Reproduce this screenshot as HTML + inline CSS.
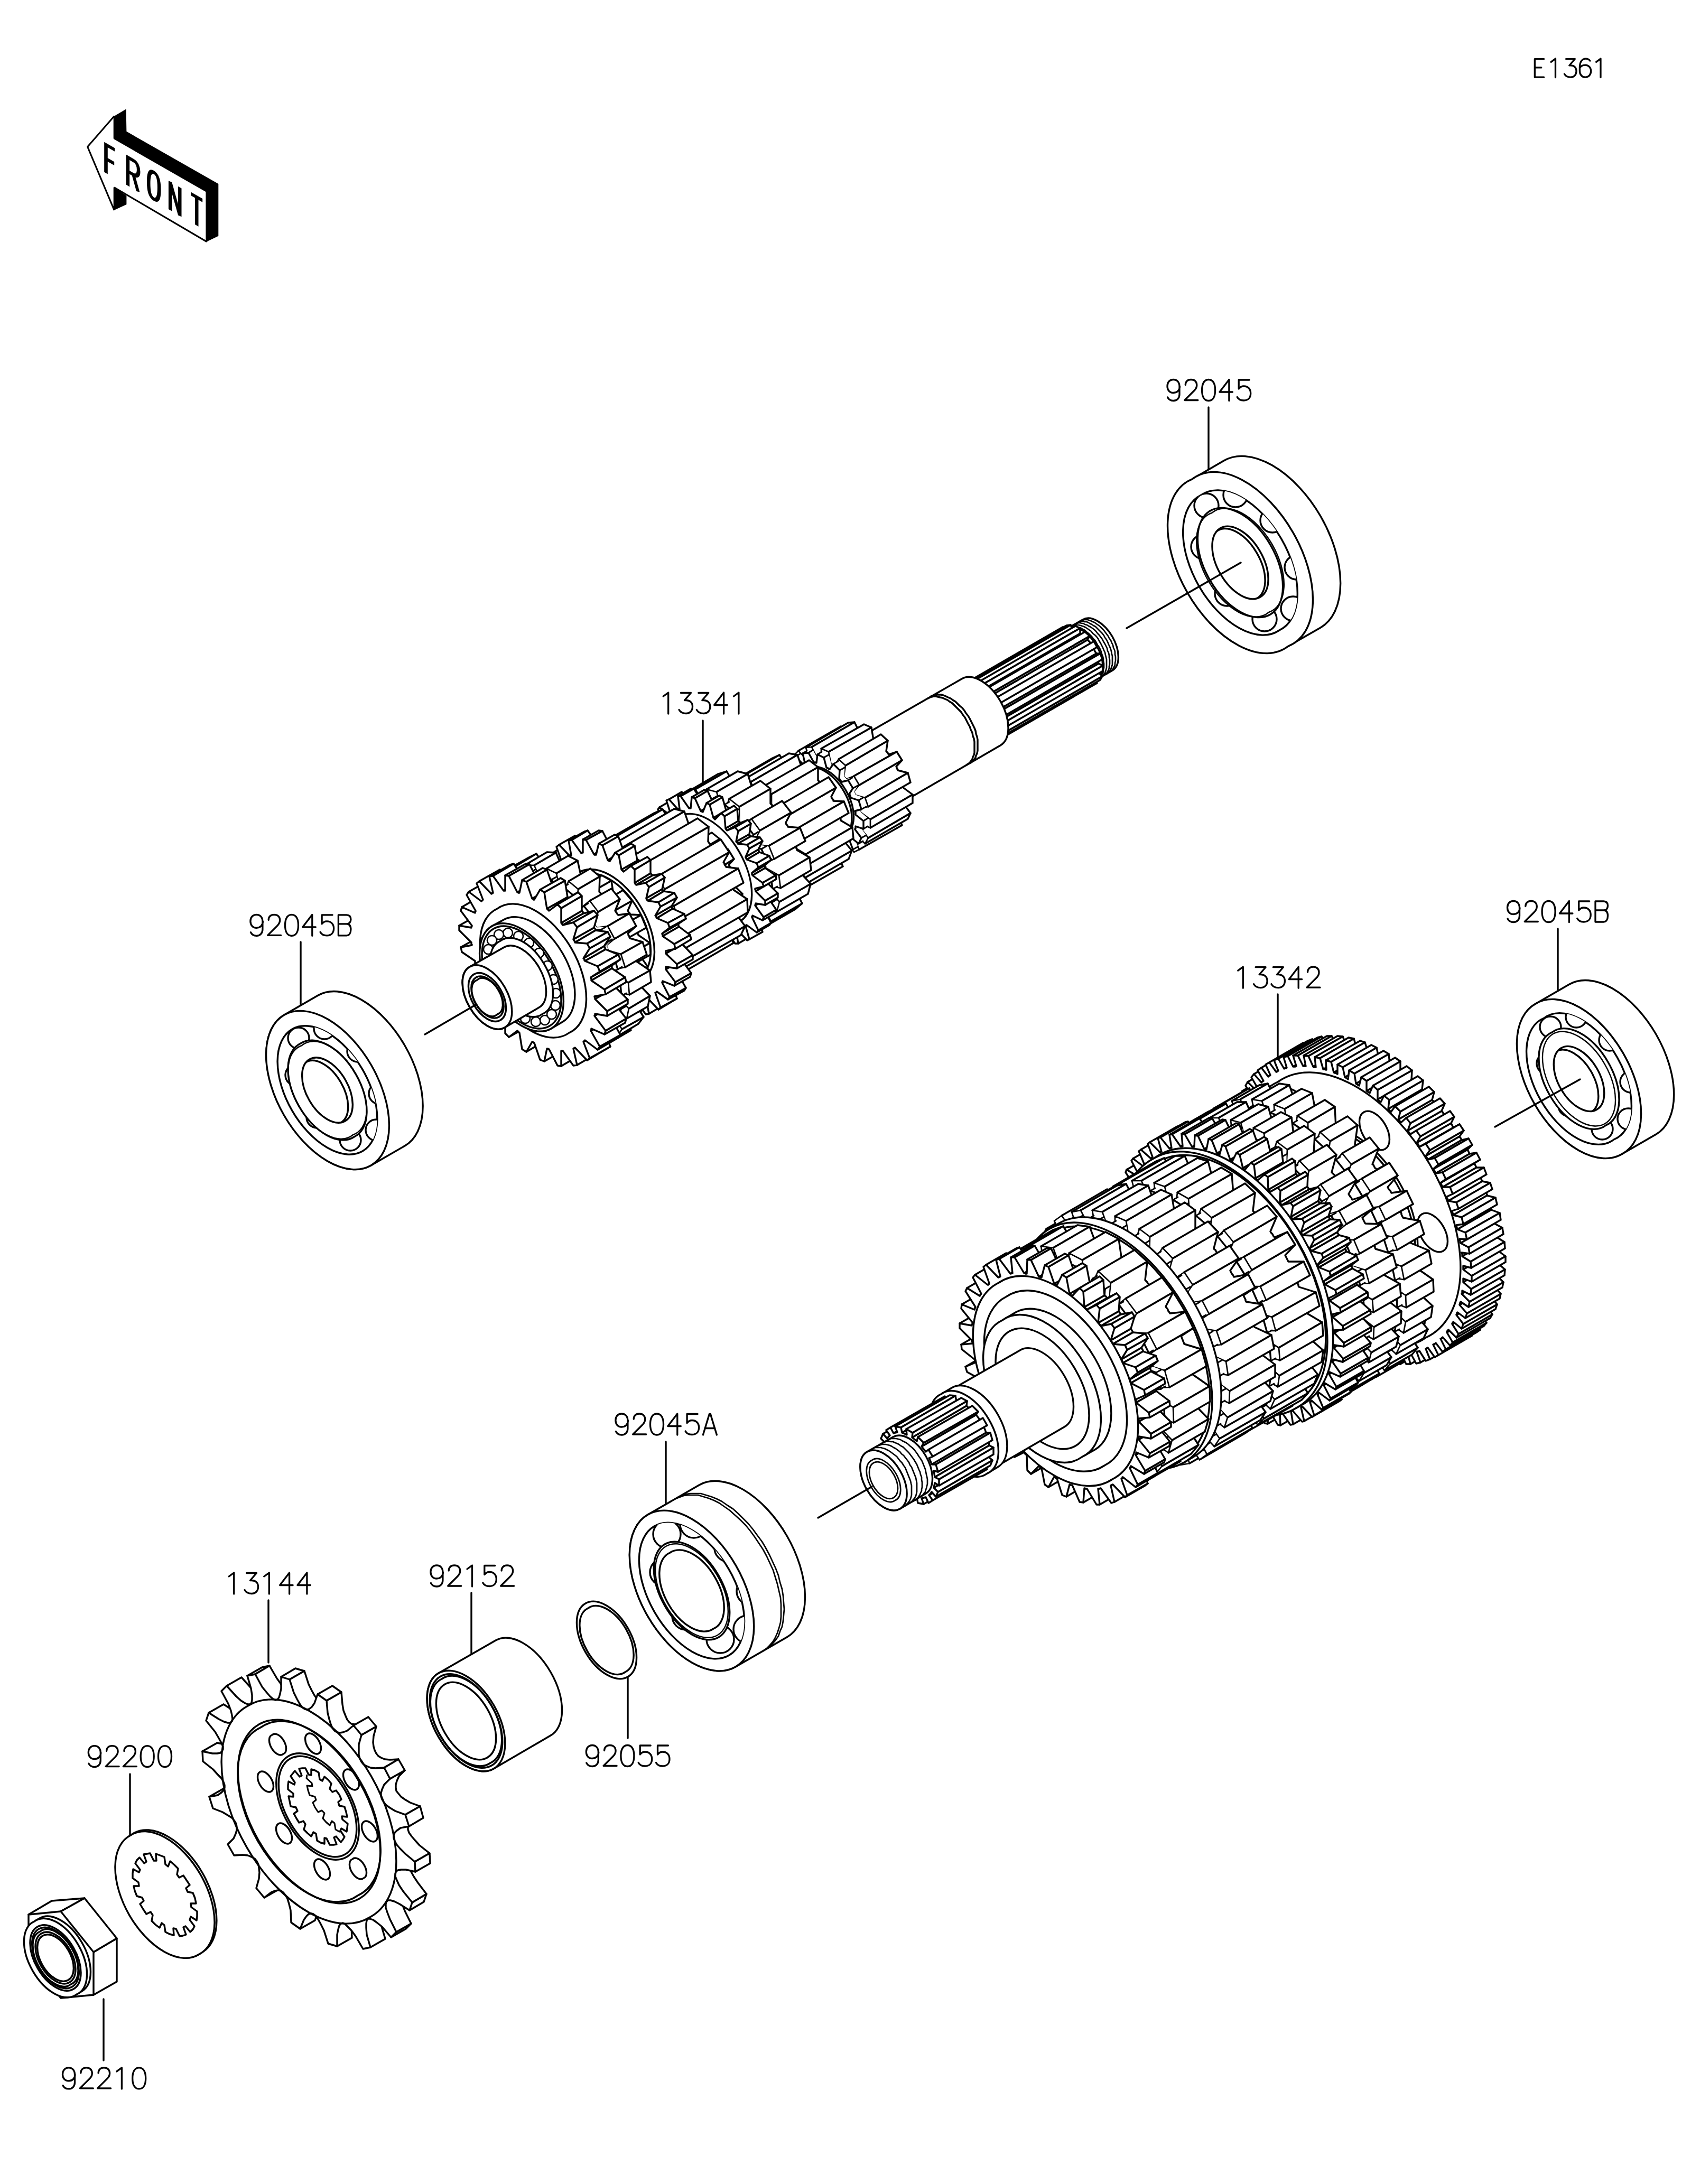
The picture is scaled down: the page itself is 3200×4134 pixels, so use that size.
<!DOCTYPE html>
<html><head><meta charset="utf-8"><title>Transmission</title>
<style>html,body{margin:0;padding:0;background:#fff;overflow:hidden}svg{display:block}svg *{fill:none;stroke:#000;stroke-width:3.4;stroke-linejoin:round;stroke-linecap:round}svg .w{fill:#fff}svg .f{fill:#fff;stroke:#fff;stroke-width:1}svg .k{fill:#000;stroke:none}</style>
</head><body><svg xmlns="http://www.w3.org/2000/svg" width="3200" height="4134" viewBox="0 0 3200 4134"><path transform="translate(2207.5,718.5)" style="stroke-width:3.30" d="M25,13 C25,20 20,25 13,25 C6,25 1.5,20 1.5,12.5 C1.5,5 6,0 13,0 C20,0 24.5,5 24.5,13 L24.5,28 C24.5,35 20,40 13,40 C8,40 4,37.5 2,33.5"/><path transform="translate(2240.8,718.5)" style="stroke-width:3.30" d="M2.5,10 C2.5,4 6.5,0 13,0 C20,0 24,4 24,10.5 C24,15 22,18 19,21 L1,39 L26,39"/><path transform="translate(2274.1,718.5)" style="stroke-width:3.30" d="M13,0 C4,0 0.5,9 0.5,20 C0.5,31 4,40 13,40 C22,40 25.5,31 25.5,20 C25.5,9 22,0 13,0 Z"/><path transform="translate(2307.4,718.5)" style="stroke-width:3.30" d="M18.5,40 L18.5,0 L0.5,23.5 L25,23.5"/><path transform="translate(2340.7,718.5)" style="stroke-width:3.30" d="M23.5,0.5 L3.5,0.5 L3.5,17.5 C6,14 9,12.5 13,12.5 C21,12.5 26,18 26,26 C26,34.5 21,39.5 13,39.5 C7,39.5 2.5,37 0.5,33"/>
<path transform="translate(1251.2,1311.0)" style="stroke-width:3.30" d="M4,7 L13.5,0 L13.5,40"/><path transform="translate(1284.5,1311.0)" style="stroke-width:3.30" d="M4,0.5 L23,0.5 L11,14.5 L14,14.5 C21,14.5 26,19 26,26.5 C26,34.5 21,39.5 13.5,39.5 C8,39.5 3,37 0.5,32.5"/><path transform="translate(1317.8,1311.0)" style="stroke-width:3.30" d="M4,0.5 L23,0.5 L11,14.5 L14,14.5 C21,14.5 26,19 26,26.5 C26,34.5 21,39.5 13.5,39.5 C8,39.5 3,37 0.5,32.5"/><path transform="translate(1351.1,1311.0)" style="stroke-width:3.30" d="M18.5,40 L18.5,0 L0.5,23.5 L25,23.5"/><path transform="translate(1384.4,1311.0)" style="stroke-width:3.30" d="M4,7 L13.5,0 L13.5,40"/>
<path transform="translate(472.4,1731.3)" style="stroke-width:3.30" d="M25,13 C25,20 20,25 13,25 C6,25 1.5,20 1.5,12.5 C1.5,5 6,0 13,0 C20,0 24.5,5 24.5,13 L24.5,28 C24.5,35 20,40 13,40 C8,40 4,37.5 2,33.5"/><path transform="translate(505.7,1731.3)" style="stroke-width:3.30" d="M2.5,10 C2.5,4 6.5,0 13,0 C20,0 24,4 24,10.5 C24,15 22,18 19,21 L1,39 L26,39"/><path transform="translate(539.0,1731.3)" style="stroke-width:3.30" d="M13,0 C4,0 0.5,9 0.5,20 C0.5,31 4,40 13,40 C22,40 25.5,31 25.5,20 C25.5,9 22,0 13,0 Z"/><path transform="translate(572.3,1731.3)" style="stroke-width:3.30" d="M18.5,40 L18.5,0 L0.5,23.5 L25,23.5"/><path transform="translate(605.6,1731.3)" style="stroke-width:3.30" d="M23.5,0.5 L3.5,0.5 L3.5,17.5 C6,14 9,12.5 13,12.5 C21,12.5 26,18 26,26 C26,34.5 21,39.5 13,39.5 C7,39.5 2.5,37 0.5,33"/><path transform="translate(638.9,1731.3)" style="stroke-width:3.30" d="M1.5,0.5 L17,0.5 C22,0.5 25,3.5 25,9 C25,14.5 22,17.5 17,17.5 L1.5,17.5 M17,17.5 C22,17.5 25,21 25,28 C25,35 22,39.5 17,39.5 L1.5,39.5 L1.5,0.5"/>
<path transform="translate(2851.0,1705.5)" style="stroke-width:3.30" d="M25,13 C25,20 20,25 13,25 C6,25 1.5,20 1.5,12.5 C1.5,5 6,0 13,0 C20,0 24.5,5 24.5,13 L24.5,28 C24.5,35 20,40 13,40 C8,40 4,37.5 2,33.5"/><path transform="translate(2884.3,1705.5)" style="stroke-width:3.30" d="M2.5,10 C2.5,4 6.5,0 13,0 C20,0 24,4 24,10.5 C24,15 22,18 19,21 L1,39 L26,39"/><path transform="translate(2917.6,1705.5)" style="stroke-width:3.30" d="M13,0 C4,0 0.5,9 0.5,20 C0.5,31 4,40 13,40 C22,40 25.5,31 25.5,20 C25.5,9 22,0 13,0 Z"/><path transform="translate(2950.9,1705.5)" style="stroke-width:3.30" d="M18.5,40 L18.5,0 L0.5,23.5 L25,23.5"/><path transform="translate(2984.2,1705.5)" style="stroke-width:3.30" d="M23.5,0.5 L3.5,0.5 L3.5,17.5 C6,14 9,12.5 13,12.5 C21,12.5 26,18 26,26 C26,34.5 21,39.5 13,39.5 C7,39.5 2.5,37 0.5,33"/><path transform="translate(3017.5,1705.5)" style="stroke-width:3.30" d="M1.5,0.5 L17,0.5 C22,0.5 25,3.5 25,9 C25,14.5 22,17.5 17,17.5 L1.5,17.5 M17,17.5 C22,17.5 25,21 25,28 C25,35 22,39.5 17,39.5 L1.5,39.5 L1.5,0.5"/>
<path transform="translate(2338.8,1830.2)" style="stroke-width:3.30" d="M4,7 L13.5,0 L13.5,40"/><path transform="translate(2372.1,1830.2)" style="stroke-width:3.30" d="M4,0.5 L23,0.5 L11,14.5 L14,14.5 C21,14.5 26,19 26,26.5 C26,34.5 21,39.5 13.5,39.5 C8,39.5 3,37 0.5,32.5"/><path transform="translate(2405.4,1830.2)" style="stroke-width:3.30" d="M4,0.5 L23,0.5 L11,14.5 L14,14.5 C21,14.5 26,19 26,26.5 C26,34.5 21,39.5 13.5,39.5 C8,39.5 3,37 0.5,32.5"/><path transform="translate(2438.7,1830.2)" style="stroke-width:3.30" d="M18.5,40 L18.5,0 L0.5,23.5 L25,23.5"/><path transform="translate(2472.0,1830.2)" style="stroke-width:3.30" d="M2.5,10 C2.5,4 6.5,0 13,0 C20,0 24,4 24,10.5 C24,15 22,18 19,21 L1,39 L26,39"/>
<path transform="translate(1163.4,2676.0)" style="stroke-width:3.30" d="M25,13 C25,20 20,25 13,25 C6,25 1.5,20 1.5,12.5 C1.5,5 6,0 13,0 C20,0 24.5,5 24.5,13 L24.5,28 C24.5,35 20,40 13,40 C8,40 4,37.5 2,33.5"/><path transform="translate(1196.7,2676.0)" style="stroke-width:3.30" d="M2.5,10 C2.5,4 6.5,0 13,0 C20,0 24,4 24,10.5 C24,15 22,18 19,21 L1,39 L26,39"/><path transform="translate(1230.0,2676.0)" style="stroke-width:3.30" d="M13,0 C4,0 0.5,9 0.5,20 C0.5,31 4,40 13,40 C22,40 25.5,31 25.5,20 C25.5,9 22,0 13,0 Z"/><path transform="translate(1263.3,2676.0)" style="stroke-width:3.30" d="M18.5,40 L18.5,0 L0.5,23.5 L25,23.5"/><path transform="translate(1296.6,2676.0)" style="stroke-width:3.30" d="M23.5,0.5 L3.5,0.5 L3.5,17.5 C6,14 9,12.5 13,12.5 C21,12.5 26,18 26,26 C26,34.5 21,39.5 13,39.5 C7,39.5 2.5,37 0.5,33"/><path transform="translate(1329.9,2676.0)" style="stroke-width:3.30" d="M0.5,40 L12.5,0.5 L14.5,0.5 L26.5,40 M4,27.5 L23,27.5"/>
<path transform="translate(813.4,2963.0)" style="stroke-width:3.30" d="M25,13 C25,20 20,25 13,25 C6,25 1.5,20 1.5,12.5 C1.5,5 6,0 13,0 C20,0 24.5,5 24.5,13 L24.5,28 C24.5,35 20,40 13,40 C8,40 4,37.5 2,33.5"/><path transform="translate(846.7,2963.0)" style="stroke-width:3.30" d="M2.5,10 C2.5,4 6.5,0 13,0 C20,0 24,4 24,10.5 C24,15 22,18 19,21 L1,39 L26,39"/><path transform="translate(880.0,2963.0)" style="stroke-width:3.30" d="M4,7 L13.5,0 L13.5,40"/><path transform="translate(913.3,2963.0)" style="stroke-width:3.30" d="M23.5,0.5 L3.5,0.5 L3.5,17.5 C6,14 9,12.5 13,12.5 C21,12.5 26,18 26,26 C26,34.5 21,39.5 13,39.5 C7,39.5 2.5,37 0.5,33"/><path transform="translate(946.6,2963.0)" style="stroke-width:3.30" d="M2.5,10 C2.5,4 6.5,0 13,0 C20,0 24,4 24,10.5 C24,15 22,18 19,21 L1,39 L26,39"/>
<path transform="translate(1107.8,3303.5)" style="stroke-width:3.30" d="M25,13 C25,20 20,25 13,25 C6,25 1.5,20 1.5,12.5 C1.5,5 6,0 13,0 C20,0 24.5,5 24.5,13 L24.5,28 C24.5,35 20,40 13,40 C8,40 4,37.5 2,33.5"/><path transform="translate(1141.1,3303.5)" style="stroke-width:3.30" d="M2.5,10 C2.5,4 6.5,0 13,0 C20,0 24,4 24,10.5 C24,15 22,18 19,21 L1,39 L26,39"/><path transform="translate(1174.4,3303.5)" style="stroke-width:3.30" d="M13,0 C4,0 0.5,9 0.5,20 C0.5,31 4,40 13,40 C22,40 25.5,31 25.5,20 C25.5,9 22,0 13,0 Z"/><path transform="translate(1207.7,3303.5)" style="stroke-width:3.30" d="M23.5,0.5 L3.5,0.5 L3.5,17.5 C6,14 9,12.5 13,12.5 C21,12.5 26,18 26,26 C26,34.5 21,39.5 13,39.5 C7,39.5 2.5,37 0.5,33"/><path transform="translate(1241.0,3303.5)" style="stroke-width:3.30" d="M23.5,0.5 L3.5,0.5 L3.5,17.5 C6,14 9,12.5 13,12.5 C21,12.5 26,18 26,26 C26,34.5 21,39.5 13,39.5 C7,39.5 2.5,37 0.5,33"/>
<path transform="translate(429.2,2977.0)" style="stroke-width:3.30" d="M4,7 L13.5,0 L13.5,40"/><path transform="translate(462.5,2977.0)" style="stroke-width:3.30" d="M4,0.5 L23,0.5 L11,14.5 L14,14.5 C21,14.5 26,19 26,26.5 C26,34.5 21,39.5 13.5,39.5 C8,39.5 3,37 0.5,32.5"/><path transform="translate(495.8,2977.0)" style="stroke-width:3.30" d="M4,7 L13.5,0 L13.5,40"/><path transform="translate(529.1,2977.0)" style="stroke-width:3.30" d="M18.5,40 L18.5,0 L0.5,23.5 L25,23.5"/><path transform="translate(562.4,2977.0)" style="stroke-width:3.30" d="M18.5,40 L18.5,0 L0.5,23.5 L25,23.5"/>
<path transform="translate(165.8,3304.6)" style="stroke-width:3.30" d="M25,13 C25,20 20,25 13,25 C6,25 1.5,20 1.5,12.5 C1.5,5 6,0 13,0 C20,0 24.5,5 24.5,13 L24.5,28 C24.5,35 20,40 13,40 C8,40 4,37.5 2,33.5"/><path transform="translate(199.1,3304.6)" style="stroke-width:3.30" d="M2.5,10 C2.5,4 6.5,0 13,0 C20,0 24,4 24,10.5 C24,15 22,18 19,21 L1,39 L26,39"/><path transform="translate(232.4,3304.6)" style="stroke-width:3.30" d="M2.5,10 C2.5,4 6.5,0 13,0 C20,0 24,4 24,10.5 C24,15 22,18 19,21 L1,39 L26,39"/><path transform="translate(265.7,3304.6)" style="stroke-width:3.30" d="M13,0 C4,0 0.5,9 0.5,20 C0.5,31 4,40 13,40 C22,40 25.5,31 25.5,20 C25.5,9 22,0 13,0 Z"/><path transform="translate(299.0,3304.6)" style="stroke-width:3.30" d="M13,0 C4,0 0.5,9 0.5,20 C0.5,31 4,40 13,40 C22,40 25.5,31 25.5,20 C25.5,9 22,0 13,0 Z"/>
<path transform="translate(117.0,3913.9)" style="stroke-width:3.30" d="M25,13 C25,20 20,25 13,25 C6,25 1.5,20 1.5,12.5 C1.5,5 6,0 13,0 C20,0 24.5,5 24.5,13 L24.5,28 C24.5,35 20,40 13,40 C8,40 4,37.5 2,33.5"/><path transform="translate(150.3,3913.9)" style="stroke-width:3.30" d="M2.5,10 C2.5,4 6.5,0 13,0 C20,0 24,4 24,10.5 C24,15 22,18 19,21 L1,39 L26,39"/><path transform="translate(183.6,3913.9)" style="stroke-width:3.30" d="M2.5,10 C2.5,4 6.5,0 13,0 C20,0 24,4 24,10.5 C24,15 22,18 19,21 L1,39 L26,39"/><path transform="translate(216.9,3913.9)" style="stroke-width:3.30" d="M4,7 L13.5,0 L13.5,40"/><path transform="translate(250.2,3913.9)" style="stroke-width:3.30" d="M13,0 C4,0 0.5,9 0.5,20 C0.5,31 4,40 13,40 C22,40 25.5,31 25.5,20 C25.5,9 22,0 13,0 Z"/>
<path transform="translate(2903.0,111.1) scale(0.8875)" style="stroke-width:3.72" d="M21,0.5 L1.5,0.5 L1.5,39.5 L21,39.5 M1.5,19 L15.5,19"/><path transform="translate(2931.5,111.1) scale(0.8875)" style="stroke-width:3.72" d="M4,7 L13.5,0 L13.5,40"/><path transform="translate(2960.0,111.1) scale(0.8875)" style="stroke-width:3.72" d="M4,0.5 L23,0.5 L11,14.5 L14,14.5 C21,14.5 26,19 26,26.5 C26,34.5 21,39.5 13.5,39.5 C8,39.5 3,37 0.5,32.5"/><path transform="translate(2988.5,111.1) scale(0.8875)" style="stroke-width:3.72" d="M23,4.5 C21,1.5 18,0 14,0 C6,0 1,7 1,19 L1,26 C1,34 6,39.5 13,39.5 C20,39.5 25,34 25,26.5 C25,19 20,13.5 13,13.5 C8,13.5 3,16 1,20"/><path transform="translate(3017.0,111.1) scale(0.8875)" style="stroke-width:3.72" d="M4,7 L13.5,0 L13.5,40"/>
<path d="M2287,771L2287,888"/>
<path d="M1330,1364L1330,1480"/>
<path d="M569,1783L569,1901"/>
<path d="M2948,1758L2948,1873"/>
<path d="M2418,1882L2418,1999"/>
<path d="M1260,2729L1260,2846"/>
<path d="M892,3015L892,3132"/>
<path d="M1188,3174L1188,3290"/>
<path d="M508,3029L508,3147"/>
<path d="M246,3358L246,3474"/>
<path d="M196,3784L196,3900"/>
<polygon class="k" points="216.2,219.8 238.6,206.6 239.4,248.8 413.3,348.1 413.3,446.7 390.9,457.4 390.9,362.2 216.2,262"/>
<polygon class="k" points="216.2,354.8 239.4,370.5 239.4,387 216.2,397.8"/>
<polygon class="w" style="stroke-width:3;stroke-linejoin:bevel" points="165.7,277.8 216.2,219.8 216.2,262 390.9,362.2 390.9,457.4 216.2,354.8 216.2,397.8"/>
<g transform="matrix(1,0.5774,0,1,197.2,268.7)"><path style="stroke-width:6.6;stroke-linejoin:miter;stroke-linecap:butt" d="M3.3,57 L3.3,3.3 L20,3.3 M3.3,30 L19,30"/><path style="stroke-width:6.6;stroke-linejoin:miter;stroke-linecap:butt" d="M44.7,57 L44.7,3.3 L56,3.3 C62,3.3 65,9 65,17 C65,25 62,30 56,30 L44.7,30 M55,30 L64,57"/><path style="stroke-width:6.6;stroke-linejoin:miter;stroke-linecap:butt" d="M94,3.3 C87,3.3 84,12 84,28 C84,46 87,54 94,54 C101,54 104,46 104,28 C104,12 101,3.3 94,3.3 Z"/><path style="stroke-width:6.6;stroke-linejoin:miter;stroke-linecap:butt" d="M125,57 L125,3.3 L143,57 L143,3.3"/><path style="stroke-width:6.6;stroke-linejoin:miter;stroke-linecap:butt" d="M164,3.3 L186,3.3 M175,3.3 L175,57"/></g>
<path class="w" d="M2256,907 A183,106 60 0 0 2256,1118 A183,106 60 0 0 2438,1223 L2499,1188 A183,106 60 0 0 2499,977 A183,106 60 0 0 2316,872 Z"/>
<path class="w" d="M2438,1223A183,106 60 1 0 2256,907A183,106 60 1 0 2438,1223Z"/>
<path class="w" d="M2421,1193A148,86 60 1 0 2273,937A148,86 60 1 0 2421,1193Z"/>
<clipPath id="c1"><path style="clip-rule:evenodd" d="M2421,1193A148,86 60 1 0 2273,937A148,86 60 1 0 2421,1193Z M2404,1163A113,66 60 1 0 2290,967A113,66 60 1 0 2404,1163Z"/></clipPath>
<g clip-path="url(#c1)"><circle class="w" cx="2454" cy="1074" r="23"/><circle class="w" cx="2408" cy="985" r="23"/><circle class="w" cx="2338" cy="937" r="23"/><circle class="w" cx="2283" cy="957" r="23"/><circle class="w" cx="2277" cy="1035" r="23"/><circle class="w" cx="2322" cy="1124" r="23"/><circle class="w" cx="2393" cy="1172" r="23"/><circle class="w" cx="2447" cy="1152" r="23"/></g>
<path class="w" d="M2404,1163A113,66 60 1 0 2290,967A113,66 60 1 0 2404,1163Z"/>
<path style="stroke-width:2.4" d="M2401,1159A109,63 60 1 0 2293,971A109,63 60 1 0 2401,1159Z"/>
<path class="w" d="M2385,1130A75,43 60 1 0 2309,1000A75,43 60 1 0 2385,1130Z"/>
<clipPath id="c2"><path d="M2385,1130A75,43 60 1 0 2309,1000A75,43 60 1 0 2385,1130Z"/></clipPath>
<g clip-path="url(#c2)"><path d="M2375,1134A74,42 60 1 0 2301,1007A74,42 60 1 0 2375,1134Z"/></g>
<path class="w" d="M538,1921 A164,95 60 0 0 538,2111 A164,95 60 0 0 702,2206 L766,2169 A164,95 60 0 0 766,1979 A164,95 60 0 0 602,1884 Z"/>
<path class="w" d="M702,2206A164,95 60 1 0 538,1921A164,95 60 1 0 702,2206Z"/>
<path class="w" d="M686,2179A133,77 60 1 0 553,1948A133,77 60 1 0 686,2179Z"/>
<clipPath id="c3"><path style="clip-rule:evenodd" d="M686,2179A133,77 60 1 0 553,1948A133,77 60 1 0 686,2179Z M670,2152A102,59 60 1 0 569,1975A102,59 60 1 0 670,2152Z"/></clipPath>
<g clip-path="url(#c3)"><circle class="w" cx="718" cy="2070" r="20"/><circle class="w" cx="677" cy="1990" r="20"/><circle class="w" cx="614" cy="1947" r="20"/><circle class="w" cx="565" cy="1965" r="20"/><circle class="w" cx="560" cy="2035" r="20"/><circle class="w" cx="600" cy="2115" r="20"/><circle class="w" cx="663" cy="2158" r="20"/><circle class="w" cx="712" cy="2139" r="20"/></g>
<path class="w" d="M670,2152A102,59 60 1 0 569,1975A102,59 60 1 0 670,2152Z"/>
<path style="stroke-width:2.4" d="M668,2148A98,56 60 1 0 571,1979A98,56 60 1 0 668,2148Z"/>
<path class="w" d="M653,2122A67,39 60 1 0 586,2005A67,39 60 1 0 653,2122Z"/>
<clipPath id="c4"><path d="M653,2122A67,39 60 1 0 586,2005A67,39 60 1 0 653,2122Z"/></clipPath>
<g clip-path="url(#c4)"><path d="M643,2126A66,38 60 1 0 577,2012A66,38 60 1 0 643,2126Z"/></g>
<path class="w" d="M2906,1900 A164,95 60 0 0 2906,2089 A164,95 60 0 0 3070,2184 L3134,2147 A164,95 60 0 0 3134,1958 A164,95 60 0 0 2970,1863 Z"/>
<path class="w" d="M3070,2184A164,95 60 1 0 2906,1900A164,95 60 1 0 3070,2184Z"/>
<path class="w" d="M3054,2157A133,77 60 1 0 2922,1927A133,77 60 1 0 3054,2157Z"/>
<clipPath id="c5"><path style="clip-rule:evenodd" d="M3054,2157A133,77 60 1 0 2922,1927A133,77 60 1 0 3054,2157Z M3039,2130A102,59 60 1 0 2937,1954A102,59 60 1 0 3039,2130Z"/></clipPath>
<g clip-path="url(#c5)"><circle class="w" cx="3086" cy="2048" r="20"/><circle class="w" cx="3046" cy="1969" r="20"/><circle class="w" cx="2983" cy="1925" r="20"/><circle class="w" cx="2934" cy="1944" r="20"/><circle class="w" cx="2928" cy="2013" r="20"/><circle class="w" cx="2969" cy="2093" r="20"/><circle class="w" cx="3032" cy="2137" r="20"/><circle class="w" cx="3081" cy="2118" r="20"/></g>
<path class="w" d="M3039,2130A102,59 60 1 0 2937,1954A102,59 60 1 0 3039,2130Z"/>
<path style="stroke-width:2.4" d="M3037,2127A98,56 60 1 0 2939,1957A98,56 60 1 0 3037,2127Z"/>
<path class="w" d="M3022,2100A67,39 60 1 0 2954,1984A67,39 60 1 0 3022,2100Z"/>
<clipPath id="c6"><path d="M3022,2100A67,39 60 1 0 2954,1984A67,39 60 1 0 3022,2100Z"/></clipPath>
<g clip-path="url(#c6)"><path d="M3011,2105A66,38 60 1 0 2945,1990A66,38 60 1 0 3011,2105Z"/></g>
<path class="w" d="M1226,2867 A166,96 60 0 0 1226,3059 A166,96 60 0 0 1392,3155 L1489,3099 A166,96 60 0 0 1489,2907 A166,96 60 0 0 1323,2811 Z"/>
<path class="w" d="M1392,3155A166,96 60 1 0 1226,2867A166,96 60 1 0 1392,3155Z"/>
<polyline style="stroke-width:2.7" points="1444,3125 1451,3120 1457,3114 1463,3107 1467,3100 1471,3091 1474,3082 1477,3071 1478,3060 1478,3049 1478,3037 1477,3024 1474,3011 1471,2998 1467,2985 1463,2972 1457,2959 1451,2946 1444,2933 1436,2921 1428,2909 1420,2898 1411,2887 1401,2877 1391,2868 1381,2859 1371,2852 1361,2845 1351,2840 1341,2836 1331,2833 1321,2830 1311,2830 1302,2830 1294,2831 1286,2834 1278,2837"/>
<polyline style="stroke-width:2.7" points="1449,3122 1456,3117 1462,3111 1468,3104 1473,3097 1476,3088 1480,3079 1482,3068 1483,3057 1484,3046 1483,3034 1482,3021 1480,3008 1476,2995 1473,2982 1468,2969 1462,2956 1456,2943 1449,2930 1442,2918 1433,2906 1425,2895 1416,2884 1406,2874 1397,2865 1387,2856 1376,2849 1366,2842 1356,2837 1346,2833 1336,2830 1326,2827 1317,2827 1307,2827 1299,2828 1291,2831 1283,2834"/>
<path class="w" d="M1380,3133A141,81 60 1 0 1238,2889A141,81 60 1 0 1380,3133Z"/>
<clipPath id="c7"><path style="clip-rule:evenodd" d="M1380,3133A141,81 60 1 0 1238,2889A141,81 60 1 0 1380,3133Z M1360,3099A101,58 60 1 0 1258,2923A101,58 60 1 0 1360,3099Z"/></clipPath>
<g clip-path="url(#c7)"><circle class="w" cx="1420" cy="3012" r="26"/><circle class="w" cx="1378" cy="2930" r="26"/><circle class="w" cx="1313" cy="2885" r="26"/><circle class="w" cx="1262" cy="2904" r="26"/><circle class="w" cx="1256" cy="2976" r="26"/><circle class="w" cx="1298" cy="3059" r="26"/><circle class="w" cx="1363" cy="3103" r="26"/><circle class="w" cx="1414" cy="3084" r="26"/></g>
<path class="w" d="M1360,3099A101,58 60 1 0 1258,2923A101,58 60 1 0 1360,3099Z"/>
<path style="stroke-width:2.4" d="M1358,3095A97,56 60 1 0 1260,2927A97,56 60 1 0 1358,3095Z"/>
<path class="w" d="M1350,3083A83,48 60 1 0 1268,2939A83,48 60 1 0 1350,3083Z"/>
<path class="w" d="M830,3167 A104,60 60 0 0 830,3288 A104,60 60 0 0 934,3348 L1042,3285 A104,60 60 0 0 1042,3165 A104,60 60 0 0 938,3105 Z"/>
<path class="w" d="M934,3348A104,60 60 1 0 830,3167A104,60 60 1 0 934,3348Z"/>
<path d="M930,3342A97,56 60 1 0 834,3173A97,56 60 1 0 930,3342Z"/>
<path d="M928,3337A92,53 60 1 0 836,3178A92,53 60 1 0 928,3337Z"/>
<path d="M922,3327A80,46 60 1 0 842,3188A80,46 60 1 0 922,3327Z"/>
<path d="M1188,3174A80,46 60 1 0 1108,3035A80,46 60 1 0 1188,3174Z"/>
<path d="M1183,3165A70,40 60 1 0 1113,3044A70,40 60 1 0 1183,3165Z"/>
<path class="w" d="M2016,1192 A56,32 60 0 0 2016,1256 A56,32 60 0 0 2072,1288 L2105,1269 A56,32 60 0 0 2105,1205 A56,32 60 0 0 2049,1173 Z"/>
<polyline style="stroke-width:2.7" points="2077,1285 2080,1284 2082,1282 2084,1279 2085,1277 2087,1274 2088,1271 2088,1267 2089,1264 2089,1260 2089,1256 2088,1251 2088,1247 2087,1243 2085,1238 2084,1234 2082,1229 2080,1225 2077,1221 2075,1217 2072,1212 2069,1209 2066,1205 2063,1202 2060,1199 2056,1196 2053,1193 2049,1191 2046,1189 2042,1188 2039,1187 2036,1186 2033,1186 2030,1186 2027,1186 2024,1187 2021,1188"/>
<polyline style="stroke-width:2.7" points="2083,1282 2085,1281 2087,1279 2089,1276 2091,1274 2092,1271 2093,1268 2094,1264 2094,1260 2094,1257 2094,1252 2094,1248 2093,1244 2092,1240 2091,1235 2089,1231 2087,1226 2085,1222 2083,1218 2080,1213 2078,1209 2075,1205 2072,1202 2068,1199 2065,1195 2062,1193 2058,1190 2055,1188 2051,1186 2048,1185 2045,1184 2041,1183 2038,1183 2035,1183 2032,1183 2029,1184 2027,1185"/>
<polyline style="stroke-width:2.7" points="2088,1279 2091,1277 2093,1275 2095,1273 2096,1271 2098,1268 2099,1264 2099,1261 2100,1257 2100,1253 2100,1249 2099,1245 2099,1241 2098,1236 2096,1232 2095,1227 2093,1223 2091,1219 2088,1214 2086,1210 2083,1206 2080,1202 2077,1199 2074,1195 2071,1192 2067,1189 2064,1187 2060,1185 2057,1183 2053,1182 2050,1180 2047,1180 2044,1179 2041,1179 2038,1180 2035,1181 2032,1182"/>
<polyline style="stroke-width:2.7" points="2094,1276 2096,1274 2098,1272 2100,1270 2102,1267 2103,1264 2104,1261 2105,1258 2105,1254 2105,1250 2105,1246 2105,1242 2104,1238 2103,1233 2102,1229 2100,1224 2098,1220 2096,1215 2094,1211 2091,1207 2089,1203 2086,1199 2083,1196 2079,1192 2076,1189 2073,1186 2069,1184 2066,1182 2062,1180 2059,1178 2056,1177 2052,1177 2049,1176 2046,1176 2043,1177 2040,1178 2038,1179"/>
<polyline style="stroke-width:2.7" points="2099,1273 2102,1271 2104,1269 2106,1267 2107,1264 2109,1261 2110,1258 2110,1255 2111,1251 2111,1247 2111,1243 2110,1239 2110,1234 2109,1230 2107,1226 2106,1221 2104,1217 2102,1212 2099,1208 2097,1204 2094,1200 2091,1196 2088,1192 2085,1189 2082,1186 2078,1183 2075,1181 2071,1178 2068,1177 2064,1175 2061,1174 2058,1173 2055,1173 2052,1173 2049,1174 2046,1174 2043,1176"/>
<path class="w" d="M2072,1288A56,32 60 1 0 2016,1192A56,32 60 1 0 2072,1288Z"/>
<polygon class="f" points="1826,1351 1819,1351 2006,1243 2013,1243"/>
<path d="M2013,1243L2006,1243M1826,1351L2013,1243M1819,1351L2006,1243"/>
<polygon class="f" points="1839,1384 1842,1377 2030,1269 2026,1276"/>
<path d="M2026,1276L2030,1269M1839,1384L2026,1276M1842,1377L2030,1269"/>
<polygon class="f" points="1822,1332 1813,1328 2000,1220 2009,1224"/>
<path d="M2009,1224L2000,1220M1822,1332L2009,1224M1813,1328L2000,1220"/>
<polygon class="f" points="1857,1399 1857,1389 2044,1281 2044,1291"/>
<path d="M2044,1291L2044,1281M1857,1399L2044,1291M1857,1389L2044,1281"/>
<polygon class="f" points="1823,1316 1815,1308 2002,1200 2010,1208"/>
<path d="M2010,1208L2002,1200M1823,1316L2010,1208M1815,1308L2002,1200"/>
<polygon class="f" points="1875,1405 1871,1394 2058,1286 2062,1297"/>
<path d="M2062,1297L2058,1286M1875,1405L2062,1297M1871,1394L2058,1286"/>
<polygon class="f" points="1831,1306 1824,1295 2011,1187 2018,1198"/>
<path d="M2018,1198L2011,1187M1831,1306L2018,1198M1824,1295L2011,1187"/>
<polygon class="f" points="1889,1401 1883,1390 2070,1282 2076,1293"/>
<path d="M2076,1293L2070,1282M1889,1401L2076,1293M1883,1390L2070,1282"/>
<polygon class="f" points="1836,1303 1833,1304 2020,1196 2023,1195"/>
<path d="M2023,1195L2020,1196M1836,1303L2023,1195"/>
<polygon class="f" points="1883,1390 1885,1389 1887,1386 2075,1278 2072,1281 2070,1282"/>
<path d="M2070,1282L2072,1281L2075,1278M1883,1390L2070,1282M1887,1386L2075,1278"/>
<polygon class="f" points="1839,1291 1831,1292 2018,1184 2026,1183"/>
<path d="M2026,1183L2018,1184M1839,1291L2026,1183M1831,1292L2018,1184"/>
<polygon class="f" points="1842,1302 1839,1291 2026,1183 2030,1194"/>
<path d="M2030,1194L2026,1183M1842,1302L2030,1194M1839,1291L2026,1183"/>
<polygon class="f" points="1895,1395 1899,1388 2086,1280 2082,1287"/>
<path d="M2082,1287L2086,1280M1895,1395L2082,1287M1899,1388L2086,1280"/>
<polygon class="f" points="1849,1304 1846,1303 1842,1302 2030,1194 2033,1195 2037,1196"/>
<path d="M2037,1196L2033,1195L2030,1194M1849,1304L2037,1196M1842,1302L2030,1194"/>
<polygon class="f" points="1899,1388 1890,1380 2078,1272 2086,1280"/>
<path d="M2086,1280L2078,1272M1899,1388L2086,1280M1890,1380L2078,1272"/>
<polygon class="f" points="1890,1380 1891,1376 1892,1373 2079,1265 2078,1268 2078,1272"/>
<path d="M2078,1272L2078,1268L2079,1265M1890,1380L2078,1272M1892,1373L2079,1265"/>
<polygon class="f" points="1864,1312 1861,1310 1857,1307 2044,1199 2048,1202 2051,1204"/>
<path d="M2051,1204L2048,1202L2044,1199M1864,1312L2051,1204M1857,1307L2044,1199"/>
<polygon class="f" points="1857,1297 1848,1293 2035,1185 2044,1189"/>
<path d="M2044,1189L2035,1185M1857,1297L2044,1189M1848,1293L2035,1185"/>
<polygon class="f" points="1857,1307 1857,1297 2044,1189 2044,1199"/>
<path d="M2044,1199L2044,1189M1857,1307L2044,1199M1857,1297L2044,1189"/>
<polygon class="f" points="1892,1364 1891,1359 1890,1355 2078,1247 2078,1251 2079,1256"/>
<path d="M2079,1256L2078,1251L2078,1247M1892,1364L2079,1256M1890,1355L2078,1247"/>
<polygon class="f" points="1900,1368 1892,1364 2079,1256 2087,1260"/>
<path d="M2087,1260L2079,1256M1900,1368L2087,1260M1892,1364L2079,1256"/>
<polygon class="f" points="1900,1378 1900,1368 2087,1260 2087,1270"/>
<path d="M2087,1270L2087,1260M1900,1378L2087,1270M1900,1368L2087,1260"/>
<polygon class="f" points="1878,1327 1875,1323 1871,1319 2058,1211 2062,1215 2065,1219"/>
<path d="M2065,1219L2062,1215L2058,1211M1878,1327L2065,1219M1871,1319L2058,1211"/>
<polygon class="f" points="1887,1345 1885,1341 1883,1336 2070,1228 2072,1233 2075,1237"/>
<path d="M2075,1237L2072,1233L2070,1228M1887,1345L2075,1237M1883,1336L2070,1228"/>
<polygon class="f" points="1871,1319 1875,1312 2062,1204 2058,1211"/>
<path d="M2058,1211L2062,1204M1871,1319L2058,1211M1875,1312L2062,1204"/>
<polygon class="f" points="1895,1345 1887,1345 2075,1237 2082,1237"/>
<path d="M2082,1237L2075,1237M1895,1345L2082,1237M1887,1345L2075,1237"/>
<polygon class="f" points="1875,1312 1866,1304 2053,1196 2062,1204"/>
<path d="M2062,1204L2053,1196M1875,1312L2062,1204M1866,1304L2053,1196"/>
<polygon class="f" points="1899,1356 1895,1345 2082,1237 2086,1248"/>
<path d="M2086,1248L2082,1237M1899,1356L2086,1248M1895,1345L2082,1237"/>
<polygon class="f" points="1889,1333 1883,1322 2070,1214 2076,1225"/>
<path d="M2076,1225L2070,1214M1889,1333L2076,1225M1883,1322L2070,1214"/>
<polygon class="w" points="1891,1376 1892,1373 1900,1378 1900,1368 1892,1364 1891,1359 1890,1355 1899,1356 1895,1345 1887,1345 1885,1341 1883,1336 1889,1333 1883,1322 1878,1327 1875,1323 1871,1319 1875,1312 1866,1304 1864,1312 1861,1310 1857,1307 1857,1297 1848,1293 1849,1304 1846,1303 1842,1302 1839,1291 1831,1292 1836,1303 1833,1304 1831,1306 1824,1295 1819,1301 1826,1310 1825,1313 1823,1316 1815,1308 1813,1318 1822,1323 1821,1328 1822,1332 1813,1328 1815,1340 1823,1341 1825,1346 1826,1351 1819,1351 1824,1363 1831,1360 1833,1365 1836,1369 1831,1374 1839,1384 1842,1377 1846,1381 1849,1384 1848,1392 1857,1399 1857,1389 1861,1391 1864,1392 1866,1403 1875,1405 1871,1394 1875,1394 1878,1393 1883,1404 1889,1401 1883,1390 1885,1389 1887,1386 1895,1395 1899,1388 1890,1380"/>
<path class="w" d="M1613,1404 A73,42 60 0 0 1613,1489 A73,42 60 0 0 1686,1531 L1893,1411 A73,42 60 0 0 1893,1327 A73,42 60 0 0 1820,1285 Z"/>
<polyline points="1835,1445 1838,1443 1841,1440 1844,1437 1846,1434 1847,1430 1849,1426 1850,1421 1850,1416 1850,1411 1850,1406 1850,1400 1849,1395 1847,1389 1846,1383 1844,1378 1841,1372 1838,1366 1835,1360 1832,1355 1828,1350 1825,1345 1821,1340 1816,1336 1812,1332 1808,1328 1803,1325 1799,1322 1794,1320 1790,1318 1785,1316 1781,1315 1777,1315 1773,1315 1769,1316 1766,1317 1762,1318"/>
<polyline points="1829,1448 1832,1446 1835,1444 1837,1441 1840,1437 1841,1433 1843,1429 1844,1425 1844,1420 1844,1415 1844,1409 1844,1404 1843,1398 1841,1393 1840,1387 1837,1381 1835,1375 1832,1370 1829,1364 1826,1358 1822,1353 1819,1348 1815,1344 1810,1339 1806,1335 1802,1331 1797,1328 1793,1325 1788,1323 1784,1321 1779,1320 1775,1319 1771,1318 1767,1318 1763,1319 1760,1320 1756,1322"/>
<polygon class="f" points="1516,1514 1503,1522 1583,1475 1597,1468"/>
<path d="M1597,1468L1583,1475M1503,1522L1583,1475"/>
<polygon class="f" points="1536,1576 1548,1566 1629,1520 1617,1530"/>
<path d="M1617,1530L1629,1520M1536,1576L1617,1530"/>
<polygon class="f" points="1510,1483 1492,1480 1573,1434 1591,1436"/>
<path d="M1591,1436L1573,1434M1492,1480L1573,1434"/>
<polygon class="f" points="1568,1603 1573,1584 1653,1538 1649,1557"/>
<path d="M1649,1557L1653,1538M1568,1603L1649,1557"/>
<polygon class="f" points="1514,1457 1495,1445 1575,1398 1595,1411"/>
<path d="M1595,1411L1575,1398M1495,1445L1575,1398"/>
<polygon class="f" points="1600,1614 1597,1591 1677,1544 1680,1568"/>
<path d="M1680,1568L1677,1544M1600,1614L1680,1568"/>
<polygon class="f" points="1532,1439 1531,1439 1530,1440 1530,1440 1529,1440 1528,1441 1528,1441 1511,1421 1591,1375 1608,1395 1609,1394 1609,1394 1610,1394 1611,1393 1611,1393 1612,1393"/>
<path d="M1612,1393L1611,1393L1611,1393L1610,1394L1609,1394L1609,1394L1608,1395L1591,1375M1511,1421L1591,1375"/>
<polygon class="f" points="1626,1608 1616,1584 1616,1583 1617,1583 1617,1582 1618,1582 1618,1581 1619,1580 1699,1534 1699,1534 1698,1535 1698,1536 1697,1536 1697,1537 1696,1537 1707,1562"/>
<path d="M1707,1562L1696,1537L1697,1537L1697,1536L1698,1536L1698,1535L1699,1534L1699,1534M1626,1608L1707,1562"/>
<polygon class="f" points="1536,1414 1525,1415 1605,1368 1617,1367"/>
<path d="M1617,1367L1605,1368M1536,1414L1617,1367M1525,1415L1605,1368"/>
<polygon class="f" points="1554,1439 1553,1439 1552,1438 1551,1438 1550,1438 1549,1438 1548,1438 1536,1414 1617,1367 1629,1391 1630,1391 1631,1392 1631,1392 1632,1392 1633,1392 1634,1392"/>
<path d="M1634,1392L1633,1392L1632,1392L1631,1392L1631,1392L1630,1391L1629,1391L1617,1367M1536,1414L1617,1367"/>
<polygon class="f" points="1637,1597 1643,1586 1723,1539 1718,1550"/>
<path d="M1718,1550L1723,1539M1637,1597L1718,1550M1643,1586L1723,1539"/>
<polygon class="f" points="1643,1586 1627,1565 1627,1564 1627,1563 1627,1562 1628,1561 1628,1560 1628,1559 1708,1512 1708,1513 1708,1514 1708,1515 1708,1516 1708,1517 1707,1518 1723,1539"/>
<path d="M1723,1539L1707,1518L1708,1517L1708,1516L1708,1515L1708,1514L1708,1513L1708,1512M1643,1586L1723,1539"/>
<polygon class="f" points="1578,1451 1577,1451 1576,1450 1576,1449 1575,1449 1574,1448 1573,1448 1568,1423 1649,1377 1653,1401 1654,1402 1655,1402 1656,1403 1657,1404 1658,1404 1659,1405"/>
<path d="M1659,1405L1658,1404L1657,1404L1656,1403L1655,1402L1654,1402L1653,1401L1649,1377M1568,1423L1649,1377"/>
<polygon class="f" points="1568,1423 1554,1417 1635,1371 1649,1377"/>
<path d="M1649,1377L1635,1371M1568,1423L1649,1377M1554,1417L1635,1371"/>
<polygon class="f" points="1647,1551 1628,1537 1628,1536 1628,1534 1627,1533 1627,1532 1627,1531 1627,1530 1707,1483 1708,1484 1708,1486 1708,1487 1708,1488 1708,1489 1708,1490 1727,1504"/>
<path d="M1727,1504L1708,1490L1708,1489L1708,1488L1708,1487L1708,1486L1708,1484L1707,1483M1647,1551L1727,1504"/>
<polygon class="f" points="1647,1567 1647,1551 1727,1504 1727,1520"/>
<path d="M1727,1520L1727,1504M1647,1567L1727,1520M1647,1551L1727,1504"/>
<polygon class="f" points="1616,1469 1601,1475 1601,1474 1600,1473 1599,1472 1598,1471 1597,1470 1597,1469 1600,1449 1680,1402 1677,1422 1678,1423 1679,1424 1680,1425 1680,1426 1681,1427 1682,1428 1697,1423"/>
<path d="M1697,1423L1682,1428L1681,1427L1680,1426L1680,1425L1679,1424L1678,1423L1677,1422L1680,1402M1616,1469L1697,1423M1600,1449L1680,1402"/>
<polygon class="f" points="1637,1510 1619,1505 1618,1504 1618,1503 1617,1501 1617,1500 1616,1499 1616,1498 1626,1486 1707,1439 1696,1451 1697,1453 1697,1454 1698,1455 1698,1456 1699,1457 1699,1458 1718,1463"/>
<path d="M1718,1463L1699,1458L1699,1457L1698,1456L1698,1455L1697,1454L1697,1453L1696,1451L1707,1439M1637,1510L1718,1463M1626,1486L1707,1439"/>
<polygon class="f" points="1600,1449 1587,1437 1667,1390 1680,1402"/>
<path d="M1680,1402L1667,1390M1600,1449L1680,1402M1587,1437L1667,1390"/>
<polygon class="f" points="1643,1527 1637,1510 1718,1463 1723,1481"/>
<path d="M1723,1481L1718,1463M1643,1527L1723,1481M1637,1510L1718,1463"/>
<polygon class="f" points="1626,1486 1616,1469 1697,1423 1707,1439"/>
<path d="M1707,1439L1697,1423M1626,1486L1707,1439M1616,1469L1697,1423"/>
<polygon class="w" style="stroke-width:2.7" points="1627,1562 1628,1561 1628,1560 1628,1559 1647,1567 1647,1551 1628,1537 1628,1536 1628,1534 1627,1533 1627,1532 1627,1531 1627,1530 1643,1527 1637,1510 1619,1505 1618,1504 1618,1503 1617,1501 1617,1500 1616,1499 1616,1498 1626,1486 1616,1469 1601,1475 1601,1474 1600,1473 1599,1472 1598,1471 1597,1470 1597,1469 1600,1449 1587,1437 1578,1451 1577,1451 1576,1450 1576,1449 1575,1449 1574,1448 1573,1448 1568,1423 1554,1417 1554,1439 1553,1439 1552,1438 1551,1438 1550,1438 1549,1438 1548,1438 1536,1414 1525,1415 1532,1439 1531,1439 1530,1440 1530,1440 1529,1440 1528,1441 1528,1441 1511,1421 1503,1429 1516,1453 1516,1453 1515,1454 1515,1455 1515,1456 1514,1456 1514,1457 1495,1445 1492,1459 1510,1477 1510,1478 1510,1479 1510,1480 1510,1481 1510,1482 1510,1483 1492,1480 1495,1497 1514,1507 1514,1508 1515,1509 1515,1511 1515,1512 1516,1513 1516,1514 1503,1522 1511,1539 1528,1539 1528,1540 1529,1541 1530,1542 1530,1543 1531,1544 1532,1545 1525,1562 1536,1576 1548,1566 1549,1567 1550,1568 1551,1569 1552,1569 1553,1570 1554,1571 1554,1594 1568,1603 1573,1584 1574,1585 1575,1585 1576,1586 1576,1586 1577,1587 1578,1587 1587,1612 1600,1614 1597,1591 1597,1591 1598,1591 1599,1591 1600,1590 1601,1590 1601,1590 1616,1613 1626,1608 1616,1584 1616,1583 1617,1583 1617,1582 1618,1582 1618,1581 1619,1580 1637,1597 1643,1586 1627,1565 1627,1564 1627,1563"/>
<polygon class="f" points="1530,1578 1540,1571 1548,1566 1538,1573"/>
<path style="stroke-width:2.7" d="M1530,1578L1538,1573"/>
<polygon class="f" points="1501,1488 1488,1487 1497,1482 1510,1483"/>
<path style="stroke-width:2.7" d="M1488,1487L1497,1482"/>
<polygon class="f" points="1559,1603 1564,1589 1573,1584 1568,1598"/>
<path style="stroke-width:2.7" d="M1559,1603L1568,1598"/>
<polygon class="f" points="1505,1462 1491,1454 1499,1449 1514,1457"/>
<path style="stroke-width:2.7" d="M1491,1454L1499,1449"/>
<polygon class="f" points="1589,1613 1588,1596 1597,1591 1598,1608"/>
<path style="stroke-width:2.7" d="M1589,1613L1598,1608"/>
<polygon class="f" points="1523,1444 1522,1444 1522,1445 1521,1445 1520,1445 1520,1446 1519,1446 1505,1432 1514,1427 1528,1441 1528,1441 1529,1440 1530,1440 1530,1440 1531,1439 1532,1439"/>
<path style="stroke-width:2.7" d="M1505,1432L1514,1427"/>
<polygon class="f" points="1614,1608 1607,1589 1608,1588 1608,1588 1609,1587 1609,1587 1610,1586 1610,1585 1619,1580 1618,1581 1618,1582 1617,1582 1617,1583 1616,1583 1616,1584 1623,1603"/>
<path style="stroke-width:2.7" d="M1614,1608L1623,1603"/>
<polygon class="f" points="1530,1425 1519,1426 1527,1421 1538,1420"/>
<path style="stroke-width:2.7" d="M1530,1425L1538,1420M1519,1426L1527,1421"/>
<polygon class="f" points="1625,1597 1630,1586 1639,1581 1633,1592"/>
<path style="stroke-width:2.7" d="M1625,1597L1633,1592M1630,1586L1639,1581"/>
<polygon class="f" points="1545,1444 1544,1444 1543,1443 1542,1443 1541,1443 1541,1443 1540,1443 1530,1425 1538,1420 1548,1438 1549,1438 1550,1438 1551,1438 1552,1438 1553,1439 1554,1439"/>
<path style="stroke-width:2.7" d="M1530,1425L1538,1420"/>
<polygon class="f" points="1630,1586 1618,1570 1618,1569 1619,1568 1619,1567 1619,1566 1619,1565 1619,1564 1628,1559 1628,1560 1628,1561 1627,1562 1627,1563 1627,1564 1627,1565 1639,1581"/>
<path style="stroke-width:2.7" d="M1630,1586L1639,1581"/>
<polygon class="f" points="1559,1434 1547,1428 1555,1423 1568,1429"/>
<path style="stroke-width:2.7" d="M1559,1434L1568,1429M1547,1428L1555,1423"/>
<polygon class="f" points="1570,1456 1569,1456 1568,1455 1567,1454 1566,1454 1565,1453 1564,1453 1559,1434 1568,1429 1573,1448 1574,1448 1575,1449 1576,1449 1576,1450 1577,1451 1578,1451"/>
<path style="stroke-width:2.7" d="M1559,1434L1568,1429"/>
<polygon class="f" points="1634,1554 1619,1542 1619,1541 1619,1539 1619,1538 1619,1537 1618,1536 1618,1535 1627,1530 1627,1531 1627,1532 1627,1533 1628,1534 1628,1536 1628,1537 1642,1549"/>
<path style="stroke-width:2.7" d="M1634,1554L1642,1549"/>
<polygon class="f" points="1634,1569 1634,1554 1642,1549 1642,1564"/>
<path style="stroke-width:2.7" d="M1634,1569L1642,1564M1634,1554L1642,1549"/>
<polygon class="f" points="1605,1477 1593,1480 1592,1479 1591,1478 1590,1477 1590,1476 1589,1475 1588,1474 1589,1458 1598,1453 1597,1469 1597,1470 1598,1471 1599,1472 1600,1473 1601,1474 1601,1475 1613,1472"/>
<path style="stroke-width:2.7" d="M1605,1477L1613,1472M1589,1458L1598,1453"/>
<polygon class="f" points="1625,1515 1610,1510 1610,1509 1609,1508 1609,1506 1608,1505 1608,1504 1607,1503 1614,1492 1623,1487 1616,1498 1616,1499 1617,1500 1617,1501 1618,1503 1618,1504 1619,1505 1633,1510"/>
<path style="stroke-width:2.7" d="M1625,1515L1633,1510M1614,1492L1623,1487"/>
<polygon class="f" points="1589,1458 1577,1446 1586,1441 1598,1453"/>
<path style="stroke-width:2.7" d="M1589,1458L1598,1453M1577,1446L1586,1441"/>
<polygon class="f" points="1630,1532 1625,1515 1633,1510 1639,1527"/>
<path style="stroke-width:2.7" d="M1630,1532L1639,1527M1625,1515L1633,1510"/>
<polygon class="f" points="1614,1492 1605,1477 1613,1472 1623,1487"/>
<path style="stroke-width:2.7" d="M1614,1492L1623,1487M1605,1477L1613,1472"/>
<polygon class="w" points="1619,1567 1619,1566 1619,1565 1619,1564 1634,1569 1634,1554 1619,1542 1619,1541 1619,1539 1619,1538 1619,1537 1618,1536 1618,1535 1630,1532 1625,1515 1610,1510 1610,1509 1609,1508 1609,1506 1608,1505 1608,1504 1607,1503 1614,1492 1605,1477 1593,1480 1592,1479 1591,1478 1590,1477 1590,1476 1589,1475 1588,1474 1589,1458 1577,1446 1570,1456 1569,1456 1568,1455 1567,1454 1566,1454 1565,1453 1564,1453 1559,1434 1547,1428 1545,1444 1544,1444 1543,1443 1542,1443 1541,1443 1541,1443 1540,1443 1530,1425 1519,1426 1523,1444 1522,1444 1522,1445 1521,1445 1520,1445 1520,1446 1519,1446 1505,1432 1498,1439 1508,1458 1507,1458 1507,1459 1506,1460 1506,1461 1506,1461 1505,1462 1491,1454 1488,1467 1501,1482 1501,1483 1501,1484 1501,1485 1501,1486 1501,1487 1501,1488 1488,1487 1491,1503 1505,1512 1506,1513 1506,1514 1506,1516 1507,1517 1507,1518 1508,1519 1498,1526 1505,1543 1519,1544 1520,1545 1520,1546 1521,1547 1522,1548 1522,1549 1523,1550 1519,1564 1530,1578 1540,1571 1541,1572 1541,1573 1542,1574 1543,1574 1544,1575 1545,1576 1547,1594 1559,1603 1564,1589 1565,1590 1566,1590 1567,1591 1568,1591 1569,1592 1570,1592 1577,1611 1589,1613 1588,1596 1589,1596 1590,1596 1590,1596 1591,1595 1592,1595 1593,1595 1605,1612 1614,1608 1607,1589 1608,1588 1608,1588 1609,1587 1609,1587 1610,1586 1610,1585 1625,1597 1630,1586 1618,1570 1618,1569 1619,1568"/>
<path d="M1597,1581A72,42 60 1 0 1525,1457A72,42 60 1 0 1597,1581Z"/>
<path class="w" d="M1492,1474 A73,42 60 0 0 1492,1559 A73,42 60 0 0 1565,1601 L1597,1582 A73,42 60 0 0 1597,1498 A73,42 60 0 0 1524,1456 Z"/>
<path class="w" d="M1565,1601A73,42 60 1 0 1492,1474A73,42 60 1 0 1565,1601Z"/>
<polygon class="f" points="1401,1655 1415,1643 1504,1592 1489,1604"/>
<path d="M1489,1604L1504,1592M1401,1655L1489,1604"/>
<polygon class="f" points="1380,1581 1363,1587 1451,1536 1468,1530"/>
<path d="M1468,1530L1451,1536M1363,1587L1451,1536"/>
<polygon class="f" points="1438,1687 1444,1666 1532,1615 1527,1636"/>
<path d="M1527,1636L1532,1615M1438,1687L1527,1636"/>
<polygon class="f" points="1375,1545 1354,1539 1442,1488 1464,1494"/>
<path d="M1464,1494L1442,1488M1354,1539L1442,1488"/>
<polygon class="f" points="1476,1700 1472,1672 1560,1621 1564,1649"/>
<path d="M1564,1649L1560,1621M1476,1700L1564,1649"/>
<polygon class="f" points="1384,1518 1363,1500 1451,1449 1472,1467"/>
<path d="M1472,1467L1451,1449M1363,1500L1451,1449"/>
<polygon class="f" points="1387,1480 1374,1486 1462,1435 1475,1429"/>
<path d="M1475,1429L1462,1435M1387,1480L1475,1429M1374,1486L1462,1435"/>
<polygon class="f" points="1506,1691 1493,1663 1494,1662 1494,1661 1495,1661 1495,1660 1496,1659 1496,1659 1585,1608 1584,1608 1584,1609 1583,1610 1583,1610 1582,1611 1582,1612 1595,1640"/>
<path d="M1595,1640L1582,1612L1582,1611L1583,1610L1583,1610L1584,1609L1584,1608L1585,1608M1506,1691L1595,1640"/>
<polygon class="f" points="1409,1505 1408,1505 1407,1505 1406,1505 1406,1505 1405,1505 1404,1505 1387,1480 1475,1429 1492,1454 1493,1454 1494,1454 1495,1454 1496,1454 1496,1454 1497,1454"/>
<path d="M1497,1454L1496,1454L1496,1454L1495,1454L1494,1454L1493,1454L1492,1454L1475,1429M1387,1480L1475,1429"/>
<polygon class="f" points="1518,1677 1524,1661 1612,1610 1606,1626"/>
<path d="M1606,1626L1612,1610M1518,1677L1606,1626M1524,1661L1612,1610"/>
<polygon class="f" points="1421,1480 1405,1477 1493,1426 1509,1429"/>
<path d="M1509,1429L1493,1426M1421,1480L1509,1429M1405,1477L1493,1426"/>
<polygon class="f" points="1524,1661 1504,1638 1505,1637 1505,1636 1505,1635 1505,1634 1505,1633 1505,1632 1593,1581 1593,1582 1593,1583 1593,1584 1593,1585 1593,1586 1593,1587 1612,1610"/>
<path d="M1612,1610L1593,1587L1593,1586L1593,1585L1593,1584L1593,1583L1593,1582L1593,1581M1524,1661L1612,1610"/>
<polygon class="f" points="1437,1511 1436,1511 1435,1510 1434,1510 1433,1510 1432,1509 1431,1509 1421,1480 1509,1429 1519,1458 1520,1458 1521,1459 1522,1459 1523,1459 1524,1460 1525,1460"/>
<path d="M1525,1460L1524,1460L1523,1459L1522,1459L1521,1459L1520,1458L1519,1458L1509,1429M1421,1480L1509,1429"/>
<polygon class="f" points="1525,1617 1503,1604 1503,1603 1502,1601 1502,1600 1502,1599 1501,1598 1501,1596 1589,1545 1590,1547 1590,1548 1590,1549 1591,1550 1591,1552 1591,1553 1613,1566"/>
<path d="M1613,1566L1591,1553L1591,1552L1591,1550L1590,1549L1590,1548L1590,1547L1589,1545M1525,1617L1613,1566"/>
<polygon class="f" points="1465,1534 1464,1533 1463,1532 1463,1531 1462,1530 1461,1529 1460,1528 1460,1503 1548,1452 1548,1477 1549,1478 1550,1479 1551,1480 1552,1481 1553,1482 1554,1483"/>
<path d="M1554,1483L1553,1482L1552,1481L1551,1480L1550,1479L1549,1478L1548,1477L1548,1452M1460,1503L1548,1452"/>
<polygon class="f" points="1527,1638 1525,1617 1613,1566 1615,1587"/>
<path d="M1615,1587L1613,1566M1527,1638L1615,1587M1525,1617L1613,1566"/>
<polygon class="f" points="1460,1503 1442,1490 1531,1439 1548,1452"/>
<path d="M1548,1452L1531,1439M1460,1503L1548,1452M1442,1490L1531,1439"/>
<polygon class="f" points="1509,1568 1489,1567 1488,1565 1488,1564 1487,1563 1486,1562 1485,1561 1485,1559 1494,1542 1582,1491 1573,1508 1574,1510 1574,1511 1575,1512 1576,1513 1577,1514 1577,1516 1597,1517"/>
<path d="M1597,1517L1577,1516L1577,1514L1576,1513L1575,1512L1574,1511L1574,1510L1573,1508L1582,1491M1509,1568L1597,1517M1494,1542L1582,1491"/>
<polygon class="f" points="1518,1590 1509,1568 1597,1517 1606,1539"/>
<path d="M1606,1539L1597,1517M1518,1590L1606,1539M1509,1568L1597,1517"/>
<polygon class="f" points="1494,1542 1480,1522 1568,1471 1582,1491"/>
<path d="M1582,1491L1568,1471M1494,1542L1582,1491M1480,1522L1568,1471"/>
<polygon class="w" style="stroke-width:2.7" points="1505,1635 1505,1634 1505,1633 1505,1632 1527,1638 1525,1617 1503,1604 1503,1603 1502,1601 1502,1600 1502,1599 1501,1598 1501,1596 1518,1590 1509,1568 1489,1567 1488,1565 1488,1564 1487,1563 1486,1562 1485,1561 1485,1559 1494,1542 1480,1522 1465,1534 1464,1533 1463,1532 1463,1531 1462,1530 1461,1529 1460,1528 1460,1503 1442,1490 1437,1511 1436,1511 1435,1510 1434,1510 1433,1510 1432,1509 1431,1509 1421,1480 1405,1477 1409,1505 1408,1505 1407,1505 1406,1505 1406,1505 1405,1505 1404,1505 1387,1480 1374,1486 1387,1514 1387,1515 1386,1516 1386,1516 1385,1517 1385,1518 1384,1518 1363,1500 1357,1516 1376,1539 1376,1540 1376,1541 1376,1542 1376,1543 1376,1544 1375,1545 1354,1539 1356,1560 1378,1573 1378,1574 1378,1576 1379,1577 1379,1578 1379,1579 1380,1581 1363,1587 1372,1609 1392,1610 1392,1612 1393,1613 1394,1614 1394,1615 1395,1616 1396,1618 1386,1635 1401,1655 1415,1643 1416,1644 1417,1645 1418,1646 1419,1647 1420,1648 1421,1649 1421,1674 1438,1687 1444,1666 1445,1666 1446,1667 1447,1667 1448,1667 1449,1668 1450,1668 1459,1697 1476,1700 1472,1672 1473,1672 1473,1672 1474,1672 1475,1672 1476,1672 1477,1672 1494,1697 1506,1691 1493,1663 1494,1662 1494,1661 1495,1661 1495,1660 1496,1659 1496,1659 1518,1677 1524,1661 1504,1638 1505,1637 1505,1636"/>
<polygon class="f" points="1395,1655 1407,1648 1415,1643 1403,1650"/>
<path style="stroke-width:2.7" d="M1395,1655L1403,1650"/>
<polygon class="f" points="1371,1586 1359,1592 1367,1587 1380,1581"/>
<path style="stroke-width:2.7" d="M1359,1592L1367,1587"/>
<polygon class="f" points="1430,1686 1435,1671 1444,1666 1438,1681"/>
<path style="stroke-width:2.7" d="M1430,1686L1438,1681"/>
<polygon class="f" points="1367,1550 1351,1547 1359,1542 1375,1545"/>
<path style="stroke-width:2.7" d="M1351,1547L1359,1542"/>
<polygon class="f" points="1465,1698 1463,1677 1472,1672 1474,1693"/>
<path style="stroke-width:2.7" d="M1465,1698L1474,1693"/>
<polygon class="f" points="1375,1523 1359,1511 1367,1506 1384,1518"/>
<path style="stroke-width:2.7" d="M1359,1511L1367,1506"/>
<polygon class="f" points="1381,1491 1370,1498 1378,1493 1390,1486"/>
<path style="stroke-width:2.7" d="M1381,1491L1390,1486M1370,1498L1378,1493"/>
<polygon class="f" points="1494,1689 1485,1668 1485,1667 1486,1666 1486,1666 1487,1665 1487,1664 1488,1664 1496,1659 1496,1659 1495,1660 1495,1661 1494,1661 1494,1662 1493,1663 1502,1684"/>
<path style="stroke-width:2.7" d="M1494,1689L1502,1684"/>
<polygon class="f" points="1400,1510 1399,1510 1399,1510 1398,1510 1397,1510 1396,1510 1395,1510 1381,1491 1390,1486 1404,1505 1405,1505 1406,1505 1406,1505 1407,1505 1408,1505 1409,1505"/>
<path style="stroke-width:2.7" d="M1381,1491L1390,1486"/>
<polygon class="f" points="1505,1676 1510,1662 1519,1657 1513,1671"/>
<path style="stroke-width:2.7" d="M1505,1676L1513,1671M1510,1662L1519,1657"/>
<polygon class="f" points="1414,1492 1398,1489 1407,1484 1422,1487"/>
<path style="stroke-width:2.7" d="M1414,1492L1422,1487M1398,1489L1407,1484"/>
<polygon class="f" points="1510,1662 1496,1643 1496,1642 1496,1641 1496,1640 1496,1639 1496,1638 1496,1637 1505,1632 1505,1633 1505,1634 1505,1635 1505,1636 1505,1637 1504,1638 1519,1657"/>
<path style="stroke-width:2.7" d="M1510,1662L1519,1657"/>
<polygon class="f" points="1428,1516 1427,1516 1426,1515 1425,1515 1424,1515 1423,1514 1422,1514 1414,1492 1422,1487 1431,1509 1432,1509 1433,1510 1434,1510 1435,1510 1436,1511 1437,1511"/>
<path style="stroke-width:2.7" d="M1414,1492L1422,1487"/>
<polygon class="f" points="1511,1621 1494,1609 1494,1608 1494,1606 1493,1605 1493,1604 1493,1603 1492,1601 1501,1596 1501,1598 1502,1599 1502,1600 1502,1601 1503,1603 1503,1604 1520,1616"/>
<path style="stroke-width:2.7" d="M1511,1621L1520,1616"/>
<polygon class="f" points="1457,1539 1456,1538 1455,1537 1454,1536 1453,1535 1452,1534 1451,1533 1450,1513 1458,1508 1460,1528 1461,1529 1462,1530 1463,1531 1463,1532 1464,1533 1465,1534"/>
<path style="stroke-width:2.7" d="M1450,1513L1458,1508"/>
<polygon class="f" points="1513,1640 1511,1621 1520,1616 1521,1635"/>
<path style="stroke-width:2.7" d="M1513,1640L1521,1635M1511,1621L1520,1616"/>
<polygon class="f" points="1450,1513 1434,1501 1442,1496 1458,1508"/>
<path style="stroke-width:2.7" d="M1450,1513L1458,1508M1434,1501L1442,1496"/>
<polygon class="f" points="1496,1574 1480,1572 1480,1570 1479,1569 1478,1568 1477,1567 1477,1566 1476,1564 1482,1550 1491,1545 1485,1559 1485,1561 1486,1562 1487,1563 1488,1564 1488,1565 1489,1567 1505,1569"/>
<path style="stroke-width:2.7" d="M1496,1574L1505,1569M1482,1550L1491,1545"/>
<polygon class="f" points="1505,1595 1496,1574 1505,1569 1513,1590"/>
<path style="stroke-width:2.7" d="M1505,1595L1513,1590M1496,1574L1505,1569"/>
<polygon class="f" points="1482,1550 1468,1532 1477,1527 1491,1545"/>
<path style="stroke-width:2.7" d="M1482,1550L1491,1545M1468,1532L1477,1527"/>
<polygon class="w" points="1496,1640 1496,1639 1496,1638 1496,1637 1513,1640 1511,1621 1494,1609 1494,1608 1494,1606 1493,1605 1493,1604 1493,1603 1492,1601 1505,1595 1496,1574 1480,1572 1480,1570 1479,1569 1478,1568 1477,1567 1477,1566 1476,1564 1482,1550 1468,1532 1457,1539 1456,1538 1455,1537 1454,1536 1453,1535 1452,1534 1451,1533 1450,1513 1434,1501 1428,1516 1427,1516 1426,1515 1425,1515 1424,1515 1423,1514 1422,1514 1414,1492 1398,1489 1400,1510 1399,1510 1399,1510 1398,1510 1397,1510 1396,1510 1395,1510 1381,1491 1370,1498 1379,1519 1378,1520 1377,1521 1377,1521 1376,1522 1376,1523 1375,1523 1359,1511 1353,1525 1367,1544 1367,1545 1367,1546 1367,1547 1367,1548 1367,1549 1367,1550 1351,1547 1352,1566 1369,1578 1369,1579 1370,1581 1370,1582 1370,1583 1371,1584 1371,1586 1359,1592 1367,1613 1383,1615 1384,1617 1384,1618 1385,1619 1386,1620 1386,1621 1387,1623 1381,1637 1395,1655 1407,1648 1408,1649 1408,1650 1409,1651 1410,1652 1411,1653 1412,1654 1414,1674 1430,1686 1435,1671 1436,1671 1437,1672 1438,1672 1439,1672 1440,1673 1441,1673 1450,1695 1465,1698 1463,1677 1464,1677 1465,1677 1466,1677 1466,1677 1467,1677 1468,1677 1482,1696 1494,1689 1485,1668 1485,1667 1486,1666 1486,1666 1487,1665 1487,1664 1488,1664 1505,1676 1510,1662 1496,1643 1496,1642 1496,1641"/>
<polygon class="f" points="1344,1726 1356,1709 1415,1675 1403,1692"/>
<path d="M1403,1692L1415,1675M1344,1726L1403,1692"/>
<polygon class="f" points="1294,1600 1272,1601 1331,1567 1352,1566"/>
<path d="M1352,1566L1331,1567M1272,1601L1331,1567"/>
<polygon class="f" points="1387,1755 1390,1728 1449,1694 1446,1721"/>
<path d="M1446,1721L1449,1694M1387,1755L1446,1721"/>
<polygon class="f" points="1294,1561 1270,1550 1329,1516 1353,1527"/>
<path d="M1353,1527L1329,1516M1270,1550L1329,1516"/>
<polygon class="f" points="1428,1761 1420,1730 1479,1696 1487,1727"/>
<path d="M1487,1727L1479,1696M1428,1761L1487,1727"/>
<polygon class="f" points="1308,1534 1285,1512 1344,1478 1367,1500"/>
<path d="M1367,1500L1344,1478M1285,1512L1344,1478"/>
<polygon class="f" points="1446,1755 1459,1744 1518,1710 1505,1721"/>
<path d="M1505,1721L1518,1710M1446,1755L1505,1721M1459,1744L1518,1710"/>
<polygon class="f" points="1316,1494 1301,1499 1359,1465 1375,1460"/>
<path d="M1375,1460L1359,1465M1316,1494L1375,1460M1301,1499L1359,1465"/>
<polygon class="f" points="1459,1744 1443,1714 1443,1713 1444,1713 1444,1712 1445,1711 1445,1710 1446,1709 1505,1675 1504,1676 1504,1677 1503,1678 1503,1679 1502,1679 1502,1680 1518,1710"/>
<path d="M1518,1710L1502,1680L1502,1679L1503,1679L1503,1678L1504,1677L1504,1676L1505,1675M1459,1744L1518,1710"/>
<polygon class="f" points="1340,1524 1339,1523 1338,1523 1337,1523 1336,1523 1335,1523 1334,1524 1316,1494 1375,1460 1393,1490 1394,1489 1395,1489 1396,1489 1397,1489 1398,1489 1399,1490"/>
<path d="M1399,1490L1398,1489L1397,1489L1396,1489L1395,1489L1394,1489L1393,1490L1375,1460M1316,1494L1375,1460"/>
<polygon class="f" points="1470,1726 1475,1707 1534,1673 1529,1692"/>
<path d="M1529,1692L1534,1673M1470,1726L1529,1692M1475,1707L1534,1673"/>
<polygon class="f" points="1356,1499 1337,1494 1396,1460 1415,1465"/>
<path d="M1415,1465L1396,1460M1356,1499L1415,1465M1337,1494L1396,1460"/>
<polygon class="f" points="1475,1707 1453,1683 1453,1682 1453,1681 1453,1679 1453,1678 1453,1677 1453,1676 1512,1642 1512,1643 1512,1644 1512,1645 1512,1647 1512,1648 1512,1649 1534,1673"/>
<path d="M1534,1673L1512,1649L1512,1648L1512,1647L1512,1645L1512,1644L1512,1643L1512,1642M1475,1707L1534,1673"/>
<polygon class="f" points="1372,1534 1371,1534 1370,1533 1369,1532 1368,1532 1367,1531 1366,1531 1356,1499 1415,1465 1425,1497 1426,1497 1427,1498 1428,1498 1429,1499 1430,1500 1431,1500"/>
<path d="M1431,1500L1430,1500L1429,1499L1428,1498L1427,1498L1426,1497L1425,1497L1415,1465M1356,1499L1415,1465"/>
<polygon class="f" points="1474,1657 1449,1643 1449,1641 1449,1640 1448,1638 1448,1637 1447,1635 1447,1634 1506,1600 1506,1601 1507,1603 1507,1604 1507,1606 1508,1607 1508,1609 1532,1623"/>
<path d="M1532,1623L1508,1609L1508,1607L1507,1606L1507,1604L1507,1603L1506,1601L1506,1600M1474,1657L1532,1623"/>
<polygon class="f" points="1405,1561 1404,1560 1403,1559 1402,1558 1401,1557 1400,1556 1399,1555 1399,1527 1458,1493 1458,1521 1459,1522 1460,1523 1461,1524 1462,1525 1463,1526 1464,1527"/>
<path d="M1464,1527L1463,1526L1462,1525L1461,1524L1460,1523L1459,1522L1458,1521L1458,1493M1399,1527L1458,1493"/>
<polygon class="f" points="1477,1681 1474,1657 1532,1623 1535,1647"/>
<path d="M1535,1647L1532,1623M1477,1681L1535,1647M1474,1657L1532,1623"/>
<polygon class="f" points="1399,1527 1380,1512 1439,1478 1458,1493"/>
<path d="M1458,1493L1439,1478M1399,1527L1458,1493M1380,1512L1439,1478"/>
<polygon class="f" points="1455,1601 1432,1599 1432,1598 1431,1597 1430,1595 1429,1594 1429,1593 1428,1591 1438,1572 1497,1538 1487,1557 1487,1559 1488,1560 1489,1561 1490,1563 1491,1564 1491,1565 1514,1567"/>
<path d="M1514,1567L1491,1565L1491,1564L1490,1563L1489,1561L1488,1560L1487,1559L1487,1557L1497,1538M1455,1601L1514,1567M1438,1572L1497,1538"/>
<polygon class="f" points="1465,1626 1455,1601 1514,1567 1524,1592"/>
<path d="M1524,1592L1514,1567M1465,1626L1524,1592M1455,1601L1514,1567"/>
<polygon class="f" points="1438,1572 1422,1550 1480,1516 1497,1538"/>
<path d="M1497,1538L1480,1516M1438,1572L1497,1538M1422,1550L1480,1516"/>
<polygon class="w" style="stroke-width:2.7" points="1453,1679 1453,1678 1453,1677 1453,1676 1477,1681 1474,1657 1449,1643 1449,1641 1449,1640 1448,1638 1448,1637 1447,1635 1447,1634 1465,1626 1455,1601 1432,1599 1432,1598 1431,1597 1430,1595 1429,1594 1429,1593 1428,1591 1438,1572 1422,1550 1405,1561 1404,1560 1403,1559 1402,1558 1401,1557 1400,1556 1399,1555 1399,1527 1380,1512 1372,1534 1371,1534 1370,1533 1369,1532 1368,1532 1367,1531 1366,1531 1356,1499 1337,1494 1340,1524 1339,1523 1338,1523 1337,1523 1336,1523 1335,1523 1334,1524 1316,1494 1301,1499 1313,1531 1312,1531 1311,1532 1310,1532 1310,1533 1309,1534 1308,1534 1285,1512 1276,1527 1296,1555 1296,1556 1295,1557 1295,1558 1295,1559 1294,1560 1294,1561 1270,1550 1269,1572 1293,1591 1293,1593 1293,1594 1293,1595 1293,1597 1293,1598 1294,1600 1272,1601 1279,1626 1303,1634 1304,1636 1304,1637 1305,1638 1305,1640 1306,1641 1307,1643 1292,1657 1306,1681 1326,1676 1326,1677 1327,1678 1328,1680 1329,1681 1330,1682 1331,1683 1326,1708 1344,1726 1356,1709 1357,1710 1358,1711 1360,1712 1361,1713 1362,1713 1363,1714 1368,1744 1387,1755 1390,1728 1391,1729 1392,1729 1393,1729 1394,1730 1395,1730 1396,1730 1410,1761 1428,1761 1420,1730 1421,1730 1422,1730 1423,1729 1424,1729 1425,1729 1426,1728 1446,1755 1459,1744 1443,1714 1443,1713 1444,1713 1444,1712 1445,1711 1445,1710 1446,1709 1470,1726 1475,1707 1453,1683 1453,1682 1453,1681"/>
<polygon class="f" points="1337,1726 1348,1714 1356,1709 1346,1721"/>
<path style="stroke-width:2.7" d="M1337,1726L1346,1721"/>
<polygon class="f" points="1285,1605 1269,1608 1278,1603 1294,1600"/>
<path style="stroke-width:2.7" d="M1269,1608L1278,1603"/>
<polygon class="f" points="1378,1753 1381,1733 1390,1728 1386,1748"/>
<path style="stroke-width:2.7" d="M1378,1753L1386,1748"/>
<polygon class="f" points="1286,1566 1267,1559 1276,1554 1294,1561"/>
<path style="stroke-width:2.7" d="M1267,1559L1276,1554"/>
<polygon class="f" points="1416,1759 1412,1735 1420,1730 1425,1754"/>
<path style="stroke-width:2.7" d="M1416,1759L1425,1754"/>
<polygon class="f" points="1300,1539 1282,1524 1290,1519 1308,1534"/>
<path style="stroke-width:2.7" d="M1282,1524L1290,1519"/>
<polygon class="f" points="1434,1753 1445,1743 1454,1738 1442,1748"/>
<path style="stroke-width:2.7" d="M1434,1753L1442,1748M1445,1743L1454,1738"/>
<polygon class="f" points="1310,1507 1296,1512 1305,1507 1319,1502"/>
<path style="stroke-width:2.7" d="M1310,1507L1319,1502M1296,1512L1305,1507"/>
<polygon class="f" points="1445,1743 1434,1719 1435,1718 1435,1718 1436,1717 1436,1716 1437,1715 1437,1714 1446,1709 1445,1710 1445,1711 1444,1712 1444,1713 1443,1713 1443,1714 1454,1738"/>
<path style="stroke-width:2.7" d="M1445,1743L1454,1738"/>
<polygon class="f" points="1331,1529 1330,1528 1329,1528 1328,1528 1327,1528 1326,1528 1325,1529 1310,1507 1319,1502 1334,1524 1335,1523 1336,1523 1337,1523 1338,1523 1339,1523 1340,1524"/>
<path style="stroke-width:2.7" d="M1310,1507L1319,1502"/>
<polygon class="f" points="1456,1726 1461,1708 1469,1703 1464,1721"/>
<path style="stroke-width:2.7" d="M1456,1726L1464,1721M1461,1708L1469,1703"/>
<polygon class="f" points="1348,1512 1331,1507 1339,1502 1357,1507"/>
<path style="stroke-width:2.7" d="M1348,1512L1357,1507M1331,1507L1339,1502"/>
<polygon class="f" points="1461,1708 1444,1688 1444,1687 1444,1686 1445,1684 1445,1683 1445,1682 1445,1681 1453,1676 1453,1677 1453,1678 1453,1679 1453,1681 1453,1682 1453,1683 1469,1703"/>
<path style="stroke-width:2.7" d="M1461,1708L1469,1703"/>
<polygon class="f" points="1364,1539 1363,1539 1362,1538 1360,1537 1359,1537 1358,1536 1357,1536 1348,1512 1357,1507 1366,1531 1367,1531 1368,1532 1369,1532 1370,1533 1371,1534 1372,1534"/>
<path style="stroke-width:2.7" d="M1348,1512L1357,1507"/>
<polygon class="f" points="1459,1660 1441,1648 1440,1646 1440,1645 1440,1643 1439,1642 1439,1640 1438,1639 1451,1631 1460,1626 1447,1634 1447,1635 1448,1637 1448,1638 1449,1640 1449,1641 1449,1643 1468,1655"/>
<path style="stroke-width:2.7" d="M1459,1660L1468,1655M1451,1631L1460,1626"/>
<polygon class="f" points="1410,1559 1397,1566 1396,1565 1395,1564 1393,1563 1392,1562 1391,1561 1390,1560 1389,1537 1398,1532 1399,1555 1400,1556 1401,1557 1402,1558 1403,1559 1404,1560 1405,1561 1419,1554"/>
<path style="stroke-width:2.7" d="M1410,1559L1419,1554M1389,1537L1398,1532"/>
<polygon class="f" points="1462,1683 1459,1660 1468,1655 1471,1678"/>
<path style="stroke-width:2.7" d="M1462,1683L1471,1678M1459,1660L1468,1655"/>
<polygon class="f" points="1389,1537 1371,1523 1380,1518 1398,1532"/>
<path style="stroke-width:2.7" d="M1389,1537L1398,1532M1371,1523L1380,1518"/>
<polygon class="f" points="1441,1607 1424,1604 1423,1603 1422,1602 1421,1600 1421,1599 1420,1598 1419,1596 1426,1580 1434,1575 1428,1591 1429,1593 1429,1594 1430,1595 1431,1597 1432,1598 1432,1599 1450,1602"/>
<path style="stroke-width:2.7" d="M1441,1607L1450,1602M1426,1580L1434,1575"/>
<polygon class="f" points="1451,1631 1441,1607 1450,1602 1460,1626"/>
<path style="stroke-width:2.7" d="M1451,1631L1460,1626M1441,1607L1450,1602"/>
<polygon class="f" points="1426,1580 1410,1559 1419,1554 1434,1575"/>
<path style="stroke-width:2.7" d="M1426,1580L1434,1575M1410,1559L1419,1554"/>
<polygon class="w" points="1445,1684 1445,1683 1445,1682 1445,1681 1462,1683 1459,1660 1441,1648 1440,1646 1440,1645 1440,1643 1439,1642 1439,1640 1438,1639 1451,1631 1441,1607 1424,1604 1423,1603 1422,1602 1421,1600 1421,1599 1420,1598 1419,1596 1426,1580 1410,1559 1397,1566 1396,1565 1395,1564 1393,1563 1392,1562 1391,1561 1390,1560 1389,1537 1371,1523 1364,1539 1363,1539 1362,1538 1360,1537 1359,1537 1358,1536 1357,1536 1348,1512 1331,1507 1331,1529 1330,1528 1329,1528 1328,1528 1327,1528 1326,1528 1325,1529 1310,1507 1296,1512 1304,1536 1303,1536 1302,1537 1302,1537 1301,1538 1300,1539 1300,1539 1282,1524 1273,1538 1287,1560 1287,1561 1287,1562 1286,1563 1286,1564 1286,1565 1286,1566 1267,1559 1266,1580 1284,1596 1284,1598 1284,1599 1284,1600 1285,1602 1285,1603 1285,1605 1269,1608 1276,1631 1294,1639 1295,1641 1296,1642 1296,1643 1297,1645 1297,1646 1298,1648 1288,1660 1301,1683 1317,1681 1318,1682 1319,1683 1320,1685 1321,1686 1322,1687 1323,1688 1320,1708 1337,1726 1348,1714 1349,1715 1350,1716 1351,1717 1352,1718 1353,1718 1354,1719 1359,1743 1378,1753 1381,1733 1382,1734 1383,1734 1384,1734 1385,1735 1387,1735 1388,1735 1400,1759 1416,1759 1412,1735 1413,1735 1413,1735 1414,1734 1415,1734 1416,1734 1417,1733 1434,1753 1445,1743 1434,1719 1435,1718 1435,1718 1436,1717 1436,1716 1437,1715 1437,1714 1456,1726 1461,1708 1444,1688 1444,1687 1444,1686"/>
<polygon class="f" points="1315,1754 1326,1742 1350,1728 1339,1740"/>
<path d="M1339,1740L1350,1728M1315,1754L1339,1740M1326,1742L1350,1728"/>
<polygon class="f" points="1250,1611 1235,1615 1259,1601 1275,1597"/>
<path d="M1275,1597L1259,1601M1250,1611L1275,1597M1235,1615L1259,1601"/>
<polygon class="f" points="1343,1773 1350,1756 1374,1742 1367,1759"/>
<path d="M1367,1759L1374,1742M1343,1773L1367,1759M1350,1756L1374,1742"/>
<polygon class="f" points="1250,1583 1232,1580 1256,1566 1274,1569"/>
<path d="M1274,1569L1256,1566M1250,1583L1274,1569M1232,1580L1256,1566"/>
<polygon class="f" points="1371,1784 1373,1763 1397,1749 1395,1770"/>
<path d="M1395,1770L1397,1749M1371,1784L1395,1770M1373,1763L1397,1749"/>
<polygon class="f" points="1256,1560 1236,1551 1260,1537 1280,1546"/>
<path d="M1280,1546L1260,1537M1256,1560L1280,1546M1236,1551L1260,1537"/>
<polygon class="f" points="1397,1786 1393,1762 1418,1748 1421,1772"/>
<path d="M1421,1772L1418,1748M1397,1786L1421,1772M1393,1762L1418,1748"/>
<polygon class="f" points="1267,1542 1248,1528 1272,1514 1291,1528"/>
<path d="M1291,1528L1272,1514M1267,1542L1291,1528M1248,1528L1272,1514"/>
<polygon class="f" points="1418,1778 1411,1753 1435,1739 1443,1764"/>
<path d="M1443,1764L1435,1739M1418,1778L1443,1764M1411,1753L1435,1739"/>
<polygon class="f" points="1283,1532 1266,1513 1290,1499 1308,1518"/>
<path d="M1308,1518L1290,1499M1283,1532L1308,1518M1266,1513L1290,1499"/>
<polygon class="f" points="1411,1753 1411,1752 1412,1752 1412,1751 1413,1751 1437,1737 1436,1737 1436,1738 1435,1738 1435,1739"/>
<path d="M1435,1739L1435,1738L1436,1738L1436,1737L1437,1737M1411,1753L1435,1739M1413,1751L1437,1737"/>
<polygon class="f" points="1286,1531 1285,1532 1285,1532 1284,1532 1283,1532 1308,1518 1308,1518 1309,1518 1310,1518 1310,1517"/>
<path d="M1310,1517L1310,1518L1309,1518L1308,1518L1308,1518M1286,1531L1310,1517M1283,1532L1308,1518"/>
<polygon class="f" points="1432,1765 1435,1761 1459,1747 1456,1751"/>
<path d="M1456,1751L1459,1747M1432,1765L1456,1751M1435,1761L1459,1747"/>
<polygon class="f" points="1288,1507 1283,1507 1307,1493 1313,1493"/>
<path d="M1313,1493L1307,1493M1288,1507L1313,1493M1283,1507L1307,1493"/>
<polygon class="f" points="1435,1761 1423,1736 1447,1722 1459,1747"/>
<path d="M1459,1747L1447,1722M1435,1761L1459,1747M1423,1736L1447,1722"/>
<polygon class="f" points="1304,1530 1288,1507 1313,1493 1328,1516"/>
<path d="M1328,1516L1313,1493M1304,1530L1328,1516M1288,1507L1313,1493"/>
<polygon class="f" points="1423,1736 1423,1736 1423,1735 1424,1734 1424,1733 1448,1719 1448,1720 1448,1721 1447,1722 1447,1722"/>
<path d="M1447,1722L1447,1722L1448,1721L1448,1720L1448,1719M1423,1736L1447,1722M1424,1733L1448,1719"/>
<polygon class="f" points="1307,1530 1306,1530 1305,1530 1304,1530 1304,1530 1328,1516 1329,1516 1329,1516 1330,1516 1331,1516"/>
<path d="M1331,1516L1330,1516L1329,1516L1329,1516L1328,1516M1307,1530L1331,1516M1304,1530L1328,1516"/>
<polygon class="f" points="1443,1742 1445,1736 1469,1722 1468,1728"/>
<path d="M1468,1728L1469,1722M1443,1742L1468,1728M1445,1736L1469,1722"/>
<polygon class="f" points="1315,1511 1309,1509 1333,1495 1339,1497"/>
<path d="M1339,1497L1333,1495M1315,1511L1339,1497M1309,1509L1333,1495"/>
<polygon class="f" points="1429,1714 1429,1713 1430,1712 1430,1711 1430,1710 1454,1696 1454,1697 1454,1698 1454,1699 1454,1700"/>
<path d="M1454,1700L1454,1699L1454,1698L1454,1697L1454,1696M1429,1714L1454,1700M1430,1710L1454,1696"/>
<polygon class="f" points="1330,1537 1329,1536 1328,1536 1327,1536 1326,1535 1350,1521 1351,1522 1352,1522 1353,1522 1354,1523"/>
<path d="M1354,1523L1353,1522L1352,1522L1351,1522L1350,1521M1330,1537L1354,1523M1326,1535L1350,1521"/>
<polygon class="f" points="1445,1736 1429,1714 1454,1700 1469,1722"/>
<path d="M1469,1722L1454,1700M1445,1736L1469,1722M1429,1714L1454,1700"/>
<polygon class="f" points="1326,1535 1315,1511 1339,1497 1350,1521"/>
<path d="M1350,1521L1339,1497M1326,1535L1350,1521M1315,1511L1339,1497"/>
<polygon class="f" points="1430,1687 1430,1686 1430,1685 1429,1684 1429,1682 1454,1668 1454,1670 1454,1671 1454,1672 1454,1673"/>
<path d="M1454,1673L1454,1672L1454,1671L1454,1670L1454,1668M1430,1687L1454,1673M1429,1682L1454,1668"/>
<polygon class="f" points="1353,1551 1353,1550 1352,1550 1351,1549 1350,1548 1374,1534 1375,1535 1376,1536 1377,1536 1378,1537"/>
<path d="M1378,1537L1377,1536L1376,1536L1375,1535L1374,1534M1353,1551L1378,1537M1350,1548L1374,1534"/>
<polygon class="f" points="1448,1705 1430,1687 1454,1673 1472,1691"/>
<path d="M1472,1691L1454,1673M1448,1705L1472,1691M1430,1687L1454,1673"/>
<polygon class="f" points="1350,1548 1343,1523 1367,1509 1374,1534"/>
<path d="M1374,1534L1367,1509M1350,1548L1374,1534M1343,1523L1367,1509"/>
<polygon class="f" points="1448,1713 1448,1705 1472,1691 1472,1699"/>
<path d="M1472,1699L1472,1691M1448,1713L1472,1699M1448,1705L1472,1691"/>
<polygon class="f" points="1343,1523 1337,1520 1361,1506 1367,1509"/>
<path d="M1367,1509L1361,1506M1343,1523L1367,1509M1337,1520L1361,1506"/>
<polygon class="f" points="1424,1657 1424,1656 1423,1655 1423,1654 1423,1652 1447,1638 1447,1640 1448,1641 1448,1642 1448,1643"/>
<path d="M1448,1643L1448,1642L1448,1641L1447,1640L1447,1638M1424,1657L1448,1643M1423,1652L1447,1638"/>
<polygon class="f" points="1376,1572 1375,1571 1374,1570 1374,1569 1373,1568 1397,1554 1398,1555 1399,1556 1400,1557 1400,1558"/>
<path d="M1400,1558L1400,1557L1399,1556L1398,1555L1397,1554M1376,1572L1400,1558M1373,1568L1397,1554"/>
<polygon class="f" points="1443,1671 1424,1657 1448,1643 1468,1657"/>
<path d="M1468,1657L1448,1643M1443,1671L1468,1657M1424,1657L1448,1643"/>
<polygon class="f" points="1373,1568 1371,1545 1395,1531 1397,1554"/>
<path d="M1397,1554L1395,1531M1373,1568L1397,1554M1371,1545L1395,1531"/>
<polygon class="f" points="1413,1627 1412,1625 1412,1624 1411,1623 1411,1622 1435,1608 1435,1609 1436,1610 1436,1611 1437,1613"/>
<path d="M1437,1613L1436,1611L1436,1610L1435,1609L1435,1608M1413,1627L1437,1613M1411,1622L1435,1608"/>
<polygon class="f" points="1396,1597 1396,1596 1395,1595 1394,1594 1393,1593 1418,1579 1418,1580 1419,1581 1420,1582 1421,1583"/>
<path d="M1421,1583L1420,1582L1419,1581L1418,1580L1418,1579M1396,1597L1421,1583M1393,1593L1418,1579"/>
<polygon class="f" points="1445,1678 1443,1671 1468,1657 1469,1664"/>
<path d="M1469,1664L1468,1657M1445,1678L1469,1664M1443,1671L1468,1657"/>
<polygon class="f" points="1371,1545 1365,1539 1389,1525 1395,1531"/>
<path d="M1395,1531L1389,1525M1371,1545L1395,1531M1365,1539L1389,1525"/>
<polygon class="f" points="1423,1652 1435,1642 1459,1628 1447,1638"/>
<path d="M1447,1638L1459,1628M1423,1652L1447,1638M1435,1642L1459,1628"/>
<polygon class="f" points="1391,1566 1376,1572 1400,1558 1415,1552"/>
<path d="M1415,1552L1400,1558M1391,1566L1415,1552M1376,1572L1400,1558"/>
<polygon class="f" points="1432,1634 1413,1627 1437,1613 1456,1620"/>
<path d="M1456,1620L1437,1613M1432,1634L1456,1620M1413,1627L1437,1613"/>
<polygon class="f" points="1393,1593 1397,1573 1421,1559 1418,1579"/>
<path d="M1418,1579L1421,1559M1393,1593L1418,1579M1397,1573L1421,1559"/>
<polygon class="f" points="1411,1622 1418,1606 1443,1592 1435,1608"/>
<path d="M1435,1608L1443,1592M1411,1622L1435,1608M1418,1606L1443,1592"/>
<polygon class="f" points="1414,1599 1396,1597 1421,1583 1438,1585"/>
<path d="M1438,1585L1421,1583M1414,1599L1438,1585M1396,1597L1421,1583"/>
<polygon class="f" points="1435,1642 1432,1634 1456,1620 1459,1628"/>
<path d="M1459,1628L1456,1620M1435,1642L1459,1628M1432,1634L1456,1620"/>
<polygon class="f" points="1397,1573 1391,1566 1415,1552 1421,1559"/>
<path d="M1421,1559L1415,1552M1397,1573L1421,1559M1391,1566L1415,1552"/>
<polygon class="f" points="1418,1606 1414,1599 1438,1585 1443,1592"/>
<path d="M1443,1592L1438,1585M1418,1606L1443,1592M1414,1599L1438,1585"/>
<polygon class="w" points="1430,1712 1430,1711 1430,1710 1448,1713 1448,1705 1430,1687 1430,1686 1430,1685 1429,1684 1429,1682 1445,1678 1443,1671 1424,1657 1424,1656 1423,1655 1423,1654 1423,1652 1435,1642 1432,1634 1413,1627 1412,1625 1412,1624 1411,1623 1411,1622 1418,1606 1414,1599 1396,1597 1396,1596 1395,1595 1394,1594 1393,1593 1397,1573 1391,1566 1376,1572 1375,1571 1374,1570 1374,1569 1373,1568 1371,1545 1365,1539 1353,1551 1353,1550 1352,1550 1351,1549 1350,1548 1343,1523 1337,1520 1330,1537 1329,1536 1328,1536 1327,1536 1326,1535 1315,1511 1309,1509 1307,1530 1306,1530 1305,1530 1304,1530 1304,1530 1288,1507 1283,1507 1286,1531 1285,1532 1285,1532 1284,1532 1283,1532 1266,1513 1261,1515 1269,1540 1269,1541 1268,1541 1267,1542 1267,1542 1248,1528 1245,1532 1257,1557 1257,1557 1256,1558 1256,1559 1256,1560 1236,1551 1235,1557 1250,1579 1250,1580 1250,1581 1250,1582 1250,1583 1232,1580 1232,1588 1250,1606 1250,1607 1250,1608 1250,1609 1250,1611 1235,1615 1236,1622 1256,1636 1256,1637 1256,1638 1257,1639 1257,1641 1245,1651 1248,1659 1267,1666 1267,1668 1268,1669 1269,1670 1269,1671 1261,1687 1266,1694 1283,1696 1284,1697 1285,1698 1285,1699 1286,1700 1283,1720 1288,1727 1304,1721 1304,1722 1305,1723 1306,1724 1307,1725 1309,1748 1315,1754 1326,1742 1327,1743 1328,1743 1329,1744 1330,1745 1337,1770 1343,1773 1350,1756 1351,1757 1352,1757 1353,1757 1353,1758 1365,1782 1371,1784 1373,1763 1374,1763 1374,1763 1375,1763 1376,1763 1391,1786 1397,1786 1393,1762 1394,1761 1395,1761 1396,1761 1396,1761 1414,1780 1418,1778 1411,1753 1411,1752 1412,1752 1412,1751 1413,1751 1432,1765 1435,1761 1423,1736 1423,1736 1423,1735 1424,1734 1424,1733 1443,1742 1445,1736 1429,1714 1429,1713"/>
<path d="M1397,1746A115,66 60 1 0 1282,1547A115,66 60 1 0 1397,1746Z"/>
<polygon class="f" points="1274,1634 1258,1634 1276,1623 1292,1624"/>
<path d="M1292,1624L1276,1623M1258,1634L1276,1623"/>
<polygon class="f" points="1315,1728 1321,1712 1339,1702 1333,1717"/>
<path d="M1333,1717L1339,1702M1315,1728L1333,1717"/>
<polygon class="f" points="1278,1609 1260,1596 1279,1586 1296,1598"/>
<path d="M1296,1598L1279,1586M1260,1596L1279,1586"/>
<polygon class="f" points="1348,1741 1345,1719 1363,1709 1366,1730"/>
<path d="M1366,1730L1363,1709M1348,1741L1366,1730"/>
<polygon class="f" points="1364,1739 1374,1732 1392,1721 1382,1728"/>
<path d="M1382,1728L1392,1721M1364,1739L1382,1728M1374,1732L1392,1721"/>
<polygon class="f" points="1298,1595 1297,1595 1297,1595 1296,1595 1295,1595 1295,1595 1294,1596 1279,1575 1298,1565 1312,1585 1313,1585 1313,1585 1314,1585 1315,1585 1316,1585 1316,1584"/>
<path d="M1316,1584L1316,1585L1315,1585L1314,1585L1313,1585L1313,1585L1312,1585L1298,1565M1279,1575L1298,1565"/>
<polygon class="f" points="1374,1732 1363,1709 1363,1709 1364,1708 1364,1707 1365,1707 1365,1706 1365,1705 1383,1695 1383,1696 1383,1696 1382,1697 1382,1698 1382,1698 1381,1699 1392,1721"/>
<path d="M1392,1721L1381,1699L1382,1698L1382,1698L1382,1697L1383,1696L1383,1696L1383,1695M1374,1732L1392,1721"/>
<polygon class="f" points="1310,1576 1295,1573 1313,1563 1328,1566"/>
<path d="M1328,1566L1313,1563M1310,1576L1328,1566M1295,1573L1313,1563"/>
<polygon class="f" points="1322,1602 1321,1601 1321,1601 1320,1600 1319,1600 1318,1600 1317,1599 1310,1576 1328,1566 1335,1589 1336,1589 1337,1590 1338,1590 1339,1590 1340,1591 1340,1591"/>
<path d="M1340,1591L1340,1591L1339,1590L1338,1590L1337,1590L1336,1589L1335,1589L1328,1566M1310,1576L1328,1566"/>
<polygon class="f" points="1383,1718 1386,1702 1405,1692 1401,1707"/>
<path d="M1401,1707L1405,1692M1383,1718L1401,1707M1386,1702L1405,1692"/>
<polygon class="f" points="1386,1702 1370,1686 1370,1685 1370,1684 1370,1683 1370,1682 1370,1681 1370,1680 1388,1669 1388,1670 1388,1671 1388,1672 1388,1673 1388,1674 1388,1675 1405,1692"/>
<path d="M1405,1692L1388,1675L1388,1674L1388,1673L1388,1672L1388,1671L1388,1670L1388,1669M1386,1702L1405,1692"/>
<polygon class="f" points="1360,1618 1346,1624 1346,1623 1345,1622 1344,1621 1343,1620 1343,1619 1342,1618 1343,1599 1362,1588 1360,1608 1361,1609 1362,1609 1362,1610 1363,1611 1364,1612 1364,1613 1378,1608"/>
<path d="M1378,1608L1364,1613L1364,1612L1363,1611L1362,1610L1362,1609L1361,1609L1360,1608L1362,1588M1360,1618L1378,1608M1343,1599L1362,1588"/>
<polygon class="f" points="1381,1661 1364,1654 1363,1653 1363,1652 1362,1651 1362,1650 1361,1649 1361,1648 1371,1637 1389,1626 1379,1637 1380,1638 1380,1639 1381,1640 1381,1641 1381,1643 1382,1644 1399,1650"/>
<path d="M1399,1650L1382,1644L1381,1643L1381,1641L1381,1640L1380,1639L1380,1638L1379,1637L1389,1626M1381,1661L1399,1650M1371,1637L1389,1626"/>
<polygon class="f" points="1343,1599 1328,1586 1347,1576 1362,1588"/>
<path d="M1362,1588L1347,1576M1343,1599L1362,1588M1328,1586L1347,1576"/>
<polygon class="f" points="1386,1680 1381,1661 1399,1650 1404,1670"/>
<path d="M1404,1670L1399,1650M1386,1680L1404,1670M1381,1661L1399,1650"/>
<polygon class="f" points="1371,1637 1360,1618 1378,1608 1389,1626"/>
<path d="M1389,1626L1378,1608M1371,1637L1389,1626M1360,1618L1378,1608"/>
<polygon class="w" style="stroke-width:2.7" points="1370,1683 1370,1682 1370,1681 1370,1680 1386,1680 1381,1661 1364,1654 1363,1653 1363,1652 1362,1651 1362,1650 1361,1649 1361,1648 1371,1637 1360,1618 1346,1624 1346,1623 1345,1622 1344,1621 1343,1620 1343,1619 1342,1618 1343,1599 1328,1586 1322,1602 1321,1601 1321,1601 1320,1600 1319,1600 1318,1600 1317,1599 1310,1576 1295,1573 1298,1595 1297,1595 1297,1595 1296,1595 1295,1595 1295,1595 1294,1596 1279,1575 1269,1582 1280,1605 1280,1605 1279,1606 1279,1607 1279,1607 1278,1608 1278,1609 1260,1596 1257,1612 1274,1628 1274,1629 1274,1630 1274,1631 1274,1632 1274,1633 1274,1634 1258,1634 1262,1653 1280,1660 1280,1661 1280,1662 1281,1663 1281,1664 1282,1665 1282,1666 1272,1677 1283,1696 1297,1690 1298,1691 1298,1692 1299,1693 1300,1694 1301,1695 1301,1696 1300,1715 1315,1728 1321,1712 1322,1713 1323,1713 1323,1714 1324,1714 1325,1714 1326,1715 1333,1738 1348,1741 1345,1719 1346,1719 1347,1719 1347,1719 1348,1719 1349,1719 1349,1718 1364,1739 1374,1732 1363,1709 1363,1709 1364,1708 1364,1707 1365,1707 1365,1706 1365,1705 1383,1718 1386,1702 1370,1686 1370,1685 1370,1684"/>
<polygon class="f" points="1265,1639 1253,1640 1262,1635 1274,1634"/>
<path style="stroke-width:2.7" d="M1253,1640L1262,1635"/>
<polygon class="f" points="1307,1728 1312,1717 1321,1712 1315,1723"/>
<path style="stroke-width:2.7" d="M1307,1728L1315,1723"/>
<polygon class="f" points="1269,1614 1256,1605 1264,1600 1278,1609"/>
<path style="stroke-width:2.7" d="M1256,1605L1264,1600"/>
<polygon class="f" points="1338,1740 1336,1724 1345,1719 1346,1735"/>
<path style="stroke-width:2.7" d="M1338,1740L1346,1735"/>
<polygon class="f" points="1352,1738 1362,1732 1371,1727 1361,1733"/>
<path style="stroke-width:2.7" d="M1352,1738L1361,1733M1362,1732L1371,1727"/>
<polygon class="f" points="1290,1600 1289,1600 1288,1600 1287,1600 1287,1600 1286,1600 1285,1601 1274,1586 1282,1581 1294,1596 1295,1595 1295,1595 1296,1595 1297,1595 1297,1595 1298,1595"/>
<path style="stroke-width:2.7" d="M1274,1586L1282,1581"/>
<polygon class="f" points="1362,1732 1354,1714 1355,1714 1355,1713 1355,1712 1356,1712 1356,1711 1357,1710 1365,1705 1365,1706 1365,1707 1364,1707 1364,1708 1363,1709 1363,1709 1371,1727"/>
<path style="stroke-width:2.7" d="M1362,1732L1371,1727"/>
<polygon class="f" points="1302,1587 1288,1584 1297,1579 1311,1582"/>
<path style="stroke-width:2.7" d="M1302,1587L1311,1582M1288,1584L1297,1579"/>
<polygon class="f" points="1370,1719 1373,1704 1382,1699 1379,1714"/>
<path style="stroke-width:2.7" d="M1370,1719L1379,1714M1373,1704L1382,1699"/>
<polygon class="f" points="1314,1607 1313,1606 1312,1606 1311,1605 1310,1605 1309,1605 1309,1604 1302,1587 1311,1582 1317,1599 1318,1600 1319,1600 1320,1600 1321,1601 1321,1601 1322,1602"/>
<path style="stroke-width:2.7" d="M1302,1587L1311,1582"/>
<polygon class="f" points="1373,1704 1361,1691 1361,1690 1361,1689 1361,1688 1361,1687 1361,1686 1361,1685 1370,1680 1370,1681 1370,1682 1370,1683 1370,1684 1370,1685 1370,1686 1382,1699"/>
<path style="stroke-width:2.7" d="M1373,1704L1382,1699"/>
<polygon class="f" points="1349,1626 1338,1629 1337,1628 1336,1627 1335,1626 1335,1625 1334,1624 1333,1623 1333,1608 1342,1603 1342,1618 1343,1619 1343,1620 1344,1621 1345,1622 1346,1623 1346,1624 1357,1621"/>
<path style="stroke-width:2.7" d="M1349,1626L1357,1621M1333,1608L1342,1603"/>
<polygon class="f" points="1369,1666 1355,1659 1355,1658 1354,1657 1354,1656 1353,1655 1353,1654 1352,1653 1359,1643 1368,1638 1361,1648 1361,1649 1362,1650 1362,1651 1363,1652 1363,1653 1364,1654 1377,1661"/>
<path style="stroke-width:2.7" d="M1369,1666L1377,1661M1359,1643L1368,1638"/>
<polygon class="f" points="1333,1608 1319,1596 1328,1591 1342,1603"/>
<path style="stroke-width:2.7" d="M1333,1608L1342,1603M1319,1596L1328,1591"/>
<polygon class="f" points="1373,1684 1369,1666 1377,1661 1381,1679"/>
<path style="stroke-width:2.7" d="M1373,1684L1381,1679M1369,1666L1377,1661"/>
<polygon class="f" points="1359,1643 1349,1626 1357,1621 1368,1638"/>
<path style="stroke-width:2.7" d="M1359,1643L1368,1638M1349,1626L1357,1621"/>
<polygon class="w" points="1361,1688 1361,1687 1361,1686 1361,1685 1373,1684 1369,1666 1355,1659 1355,1658 1354,1657 1354,1656 1353,1655 1353,1654 1352,1653 1359,1643 1349,1626 1338,1629 1337,1628 1336,1627 1335,1626 1335,1625 1334,1624 1333,1623 1333,1608 1319,1596 1314,1607 1313,1606 1312,1606 1311,1605 1310,1605 1309,1605 1309,1604 1302,1587 1288,1584 1290,1600 1289,1600 1288,1600 1287,1600 1287,1600 1286,1600 1285,1601 1274,1586 1264,1592 1272,1610 1271,1610 1271,1611 1270,1612 1270,1612 1270,1613 1269,1614 1256,1605 1252,1620 1265,1633 1265,1634 1265,1635 1265,1636 1265,1637 1265,1638 1265,1639 1253,1640 1257,1658 1271,1665 1271,1666 1272,1667 1272,1668 1273,1669 1273,1670 1274,1671 1267,1681 1277,1698 1288,1695 1289,1696 1290,1697 1291,1698 1291,1699 1292,1700 1293,1701 1293,1716 1307,1728 1312,1717 1313,1718 1314,1718 1315,1719 1316,1719 1316,1719 1317,1720 1324,1737 1338,1740 1336,1724 1337,1724 1338,1724 1339,1724 1339,1724 1340,1724 1341,1723 1352,1738 1362,1732 1354,1714 1355,1714 1355,1713 1355,1712 1356,1712 1356,1711 1357,1710 1370,1719 1373,1704 1361,1691 1361,1690 1361,1689"/>
<polygon class="f" points="1140,1805 1157,1794 1280,1724 1262,1735"/>
<path d="M1262,1735L1280,1724M1140,1805L1262,1735"/>
<polygon class="f" points="1117,1718 1097,1724 1219,1653 1239,1648"/>
<path d="M1239,1648L1219,1653M1097,1724L1219,1653"/>
<polygon class="f" points="1183,1845 1191,1823 1313,1752 1305,1775"/>
<path d="M1305,1775L1313,1752M1183,1845L1305,1775"/>
<polygon class="f" points="1114,1676 1089,1668 1211,1597 1236,1606"/>
<path d="M1236,1606L1211,1597M1089,1668L1211,1597"/>
<polygon class="f" points="1228,1863 1225,1833 1347,1762 1350,1793"/>
<path d="M1350,1793L1347,1762M1228,1863L1350,1793"/>
<polygon class="f" points="1126,1646 1101,1625 1224,1554 1248,1575"/>
<path d="M1248,1575L1224,1554M1101,1625L1224,1554"/>
<polygon class="f" points="1132,1603 1116,1609 1238,1539 1254,1532"/>
<path d="M1254,1532L1238,1539M1132,1603L1254,1532M1116,1609L1238,1539"/>
<polygon class="f" points="1266,1856 1252,1823 1253,1823 1253,1822 1254,1821 1255,1821 1255,1820 1256,1819 1378,1749 1377,1749 1377,1750 1376,1751 1375,1752 1375,1752 1374,1753 1388,1785"/>
<path d="M1388,1785L1374,1753L1375,1752L1375,1752L1376,1751L1377,1750L1377,1749L1378,1749M1266,1856L1388,1785"/>
<polygon class="f" points="1157,1632 1156,1632 1155,1632 1154,1632 1153,1632 1152,1632 1151,1632 1132,1603 1254,1532 1273,1562 1274,1562 1275,1562 1276,1562 1277,1562 1278,1562 1279,1562"/>
<path d="M1279,1562L1278,1562L1277,1562L1276,1562L1275,1562L1274,1562L1273,1562L1254,1532M1132,1603L1254,1532"/>
<polygon class="f" points="1280,1840 1288,1823 1410,1753 1402,1770"/>
<path d="M1402,1770L1410,1753M1280,1840L1402,1770M1288,1823L1410,1753"/>
<polygon class="f" points="1288,1823 1267,1796 1267,1795 1267,1794 1267,1792 1268,1791 1268,1790 1268,1789 1390,1718 1390,1719 1390,1721 1390,1722 1389,1723 1389,1724 1389,1725 1410,1753"/>
<path d="M1410,1753L1389,1725L1389,1724L1389,1723L1390,1722L1390,1721L1390,1719L1390,1718M1288,1823L1410,1753"/>
<polygon class="f" points="1173,1607 1154,1602 1276,1531 1295,1536"/>
<path d="M1295,1536L1276,1531M1173,1607L1295,1536M1154,1602L1276,1531"/>
<polygon class="f" points="1190,1642 1189,1642 1188,1641 1187,1641 1186,1640 1185,1639 1183,1639 1173,1607 1295,1536 1306,1568 1307,1569 1308,1569 1309,1570 1310,1571 1311,1571 1313,1572"/>
<path d="M1313,1572L1311,1571L1310,1571L1309,1570L1308,1569L1307,1569L1306,1568L1295,1536M1173,1607L1295,1536"/>
<polygon class="f" points="1292,1773 1267,1756 1266,1754 1266,1753 1266,1751 1265,1750 1265,1748 1265,1747 1387,1676 1387,1678 1388,1679 1388,1681 1388,1682 1388,1684 1389,1685 1414,1702"/>
<path d="M1414,1702L1389,1685L1388,1684L1388,1682L1388,1681L1388,1679L1387,1678L1387,1676M1292,1773L1414,1702"/>
<polygon class="f" points="1224,1671 1223,1669 1222,1668 1221,1667 1220,1666 1219,1665 1218,1664 1219,1635 1341,1565 1340,1593 1341,1594 1342,1596 1343,1597 1344,1598 1345,1599 1346,1600"/>
<path d="M1346,1600L1345,1599L1344,1598L1343,1597L1342,1596L1341,1594L1340,1593L1341,1565M1219,1635L1341,1565"/>
<polygon class="f" points="1293,1797 1292,1773 1414,1702 1415,1727"/>
<path d="M1415,1727L1414,1702M1293,1797L1415,1727M1292,1773L1414,1702"/>
<polygon class="f" points="1275,1715 1251,1711 1251,1710 1250,1708 1249,1707 1248,1705 1248,1704 1247,1702 1258,1683 1380,1613 1369,1632 1370,1633 1371,1635 1371,1636 1372,1638 1373,1639 1374,1641 1397,1644"/>
<path d="M1397,1644L1374,1641L1373,1639L1372,1638L1371,1636L1371,1635L1370,1633L1369,1632L1380,1613M1275,1715L1397,1644M1258,1683L1380,1613"/>
<polygon class="f" points="1219,1635 1198,1620 1320,1549 1341,1565"/>
<path d="M1341,1565L1320,1549M1219,1635L1341,1565M1198,1620L1320,1549"/>
<polygon class="f" points="1285,1741 1275,1715 1397,1644 1407,1671"/>
<path d="M1407,1671L1397,1644M1285,1741L1407,1671M1275,1715L1397,1644"/>
<polygon class="f" points="1258,1683 1242,1660 1364,1589 1380,1613"/>
<path d="M1380,1613L1364,1589M1258,1683L1380,1613M1242,1660L1364,1589"/>
<polygon class="w" style="stroke-width:2.7" points="1267,1792 1268,1791 1268,1790 1268,1789 1293,1797 1292,1773 1267,1756 1266,1754 1266,1753 1266,1751 1265,1750 1265,1748 1265,1747 1285,1741 1275,1715 1251,1711 1251,1710 1250,1708 1249,1707 1248,1705 1248,1704 1247,1702 1258,1683 1242,1660 1224,1671 1223,1669 1222,1668 1221,1667 1220,1666 1219,1665 1218,1664 1219,1635 1198,1620 1190,1642 1189,1642 1188,1641 1187,1641 1186,1640 1185,1639 1183,1639 1173,1607 1154,1602 1157,1632 1156,1632 1155,1632 1154,1632 1153,1632 1152,1632 1151,1632 1132,1603 1116,1609 1130,1642 1129,1642 1128,1643 1128,1644 1127,1644 1126,1645 1126,1646 1101,1625 1094,1642 1115,1669 1115,1670 1114,1671 1114,1673 1114,1674 1114,1675 1114,1676 1089,1668 1090,1692 1115,1709 1115,1711 1116,1712 1116,1714 1116,1715 1117,1717 1117,1718 1097,1724 1107,1750 1130,1754 1131,1755 1132,1757 1133,1758 1133,1760 1134,1761 1135,1763 1123,1782 1140,1805 1157,1794 1159,1796 1160,1797 1161,1798 1162,1799 1163,1800 1164,1801 1163,1830 1183,1845 1191,1823 1192,1823 1194,1824 1195,1824 1196,1825 1197,1826 1198,1826 1208,1858 1228,1863 1225,1833 1226,1833 1227,1833 1228,1833 1229,1833 1230,1833 1231,1833 1250,1862 1266,1856 1252,1823 1253,1823 1253,1822 1254,1821 1255,1821 1255,1820 1256,1819 1280,1840 1288,1823 1267,1796 1267,1795 1267,1794"/>
<polygon class="f" points="1108,1723 1094,1729 1103,1724 1117,1718"/>
<path style="stroke-width:2.7" d="M1094,1729L1103,1724"/>
<polygon class="f" points="1175,1844 1183,1828 1191,1823 1184,1839"/>
<path style="stroke-width:2.7" d="M1175,1844L1184,1839"/>
<polygon class="f" points="1105,1681 1087,1677 1095,1672 1114,1676"/>
<path style="stroke-width:2.7" d="M1087,1677L1095,1672"/>
<polygon class="f" points="1217,1861 1216,1838 1225,1833 1226,1856"/>
<path style="stroke-width:2.7" d="M1217,1861L1226,1856"/>
<polygon class="f" points="1117,1651 1098,1636 1107,1631 1126,1646"/>
<path style="stroke-width:2.7" d="M1098,1636L1107,1631"/>
<polygon class="f" points="1126,1615 1112,1622 1121,1617 1135,1610"/>
<path style="stroke-width:2.7" d="M1126,1615L1135,1610M1112,1622L1121,1617"/>
<polygon class="f" points="1253,1853 1243,1828 1244,1828 1245,1827 1245,1826 1246,1826 1247,1825 1247,1824 1256,1819 1255,1820 1255,1821 1254,1821 1253,1822 1253,1823 1252,1823 1261,1848"/>
<path style="stroke-width:2.7" d="M1253,1853L1261,1848"/>
<polygon class="f" points="1148,1637 1147,1637 1146,1637 1145,1637 1144,1637 1143,1637 1142,1637 1126,1615 1135,1610 1151,1632 1152,1632 1153,1632 1154,1632 1155,1632 1156,1632 1157,1632"/>
<path style="stroke-width:2.7" d="M1126,1615L1135,1610"/>
<polygon class="f" points="1266,1839 1274,1823 1282,1818 1275,1834"/>
<path style="stroke-width:2.7" d="M1266,1839L1275,1834M1274,1823L1282,1818"/>
<polygon class="f" points="1274,1823 1258,1801 1258,1800 1259,1799 1259,1797 1259,1796 1259,1795 1259,1794 1268,1789 1268,1790 1268,1791 1267,1792 1267,1794 1267,1795 1267,1796 1282,1818"/>
<path style="stroke-width:2.7" d="M1274,1823L1282,1818"/>
<polygon class="f" points="1166,1619 1147,1614 1156,1609 1174,1614"/>
<path style="stroke-width:2.7" d="M1166,1619L1174,1614M1147,1614L1156,1609"/>
<polygon class="f" points="1182,1647 1181,1647 1179,1646 1178,1646 1177,1645 1176,1644 1175,1644 1166,1619 1174,1614 1183,1639 1185,1639 1186,1640 1187,1641 1188,1641 1189,1642 1190,1642"/>
<path style="stroke-width:2.7" d="M1166,1619L1174,1614"/>
<polygon class="f" points="1277,1776 1258,1761 1258,1759 1257,1758 1257,1756 1257,1755 1256,1753 1256,1752 1265,1747 1265,1748 1265,1750 1266,1751 1266,1753 1266,1754 1267,1756 1286,1771"/>
<path style="stroke-width:2.7" d="M1277,1776L1286,1771"/>
<polygon class="f" points="1278,1798 1277,1776 1286,1771 1287,1793"/>
<path style="stroke-width:2.7" d="M1278,1798L1287,1793M1277,1776L1286,1771"/>
<polygon class="f" points="1230,1669 1216,1676 1215,1674 1213,1673 1212,1672 1211,1671 1210,1670 1209,1669 1208,1646 1217,1641 1218,1664 1219,1665 1220,1666 1221,1667 1222,1668 1223,1669 1224,1671 1239,1664"/>
<path style="stroke-width:2.7" d="M1230,1669L1239,1664M1208,1646L1217,1641"/>
<polygon class="f" points="1208,1646 1189,1631 1198,1626 1217,1641"/>
<path style="stroke-width:2.7" d="M1208,1646L1217,1641M1189,1631L1198,1626"/>
<polygon class="f" points="1261,1721 1243,1716 1242,1715 1241,1713 1241,1712 1240,1710 1239,1709 1238,1707 1246,1691 1254,1686 1247,1702 1248,1704 1248,1705 1249,1707 1250,1708 1251,1710 1251,1711 1270,1716"/>
<path style="stroke-width:2.7" d="M1261,1721L1270,1716M1246,1691L1254,1686"/>
<polygon class="f" points="1271,1746 1261,1721 1270,1716 1279,1741"/>
<path style="stroke-width:2.7" d="M1271,1746L1279,1741M1261,1721L1270,1716"/>
<polygon class="f" points="1246,1691 1230,1669 1239,1664 1254,1686"/>
<path style="stroke-width:2.7" d="M1246,1691L1254,1686M1230,1669L1239,1664"/>
<polygon class="w" points="1259,1797 1259,1796 1259,1795 1259,1794 1278,1798 1277,1776 1258,1761 1258,1759 1257,1758 1257,1756 1257,1755 1256,1753 1256,1752 1271,1746 1261,1721 1243,1716 1242,1715 1241,1713 1241,1712 1240,1710 1239,1709 1238,1707 1246,1691 1230,1669 1216,1676 1215,1674 1213,1673 1212,1672 1211,1671 1210,1670 1209,1669 1208,1646 1189,1631 1182,1647 1181,1647 1179,1646 1178,1646 1177,1645 1176,1644 1175,1644 1166,1619 1147,1614 1148,1637 1147,1637 1146,1637 1145,1637 1144,1637 1143,1637 1142,1637 1126,1615 1112,1622 1121,1647 1120,1647 1120,1648 1119,1649 1118,1649 1118,1650 1117,1651 1098,1636 1091,1652 1106,1674 1106,1675 1106,1676 1106,1678 1105,1679 1105,1680 1105,1681 1087,1677 1087,1699 1106,1714 1107,1716 1107,1717 1107,1719 1108,1720 1108,1722 1108,1723 1094,1729 1103,1754 1122,1759 1122,1760 1123,1762 1124,1763 1125,1765 1125,1766 1126,1768 1119,1784 1134,1806 1149,1799 1150,1801 1151,1802 1152,1803 1153,1804 1154,1805 1155,1806 1156,1829 1175,1844 1183,1828 1184,1828 1185,1829 1186,1829 1187,1830 1188,1831 1190,1831 1199,1856 1217,1861 1216,1838 1217,1838 1218,1838 1219,1838 1220,1838 1221,1838 1222,1838 1238,1860 1253,1853 1243,1828 1244,1828 1245,1827 1245,1826 1246,1826 1247,1825 1247,1824 1266,1839 1274,1823 1258,1801 1258,1800 1259,1799"/>
<polygon class="f" points="1109,1871 1124,1860 1154,1843 1140,1853"/>
<path d="M1140,1853L1154,1843M1109,1871L1140,1853M1124,1860L1154,1843"/>
<polygon class="f" points="1044,1710 1026,1714 1056,1697 1074,1693"/>
<path d="M1074,1693L1056,1697M1044,1710L1074,1693M1026,1714L1056,1697"/>
<polygon class="f" points="1140,1896 1150,1880 1180,1862 1170,1878"/>
<path d="M1170,1878L1180,1862M1140,1896L1170,1878M1150,1880L1180,1862"/>
<polygon class="f" points="1044,1680 1023,1677 1054,1659 1074,1662"/>
<path d="M1074,1662L1054,1659M1044,1680L1074,1662M1023,1677L1054,1659"/>
<polygon class="f" points="1171,1913 1176,1892 1206,1874 1201,1895"/>
<path d="M1201,1895L1206,1874M1171,1913L1201,1895M1176,1892L1206,1874"/>
<polygon class="f" points="1049,1653 1028,1644 1058,1626 1080,1636"/>
<path d="M1080,1636L1058,1626M1049,1653L1080,1636M1028,1644L1058,1626"/>
<polygon class="f" points="1201,1921 1201,1896 1231,1878 1231,1903"/>
<path d="M1231,1903L1231,1878M1201,1921L1231,1903M1201,1896L1231,1878"/>
<polygon class="f" points="1061,1633 1040,1618 1070,1600 1091,1616"/>
<path d="M1091,1616L1070,1600M1061,1633L1091,1616M1040,1618L1070,1600"/>
<polygon class="f" points="1228,1919 1223,1891 1253,1874 1258,1901"/>
<path d="M1258,1901L1253,1874M1228,1919L1258,1901M1223,1891L1253,1874"/>
<polygon class="f" points="1078,1620 1058,1599 1088,1582 1109,1602"/>
<path d="M1109,1602L1088,1582M1078,1620L1109,1602M1058,1599L1088,1582"/>
<polygon class="f" points="1081,1619 1080,1619 1080,1619 1079,1620 1078,1620 1109,1602 1109,1602 1110,1602 1111,1601 1111,1601"/>
<path d="M1111,1601L1111,1601L1110,1602L1109,1602L1109,1602M1081,1619L1111,1601M1078,1620L1109,1602"/>
<polygon class="f" points="1246,1911 1250,1907 1281,1890 1276,1893"/>
<path d="M1276,1893L1281,1890M1246,1911L1276,1893M1250,1907L1281,1890"/>
<polygon class="f" points="1250,1907 1240,1879 1271,1862 1281,1890"/>
<path d="M1281,1890L1271,1862M1250,1907L1281,1890M1240,1879L1271,1862"/>
<polygon class="f" points="1240,1879 1241,1879 1242,1878 1242,1878 1243,1877 1273,1859 1272,1860 1272,1861 1271,1861 1271,1862"/>
<path d="M1271,1862L1271,1861L1272,1861L1272,1860L1273,1859M1240,1879L1271,1862M1243,1877L1273,1859"/>
<polygon class="f" points="1082,1590 1076,1591 1106,1574 1112,1572"/>
<path d="M1112,1572L1106,1574M1082,1590L1112,1572M1076,1591L1106,1574"/>
<polygon class="f" points="1100,1615 1082,1590 1112,1572 1130,1597"/>
<path d="M1130,1597L1112,1572M1100,1615L1130,1597M1082,1590L1112,1572"/>
<polygon class="f" points="1103,1614 1102,1614 1101,1614 1100,1614 1100,1615 1130,1597 1131,1597 1132,1597 1132,1597 1133,1597"/>
<path d="M1133,1597L1132,1597L1132,1597L1131,1597L1130,1597M1103,1614L1133,1597M1100,1615L1130,1597"/>
<polygon class="f" points="1264,1892 1267,1887 1298,1870 1295,1875"/>
<path d="M1295,1875L1298,1870M1264,1892L1295,1875M1267,1887L1298,1870"/>
<polygon class="f" points="1267,1887 1253,1860 1283,1843 1298,1870"/>
<path d="M1298,1870L1283,1843M1267,1887L1298,1870M1253,1860L1283,1843"/>
<polygon class="f" points="1253,1860 1253,1859 1254,1858 1254,1858 1254,1857 1285,1839 1284,1840 1284,1841 1284,1842 1283,1843"/>
<path d="M1283,1843L1284,1842L1284,1841L1284,1840L1285,1839M1253,1860L1283,1843M1254,1857L1285,1839"/>
<polygon class="f" points="1109,1590 1103,1589 1133,1572 1140,1573"/>
<path d="M1140,1573L1133,1572M1109,1590L1140,1573M1103,1589L1133,1572"/>
<polygon class="f" points="1124,1617 1109,1590 1140,1573 1154,1600"/>
<path d="M1154,1600L1140,1573M1124,1617L1154,1600M1109,1590L1140,1573"/>
<polygon class="f" points="1128,1618 1127,1618 1126,1618 1125,1618 1124,1617 1154,1600 1155,1600 1156,1600 1157,1601 1158,1601"/>
<path d="M1158,1601L1157,1601L1156,1600L1155,1600L1154,1600M1128,1618L1158,1601M1124,1617L1154,1600"/>
<polygon class="f" points="1276,1866 1278,1859 1308,1842 1306,1849"/>
<path d="M1306,1849L1308,1842M1276,1866L1306,1849M1278,1859L1308,1842"/>
<polygon class="f" points="1260,1835 1260,1834 1260,1833 1260,1832 1260,1830 1291,1813 1290,1814 1290,1815 1290,1816 1290,1817"/>
<path d="M1290,1817L1290,1816L1290,1815L1290,1814L1291,1813M1260,1835L1290,1817M1260,1830L1291,1813"/>
<polygon class="f" points="1278,1859 1260,1835 1290,1817 1308,1842"/>
<path d="M1308,1842L1290,1817M1278,1859L1308,1842M1260,1835L1290,1817"/>
<polygon class="f" points="1154,1630 1153,1630 1152,1629 1151,1629 1150,1628 1180,1611 1181,1611 1182,1612 1183,1612 1184,1613"/>
<path d="M1184,1613L1183,1612L1182,1612L1181,1611L1180,1611M1154,1630L1184,1613M1150,1628L1180,1611"/>
<polygon class="f" points="1150,1628 1140,1600 1170,1583 1180,1611"/>
<path d="M1180,1611L1170,1583M1150,1628L1180,1611M1140,1600L1170,1583"/>
<polygon class="f" points="1140,1600 1133,1597 1163,1580 1170,1583"/>
<path d="M1170,1583L1163,1580M1140,1600L1170,1583M1133,1597L1163,1580"/>
<polygon class="f" points="1260,1805 1260,1803 1260,1802 1260,1801 1260,1800 1290,1782 1290,1784 1290,1785 1290,1786 1291,1787"/>
<path d="M1291,1787L1290,1786L1290,1785L1290,1784L1290,1782M1260,1805L1291,1787M1260,1800L1290,1782"/>
<polygon class="f" points="1281,1825 1260,1805 1291,1787 1311,1808"/>
<path d="M1311,1808L1291,1787M1281,1825L1311,1808M1260,1805L1291,1787"/>
<polygon class="f" points="1281,1833 1281,1825 1311,1808 1311,1816"/>
<path d="M1311,1816L1311,1808M1281,1833L1311,1816M1281,1825L1311,1808"/>
<polygon class="f" points="1180,1650 1179,1649 1178,1648 1177,1647 1176,1646 1206,1629 1207,1630 1208,1630 1209,1631 1210,1632"/>
<path d="M1210,1632L1209,1631L1208,1630L1207,1630L1206,1629M1180,1650L1210,1632M1176,1646L1206,1629"/>
<polygon class="f" points="1176,1646 1171,1619 1201,1601 1206,1629"/>
<path d="M1206,1629L1201,1601M1176,1646L1206,1629M1171,1619L1201,1601"/>
<polygon class="f" points="1254,1772 1254,1770 1254,1769 1253,1768 1253,1767 1283,1749 1284,1750 1284,1752 1284,1753 1285,1754"/>
<path d="M1285,1754L1284,1753L1284,1752L1284,1750L1283,1749M1254,1772L1285,1754M1253,1767L1283,1749"/>
<polygon class="f" points="1171,1619 1164,1614 1194,1597 1201,1601"/>
<path d="M1201,1601L1194,1597M1171,1619L1201,1601M1164,1614L1194,1597"/>
<polygon class="f" points="1204,1675 1203,1674 1202,1673 1202,1672 1201,1671 1231,1653 1232,1654 1233,1655 1234,1656 1235,1657"/>
<path d="M1235,1657L1234,1656L1233,1655L1232,1654L1231,1653M1204,1675L1235,1657M1201,1671L1231,1653"/>
<polygon class="f" points="1276,1787 1254,1772 1285,1754 1306,1770"/>
<path d="M1306,1770L1285,1754M1276,1787L1306,1770M1254,1772L1285,1754"/>
<polygon class="f" points="1243,1738 1242,1737 1242,1735 1241,1734 1240,1733 1271,1715 1271,1717 1272,1718 1272,1719 1273,1720"/>
<path d="M1273,1720L1272,1719L1272,1718L1271,1717L1271,1715M1243,1738L1273,1720M1240,1733L1271,1715"/>
<polygon class="f" points="1226,1705 1225,1704 1224,1703 1223,1701 1223,1700 1253,1683 1254,1684 1254,1685 1255,1686 1256,1687"/>
<path d="M1256,1687L1255,1686L1254,1685L1254,1684L1253,1683M1226,1705L1256,1687M1223,1700L1253,1683"/>
<polygon class="f" points="1278,1796 1276,1787 1306,1770 1308,1778"/>
<path d="M1308,1778L1306,1770M1278,1796L1308,1778M1276,1787L1306,1770"/>
<polygon class="f" points="1253,1767 1267,1756 1298,1739 1283,1749"/>
<path d="M1283,1749L1298,1739M1253,1767L1283,1749M1267,1756L1298,1739"/>
<polygon class="f" points="1201,1671 1201,1646 1231,1628 1231,1653"/>
<path d="M1231,1653L1231,1628M1201,1671L1231,1653M1201,1646L1231,1628"/>
<polygon class="f" points="1222,1671 1204,1675 1235,1657 1252,1654"/>
<path d="M1252,1654L1235,1657M1222,1671L1252,1654M1204,1675L1235,1657"/>
<polygon class="f" points="1264,1747 1243,1738 1273,1720 1295,1730"/>
<path d="M1295,1730L1273,1720M1264,1747L1295,1730M1243,1738L1273,1720"/>
<polygon class="f" points="1201,1646 1194,1639 1225,1622 1231,1628"/>
<path d="M1231,1628L1225,1622M1201,1646L1231,1628M1194,1639L1225,1622"/>
<polygon class="f" points="1240,1733 1250,1716 1281,1699 1271,1715"/>
<path d="M1271,1715L1281,1699M1240,1733L1271,1715M1250,1716L1281,1699"/>
<polygon class="f" points="1223,1700 1228,1679 1258,1661 1253,1683"/>
<path d="M1253,1683L1258,1661M1223,1700L1253,1683M1228,1679L1258,1661"/>
<polygon class="f" points="1246,1708 1226,1705 1256,1687 1276,1690"/>
<path d="M1276,1690L1256,1687M1246,1708L1276,1690M1226,1705L1256,1687"/>
<polygon class="f" points="1267,1756 1264,1747 1295,1730 1298,1739"/>
<path d="M1298,1739L1295,1730M1267,1756L1298,1739M1264,1747L1295,1730"/>
<polygon class="f" points="1228,1679 1222,1671 1252,1654 1258,1661"/>
<path d="M1258,1661L1252,1654M1228,1679L1258,1661M1222,1671L1252,1654"/>
<polygon class="f" points="1250,1716 1246,1708 1276,1690 1281,1699"/>
<path d="M1281,1699L1276,1690M1250,1716L1281,1699M1246,1708L1276,1690"/>
<polygon class="w" points="1260,1833 1260,1832 1260,1830 1281,1833 1281,1825 1260,1805 1260,1803 1260,1802 1260,1801 1260,1800 1278,1796 1276,1787 1254,1772 1254,1770 1254,1769 1253,1768 1253,1767 1267,1756 1264,1747 1243,1738 1242,1737 1242,1735 1241,1734 1240,1733 1250,1716 1246,1708 1226,1705 1225,1704 1224,1703 1223,1701 1223,1700 1228,1679 1222,1671 1204,1675 1203,1674 1202,1673 1202,1672 1201,1671 1201,1646 1194,1639 1180,1650 1179,1649 1178,1648 1177,1647 1176,1646 1171,1619 1164,1614 1154,1630 1153,1630 1152,1629 1151,1629 1150,1628 1140,1600 1133,1597 1128,1618 1127,1618 1126,1618 1125,1618 1124,1617 1109,1590 1103,1589 1103,1614 1102,1614 1101,1614 1100,1614 1100,1615 1082,1590 1076,1591 1081,1619 1080,1619 1080,1619 1079,1620 1078,1620 1058,1599 1053,1603 1063,1631 1063,1631 1062,1632 1062,1632 1061,1633 1040,1618 1036,1623 1051,1650 1050,1651 1050,1652 1050,1652 1049,1653 1028,1644 1026,1651 1044,1675 1044,1676 1044,1677 1044,1678 1044,1680 1023,1677 1023,1685 1044,1705 1044,1707 1044,1708 1044,1709 1044,1710 1026,1714 1028,1723 1049,1738 1050,1740 1050,1741 1050,1742 1051,1743 1036,1754 1040,1763 1061,1772 1062,1773 1062,1775 1063,1776 1063,1777 1053,1794 1058,1802 1078,1805 1079,1806 1080,1807 1080,1809 1081,1810 1076,1831 1082,1839 1100,1835 1100,1836 1101,1837 1102,1838 1103,1839 1103,1864 1109,1871 1124,1860 1125,1861 1126,1862 1127,1863 1128,1864 1133,1891 1140,1896 1150,1880 1151,1880 1152,1881 1153,1881 1154,1882 1164,1910 1171,1913 1176,1892 1177,1892 1178,1892 1179,1892 1180,1893 1194,1920 1201,1921 1201,1896 1202,1896 1202,1896 1203,1896 1204,1895 1222,1920 1228,1919 1223,1891 1223,1891 1224,1891 1225,1890 1226,1890 1246,1911 1250,1907 1240,1879 1241,1879 1242,1878 1242,1878 1243,1877 1264,1892 1267,1887 1253,1860 1253,1859 1254,1858 1254,1858 1254,1857 1276,1866 1278,1859 1260,1835 1260,1834"/>
<path d="M1211,1857A118,68 60 1 0 1093,1653A118,68 60 1 0 1211,1857Z"/>
<path d="M1208,1852A112,65 60 1 0 1096,1658A112,65 60 1 0 1208,1852Z"/>
<polygon class="f" points="1052,1774 1035,1781 1081,1754 1098,1748"/>
<path d="M1098,1748L1081,1754M1035,1781L1081,1754"/>
<polygon class="f" points="1078,1851 1091,1837 1137,1811 1124,1825"/>
<path d="M1124,1825L1137,1811M1078,1851L1124,1825"/>
<polygon class="f" points="1049,1738 1027,1730 1073,1703 1095,1711"/>
<path d="M1095,1711L1073,1703M1027,1730L1073,1703"/>
<polygon class="f" points="1119,1879 1121,1855 1167,1828 1165,1853"/>
<path d="M1165,1853L1167,1828M1119,1879L1165,1853"/>
<polygon class="f" points="1061,1713 1040,1693 1086,1666 1107,1687"/>
<path d="M1107,1687L1086,1666M1040,1693L1086,1666"/>
<polygon class="f" points="1156,1881 1147,1853 1148,1852 1148,1852 1149,1851 1150,1851 1150,1850 1151,1850 1197,1823 1196,1824 1196,1824 1195,1825 1194,1825 1193,1826 1193,1826 1202,1855"/>
<path d="M1202,1855L1193,1826L1193,1826L1194,1825L1195,1825L1196,1824L1196,1824L1197,1823M1156,1881L1202,1855"/>
<polygon class="f" points="1071,1679 1055,1682 1101,1655 1117,1653"/>
<path d="M1117,1653L1101,1655M1071,1679L1117,1653M1055,1682L1101,1655"/>
<polygon class="f" points="1172,1870 1180,1856 1226,1830 1218,1844"/>
<path d="M1218,1844L1226,1830M1172,1870L1218,1844M1180,1856L1226,1830"/>
<polygon class="f" points="1091,1708 1090,1708 1089,1708 1088,1708 1087,1707 1086,1707 1085,1707 1071,1679 1117,1653 1131,1681 1132,1681 1133,1681 1134,1681 1135,1681 1136,1681 1137,1682"/>
<path d="M1137,1682L1136,1681L1135,1681L1134,1681L1133,1681L1132,1681L1131,1681L1117,1653M1071,1679L1117,1653"/>
<polygon class="f" points="1180,1856 1162,1831 1162,1830 1162,1829 1163,1828 1163,1827 1163,1826 1163,1825 1209,1799 1209,1800 1209,1801 1209,1802 1208,1803 1208,1804 1208,1805 1226,1830"/>
<path d="M1226,1830L1208,1805L1208,1804L1208,1803L1209,1802L1209,1801L1209,1800L1209,1799M1180,1856L1226,1830"/>
<polygon class="f" points="1121,1726 1120,1725 1119,1724 1118,1723 1117,1722 1116,1721 1115,1721 1111,1693 1157,1667 1161,1694 1162,1695 1163,1696 1164,1697 1165,1697 1166,1698 1167,1699"/>
<path d="M1167,1699L1166,1698L1165,1697L1164,1697L1163,1696L1162,1695L1161,1694L1157,1667M1111,1693L1157,1667"/>
<polygon class="f" points="1111,1693 1093,1684 1139,1657 1157,1667"/>
<path d="M1157,1667L1139,1657M1111,1693L1157,1667M1093,1684L1139,1657"/>
<polygon class="f" points="1184,1811 1162,1797 1162,1795 1161,1794 1161,1793 1161,1792 1161,1790 1160,1789 1206,1762 1206,1764 1207,1765 1207,1766 1207,1768 1208,1769 1208,1770 1230,1785"/>
<path d="M1230,1785L1208,1770L1208,1769L1207,1768L1207,1766L1207,1765L1206,1764L1206,1762M1184,1811L1230,1785"/>
<polygon class="f" points="1185,1833 1184,1811 1230,1785 1231,1807"/>
<path d="M1231,1807L1230,1785M1185,1833L1231,1807M1184,1811L1230,1785"/>
<polygon class="f" points="1167,1758 1147,1758 1146,1757 1146,1756 1145,1754 1144,1753 1143,1752 1143,1751 1150,1731 1196,1705 1188,1724 1189,1725 1190,1727 1191,1728 1192,1729 1192,1730 1193,1731 1213,1732"/>
<path d="M1213,1732L1193,1731L1192,1730L1192,1729L1191,1728L1190,1727L1189,1725L1188,1724L1196,1705M1167,1758L1213,1732M1150,1731L1196,1705"/>
<polygon class="f" points="1150,1731 1134,1712 1179,1685 1196,1705"/>
<path d="M1196,1705L1179,1685M1150,1731L1196,1705M1134,1712L1179,1685"/>
<polygon class="f" points="1177,1782 1167,1758 1213,1732 1223,1756"/>
<path d="M1223,1756L1213,1732M1177,1782L1223,1756M1167,1758L1213,1732"/>
<polygon class="w" style="stroke-width:2.7" points="1163,1828 1163,1827 1163,1826 1163,1825 1185,1833 1184,1811 1162,1797 1162,1795 1161,1794 1161,1793 1161,1792 1161,1790 1160,1789 1177,1782 1167,1758 1147,1758 1146,1757 1146,1756 1145,1754 1144,1753 1143,1752 1143,1751 1150,1731 1134,1712 1121,1726 1120,1725 1119,1724 1118,1723 1117,1722 1116,1721 1115,1721 1111,1693 1093,1684 1091,1708 1090,1708 1089,1708 1088,1708 1087,1707 1086,1707 1085,1707 1071,1679 1055,1682 1065,1710 1064,1711 1064,1711 1063,1712 1062,1712 1062,1713 1061,1713 1040,1693 1032,1707 1050,1732 1050,1733 1050,1734 1049,1735 1049,1736 1049,1737 1049,1738 1027,1730 1028,1752 1050,1766 1050,1768 1050,1769 1051,1770 1051,1771 1051,1773 1052,1774 1035,1781 1045,1805 1065,1805 1066,1806 1066,1807 1067,1809 1068,1810 1069,1811 1069,1812 1062,1832 1078,1851 1091,1837 1092,1838 1093,1839 1094,1840 1095,1841 1096,1842 1097,1842 1101,1870 1119,1879 1121,1855 1122,1855 1123,1855 1124,1855 1125,1856 1126,1856 1127,1856 1141,1884 1156,1881 1147,1853 1148,1852 1148,1852 1149,1851 1150,1851 1150,1850 1151,1850 1172,1870 1180,1856 1162,1831 1162,1830 1162,1829"/>
<polygon class="f" points="1043,1779 1031,1786 1040,1781 1052,1774"/>
<path style="stroke-width:2.7" d="M1031,1786L1040,1781"/>
<polygon class="f" points="1072,1852 1082,1842 1091,1837 1080,1847"/>
<path style="stroke-width:2.7" d="M1072,1852L1080,1847"/>
<polygon class="f" points="1040,1743 1024,1738 1032,1733 1049,1738"/>
<path style="stroke-width:2.7" d="M1024,1738L1032,1733"/>
<polygon class="f" points="1110,1878 1112,1860 1121,1855 1118,1873"/>
<path style="stroke-width:2.7" d="M1110,1878L1118,1873"/>
<polygon class="f" points="1052,1718 1036,1704 1045,1699 1061,1713"/>
<path style="stroke-width:2.7" d="M1036,1704L1045,1699"/>
<polygon class="f" points="1144,1879 1138,1858 1139,1857 1140,1857 1140,1856 1141,1856 1142,1855 1142,1855 1151,1850 1150,1850 1150,1851 1149,1851 1148,1852 1148,1852 1147,1853 1153,1874"/>
<path style="stroke-width:2.7" d="M1144,1879L1153,1874"/>
<polygon class="f" points="1065,1691 1050,1694 1059,1689 1073,1686"/>
<path style="stroke-width:2.7" d="M1065,1691L1073,1686M1050,1694L1059,1689"/>
<polygon class="f" points="1159,1869 1167,1856 1175,1851 1167,1864"/>
<path style="stroke-width:2.7" d="M1159,1869L1167,1864M1167,1856L1175,1851"/>
<polygon class="f" points="1082,1713 1081,1713 1081,1713 1080,1713 1079,1712 1078,1712 1077,1712 1065,1691 1073,1686 1085,1707 1086,1707 1087,1707 1088,1708 1089,1708 1090,1708 1091,1708"/>
<path style="stroke-width:2.7" d="M1065,1691L1073,1686"/>
<polygon class="f" points="1167,1856 1153,1836 1154,1835 1154,1834 1154,1833 1154,1832 1154,1831 1155,1830 1163,1825 1163,1826 1163,1827 1163,1828 1162,1829 1162,1830 1162,1831 1175,1851"/>
<path style="stroke-width:2.7" d="M1167,1856L1175,1851"/>
<polygon class="f" points="1102,1704 1085,1695 1094,1690 1111,1699"/>
<path style="stroke-width:2.7" d="M1102,1704L1111,1699M1085,1695L1094,1690"/>
<polygon class="f" points="1112,1731 1111,1730 1111,1729 1110,1728 1109,1727 1108,1726 1107,1726 1102,1704 1111,1699 1115,1721 1116,1721 1117,1722 1118,1723 1119,1724 1120,1725 1121,1726"/>
<path style="stroke-width:2.7" d="M1102,1704L1111,1699"/>
<polygon class="f" points="1170,1814 1153,1802 1153,1800 1153,1799 1153,1798 1152,1797 1152,1795 1152,1794 1160,1789 1161,1790 1161,1792 1161,1793 1161,1794 1162,1795 1162,1797 1179,1809"/>
<path style="stroke-width:2.7" d="M1170,1814L1179,1809"/>
<polygon class="f" points="1171,1835 1170,1814 1179,1809 1180,1830"/>
<path style="stroke-width:2.7" d="M1171,1835L1180,1830M1170,1814L1179,1809"/>
<polygon class="f" points="1154,1765 1138,1763 1138,1762 1137,1761 1136,1759 1135,1758 1135,1757 1134,1756 1139,1739 1147,1734 1143,1751 1143,1752 1144,1753 1145,1754 1146,1756 1146,1757 1147,1758 1163,1760"/>
<path style="stroke-width:2.7" d="M1154,1765L1163,1760M1139,1739L1147,1734"/>
<polygon class="f" points="1139,1739 1123,1721 1132,1716 1147,1734"/>
<path style="stroke-width:2.7" d="M1139,1739L1147,1734M1123,1721L1132,1716"/>
<polygon class="f" points="1164,1787 1154,1765 1163,1760 1172,1782"/>
<path style="stroke-width:2.7" d="M1164,1787L1172,1782M1154,1765L1163,1760"/>
<polygon class="w" points="1154,1833 1154,1832 1154,1831 1155,1830 1171,1835 1170,1814 1153,1802 1153,1800 1153,1799 1153,1798 1152,1797 1152,1795 1152,1794 1164,1787 1154,1765 1138,1763 1138,1762 1137,1761 1136,1759 1135,1758 1135,1757 1134,1756 1139,1739 1123,1721 1112,1731 1111,1730 1111,1729 1110,1728 1109,1727 1108,1726 1107,1726 1102,1704 1085,1695 1082,1713 1081,1713 1081,1713 1080,1713 1079,1712 1078,1712 1077,1712 1065,1691 1050,1694 1056,1715 1056,1716 1055,1716 1054,1717 1054,1717 1053,1718 1052,1718 1036,1704 1028,1717 1041,1737 1041,1738 1041,1739 1041,1740 1040,1741 1040,1742 1040,1743 1024,1738 1024,1759 1041,1771 1042,1773 1042,1774 1042,1775 1042,1776 1043,1778 1043,1779 1031,1786 1040,1808 1056,1810 1057,1811 1058,1812 1058,1814 1059,1815 1060,1816 1061,1817 1056,1834 1072,1852 1082,1842 1083,1843 1084,1844 1085,1845 1086,1846 1087,1847 1088,1847 1092,1869 1110,1878 1112,1860 1113,1860 1114,1860 1115,1860 1116,1861 1117,1861 1118,1861 1130,1882 1144,1879 1138,1858 1139,1857 1140,1857 1140,1856 1141,1856 1142,1855 1142,1855 1159,1869 1167,1856 1153,1836 1154,1835 1154,1834"/>
<polygon class="f" points="997,1915 1013,1902 1054,1879 1038,1891"/>
<path d="M1038,1891L1054,1879M997,1915L1038,1891"/>
<polygon class="f" points="951,1785 930,1789 971,1766 992,1762"/>
<path d="M992,1762L971,1766M930,1789L971,1766"/>
<polygon class="f" points="1037,1952 1047,1931 1088,1908 1078,1929"/>
<path d="M1078,1929L1088,1908M1037,1952L1078,1929"/>
<polygon class="f" points="946,1743 922,1737 963,1714 987,1720"/>
<path d="M987,1720L963,1714M922,1737L963,1714"/>
<polygon class="f" points="1079,1976 1081,1948 1122,1925 1120,1953"/>
<path d="M1120,1953L1122,1925M1079,1976L1120,1953"/>
<polygon class="f" points="953,1707 928,1692 968,1668 993,1684"/>
<path d="M993,1684L968,1668M928,1692L968,1668"/>
<polygon class="f" points="1119,1983 1113,1952 1154,1928 1160,1960"/>
<path d="M1160,1960L1154,1928M1119,1983L1160,1960"/>
<polygon class="f" points="969,1682 946,1658 986,1635 1010,1658"/>
<path d="M1010,1658L986,1635M946,1658L986,1635"/>
<polygon class="f" points="975,1640 960,1646 1001,1623 1015,1616"/>
<path d="M1015,1616L1001,1623M975,1640L1015,1616M960,1646L1001,1623"/>
<polygon class="f" points="1153,1974 1140,1942 1141,1941 1141,1941 1142,1940 1143,1939 1143,1939 1144,1938 1185,1915 1184,1915 1183,1916 1183,1916 1182,1917 1181,1918 1180,1918 1194,1950"/>
<path d="M1194,1950L1180,1918L1181,1918L1182,1917L1183,1916L1183,1916L1184,1915L1185,1915M1153,1974L1194,1950"/>
<polygon class="f" points="1000,1668 999,1668 998,1668 997,1668 996,1669 995,1669 994,1669 975,1640 1015,1616 1035,1645 1036,1645 1037,1645 1038,1645 1039,1645 1040,1645 1041,1645"/>
<path d="M1041,1645L1040,1645L1039,1645L1038,1645L1037,1645L1036,1645L1035,1645L1015,1616M975,1640L1015,1616"/>
<polygon class="f" points="1168,1962 1177,1948 1218,1925 1208,1938"/>
<path d="M1208,1938L1218,1925M1168,1962L1208,1938M1177,1948L1218,1925"/>
<polygon class="f" points="1177,1948 1158,1919 1159,1918 1159,1917 1159,1916 1160,1915 1160,1914 1161,1913 1201,1889 1201,1890 1201,1891 1200,1892 1200,1893 1199,1894 1199,1895 1218,1925"/>
<path d="M1218,1925L1199,1895L1199,1894L1200,1893L1200,1892L1201,1891L1201,1890L1201,1889M1177,1948L1218,1925"/>
<polygon class="f" points="1011,1638 994,1637 1035,1613 1052,1614"/>
<path d="M1052,1614L1035,1613M1011,1638L1052,1614M994,1637L1035,1613"/>
<polygon class="f" points="1032,1672 1031,1671 1030,1671 1029,1671 1027,1670 1026,1670 1025,1670 1011,1638 1052,1614 1066,1646 1067,1647 1068,1647 1069,1647 1070,1647 1072,1648 1073,1648"/>
<path d="M1073,1648L1072,1648L1070,1647L1069,1647L1068,1647L1067,1647L1066,1646L1052,1614M1011,1638L1052,1614"/>
<polygon class="f" points="1186,1928 1190,1909 1230,1885 1226,1905"/>
<path d="M1226,1905L1230,1885M1186,1928L1226,1905M1190,1909L1230,1885"/>
<polygon class="f" points="1190,1909 1166,1885 1167,1883 1167,1882 1167,1881 1167,1880 1167,1878 1167,1877 1208,1853 1208,1855 1208,1856 1207,1857 1207,1859 1207,1860 1207,1861 1230,1885"/>
<path d="M1230,1885L1207,1861L1207,1860L1207,1859L1207,1857L1208,1856L1208,1855L1208,1853M1190,1909L1230,1885"/>
<polygon class="f" points="1066,1689 1065,1688 1064,1687 1063,1686 1062,1686 1061,1685 1059,1684 1053,1653 1093,1629 1100,1661 1101,1662 1102,1662 1104,1663 1105,1664 1106,1664 1107,1665"/>
<path d="M1107,1665L1106,1664L1105,1664L1104,1663L1102,1662L1101,1662L1100,1661L1093,1629M1053,1653L1093,1629"/>
<polygon class="f" points="1053,1653 1034,1644 1075,1620 1093,1629"/>
<path d="M1093,1629L1075,1620M1053,1653L1093,1629M1034,1644L1075,1620"/>
<polygon class="f" points="1189,1860 1164,1844 1164,1842 1164,1841 1163,1839 1163,1838 1163,1836 1162,1835 1203,1811 1203,1813 1204,1814 1204,1816 1204,1817 1205,1819 1205,1820 1230,1837"/>
<path d="M1230,1837L1205,1820L1205,1819L1204,1817L1204,1816L1204,1814L1203,1813L1203,1811M1189,1860L1230,1837"/>
<polygon class="f" points="1100,1718 1099,1717 1098,1716 1097,1714 1096,1713 1094,1712 1093,1711 1094,1683 1135,1659 1134,1688 1135,1689 1136,1690 1137,1691 1138,1692 1139,1693 1141,1694"/>
<path d="M1141,1694L1139,1693L1138,1692L1137,1691L1136,1690L1135,1689L1134,1688L1135,1659M1094,1683L1135,1659"/>
<polygon class="f" points="1191,1883 1189,1860 1230,1837 1232,1859"/>
<path d="M1232,1859L1230,1837M1191,1883L1232,1859M1189,1860L1230,1837"/>
<polygon class="f" points="1094,1683 1076,1668 1117,1644 1135,1659"/>
<path d="M1135,1659L1117,1644M1094,1683L1135,1659M1076,1668L1117,1644"/>
<polygon class="f" points="1175,1806 1151,1799 1151,1798 1150,1796 1149,1795 1149,1793 1148,1792 1147,1790 1163,1777 1204,1753 1188,1767 1189,1768 1189,1770 1190,1771 1191,1773 1191,1774 1192,1776 1216,1783"/>
<path d="M1216,1783L1192,1776L1191,1774L1191,1773L1190,1771L1189,1770L1189,1768L1188,1767L1204,1753M1175,1806L1216,1783M1163,1777L1204,1753"/>
<polygon class="f" points="1150,1753 1129,1756 1128,1754 1127,1753 1126,1752 1126,1750 1125,1749 1124,1748 1132,1726 1173,1702 1164,1724 1165,1725 1166,1727 1167,1728 1168,1730 1169,1731 1170,1732 1191,1729"/>
<path d="M1191,1729L1170,1732L1169,1731L1168,1730L1167,1728L1166,1727L1165,1725L1164,1724L1173,1702M1150,1753L1191,1729M1132,1726L1173,1702"/>
<polygon class="f" points="1183,1831 1175,1806 1216,1783 1224,1807"/>
<path d="M1224,1807L1216,1783M1183,1831L1224,1807M1175,1806L1216,1783"/>
<polygon class="f" points="1132,1726 1116,1705 1157,1682 1173,1702"/>
<path d="M1173,1702L1157,1682M1132,1726L1173,1702M1116,1705L1157,1682"/>
<polygon class="f" points="1163,1777 1150,1753 1191,1729 1204,1753"/>
<path d="M1204,1753L1191,1729M1163,1777L1204,1753M1150,1753L1191,1729"/>
<polygon class="w" style="stroke-width:2.7" points="1167,1881 1167,1880 1167,1878 1167,1877 1191,1883 1189,1860 1164,1844 1164,1842 1164,1841 1163,1839 1163,1838 1163,1836 1162,1835 1183,1831 1175,1806 1151,1799 1151,1798 1150,1796 1149,1795 1149,1793 1148,1792 1147,1790 1163,1777 1150,1753 1129,1756 1128,1754 1127,1753 1126,1752 1126,1750 1125,1749 1124,1748 1132,1726 1116,1705 1100,1718 1099,1717 1098,1716 1097,1714 1096,1713 1094,1712 1093,1711 1094,1683 1076,1668 1066,1689 1065,1688 1064,1687 1063,1686 1062,1686 1061,1685 1059,1684 1053,1653 1034,1644 1032,1672 1031,1671 1030,1671 1029,1671 1027,1670 1026,1670 1025,1670 1011,1638 994,1637 1000,1668 999,1668 998,1668 997,1668 996,1669 995,1669 994,1669 975,1640 960,1646 973,1678 973,1679 972,1679 971,1680 970,1681 970,1681 969,1682 946,1658 936,1672 955,1701 955,1702 954,1703 954,1704 953,1705 953,1706 953,1707 928,1692 924,1711 947,1735 947,1737 947,1738 946,1739 946,1740 946,1742 946,1743 922,1737 924,1760 949,1776 949,1778 950,1779 950,1781 950,1782 951,1784 951,1785 930,1789 938,1814 962,1821 963,1822 963,1824 964,1825 964,1827 965,1828 966,1830 950,1843 963,1867 984,1864 985,1866 986,1867 987,1868 988,1870 989,1871 990,1872 981,1894 997,1915 1013,1902 1014,1903 1016,1904 1017,1906 1018,1907 1019,1908 1020,1909 1019,1937 1037,1952 1047,1931 1048,1932 1049,1933 1050,1934 1051,1934 1053,1935 1054,1936 1061,1967 1079,1976 1081,1948 1082,1949 1084,1949 1085,1949 1086,1950 1087,1950 1088,1950 1102,1982 1119,1983 1113,1952 1114,1952 1115,1952 1116,1952 1117,1951 1118,1951 1119,1951 1139,1980 1153,1974 1140,1942 1141,1941 1141,1941 1142,1940 1143,1939 1143,1939 1144,1938 1168,1962 1177,1948 1158,1919 1159,1918 1159,1917 1159,1916 1160,1915 1160,1914 1161,1913 1186,1928 1190,1909 1166,1885 1167,1883 1167,1882"/>
<polygon class="f" points="991,1915 1005,1907 1013,1902 1000,1910"/>
<path style="stroke-width:2.7" d="M991,1915L1000,1910"/>
<polygon class="f" points="942,1790 927,1795 936,1790 951,1785"/>
<path style="stroke-width:2.7" d="M927,1795L936,1790"/>
<polygon class="f" points="1030,1951 1038,1936 1047,1931 1038,1946"/>
<path style="stroke-width:2.7" d="M1030,1951L1038,1946"/>
<polygon class="f" points="938,1748 920,1745 928,1740 946,1743"/>
<path style="stroke-width:2.7" d="M920,1745L928,1740"/>
<polygon class="f" points="1070,1974 1073,1953 1081,1948 1078,1969"/>
<path style="stroke-width:2.7" d="M1070,1974L1078,1969"/>
<polygon class="f" points="944,1712 925,1702 933,1697 953,1707"/>
<path style="stroke-width:2.7" d="M925,1702L933,1697"/>
<polygon class="f" points="1108,1981 1105,1957 1113,1952 1116,1976"/>
<path style="stroke-width:2.7" d="M1108,1981L1116,1976"/>
<polygon class="f" points="960,1687 942,1670 951,1665 969,1682"/>
<path style="stroke-width:2.7" d="M942,1670L951,1665"/>
<polygon class="f" points="970,1652 956,1659 965,1654 978,1647"/>
<path style="stroke-width:2.7" d="M970,1652L978,1647M956,1659L965,1654"/>
<polygon class="f" points="1140,1971 1131,1947 1132,1946 1133,1946 1133,1945 1134,1944 1135,1944 1136,1943 1144,1938 1143,1939 1143,1939 1142,1940 1141,1941 1141,1941 1140,1942 1149,1966"/>
<path style="stroke-width:2.7" d="M1140,1971L1149,1966"/>
<polygon class="f" points="991,1673 990,1673 989,1673 988,1673 987,1674 986,1674 985,1674 970,1652 978,1647 994,1669 995,1669 996,1669 997,1668 998,1668 999,1668 1000,1668"/>
<path style="stroke-width:2.7" d="M970,1652L978,1647"/>
<polygon class="f" points="1154,1960 1163,1947 1172,1942 1163,1955"/>
<path style="stroke-width:2.7" d="M1154,1960L1163,1955M1163,1947L1172,1942"/>
<polygon class="f" points="1163,1947 1149,1924 1150,1923 1150,1922 1151,1921 1151,1920 1152,1919 1152,1918 1161,1913 1160,1914 1160,1915 1159,1916 1159,1917 1159,1918 1158,1919 1172,1942"/>
<path style="stroke-width:2.7" d="M1163,1947L1172,1942"/>
<polygon class="f" points="1005,1651 988,1649 997,1644 1013,1646"/>
<path style="stroke-width:2.7" d="M1005,1651L1013,1646M988,1649L997,1644"/>
<polygon class="f" points="1023,1677 1022,1676 1021,1676 1020,1676 1019,1675 1018,1675 1017,1675 1005,1651 1013,1646 1025,1670 1026,1670 1027,1670 1029,1671 1030,1671 1031,1671 1032,1672"/>
<path style="stroke-width:2.7" d="M1005,1651L1013,1646"/>
<polygon class="f" points="1171,1928 1175,1910 1184,1905 1180,1923"/>
<path style="stroke-width:2.7" d="M1171,1928L1180,1923M1175,1910L1184,1905"/>
<polygon class="f" points="1175,1910 1158,1890 1158,1888 1158,1887 1158,1886 1158,1885 1158,1883 1158,1882 1167,1877 1167,1878 1167,1880 1167,1881 1167,1882 1167,1883 1166,1885 1184,1905"/>
<path style="stroke-width:2.7" d="M1175,1910L1184,1905"/>
<polygon class="f" points="1044,1665 1026,1656 1035,1651 1053,1660"/>
<path style="stroke-width:2.7" d="M1044,1665L1053,1660M1026,1656L1035,1651"/>
<polygon class="f" points="1058,1694 1057,1693 1055,1692 1054,1691 1053,1691 1052,1690 1051,1689 1044,1665 1053,1660 1059,1684 1061,1685 1062,1686 1063,1686 1064,1687 1065,1688 1066,1689"/>
<path style="stroke-width:2.7" d="M1044,1665L1053,1660"/>
<polygon class="f" points="1174,1863 1155,1849 1155,1847 1155,1846 1155,1844 1154,1843 1154,1841 1154,1840 1162,1835 1163,1836 1163,1838 1163,1839 1164,1841 1164,1842 1164,1844 1183,1858"/>
<path style="stroke-width:2.7" d="M1174,1863L1183,1858"/>
<polygon class="f" points="1176,1885 1174,1863 1183,1858 1185,1880"/>
<path style="stroke-width:2.7" d="M1176,1885L1185,1880M1174,1863L1183,1858"/>
<polygon class="f" points="1091,1723 1090,1722 1089,1721 1088,1719 1087,1718 1086,1717 1085,1716 1084,1694 1093,1689 1093,1711 1094,1712 1096,1713 1097,1714 1098,1716 1099,1717 1100,1718"/>
<path style="stroke-width:2.7" d="M1084,1694L1093,1689"/>
<polygon class="f" points="1084,1694 1066,1679 1075,1674 1093,1689"/>
<path style="stroke-width:2.7" d="M1084,1694L1093,1689M1066,1679L1075,1674"/>
<polygon class="f" points="1162,1811 1143,1804 1142,1803 1141,1801 1141,1800 1140,1798 1139,1797 1139,1795 1150,1783 1158,1778 1147,1790 1148,1792 1149,1793 1149,1795 1150,1796 1151,1798 1151,1799 1170,1806"/>
<path style="stroke-width:2.7" d="M1162,1811L1170,1806M1150,1783L1158,1778"/>
<polygon class="f" points="1137,1760 1120,1761 1120,1759 1119,1758 1118,1757 1117,1755 1116,1754 1115,1753 1120,1734 1129,1729 1124,1748 1125,1749 1126,1750 1126,1752 1127,1753 1128,1754 1129,1756 1146,1755"/>
<path style="stroke-width:2.7" d="M1137,1760L1146,1755M1120,1734L1129,1729"/>
<polygon class="f" points="1169,1835 1162,1811 1170,1806 1177,1830"/>
<path style="stroke-width:2.7" d="M1169,1835L1177,1830M1162,1811L1170,1806"/>
<polygon class="f" points="1120,1734 1105,1715 1113,1710 1129,1729"/>
<path style="stroke-width:2.7" d="M1120,1734L1129,1729M1105,1715L1113,1710"/>
<polygon class="f" points="1150,1783 1137,1760 1146,1755 1158,1778"/>
<path style="stroke-width:2.7" d="M1150,1783L1158,1778M1137,1760L1146,1755"/>
<polygon class="w" points="1158,1886 1158,1885 1158,1883 1158,1882 1176,1885 1174,1863 1155,1849 1155,1847 1155,1846 1155,1844 1154,1843 1154,1841 1154,1840 1169,1835 1162,1811 1143,1804 1142,1803 1141,1801 1141,1800 1140,1798 1139,1797 1139,1795 1150,1783 1137,1760 1120,1761 1120,1759 1119,1758 1118,1757 1117,1755 1116,1754 1115,1753 1120,1734 1105,1715 1091,1723 1090,1722 1089,1721 1088,1719 1087,1718 1086,1717 1085,1716 1084,1694 1066,1679 1058,1694 1057,1693 1055,1692 1054,1691 1053,1691 1052,1690 1051,1689 1044,1665 1026,1656 1023,1677 1022,1676 1021,1676 1020,1676 1019,1675 1018,1675 1017,1675 1005,1651 988,1649 991,1673 990,1673 989,1673 988,1673 987,1674 986,1674 985,1674 970,1652 956,1659 965,1683 964,1684 963,1684 963,1685 962,1686 961,1686 960,1687 942,1670 933,1683 946,1706 946,1707 946,1708 945,1709 945,1710 944,1711 944,1712 925,1702 921,1720 938,1740 938,1742 938,1743 938,1744 938,1745 938,1747 938,1748 920,1745 921,1767 940,1781 941,1783 941,1784 941,1786 942,1787 942,1789 942,1790 927,1795 934,1819 953,1826 954,1827 955,1829 955,1830 956,1832 956,1833 957,1835 946,1847 958,1870 975,1869 976,1871 977,1872 978,1873 979,1875 980,1876 981,1877 976,1896 991,1915 1005,1907 1006,1908 1007,1909 1008,1911 1009,1912 1010,1913 1011,1914 1012,1936 1030,1951 1038,1936 1039,1937 1041,1938 1042,1939 1043,1939 1044,1940 1045,1941 1052,1965 1070,1974 1073,1953 1074,1954 1075,1954 1076,1954 1077,1955 1078,1955 1079,1955 1091,1979 1108,1981 1105,1957 1106,1957 1107,1957 1108,1957 1109,1956 1110,1956 1110,1956 1126,1978 1140,1971 1131,1947 1132,1946 1133,1946 1133,1945 1134,1944 1135,1944 1136,1943 1154,1960 1163,1947 1149,1924 1150,1923 1150,1922 1151,1921 1151,1920 1152,1919 1152,1918 1171,1928 1175,1910 1158,1890 1158,1888 1158,1887"/>
<polygon class="f" points="963,1963 979,1951 1018,1929 1002,1941"/>
<path d="M1002,1941L1018,1929M963,1963L1002,1941M979,1951L1018,1929"/>
<polygon class="f" points="893,1789 872,1793 911,1771 932,1767"/>
<path d="M932,1767L911,1771M893,1789L932,1767M872,1793L911,1771"/>
<polygon class="f" points="996,1991 1007,1972 1046,1949 1035,1968"/>
<path d="M1035,1968L1046,1949M996,1991L1035,1968M1007,1972L1046,1949"/>
<polygon class="f" points="892,1756 869,1752 908,1730 931,1734"/>
<path d="M931,1734L908,1730M892,1756L931,1734M869,1752L908,1730"/>
<polygon class="f" points="1030,2009 1035,1985 1074,1962 1069,1987"/>
<path d="M1069,1987L1074,1962M1030,2009L1069,1987M1035,1985L1074,1962"/>
<polygon class="f" points="899,1728 874,1717 913,1694 937,1705"/>
<path d="M937,1705L913,1694M899,1728L937,1705M874,1717L913,1694"/>
<polygon class="f" points="1062,2018 1062,1989 1101,1967 1101,1995"/>
<path d="M1101,1995L1101,1967M1062,2018L1101,1995M1062,1989L1101,1967"/>
<polygon class="f" points="911,1706 887,1688 926,1666 950,1684"/>
<path d="M950,1684L926,1666M911,1706L950,1684M887,1688L926,1666"/>
<polygon class="f" points="1092,2016 1085,1985 1124,1962 1131,1993"/>
<path d="M1131,1993L1124,1962M1092,2016L1131,1993M1085,1985L1124,1962"/>
<polygon class="f" points="930,1692 907,1668 946,1646 969,1669"/>
<path d="M969,1669L946,1646M930,1692L969,1669M907,1668L946,1646"/>
<polygon class="f" points="933,1690 932,1691 931,1691 930,1691 930,1692 969,1669 969,1669 970,1669 971,1668 972,1668"/>
<path d="M972,1668L971,1668L970,1669L969,1669L969,1669M933,1690L972,1668M930,1692L969,1669"/>
<polygon class="f" points="1111,2007 1116,2003 1155,1981 1150,1984"/>
<path d="M1150,1984L1155,1981M1111,2007L1150,1984M1116,2003L1155,1981"/>
<polygon class="f" points="1116,2003 1104,1972 1143,1949 1155,1981"/>
<path d="M1155,1981L1143,1949M1116,2003L1155,1981M1104,1972L1143,1949"/>
<polygon class="f" points="1104,1972 1105,1971 1106,1970 1106,1970 1107,1969 1146,1946 1145,1947 1145,1948 1144,1948 1143,1949"/>
<path d="M1143,1949L1144,1948L1145,1948L1145,1947L1146,1946M1104,1972L1143,1949M1107,1969L1146,1946"/>
<polygon class="f" points="933,1658 926,1659 965,1637 972,1635"/>
<path d="M972,1635L965,1637M933,1658L972,1635M926,1659L965,1637"/>
<polygon class="f" points="953,1686 933,1658 972,1635 992,1664"/>
<path d="M992,1664L972,1635M953,1686L992,1664M933,1658L972,1635"/>
<polygon class="f" points="956,1686 955,1686 954,1686 954,1686 953,1686 992,1664 992,1664 993,1663 994,1663 995,1663"/>
<path d="M995,1663L994,1663L993,1663L992,1664L992,1664M956,1686L995,1663M953,1686L992,1664"/>
<polygon class="f" points="1131,1987 1135,1981 1174,1959 1170,1964"/>
<path d="M1170,1964L1174,1959M1131,1987L1170,1964M1135,1981L1174,1959"/>
<polygon class="f" points="1135,1981 1118,1951 1157,1928 1174,1959"/>
<path d="M1174,1959L1157,1928M1135,1981L1174,1959M1118,1951L1157,1928"/>
<polygon class="f" points="1118,1951 1118,1950 1119,1949 1119,1948 1119,1947 1158,1925 1158,1925 1158,1926 1157,1927 1157,1928"/>
<path d="M1157,1928L1157,1927L1158,1926L1158,1925L1158,1925M1118,1951L1157,1928M1119,1947L1158,1925"/>
<polygon class="f" points="963,1658 956,1657 995,1635 1002,1636"/>
<path d="M1002,1636L995,1635M963,1658L1002,1636M956,1657L995,1635"/>
<polygon class="f" points="979,1689 963,1658 1002,1636 1018,1667"/>
<path d="M1018,1667L1002,1636M979,1689L1018,1667M963,1658L1002,1636"/>
<polygon class="f" points="983,1690 982,1690 981,1690 980,1689 979,1689 1018,1667 1019,1667 1020,1667 1021,1667 1022,1668"/>
<path d="M1022,1668L1021,1667L1020,1667L1019,1667L1018,1667M983,1690L1022,1668M979,1689L1018,1667"/>
<polygon class="f" points="1125,1923 1125,1922 1126,1921 1126,1920 1126,1919 1165,1896 1165,1897 1164,1899 1164,1900 1164,1901"/>
<path d="M1164,1901L1164,1900L1164,1899L1165,1897L1165,1896M1125,1923L1164,1901M1126,1919L1165,1896"/>
<polygon class="f" points="1144,1958 1146,1951 1185,1928 1183,1936"/>
<path d="M1183,1936L1185,1928M1144,1958L1183,1936M1146,1951L1185,1928"/>
<polygon class="f" points="1146,1951 1125,1923 1164,1901 1185,1928"/>
<path d="M1185,1928L1164,1901M1146,1951L1185,1928M1125,1923L1164,1901"/>
<polygon class="f" points="1011,1703 1010,1703 1009,1702 1008,1701 1007,1701 1046,1678 1047,1679 1048,1679 1049,1680 1050,1681"/>
<path d="M1050,1681L1049,1680L1048,1679L1047,1679L1046,1678M1011,1703L1050,1681M1007,1701L1046,1678"/>
<polygon class="f" points="1007,1701 996,1669 1035,1646 1046,1678"/>
<path d="M1046,1678L1035,1646M1007,1701L1046,1678M996,1669L1035,1646"/>
<polygon class="f" points="996,1669 988,1666 1027,1643 1035,1646"/>
<path d="M1035,1646L1027,1643M996,1669L1035,1646M988,1666L1027,1643"/>
<polygon class="f" points="1126,1891 1126,1890 1126,1888 1125,1887 1125,1886 1164,1863 1164,1865 1164,1866 1165,1867 1165,1869"/>
<path d="M1165,1869L1165,1867L1164,1866L1164,1865L1164,1863M1126,1891L1165,1869M1125,1886L1164,1863"/>
<polygon class="f" points="1149,1914 1126,1891 1165,1869 1188,1892"/>
<path d="M1188,1892L1165,1869M1149,1914L1188,1892M1126,1891L1165,1869"/>
<polygon class="f" points="1149,1923 1149,1914 1188,1892 1188,1900"/>
<path d="M1188,1900L1188,1892M1149,1923L1188,1900M1149,1914L1188,1892"/>
<polygon class="f" points="1039,1724 1038,1723 1037,1722 1036,1721 1035,1720 1074,1698 1075,1699 1076,1700 1077,1701 1078,1701"/>
<path d="M1078,1701L1077,1701L1076,1700L1075,1699L1074,1698M1039,1724L1078,1701M1035,1720L1074,1698"/>
<polygon class="f" points="1035,1720 1030,1689 1069,1667 1074,1698"/>
<path d="M1074,1698L1069,1667M1035,1720L1074,1698M1030,1689L1069,1667"/>
<polygon class="f" points="1119,1856 1119,1854 1119,1853 1118,1851 1118,1850 1157,1828 1157,1829 1158,1830 1158,1832 1158,1833"/>
<path d="M1158,1833L1158,1832L1158,1830L1157,1829L1157,1828M1119,1856L1158,1833M1118,1850L1157,1828"/>
<polygon class="f" points="1030,1689 1022,1684 1061,1662 1069,1667"/>
<path d="M1069,1667L1061,1662M1030,1689L1069,1667M1022,1684L1061,1662"/>
<polygon class="f" points="1065,1751 1064,1750 1064,1749 1063,1748 1062,1747 1101,1724 1102,1725 1103,1726 1103,1728 1104,1729"/>
<path d="M1104,1729L1103,1728L1103,1726L1102,1725L1101,1724M1065,1751L1104,1729M1062,1747L1101,1724"/>
<polygon class="f" points="1144,1873 1119,1856 1158,1833 1183,1850"/>
<path d="M1183,1850L1158,1833M1144,1873L1183,1850M1119,1856L1158,1833"/>
<polygon class="f" points="1107,1819 1106,1818 1106,1816 1105,1815 1104,1814 1143,1791 1144,1792 1145,1794 1145,1795 1146,1797"/>
<path d="M1146,1797L1145,1795L1145,1794L1144,1792L1143,1791M1107,1819L1146,1797M1104,1814L1143,1791"/>
<polygon class="f" points="1088,1784 1088,1782 1087,1781 1086,1780 1085,1778 1124,1756 1125,1757 1126,1758 1127,1760 1127,1761"/>
<path d="M1127,1761L1127,1760L1126,1758L1125,1757L1124,1756M1088,1784L1127,1761M1085,1778L1124,1756"/>
<polygon class="f" points="1146,1882 1144,1873 1183,1850 1185,1859"/>
<path d="M1185,1859L1183,1850M1146,1882L1185,1859M1144,1873L1183,1850"/>
<polygon class="f" points="1118,1850 1135,1839 1174,1816 1157,1828"/>
<path d="M1157,1828L1174,1816M1118,1850L1157,1828M1135,1839L1174,1816"/>
<polygon class="f" points="1062,1747 1062,1719 1101,1696 1101,1724"/>
<path d="M1101,1724L1101,1696M1062,1747L1101,1724M1062,1719L1101,1696"/>
<polygon class="f" points="1085,1746 1065,1751 1104,1729 1124,1724"/>
<path d="M1124,1724L1104,1729M1085,1746L1124,1724M1065,1751L1104,1729"/>
<polygon class="f" points="1131,1829 1107,1819 1146,1797 1170,1807"/>
<path d="M1170,1807L1146,1797M1131,1829L1170,1807M1107,1819L1146,1797"/>
<polygon class="f" points="1062,1719 1055,1712 1094,1689 1101,1696"/>
<path d="M1101,1696L1094,1689M1062,1719L1101,1696M1055,1712L1094,1689"/>
<polygon class="f" points="1104,1814 1116,1795 1155,1773 1143,1791"/>
<path d="M1143,1791L1155,1773M1104,1814L1143,1791M1116,1795L1155,1773"/>
<polygon class="f" points="1085,1778 1092,1755 1131,1732 1124,1756"/>
<path d="M1124,1756L1131,1732M1085,1778L1124,1756M1092,1755L1131,1732"/>
<polygon class="f" points="1111,1786 1088,1784 1127,1761 1150,1764"/>
<path d="M1150,1764L1127,1761M1111,1786L1150,1764M1088,1784L1127,1761"/>
<polygon class="f" points="1135,1839 1131,1829 1170,1807 1174,1816"/>
<path d="M1174,1816L1170,1807M1135,1839L1174,1816M1131,1829L1170,1807"/>
<polygon class="f" points="1092,1755 1085,1746 1124,1724 1131,1732"/>
<path d="M1131,1732L1124,1724M1092,1755L1131,1732M1085,1746L1124,1724"/>
<polygon class="f" points="1116,1795 1111,1786 1150,1764 1155,1773"/>
<path d="M1155,1773L1150,1764M1116,1795L1155,1773M1111,1786L1150,1764"/>
<polygon class="w" points="1126,1921 1126,1920 1126,1919 1149,1923 1149,1914 1126,1891 1126,1890 1126,1888 1125,1887 1125,1886 1146,1882 1144,1873 1119,1856 1119,1854 1119,1853 1118,1851 1118,1850 1135,1839 1131,1829 1107,1819 1106,1818 1106,1816 1105,1815 1104,1814 1116,1795 1111,1786 1088,1784 1088,1782 1087,1781 1086,1780 1085,1778 1092,1755 1085,1746 1065,1751 1064,1750 1064,1749 1063,1748 1062,1747 1062,1719 1055,1712 1039,1724 1038,1723 1037,1722 1036,1721 1035,1720 1030,1689 1022,1684 1011,1703 1010,1703 1009,1702 1008,1701 1007,1701 996,1669 988,1666 983,1690 982,1690 981,1690 980,1689 979,1689 963,1658 956,1657 956,1686 955,1686 954,1686 954,1686 953,1686 933,1658 926,1659 933,1690 932,1691 931,1691 930,1691 930,1692 907,1668 902,1672 914,1703 913,1704 912,1705 912,1705 911,1706 887,1688 883,1694 900,1724 900,1725 899,1726 899,1727 899,1728 874,1717 872,1724 893,1752 893,1753 892,1754 892,1755 892,1756 869,1752 869,1761 892,1784 892,1785 892,1787 893,1788 893,1789 872,1793 874,1802 899,1819 899,1821 899,1822 900,1824 900,1825 883,1836 887,1846 911,1856 912,1857 912,1859 913,1860 914,1861 902,1880 907,1889 930,1891 930,1893 931,1894 932,1895 933,1897 926,1920 933,1929 953,1924 954,1925 954,1926 955,1927 956,1928 956,1956 963,1963 979,1951 980,1952 981,1953 982,1954 983,1955 988,1986 996,1991 1007,1972 1008,1972 1009,1973 1010,1974 1011,1974 1022,2006 1030,2009 1035,1985 1036,1985 1037,1985 1038,1986 1039,1986 1055,2017 1062,2018 1062,1989 1063,1989 1064,1989 1064,1989 1065,1989 1085,2017 1092,2016 1085,1985 1086,1984 1087,1984 1088,1984 1088,1983 1111,2007 1116,2003 1104,1972 1105,1971 1106,1970 1106,1970 1107,1969 1131,1987 1135,1981 1118,1951 1118,1950 1119,1949 1119,1948 1119,1947 1144,1958 1146,1951 1125,1923 1125,1922"/>
<path d="M1077,1955A136,79 60 1 0 941,1720A136,79 60 1 0 1077,1955Z"/>
<path class="w" d="M931,1753 A112,65 60 0 0 931,1882 A112,65 60 0 0 1043,1947 L1065,1934 A112,65 60 0 0 1065,1805 A112,65 60 0 0 953,1741 Z"/>
<path class="w" d="M1043,1947A112,65 60 1 0 931,1753A112,65 60 1 0 1043,1947Z"/>
<path d="M1040,1942A106,61 60 1 0 934,1758A106,61 60 1 0 1040,1942Z"/>
<circle class="w" style="stroke-width:2.6" cx="1052" cy="1880" r="9"/>
<circle class="w" style="stroke-width:2.6" cx="1047" cy="1854" r="9"/>
<circle class="w" style="stroke-width:2.6" cx="1036" cy="1828" r="9"/>
<circle class="w" style="stroke-width:2.6" cx="1020" cy="1804" r="9"/>
<circle class="w" style="stroke-width:2.6" cx="1001" cy="1785" r="9"/>
<circle class="w" style="stroke-width:2.6" cx="981" cy="1772" r="9"/>
<circle class="w" style="stroke-width:2.6" cx="961" cy="1766" r="9"/>
<circle class="w" style="stroke-width:2.6" cx="944" cy="1769" r="9"/>
<circle class="w" style="stroke-width:2.6" cx="931" cy="1780" r="9"/>
<circle class="w" style="stroke-width:2.6" cx="924" cy="1797" r="9"/>
<circle class="w" style="stroke-width:2.6" cx="923" cy="1820" r="9"/>
<circle class="w" style="stroke-width:2.6" cx="928" cy="1846" r="9"/>
<circle class="w" style="stroke-width:2.6" cx="939" cy="1872" r="9"/>
<circle class="w" style="stroke-width:2.6" cx="955" cy="1896" r="9"/>
<circle class="w" style="stroke-width:2.6" cx="974" cy="1915" r="9"/>
<circle class="w" style="stroke-width:2.6" cx="994" cy="1928" r="9"/>
<circle class="w" style="stroke-width:2.6" cx="1014" cy="1934" r="9"/>
<circle class="w" style="stroke-width:2.6" cx="1031" cy="1931" r="9"/>
<circle class="w" style="stroke-width:2.6" cx="1044" cy="1920" r="9"/>
<circle class="w" style="stroke-width:2.6" cx="1051" cy="1903" r="9"/>
<path class="w" d="M1027,1919A80,46 60 1 0 947,1781A80,46 60 1 0 1027,1919Z"/>
<path class="w" d="M889,1830 A66,38 60 0 0 889,1907 A66,38 60 0 0 955,1945 L1020,1907 A66,38 60 0 0 1020,1831 A66,38 60 0 0 954,1793 Z"/>
<path class="w" d="M955,1945A66,38 60 1 0 889,1830A66,38 60 1 0 955,1945Z"/>
<path d="M947,1931A50,29 60 1 0 897,1844A50,29 60 1 0 947,1931Z"/>
<path d="M944,1925A43,25 60 1 0 901,1850A43,25 60 1 0 944,1925Z"/>
<path d="M941,1920A38,22 60 1 0 903,1855A38,22 60 1 0 941,1920Z"/>
<path class="w" d="M2580,2179 A85,49 60 0 0 2580,2278 A85,49 60 0 0 2665,2327 L2745,2281 A85,49 60 0 0 2745,2182 A85,49 60 0 0 2660,2133 Z"/>
<path class="w" d="M2665,2327A85,49 60 1 0 2580,2179A85,49 60 1 0 2665,2327Z"/>
<polygon class="f" points="2379,2315 2368,2320 2432,2283 2443,2278"/>
<path d="M2443,2278L2432,2283M2379,2315L2443,2278M2368,2320L2432,2283"/>
<polygon class="f" points="2437,2440 2447,2433 2512,2396 2501,2403"/>
<path d="M2501,2403L2512,2396M2437,2440L2501,2403M2447,2433L2512,2396"/>
<polygon class="f" points="2369,2288 2357,2292 2421,2255 2433,2251"/>
<path d="M2433,2251L2421,2255M2369,2288L2433,2251M2357,2292L2421,2255"/>
<polygon class="f" points="2456,2464 2466,2455 2530,2418 2520,2427"/>
<path d="M2520,2427L2530,2418M2456,2464L2520,2427M2466,2455L2530,2418"/>
<polygon class="f" points="2476,2486 2485,2475 2549,2438 2541,2449"/>
<path d="M2541,2449L2549,2438M2476,2486L2541,2449M2485,2475L2549,2438"/>
<polygon class="f" points="2361,2261 2348,2263 2412,2226 2425,2224"/>
<path d="M2425,2224L2412,2226M2361,2261L2425,2224M2348,2263L2412,2226"/>
<polygon class="f" points="2355,2235 2341,2234 2405,2197 2419,2198"/>
<path d="M2419,2198L2405,2197M2355,2235L2419,2198M2341,2234L2405,2197"/>
<polygon class="f" points="2498,2506 2504,2494 2568,2457 2562,2469"/>
<path d="M2562,2469L2568,2457M2498,2506L2562,2469M2504,2494L2568,2457"/>
<polygon class="f" points="2350,2209 2336,2207 2400,2170 2415,2172"/>
<path d="M2415,2172L2400,2170M2350,2209L2415,2172M2336,2207L2400,2170"/>
<polygon class="f" points="2519,2525 2524,2511 2589,2474 2583,2488"/>
<path d="M2583,2488L2589,2474M2519,2525L2583,2488M2524,2511L2589,2474"/>
<polygon class="f" points="2348,2184 2333,2180 2397,2143 2412,2147"/>
<path d="M2412,2147L2397,2143M2348,2184L2412,2147M2333,2180L2397,2143"/>
<polygon class="f" points="2541,2541 2545,2525 2609,2488 2605,2504"/>
<path d="M2605,2504L2609,2488M2541,2541L2605,2504M2545,2525L2609,2488"/>
<polygon class="f" points="2563,2554 2566,2537 2630,2500 2628,2517"/>
<path d="M2628,2517L2630,2500M2563,2554L2628,2517M2566,2537L2630,2500"/>
<polygon class="f" points="2348,2160 2332,2154 2396,2117 2412,2123"/>
<path d="M2412,2123L2396,2117M2348,2160L2412,2123M2332,2154L2396,2117"/>
<polygon class="f" points="2586,2565 2586,2547 2650,2510 2650,2528"/>
<path d="M2650,2528L2650,2510M2586,2565L2650,2528M2586,2547L2650,2510"/>
<polygon class="f" points="2350,2137 2334,2129 2398,2092 2414,2100"/>
<path d="M2414,2100L2398,2092M2350,2137L2414,2100M2334,2129L2398,2092"/>
<polygon class="f" points="2353,2116 2338,2106 2402,2069 2417,2079"/>
<path d="M2417,2079L2402,2069M2353,2116L2417,2079M2338,2106L2402,2069"/>
<polygon class="f" points="2607,2573 2607,2555 2671,2518 2672,2536"/>
<path d="M2672,2536L2671,2518M2607,2573L2672,2536M2607,2555L2671,2518"/>
<polygon class="f" points="2629,2579 2627,2560 2691,2523 2693,2542"/>
<path d="M2693,2542L2691,2523M2629,2579L2693,2542M2627,2560L2691,2523"/>
<polygon class="f" points="2359,2096 2343,2085 2408,2048 2423,2059"/>
<path d="M2423,2059L2408,2048M2359,2096L2423,2059M2343,2085L2408,2048"/>
<polygon class="f" points="2367,2078 2351,2065 2415,2028 2431,2041"/>
<path d="M2431,2041L2415,2028M2367,2078L2431,2041M2351,2065L2415,2028"/>
<polygon class="f" points="2650,2582 2646,2562 2710,2525 2714,2545"/>
<path d="M2714,2545L2710,2525M2650,2582L2714,2545M2646,2562L2710,2525"/>
<polygon class="f" points="2669,2582 2664,2562 2728,2525 2734,2545"/>
<path d="M2734,2545L2728,2525M2669,2582L2734,2545M2664,2562L2728,2525"/>
<polygon class="f" points="2376,2063 2361,2048 2425,2011 2440,2026"/>
<path d="M2440,2026L2425,2011M2376,2063L2440,2026M2361,2048L2425,2011"/>
<polygon class="f" points="2688,2579 2681,2559 2746,2522 2752,2542"/>
<path d="M2752,2542L2746,2522M2688,2579L2752,2542M2681,2559L2746,2522"/>
<polygon class="f" points="2387,2049 2373,2033 2437,1996 2451,2012"/>
<path d="M2451,2012L2437,1996M2387,2049L2451,2012M2373,2033L2437,1996"/>
<polygon class="f" points="2400,2038 2387,2021 2451,1984 2464,2001"/>
<path d="M2464,2001L2451,1984M2400,2038L2464,2001M2387,2021L2451,1984"/>
<polygon class="f" points="2706,2573 2698,2553 2762,2516 2770,2536"/>
<path d="M2770,2536L2762,2516M2706,2573L2770,2536M2698,2553L2762,2516"/>
<polygon class="f" points="2722,2565 2712,2545 2777,2508 2786,2528"/>
<path d="M2786,2528L2777,2508M2722,2565L2786,2528M2712,2545L2777,2508"/>
<polygon class="f" points="2415,2029 2402,2011 2466,1974 2479,1992"/>
<path d="M2479,1992L2466,1974M2415,2029L2479,1992M2402,2011L2466,1974"/>
<polygon class="f" points="2712,2545 2714,2544 2715,2544 2716,2543 2717,2542 2781,2505 2780,2506 2779,2507 2778,2507 2777,2508"/>
<path d="M2777,2508L2778,2507L2779,2507L2780,2506L2781,2505M2712,2545L2777,2508M2717,2542L2781,2505"/>
<polygon class="f" points="2419,2027 2418,2027 2417,2028 2416,2029 2415,2029 2479,1992 2480,1992 2481,1991 2482,1990 2483,1990"/>
<path d="M2483,1990L2482,1990L2481,1991L2480,1992L2479,1992M2419,2027L2483,1990M2415,2029L2479,1992"/>
<polygon class="f" points="2730,2559 2736,2554 2801,2517 2794,2522"/>
<path d="M2794,2522L2801,2517M2730,2559L2794,2522M2736,2554L2801,2517"/>
<polygon class="f" points="2419,2004 2411,2007 2475,1970 2483,1967"/>
<path d="M2483,1967L2475,1970M2419,2004L2483,1967M2411,2007L2475,1970"/>
<polygon class="f" points="2736,2554 2726,2534 2790,2497 2801,2517"/>
<path d="M2801,2517L2790,2497M2736,2554L2801,2517M2726,2534L2790,2497"/>
<polygon class="f" points="2430,2023 2419,2004 2483,1967 2495,1986"/>
<path d="M2495,1986L2483,1967M2430,2023L2495,1986M2419,2004L2483,1967"/>
<polygon class="f" points="2726,2534 2727,2534 2728,2533 2729,2532 2730,2531 2794,2494 2793,2495 2792,2496 2791,2497 2790,2497"/>
<path d="M2790,2497L2791,2497L2792,2496L2793,2495L2794,2494M2726,2534L2790,2497M2730,2531L2794,2494"/>
<polygon class="f" points="2435,2021 2434,2022 2433,2022 2432,2022 2430,2023 2495,1986 2496,1985 2497,1985 2498,1985 2500,1984"/>
<path d="M2500,1984L2498,1985L2497,1985L2496,1985L2495,1986M2435,2021L2500,1984M2430,2023L2495,1986"/>
<polygon class="f" points="2744,2547 2749,2541 2813,2504 2808,2510"/>
<path d="M2808,2510L2813,2504M2744,2547L2808,2510M2749,2541L2813,2504"/>
<polygon class="f" points="2437,1999 2429,2001 2493,1964 2501,1962"/>
<path d="M2501,1962L2493,1964M2437,1999L2501,1962M2429,2001L2493,1964"/>
<polygon class="f" points="2749,2541 2738,2522 2802,2485 2813,2504"/>
<path d="M2813,2504L2802,2485M2749,2541L2813,2504M2738,2522L2802,2485"/>
<polygon class="f" points="2447,2019 2437,1999 2501,1962 2512,1982"/>
<path d="M2512,1982L2501,1962M2447,2019L2512,1982M2437,1999L2501,1962"/>
<polygon class="f" points="2738,2522 2738,2521 2739,2519 2740,2518 2741,2517 2805,2480 2804,2481 2803,2482 2802,2484 2802,2485"/>
<path d="M2802,2485L2802,2484L2803,2482L2804,2481L2805,2480M2738,2522L2802,2485M2741,2517L2805,2480"/>
<polygon class="f" points="2453,2018 2451,2019 2450,2019 2449,2019 2447,2019 2512,1982 2513,1982 2514,1982 2516,1982 2517,1981"/>
<path d="M2517,1981L2516,1982L2514,1982L2513,1982L2512,1982M2453,2018L2517,1981M2447,2019L2512,1982"/>
<polygon class="f" points="2756,2532 2760,2525 2824,2488 2820,2495"/>
<path d="M2820,2495L2824,2488M2756,2532L2820,2495M2760,2525L2824,2488"/>
<polygon class="f" points="2456,1998 2447,1998 2511,1961 2520,1961"/>
<path d="M2520,1961L2511,1961M2456,1998L2520,1961M2447,1998L2511,1961"/>
<polygon class="f" points="2760,2525 2748,2506 2812,2469 2824,2488"/>
<path d="M2824,2488L2812,2469M2760,2525L2824,2488M2748,2506L2812,2469"/>
<polygon class="f" points="2466,2018 2456,1998 2520,1961 2530,1981"/>
<path d="M2530,1981L2520,1961M2466,2018L2530,1981M2456,1998L2520,1961"/>
<polygon class="f" points="2748,2506 2748,2505 2749,2504 2750,2503 2750,2502 2814,2465 2814,2466 2813,2467 2812,2468 2812,2469"/>
<path d="M2812,2469L2812,2468L2813,2467L2814,2466L2814,2465M2748,2506L2812,2469M2750,2502L2814,2465"/>
<polygon class="f" points="2471,2018 2470,2018 2468,2018 2467,2018 2466,2018 2530,1981 2531,1981 2532,1981 2534,1981 2535,1981"/>
<path d="M2535,1981L2534,1981L2532,1981L2531,1981L2530,1981M2471,2018L2535,1981M2466,2018L2530,1981"/>
<polygon class="f" points="2766,2515 2769,2506 2833,2469 2830,2478"/>
<path d="M2830,2478L2833,2469M2766,2515L2830,2478M2769,2506L2833,2469"/>
<polygon class="f" points="2476,1999 2467,1998 2531,1961 2541,1962"/>
<path d="M2541,1962L2531,1961M2476,1999L2541,1962M2467,1998L2531,1961"/>
<polygon class="f" points="2769,2506 2756,2489 2820,2452 2833,2469"/>
<path d="M2833,2469L2820,2452M2769,2506L2833,2469M2756,2489L2820,2452"/>
<polygon class="f" points="2485,2019 2476,1999 2541,1962 2549,1982"/>
<path d="M2549,1982L2541,1962M2485,2019L2549,1982M2476,1999L2541,1962"/>
<polygon class="f" points="2756,2489 2756,2488 2757,2487 2757,2485 2758,2484 2822,2447 2821,2448 2821,2450 2820,2451 2820,2452"/>
<path d="M2820,2452L2820,2451L2821,2450L2821,2448L2822,2447M2756,2489L2820,2452M2758,2484L2822,2447"/>
<polygon class="f" points="2490,2020 2489,2020 2487,2020 2486,2020 2485,2019 2549,1982 2550,1983 2552,1983 2553,1983 2554,1983"/>
<path d="M2554,1983L2553,1983L2552,1983L2550,1983L2549,1982M2490,2020L2554,1983M2485,2019L2549,1982"/>
<polygon class="f" points="2773,2495 2776,2486 2840,2449 2838,2458"/>
<path d="M2838,2458L2840,2449M2773,2495L2838,2458M2776,2486L2840,2449"/>
<polygon class="f" points="2498,2003 2488,2001 2552,1964 2562,1966"/>
<path d="M2562,1966L2552,1964M2498,2003L2562,1966M2488,2001L2552,1964"/>
<polygon class="f" points="2762,2470 2762,2469 2763,2467 2763,2466 2764,2464 2828,2427 2827,2429 2827,2430 2827,2432 2826,2433"/>
<path d="M2826,2433L2827,2432L2827,2430L2827,2429L2828,2427M2762,2470L2826,2433M2764,2464L2828,2427"/>
<polygon class="f" points="2510,2025 2509,2025 2507,2024 2506,2024 2504,2024 2568,1987 2570,1987 2571,1987 2573,1988 2574,1988"/>
<path d="M2574,1988L2573,1988L2571,1987L2570,1987L2568,1987M2510,2025L2574,1988M2504,2024L2568,1987"/>
<polygon class="f" points="2504,2024 2498,2003 2562,1966 2568,1987"/>
<path d="M2568,1987L2562,1966M2504,2024L2568,1987M2498,2003L2562,1966"/>
<polygon class="f" points="2776,2486 2762,2470 2826,2433 2840,2449"/>
<path d="M2840,2449L2826,2433M2776,2486L2840,2449M2762,2470L2826,2433"/>
<polygon class="f" points="2766,2449 2767,2448 2767,2446 2767,2444 2767,2443 2831,2406 2831,2407 2831,2409 2831,2411 2830,2412"/>
<path d="M2830,2412L2831,2411L2831,2409L2831,2407L2831,2406M2766,2449L2830,2412M2767,2443L2831,2406"/>
<polygon class="f" points="2531,2033 2529,2032 2528,2031 2526,2031 2524,2030 2589,1993 2590,1994 2592,1994 2593,1995 2595,1996"/>
<path d="M2595,1996L2593,1995L2592,1994L2590,1994L2589,1993M2531,2033L2595,1996M2524,2030L2589,1993"/>
<polygon class="f" points="2779,2474 2781,2464 2845,2427 2843,2437"/>
<path d="M2843,2437L2845,2427M2779,2474L2843,2437M2781,2464L2845,2427"/>
<polygon class="f" points="2519,2010 2509,2007 2574,1970 2583,1973"/>
<path d="M2583,1973L2574,1970M2519,2010L2583,1973M2509,2007L2574,1970"/>
<polygon class="f" points="2781,2464 2766,2449 2830,2412 2845,2427"/>
<path d="M2845,2427L2830,2412M2781,2464L2845,2427M2766,2449L2830,2412"/>
<polygon class="f" points="2524,2030 2519,2010 2583,1973 2589,1993"/>
<path d="M2589,1993L2583,1973M2524,2030L2589,1993M2519,2010L2583,1973"/>
<polygon class="f" points="2551,2043 2550,2042 2548,2041 2547,2040 2545,2039 2609,2002 2611,2003 2612,2004 2614,2005 2615,2006"/>
<path d="M2615,2006L2614,2005L2612,2004L2611,2003L2609,2002M2551,2043L2615,2006M2545,2039L2609,2002"/>
<polygon class="f" points="2769,2427 2769,2425 2769,2423 2769,2422 2769,2420 2833,2383 2833,2385 2833,2386 2833,2388 2833,2390"/>
<path d="M2833,2390L2833,2388L2833,2386L2833,2385L2833,2383M2769,2427L2833,2390M2769,2420L2833,2383"/>
<polygon class="f" points="2545,2039 2541,2020 2605,1983 2609,2002"/>
<path d="M2609,2002L2605,1983M2545,2039L2609,2002M2541,2020L2605,1983"/>
<polygon class="f" points="2784,2440 2769,2427 2833,2390 2848,2403"/>
<path d="M2848,2403L2833,2390M2784,2440L2848,2403M2769,2427L2833,2390"/>
<polygon class="f" points="2541,2020 2531,2015 2595,1978 2605,1983"/>
<path d="M2605,1983L2595,1978M2541,2020L2605,1983M2531,2015L2595,1978"/>
<polygon class="f" points="2783,2451 2784,2440 2848,2403 2847,2414"/>
<path d="M2847,2414L2848,2403M2783,2451L2847,2414M2784,2440L2848,2403"/>
<polygon class="f" points="2769,2403 2769,2401 2769,2400 2769,2398 2769,2396 2833,2359 2833,2361 2833,2363 2833,2364 2833,2366"/>
<path d="M2833,2366L2833,2364L2833,2363L2833,2361L2833,2359M2769,2403L2833,2366M2769,2396L2833,2359"/>
<polygon class="f" points="2572,2055 2570,2054 2569,2053 2567,2052 2566,2051 2630,2014 2631,2015 2633,2016 2634,2017 2636,2018"/>
<path d="M2636,2018L2634,2017L2633,2016L2631,2015L2630,2014M2572,2055L2636,2018M2566,2051L2630,2014"/>
<polygon class="f" points="2785,2415 2769,2403 2833,2366 2849,2378"/>
<path d="M2849,2378L2833,2366M2785,2415L2849,2378M2769,2403L2833,2366"/>
<polygon class="f" points="2566,2051 2563,2032 2628,1995 2630,2014"/>
<path d="M2630,2014L2628,1995M2566,2051L2630,2014M2563,2032L2628,1995"/>
<polygon class="f" points="2785,2426 2785,2415 2849,2378 2849,2389"/>
<path d="M2849,2389L2849,2378M2785,2426L2849,2389M2785,2415L2849,2378"/>
<polygon class="f" points="2563,2032 2553,2026 2618,1989 2628,1995"/>
<path d="M2628,1995L2618,1989M2563,2032L2628,1995M2553,2026L2618,1989"/>
<polygon class="f" points="2767,2378 2767,2377 2767,2375 2767,2373 2766,2371 2830,2334 2831,2336 2831,2338 2831,2340 2831,2341"/>
<path d="M2831,2341L2831,2340L2831,2338L2831,2336L2830,2334M2767,2378L2831,2341M2766,2371L2830,2334"/>
<polygon class="f" points="2592,2069 2591,2068 2589,2067 2588,2066 2586,2065 2650,2028 2652,2029 2653,2030 2655,2031 2657,2032"/>
<path d="M2657,2032L2655,2031L2653,2030L2652,2029L2650,2028M2592,2069L2657,2032M2586,2065L2650,2028"/>
<polygon class="f" points="2783,2388 2767,2378 2831,2341 2847,2351"/>
<path d="M2847,2351L2831,2341M2783,2388L2847,2351M2767,2378L2831,2341"/>
<polygon class="f" points="2586,2065 2586,2046 2650,2009 2650,2028"/>
<path d="M2650,2028L2650,2009M2586,2065L2650,2028M2586,2046L2650,2009"/>
<polygon class="f" points="2784,2400 2783,2388 2847,2351 2848,2363"/>
<path d="M2848,2363L2847,2351M2784,2400L2848,2363M2783,2388L2847,2351"/>
<polygon class="f" points="2586,2046 2576,2039 2640,2002 2650,2009"/>
<path d="M2650,2009L2640,2002M2586,2046L2650,2009M2576,2039L2640,2002"/>
<polygon class="f" points="2764,2353 2763,2351 2763,2349 2762,2347 2762,2345 2826,2308 2827,2310 2827,2312 2827,2314 2828,2316"/>
<path d="M2828,2316L2827,2314L2827,2312L2827,2310L2826,2308M2764,2353L2828,2316M2762,2345L2826,2308"/>
<polygon class="f" points="2613,2086 2611,2085 2610,2084 2608,2082 2607,2081 2671,2044 2672,2045 2674,2047 2675,2048 2677,2049"/>
<path d="M2677,2049L2675,2048L2674,2047L2672,2045L2671,2044M2613,2086L2677,2049M2607,2081L2671,2044"/>
<polygon class="f" points="2779,2361 2764,2353 2828,2316 2843,2324"/>
<path d="M2843,2324L2828,2316M2779,2361L2843,2324M2764,2353L2828,2316"/>
<polygon class="f" points="2607,2081 2607,2063 2672,2026 2671,2044"/>
<path d="M2671,2044L2672,2026M2607,2081L2671,2044M2607,2063L2672,2026"/>
<polygon class="f" points="2781,2373 2779,2361 2843,2324 2845,2336"/>
<path d="M2845,2336L2843,2324M2781,2373L2845,2336M2779,2361L2843,2324"/>
<polygon class="f" points="2607,2063 2598,2055 2662,2018 2672,2026"/>
<path d="M2672,2026L2662,2018M2607,2063L2672,2026M2598,2055L2662,2018"/>
<polygon class="f" points="2758,2327 2757,2325 2757,2323 2756,2321 2756,2319 2820,2282 2820,2284 2821,2286 2821,2288 2822,2290"/>
<path d="M2822,2290L2821,2288L2821,2286L2820,2284L2820,2282M2758,2327L2822,2290M2756,2319L2820,2282"/>
<polygon class="f" points="2632,2105 2631,2103 2629,2102 2628,2100 2627,2099 2691,2062 2692,2063 2694,2065 2695,2066 2696,2068"/>
<path d="M2696,2068L2695,2066L2694,2065L2692,2063L2691,2062M2632,2105L2696,2068M2627,2099L2691,2062"/>
<polygon class="f" points="2773,2333 2758,2327 2822,2290 2838,2296"/>
<path d="M2838,2296L2822,2290M2773,2333L2838,2296M2758,2327L2822,2290"/>
<polygon class="f" points="2627,2099 2629,2082 2693,2045 2691,2062"/>
<path d="M2691,2062L2693,2045M2627,2099L2691,2062M2629,2082L2693,2045"/>
<polygon class="f" points="2750,2300 2750,2298 2749,2296 2748,2294 2748,2292 2812,2255 2812,2257 2813,2259 2814,2261 2814,2263"/>
<path d="M2814,2263L2814,2261L2813,2259L2812,2257L2812,2255M2750,2300L2814,2263M2748,2292L2812,2255"/>
<polygon class="f" points="2651,2125 2650,2124 2649,2122 2647,2120 2646,2119 2710,2082 2711,2083 2713,2085 2714,2087 2715,2088"/>
<path d="M2715,2088L2714,2087L2713,2085L2711,2083L2710,2082M2651,2125L2715,2088M2646,2119L2710,2082"/>
<polygon class="f" points="2629,2082 2619,2074 2683,2037 2693,2045"/>
<path d="M2693,2045L2683,2037M2629,2082L2693,2045M2619,2074L2683,2037"/>
<polygon class="f" points="2776,2346 2773,2333 2838,2296 2840,2309"/>
<path d="M2840,2309L2838,2296M2776,2346L2840,2309M2773,2333L2838,2296"/>
<polygon class="f" points="2766,2304 2750,2300 2814,2263 2830,2267"/>
<path d="M2830,2267L2814,2263M2766,2304L2830,2267M2750,2300L2814,2263"/>
<polygon class="f" points="2646,2119 2650,2104 2714,2067 2710,2082"/>
<path d="M2710,2082L2714,2067M2646,2119L2710,2082M2650,2104L2714,2067"/>
<polygon class="f" points="2741,2273 2740,2271 2739,2269 2738,2267 2738,2265 2802,2228 2802,2230 2803,2232 2804,2234 2805,2236"/>
<path d="M2805,2236L2804,2234L2803,2232L2802,2230L2802,2228M2741,2273L2805,2236M2738,2265L2802,2228"/>
<polygon class="f" points="2669,2147 2668,2146 2667,2144 2665,2142 2664,2140 2728,2103 2730,2105 2731,2107 2732,2109 2734,2110"/>
<path d="M2734,2110L2732,2109L2731,2107L2730,2105L2728,2103M2669,2147L2734,2110M2664,2140L2728,2103"/>
<polygon class="f" points="2730,2247 2729,2245 2728,2243 2727,2241 2726,2239 2790,2202 2791,2204 2792,2206 2793,2208 2794,2210"/>
<path d="M2794,2210L2793,2208L2792,2206L2791,2204L2790,2202M2730,2247L2794,2210M2726,2239L2790,2202"/>
<polygon class="f" points="2686,2171 2685,2169 2684,2167 2683,2165 2681,2163 2746,2126 2747,2128 2748,2130 2749,2132 2751,2134"/>
<path d="M2751,2134L2749,2132L2748,2130L2747,2128L2746,2126M2686,2171L2751,2134M2681,2163L2746,2126"/>
<polygon class="f" points="2769,2317 2766,2304 2830,2267 2833,2280"/>
<path d="M2833,2280L2830,2267M2769,2317L2833,2280M2766,2304L2830,2267"/>
<polygon class="f" points="2650,2104 2640,2094 2704,2057 2714,2067"/>
<path d="M2714,2067L2704,2057M2650,2104L2714,2067M2640,2094L2704,2057"/>
<polygon class="f" points="2717,2221 2716,2219 2715,2217 2714,2215 2712,2213 2777,2176 2778,2178 2779,2180 2780,2182 2781,2184"/>
<path d="M2781,2184L2780,2182L2779,2180L2778,2178L2777,2176M2717,2221L2781,2184M2712,2213L2777,2176"/>
<polygon class="f" points="2702,2195 2701,2193 2700,2191 2699,2190 2698,2188 2762,2151 2763,2153 2764,2154 2765,2156 2766,2158"/>
<path d="M2766,2158L2765,2156L2764,2154L2763,2153L2762,2151M2702,2195L2766,2158M2698,2188L2762,2151"/>
<polygon class="f" points="2756,2276 2741,2273 2805,2236 2820,2239"/>
<path d="M2820,2239L2805,2236M2756,2276L2820,2239M2741,2273L2805,2236"/>
<polygon class="f" points="2664,2140 2669,2126 2734,2089 2728,2103"/>
<path d="M2728,2103L2734,2089M2664,2140L2728,2103M2669,2126L2734,2089"/>
<polygon class="f" points="2744,2247 2730,2247 2794,2210 2808,2210"/>
<path d="M2808,2210L2794,2210M2744,2247L2808,2210M2730,2247L2794,2210"/>
<polygon class="f" points="2681,2163 2688,2151 2752,2114 2746,2126"/>
<path d="M2746,2126L2752,2114M2681,2163L2746,2126M2688,2151L2752,2114"/>
<polygon class="f" points="2760,2288 2756,2276 2820,2239 2824,2251"/>
<path d="M2824,2251L2820,2239M2760,2288L2824,2251M2756,2276L2820,2239"/>
<polygon class="f" points="2669,2126 2661,2116 2725,2079 2734,2089"/>
<path d="M2734,2089L2725,2079M2669,2126L2734,2089M2661,2116L2725,2079"/>
<polygon class="f" points="2726,2239 2736,2232 2801,2195 2790,2202"/>
<path d="M2790,2202L2801,2195M2726,2239L2790,2202M2736,2232L2801,2195"/>
<polygon class="f" points="2698,2165 2686,2171 2751,2134 2762,2128"/>
<path d="M2762,2128L2751,2134M2698,2165L2762,2128M2686,2171L2751,2134"/>
<polygon class="f" points="2730,2219 2717,2221 2781,2184 2794,2182"/>
<path d="M2794,2182L2781,2184M2730,2219L2794,2182M2717,2221L2781,2184"/>
<polygon class="f" points="2698,2188 2706,2177 2770,2140 2762,2151"/>
<path d="M2762,2151L2770,2140M2698,2188L2762,2151M2706,2177L2770,2140"/>
<polygon class="f" points="2712,2213 2722,2204 2786,2167 2777,2176"/>
<path d="M2777,2176L2786,2167M2712,2213L2777,2176M2722,2204L2786,2167"/>
<polygon class="f" points="2715,2192 2702,2195 2766,2158 2779,2155"/>
<path d="M2779,2155L2766,2158M2715,2192L2779,2155M2702,2195L2766,2158"/>
<polygon class="f" points="2749,2260 2744,2247 2808,2210 2813,2223"/>
<path d="M2813,2223L2808,2210M2749,2260L2813,2223M2744,2247L2808,2210"/>
<polygon class="f" points="2688,2151 2680,2140 2744,2103 2752,2114"/>
<path d="M2752,2114L2744,2103M2688,2151L2752,2114M2680,2140L2744,2103"/>
<polygon class="f" points="2736,2232 2730,2219 2794,2182 2801,2195"/>
<path d="M2801,2195L2794,2182M2736,2232L2801,2195M2730,2219L2794,2182"/>
<polygon class="f" points="2706,2177 2698,2165 2762,2128 2770,2140"/>
<path d="M2770,2140L2762,2128M2706,2177L2770,2140M2698,2165L2762,2128"/>
<polygon class="f" points="2722,2204 2715,2192 2779,2155 2786,2167"/>
<path d="M2786,2167L2779,2155M2722,2204L2786,2167M2715,2192L2779,2155"/>
<polygon class="w" points="2769,2423 2769,2422 2769,2420 2785,2426 2785,2415 2769,2403 2769,2401 2769,2400 2769,2398 2769,2396 2784,2400 2783,2388 2767,2378 2767,2377 2767,2375 2767,2373 2766,2371 2781,2373 2779,2361 2764,2353 2763,2351 2763,2349 2762,2347 2762,2345 2776,2346 2773,2333 2758,2327 2757,2325 2757,2323 2756,2321 2756,2319 2769,2317 2766,2304 2750,2300 2750,2298 2749,2296 2748,2294 2748,2292 2760,2288 2756,2276 2741,2273 2740,2271 2739,2269 2738,2267 2738,2265 2749,2260 2744,2247 2730,2247 2729,2245 2728,2243 2727,2241 2726,2239 2736,2232 2730,2219 2717,2221 2716,2219 2715,2217 2714,2215 2712,2213 2722,2204 2715,2192 2702,2195 2701,2193 2700,2191 2699,2190 2698,2188 2706,2177 2698,2165 2686,2171 2685,2169 2684,2167 2683,2165 2681,2163 2688,2151 2680,2140 2669,2147 2668,2146 2667,2144 2665,2142 2664,2140 2669,2126 2661,2116 2651,2125 2650,2124 2649,2122 2647,2120 2646,2119 2650,2104 2640,2094 2632,2105 2631,2103 2629,2102 2628,2100 2627,2099 2629,2082 2619,2074 2613,2086 2611,2085 2610,2084 2608,2082 2607,2081 2607,2063 2598,2055 2592,2069 2591,2068 2589,2067 2588,2066 2586,2065 2586,2046 2576,2039 2572,2055 2570,2054 2569,2053 2567,2052 2566,2051 2563,2032 2553,2026 2551,2043 2550,2042 2548,2041 2547,2040 2545,2039 2541,2020 2531,2015 2531,2033 2529,2032 2528,2031 2526,2031 2524,2030 2519,2010 2509,2007 2510,2025 2509,2025 2507,2024 2506,2024 2504,2024 2498,2003 2488,2001 2490,2020 2489,2020 2487,2020 2486,2020 2485,2019 2476,1999 2467,1998 2471,2018 2470,2018 2468,2018 2467,2018 2466,2018 2456,1998 2447,1998 2453,2018 2451,2019 2450,2019 2449,2019 2447,2019 2437,1999 2429,2001 2435,2021 2434,2022 2433,2022 2432,2022 2430,2023 2419,2004 2411,2007 2419,2027 2418,2027 2417,2028 2416,2029 2415,2029 2402,2011 2395,2015 2404,2035 2403,2036 2402,2036 2401,2037 2400,2038 2387,2021 2380,2026 2391,2046 2390,2046 2389,2047 2388,2048 2387,2049 2373,2033 2368,2039 2379,2058 2379,2059 2378,2061 2377,2062 2376,2063 2361,2048 2357,2055 2369,2074 2369,2075 2368,2076 2367,2077 2367,2078 2351,2065 2348,2074 2361,2091 2361,2092 2360,2093 2360,2095 2359,2096 2343,2085 2341,2094 2355,2110 2354,2111 2354,2113 2354,2114 2353,2116 2338,2106 2336,2116 2350,2131 2350,2132 2350,2134 2350,2136 2350,2137 2334,2129 2333,2140 2348,2153 2348,2155 2348,2157 2348,2158 2348,2160 2332,2154 2332,2165 2348,2177 2348,2179 2348,2180 2348,2182 2348,2184 2333,2180 2334,2192 2350,2202 2350,2203 2350,2205 2350,2207 2350,2209 2336,2207 2338,2219 2353,2227 2354,2229 2354,2231 2354,2233 2355,2235 2341,2234 2343,2247 2359,2253 2360,2255 2360,2257 2361,2259 2361,2261 2348,2263 2351,2276 2367,2280 2367,2282 2368,2284 2369,2286 2369,2288 2357,2292 2361,2304 2376,2307 2377,2309 2378,2311 2379,2313 2379,2315 2368,2320 2373,2333 2387,2333 2388,2335 2389,2337 2390,2339 2391,2341 2380,2348 2387,2361 2400,2359 2401,2361 2402,2363 2403,2365 2404,2367 2395,2376 2402,2388 2415,2385 2416,2387 2417,2389 2418,2390 2419,2392 2411,2403 2419,2415 2430,2409 2432,2411 2433,2413 2434,2415 2435,2417 2429,2429 2437,2440 2447,2433 2449,2434 2450,2436 2451,2438 2453,2440 2447,2454 2456,2464 2466,2455 2467,2456 2468,2458 2470,2460 2471,2461 2467,2476 2476,2486 2485,2475 2486,2477 2487,2478 2489,2480 2490,2481 2488,2498 2498,2506 2504,2494 2506,2495 2507,2496 2509,2498 2510,2499 2509,2517 2519,2525 2524,2511 2526,2512 2528,2513 2529,2514 2531,2515 2531,2534 2541,2541 2545,2525 2547,2526 2548,2527 2550,2528 2551,2529 2553,2548 2563,2554 2566,2537 2567,2538 2569,2539 2570,2540 2572,2541 2576,2560 2586,2565 2586,2547 2588,2548 2589,2549 2591,2549 2592,2550 2598,2570 2607,2573 2607,2555 2608,2555 2610,2556 2611,2556 2613,2556 2619,2577 2629,2579 2627,2560 2628,2560 2629,2560 2631,2560 2632,2561 2640,2581 2650,2582 2646,2562 2647,2562 2649,2562 2650,2562 2651,2562 2661,2582 2669,2582 2664,2562 2665,2561 2667,2561 2668,2561 2669,2561 2680,2581 2688,2579 2681,2559 2683,2558 2684,2558 2685,2558 2686,2557 2698,2576 2706,2573 2698,2553 2699,2553 2700,2552 2701,2551 2702,2551 2715,2569 2722,2565 2712,2545 2714,2544 2715,2544 2716,2543 2717,2542 2730,2559 2736,2554 2726,2534 2727,2534 2728,2533 2729,2532 2730,2531 2744,2547 2749,2541 2738,2522 2738,2521 2739,2519 2740,2518 2741,2517 2756,2532 2760,2525 2748,2506 2748,2505 2749,2504 2750,2503 2750,2502 2766,2515 2769,2506 2756,2489 2756,2488 2757,2487 2757,2485 2758,2484 2773,2495 2776,2486 2762,2470 2762,2469 2763,2467 2763,2466 2764,2464 2779,2474 2781,2464 2766,2449 2767,2448 2767,2446 2767,2444 2767,2443 2783,2451 2784,2440 2769,2427 2769,2425"/>
<path d="M2698,2532A280,162 60 1 0 2418,2048A280,162 60 1 0 2698,2532Z"/>
<path d="M2731,2368A40,23 60 1 0 2691,2298A40,23 60 1 0 2731,2368Z"/>
<path d="M2621,2175A40,23 60 1 0 2581,2105A40,23 60 1 0 2621,2175Z"/>
<path d="M2469,2132A40,23 60 1 0 2429,2062A40,23 60 1 0 2469,2132Z"/>
<path d="M2426,2282A40,23 60 1 0 2386,2212A40,23 60 1 0 2426,2282Z"/>
<path d="M2536,2475A40,23 60 1 0 2496,2405A40,23 60 1 0 2536,2475Z"/>
<path d="M2688,2518A40,23 60 1 0 2648,2448A40,23 60 1 0 2688,2518Z"/>
<path d="M2642,2435A168,97 60 1 0 2474,2145A168,97 60 1 0 2642,2435Z"/>
<path class="w" d="M2418,2175 A170,98 60 0 0 2418,2371 A170,98 60 0 0 2588,2469 L2643,2437 A170,98 60 0 0 2643,2241 A170,98 60 0 0 2473,2143 Z"/>
<polygon class="f" points="2362,2521 2381,2499 2433,2469 2414,2491"/>
<path d="M2414,2491L2433,2469M2362,2521L2414,2491"/>
<polygon class="f" points="2287,2333 2259,2338 2311,2308 2339,2303"/>
<path d="M2339,2303L2311,2308M2259,2338L2311,2308"/>
<polygon class="f" points="2404,2561 2417,2532 2469,2502 2456,2531"/>
<path d="M2456,2531L2469,2502M2404,2561L2456,2531"/>
<polygon class="f" points="2277,2286 2245,2282 2297,2252 2329,2256"/>
<path d="M2329,2256L2297,2252M2245,2282L2297,2252"/>
<polygon class="f" points="2447,2592 2454,2558 2505,2528 2499,2562"/>
<path d="M2499,2562L2505,2528M2447,2592L2499,2562"/>
<polygon class="f" points="2274,2242 2241,2229 2293,2199 2326,2212"/>
<path d="M2326,2212L2293,2199M2241,2229L2293,2199"/>
<polygon class="f" points="2491,2613 2490,2574 2542,2544 2543,2583"/>
<path d="M2543,2583L2542,2544M2491,2613L2543,2583"/>
<polygon class="f" points="2280,2203 2246,2181 2298,2151 2332,2173"/>
<path d="M2332,2173L2298,2151M2246,2181L2298,2151"/>
<polygon class="f" points="2533,2623 2525,2580 2577,2550 2585,2593"/>
<path d="M2585,2593L2577,2550M2533,2623L2585,2593"/>
<polygon class="f" points="2292,2170 2260,2141 2312,2111 2344,2140"/>
<path d="M2344,2140L2312,2111M2260,2141L2312,2111"/>
<polygon class="f" points="2571,2620 2557,2577 2609,2547 2623,2590"/>
<path d="M2623,2590L2609,2547M2571,2620L2623,2590"/>
<polygon class="f" points="2312,2146 2282,2110 2334,2080 2364,2116"/>
<path d="M2364,2116L2334,2080M2282,2110L2334,2080"/>
<polygon class="f" points="2312,2090 2297,2098 2349,2068 2364,2060"/>
<path d="M2364,2060L2349,2068M2312,2090L2364,2060M2297,2098L2349,2068"/>
<polygon class="f" points="2605,2606 2584,2563 2585,2562 2586,2562 2587,2561 2588,2560 2589,2559 2590,2558 2642,2528 2641,2529 2640,2530 2639,2531 2638,2532 2637,2532 2636,2533 2657,2576"/>
<path d="M2657,2576L2636,2533L2637,2532L2638,2532L2639,2531L2640,2530L2641,2529L2642,2528M2605,2606L2657,2576"/>
<polygon class="f" points="2345,2127 2344,2128 2343,2128 2342,2129 2340,2129 2339,2129 2338,2130 2312,2090 2364,2060 2390,2100 2391,2099 2392,2099 2393,2099 2395,2098 2396,2098 2397,2097"/>
<path d="M2397,2097L2396,2098L2395,2098L2393,2099L2392,2099L2391,2099L2390,2100L2364,2060M2312,2090L2364,2060"/>
<polygon class="f" points="2620,2594 2631,2581 2683,2551 2672,2564"/>
<path d="M2672,2564L2683,2551M2620,2594L2672,2564M2631,2581L2683,2551"/>
<polygon class="f" points="2347,2081 2331,2084 2383,2054 2399,2051"/>
<path d="M2399,2051L2383,2054M2347,2081L2399,2051M2331,2084L2383,2054"/>
<polygon class="f" points="2631,2581 2605,2541 2606,2540 2607,2538 2608,2537 2608,2536 2609,2535 2610,2534 2662,2504 2661,2505 2660,2506 2660,2507 2659,2508 2658,2510 2657,2511 2683,2551"/>
<path d="M2683,2551L2657,2511L2658,2510L2659,2508L2660,2507L2660,2506L2661,2505L2662,2504M2631,2581L2683,2551"/>
<polygon class="f" points="2377,2124 2376,2124 2374,2124 2373,2124 2371,2124 2370,2124 2369,2124 2347,2081 2399,2051 2421,2094 2422,2094 2423,2094 2425,2094 2426,2094 2428,2094 2429,2094"/>
<path d="M2429,2094L2428,2094L2426,2094L2425,2094L2423,2094L2422,2094L2421,2094L2399,2051M2347,2081L2399,2051"/>
<polygon class="f" points="2642,2563 2650,2546 2702,2516 2694,2533"/>
<path d="M2694,2533L2702,2516M2642,2563L2694,2533M2650,2546L2702,2516"/>
<polygon class="f" points="2650,2546 2620,2510 2620,2508 2621,2507 2621,2506 2622,2504 2622,2503 2622,2501 2674,2471 2674,2473 2674,2474 2673,2476 2673,2477 2672,2478 2672,2480 2702,2516"/>
<path d="M2702,2516L2672,2480L2672,2478L2673,2477L2673,2476L2674,2474L2674,2473L2674,2471M2650,2546L2702,2516"/>
<polygon class="f" points="2388,2084 2369,2081 2421,2051 2440,2054"/>
<path d="M2440,2054L2421,2051M2388,2084L2440,2054M2369,2081L2421,2051"/>
<polygon class="f" points="2412,2130 2410,2130 2409,2129 2407,2129 2406,2129 2404,2128 2403,2128 2388,2084 2440,2054 2455,2098 2456,2098 2458,2099 2459,2099 2461,2099 2462,2100 2464,2100"/>
<path d="M2464,2100L2462,2100L2461,2099L2459,2099L2458,2099L2456,2098L2455,2098L2440,2054M2388,2084L2440,2054"/>
<polygon class="f" points="2660,2502 2627,2472 2627,2470 2627,2469 2627,2467 2628,2465 2628,2464 2628,2462 2680,2432 2680,2434 2680,2435 2679,2437 2679,2439 2679,2440 2679,2442 2711,2472"/>
<path d="M2711,2472L2679,2442L2679,2440L2679,2439L2679,2437L2680,2435L2680,2434L2680,2432M2660,2502L2711,2472"/>
<polygon class="f" points="2656,2523 2660,2502 2711,2472 2708,2493"/>
<path d="M2708,2493L2711,2472M2656,2523L2708,2493M2660,2502L2711,2472"/>
<polygon class="f" points="2449,2146 2447,2146 2446,2145 2444,2144 2442,2143 2441,2142 2439,2142 2431,2099 2483,2069 2491,2112 2493,2112 2494,2113 2496,2114 2497,2115 2499,2116 2501,2116"/>
<path d="M2501,2116L2499,2116L2497,2115L2496,2114L2494,2113L2493,2112L2491,2112L2483,2069M2431,2099L2483,2069"/>
<polygon class="f" points="2431,2099 2411,2091 2463,2061 2483,2069"/>
<path d="M2483,2069L2463,2061M2431,2099L2483,2069M2411,2091L2463,2061"/>
<polygon class="f" points="2660,2452 2627,2429 2626,2427 2626,2425 2626,2424 2626,2422 2626,2420 2625,2418 2677,2388 2677,2390 2678,2392 2678,2394 2678,2395 2678,2397 2679,2399 2712,2422"/>
<path d="M2712,2422L2679,2399L2678,2397L2678,2395L2678,2394L2678,2392L2677,2390L2677,2388M2660,2452L2712,2422"/>
<polygon class="f" points="2485,2172 2484,2170 2482,2169 2481,2168 2479,2167 2478,2166 2476,2165 2475,2125 2526,2095 2528,2135 2530,2136 2531,2137 2533,2138 2534,2139 2536,2140 2537,2142"/>
<path d="M2537,2142L2536,2140L2534,2139L2533,2138L2531,2137L2530,2136L2528,2135L2526,2095M2475,2125L2526,2095"/>
<polygon class="f" points="2661,2475 2660,2452 2712,2422 2713,2445"/>
<path d="M2713,2445L2712,2422M2661,2475L2713,2445M2660,2452L2712,2422"/>
<polygon class="f" points="2475,2125 2455,2112 2507,2082 2526,2095"/>
<path d="M2526,2095L2507,2082M2475,2125L2526,2095M2455,2112L2507,2082"/>
<polygon class="f" points="2652,2397 2618,2383 2618,2381 2617,2379 2617,2377 2616,2375 2616,2373 2615,2371 2667,2341 2668,2343 2668,2345 2669,2347 2669,2349 2670,2351 2670,2353 2704,2367"/>
<path d="M2704,2367L2670,2353L2670,2351L2669,2349L2669,2347L2668,2345L2668,2343L2667,2341M2652,2397L2704,2367"/>
<polygon class="f" points="2521,2205 2519,2203 2518,2202 2516,2200 2515,2199 2514,2197 2512,2196 2517,2160 2569,2130 2564,2166 2566,2167 2567,2169 2568,2170 2570,2172 2571,2173 2573,2175"/>
<path d="M2573,2175L2571,2173L2570,2172L2568,2170L2567,2169L2566,2167L2564,2166L2569,2130M2517,2160L2569,2130"/>
<polygon class="f" points="2635,2341 2603,2335 2602,2333 2601,2331 2601,2329 2600,2327 2599,2325 2598,2323 2622,2309 2674,2279 2650,2293 2651,2295 2652,2297 2652,2299 2653,2301 2654,2303 2655,2305 2687,2311"/>
<path d="M2687,2311L2655,2305L2654,2303L2653,2301L2652,2299L2652,2297L2651,2295L2650,2293L2674,2279M2635,2341L2687,2311M2622,2309L2674,2279"/>
<polygon class="f" points="2657,2422 2652,2397 2704,2367 2709,2392"/>
<path d="M2709,2392L2704,2367M2657,2422L2709,2392M2652,2397L2704,2367"/>
<polygon class="f" points="2577,2231 2553,2244 2552,2242 2550,2241 2549,2239 2548,2237 2547,2235 2545,2234 2557,2204 2609,2174 2597,2204 2599,2205 2600,2207 2601,2209 2602,2211 2604,2212 2605,2214 2629,2201"/>
<path d="M2629,2201L2605,2214L2604,2212L2602,2211L2601,2209L2600,2207L2599,2205L2597,2204L2609,2174M2577,2231L2629,2201M2557,2204L2609,2174"/>
<polygon class="f" points="2517,2160 2498,2143 2550,2113 2569,2130"/>
<path d="M2569,2130L2550,2113M2517,2160L2569,2130M2498,2143L2550,2113"/>
<polygon class="f" points="2610,2284 2581,2288 2580,2286 2579,2284 2578,2283 2577,2281 2575,2279 2574,2277 2593,2255 2645,2225 2626,2247 2627,2249 2628,2251 2630,2253 2631,2254 2632,2256 2633,2258 2662,2254"/>
<path d="M2662,2254L2633,2258L2632,2256L2631,2254L2630,2253L2628,2251L2627,2249L2626,2247L2645,2225M2610,2284L2662,2254M2593,2255L2645,2225"/>
<polygon class="f" points="2644,2366 2635,2341 2687,2311 2695,2336"/>
<path d="M2695,2336L2687,2311M2644,2366L2695,2336M2635,2341L2687,2311"/>
<polygon class="f" points="2557,2204 2540,2183 2592,2153 2609,2174"/>
<path d="M2609,2174L2592,2153M2557,2204L2609,2174M2540,2183L2592,2153"/>
<polygon class="f" points="2622,2309 2610,2284 2662,2254 2674,2279"/>
<path d="M2674,2279L2662,2254M2622,2309L2674,2279M2610,2284L2662,2254"/>
<polygon class="f" points="2593,2255 2577,2231 2629,2201 2645,2225"/>
<path d="M2645,2225L2629,2201M2593,2255L2645,2225M2577,2231L2629,2201"/>
<polygon class="w" style="stroke-width:2.7" points="2627,2467 2628,2465 2628,2464 2628,2462 2661,2475 2660,2452 2627,2429 2626,2427 2626,2425 2626,2424 2626,2422 2626,2420 2625,2418 2657,2422 2652,2397 2618,2383 2618,2381 2617,2379 2617,2377 2616,2375 2616,2373 2615,2371 2644,2366 2635,2341 2603,2335 2602,2333 2601,2331 2601,2329 2600,2327 2599,2325 2598,2323 2622,2309 2610,2284 2581,2288 2580,2286 2579,2284 2578,2283 2577,2281 2575,2279 2574,2277 2593,2255 2577,2231 2553,2244 2552,2242 2550,2241 2549,2239 2548,2237 2547,2235 2545,2234 2557,2204 2540,2183 2521,2205 2519,2203 2518,2202 2516,2200 2515,2199 2514,2197 2512,2196 2517,2160 2498,2143 2485,2172 2484,2170 2482,2169 2481,2168 2479,2167 2478,2166 2476,2165 2475,2125 2455,2112 2449,2146 2447,2146 2446,2145 2444,2144 2442,2143 2441,2142 2439,2142 2431,2099 2411,2091 2412,2130 2410,2130 2409,2129 2407,2129 2406,2129 2404,2128 2403,2128 2388,2084 2369,2081 2377,2124 2376,2124 2374,2124 2373,2124 2371,2124 2370,2124 2369,2124 2347,2081 2331,2084 2345,2127 2344,2128 2343,2128 2342,2129 2340,2129 2339,2129 2338,2130 2312,2090 2297,2098 2318,2141 2317,2142 2316,2142 2315,2143 2314,2144 2313,2145 2312,2146 2282,2110 2271,2123 2297,2163 2296,2164 2295,2166 2295,2167 2294,2168 2293,2169 2292,2170 2260,2141 2253,2158 2282,2194 2282,2196 2281,2197 2281,2198 2280,2200 2280,2201 2280,2203 2246,2181 2243,2202 2275,2232 2275,2234 2275,2235 2275,2237 2275,2239 2274,2240 2274,2242 2241,2229 2242,2252 2276,2275 2276,2277 2276,2279 2276,2280 2276,2282 2277,2284 2277,2286 2245,2282 2250,2307 2284,2321 2284,2323 2285,2325 2285,2327 2286,2329 2286,2331 2287,2333 2259,2338 2267,2363 2299,2369 2300,2371 2301,2373 2302,2375 2302,2377 2303,2379 2304,2381 2280,2395 2293,2420 2321,2416 2322,2418 2323,2420 2325,2421 2326,2423 2327,2425 2328,2427 2309,2449 2325,2473 2349,2460 2350,2462 2352,2463 2353,2465 2354,2467 2356,2469 2357,2470 2345,2500 2362,2521 2381,2499 2383,2501 2384,2502 2386,2504 2387,2505 2389,2507 2390,2508 2385,2544 2404,2561 2417,2532 2418,2534 2420,2535 2421,2536 2423,2537 2424,2538 2426,2539 2428,2579 2447,2592 2454,2558 2455,2558 2457,2559 2458,2560 2460,2561 2461,2562 2463,2562 2472,2605 2491,2613 2490,2574 2492,2574 2493,2575 2495,2575 2496,2575 2498,2576 2499,2576 2515,2620 2533,2623 2525,2580 2527,2580 2528,2580 2529,2580 2531,2580 2532,2580 2533,2580 2555,2623 2571,2620 2557,2577 2558,2576 2559,2576 2561,2575 2562,2575 2563,2575 2564,2574 2590,2614 2605,2606 2584,2563 2585,2562 2586,2562 2587,2561 2588,2560 2589,2559 2590,2558 2620,2594 2631,2581 2605,2541 2606,2540 2607,2538 2608,2537 2608,2536 2609,2535 2610,2534 2642,2563 2650,2546 2620,2510 2620,2508 2621,2507 2621,2506 2622,2504 2622,2503 2622,2501 2656,2523 2660,2502 2627,2472 2627,2470 2627,2469"/>
<polygon class="f" points="2357,2519 2373,2504 2381,2499 2366,2514"/>
<path style="stroke-width:2.7" d="M2357,2519L2366,2514"/>
<polygon class="f" points="2278,2338 2258,2343 2266,2338 2287,2333"/>
<path style="stroke-width:2.7" d="M2258,2343L2266,2338"/>
<polygon class="f" points="2397,2558 2408,2537 2417,2532 2406,2553"/>
<path style="stroke-width:2.7" d="M2397,2558L2406,2553"/>
<polygon class="f" points="2268,2291 2245,2290 2253,2285 2277,2286"/>
<path style="stroke-width:2.7" d="M2245,2290L2253,2285"/>
<polygon class="f" points="2439,2588 2445,2563 2454,2558 2448,2583"/>
<path style="stroke-width:2.7" d="M2439,2588L2448,2583"/>
<polygon class="f" points="2266,2247 2241,2239 2249,2234 2274,2242"/>
<path style="stroke-width:2.7" d="M2241,2239L2249,2234"/>
<polygon class="f" points="2481,2608 2482,2579 2490,2574 2490,2603"/>
<path style="stroke-width:2.7" d="M2481,2608L2490,2603"/>
<polygon class="f" points="2271,2208 2245,2193 2254,2188 2280,2203"/>
<path style="stroke-width:2.7" d="M2245,2193L2254,2188"/>
<polygon class="f" points="2521,2617 2517,2585 2525,2580 2530,2612"/>
<path style="stroke-width:2.7" d="M2521,2617L2530,2612"/>
<polygon class="f" points="2284,2175 2259,2155 2267,2150 2292,2170"/>
<path style="stroke-width:2.7" d="M2259,2155L2267,2150"/>
<polygon class="f" points="2558,2615 2548,2582 2557,2577 2567,2610"/>
<path style="stroke-width:2.7" d="M2558,2615L2567,2610"/>
<polygon class="f" points="2303,2151 2280,2125 2289,2120 2312,2146"/>
<path style="stroke-width:2.7" d="M2280,2125L2289,2120"/>
<polygon class="f" points="2309,2106 2295,2113 2304,2108 2317,2101"/>
<path style="stroke-width:2.7" d="M2309,2106L2317,2101M2295,2113L2304,2108"/>
<polygon class="f" points="2590,2601 2575,2568 2576,2567 2577,2567 2578,2566 2579,2565 2580,2564 2581,2563 2590,2558 2589,2559 2588,2560 2587,2561 2586,2562 2585,2562 2584,2563 2599,2596"/>
<path style="stroke-width:2.7" d="M2590,2601L2599,2596"/>
<polygon class="f" points="2337,2132 2335,2133 2334,2133 2333,2134 2332,2134 2330,2134 2329,2135 2309,2106 2317,2101 2338,2130 2339,2129 2340,2129 2342,2129 2343,2128 2344,2128 2345,2127"/>
<path style="stroke-width:2.7" d="M2309,2106L2317,2101"/>
<polygon class="f" points="2605,2589 2615,2577 2624,2572 2613,2584"/>
<path style="stroke-width:2.7" d="M2605,2589L2613,2584M2615,2577L2624,2572"/>
<polygon class="f" points="2343,2097 2327,2099 2335,2094 2351,2092"/>
<path style="stroke-width:2.7" d="M2343,2097L2351,2092M2327,2099L2335,2094"/>
<polygon class="f" points="2615,2577 2597,2546 2597,2545 2598,2543 2599,2542 2600,2541 2600,2540 2601,2539 2610,2534 2609,2535 2608,2536 2608,2537 2607,2538 2606,2540 2605,2541 2624,2572"/>
<path style="stroke-width:2.7" d="M2615,2577L2624,2572"/>
<polygon class="f" points="2368,2129 2367,2129 2365,2129 2364,2129 2363,2129 2361,2129 2360,2129 2343,2097 2351,2092 2369,2124 2370,2124 2371,2124 2373,2124 2374,2124 2376,2124 2377,2124"/>
<path style="stroke-width:2.7" d="M2343,2097L2351,2092"/>
<polygon class="f" points="2626,2559 2633,2543 2642,2538 2635,2554"/>
<path style="stroke-width:2.7" d="M2626,2559L2635,2554M2633,2543L2642,2538"/>
<polygon class="f" points="2381,2100 2364,2097 2372,2092 2390,2095"/>
<path style="stroke-width:2.7" d="M2381,2100L2390,2095M2364,2097L2372,2092"/>
<polygon class="f" points="2633,2543 2611,2515 2612,2513 2612,2512 2613,2511 2613,2509 2613,2508 2614,2506 2622,2501 2622,2503 2622,2504 2621,2506 2621,2507 2620,2508 2620,2510 2642,2538"/>
<path style="stroke-width:2.7" d="M2633,2543L2642,2538"/>
<polygon class="f" points="2403,2135 2402,2135 2400,2134 2399,2134 2397,2134 2396,2133 2394,2133 2381,2100 2390,2095 2403,2128 2404,2128 2406,2129 2407,2129 2409,2129 2410,2130 2412,2130"/>
<path style="stroke-width:2.7" d="M2381,2100L2390,2095"/>
<polygon class="f" points="2639,2521 2643,2501 2651,2496 2648,2516"/>
<path style="stroke-width:2.7" d="M2639,2521L2648,2516M2643,2501L2651,2496"/>
<polygon class="f" points="2643,2501 2618,2477 2619,2475 2619,2474 2619,2472 2619,2470 2619,2469 2619,2467 2628,2462 2628,2464 2628,2465 2627,2467 2627,2469 2627,2470 2627,2472 2651,2496"/>
<path style="stroke-width:2.7" d="M2643,2501L2651,2496"/>
<polygon class="f" points="2423,2114 2404,2106 2413,2101 2431,2109"/>
<path style="stroke-width:2.7" d="M2423,2114L2431,2109M2404,2106L2413,2101"/>
<polygon class="f" points="2440,2151 2438,2151 2437,2150 2435,2149 2434,2148 2432,2147 2431,2147 2423,2114 2431,2109 2439,2142 2441,2142 2442,2143 2444,2144 2446,2145 2447,2146 2449,2146"/>
<path style="stroke-width:2.7" d="M2423,2114L2431,2109"/>
<polygon class="f" points="2643,2453 2618,2434 2618,2432 2618,2430 2617,2429 2617,2427 2617,2425 2617,2423 2625,2418 2626,2420 2626,2422 2626,2424 2626,2425 2626,2427 2627,2429 2652,2448"/>
<path style="stroke-width:2.7" d="M2643,2453L2652,2448"/>
<polygon class="f" points="2477,2177 2475,2175 2474,2174 2472,2173 2471,2172 2469,2171 2468,2170 2465,2139 2474,2134 2476,2165 2478,2166 2479,2167 2481,2168 2482,2169 2484,2170 2485,2172"/>
<path style="stroke-width:2.7" d="M2465,2139L2474,2134"/>
<polygon class="f" points="2644,2475 2643,2453 2652,2448 2653,2470"/>
<path style="stroke-width:2.7" d="M2644,2475L2653,2470M2643,2453L2652,2448"/>
<polygon class="f" points="2465,2139 2446,2126 2455,2121 2474,2134"/>
<path style="stroke-width:2.7" d="M2465,2139L2474,2134M2446,2126L2455,2121"/>
<polygon class="f" points="2635,2400 2610,2388 2609,2386 2609,2384 2608,2382 2608,2380 2607,2378 2607,2376 2615,2371 2616,2373 2616,2375 2617,2377 2617,2379 2618,2381 2618,2383 2644,2395"/>
<path style="stroke-width:2.7" d="M2635,2400L2644,2395"/>
<polygon class="f" points="2512,2210 2511,2208 2509,2207 2508,2205 2506,2204 2505,2202 2503,2201 2506,2173 2515,2168 2512,2196 2514,2197 2515,2199 2516,2200 2518,2202 2519,2203 2521,2205"/>
<path style="stroke-width:2.7" d="M2506,2173L2515,2168"/>
<polygon class="f" points="2640,2424 2635,2400 2644,2395 2649,2419"/>
<path style="stroke-width:2.7" d="M2640,2424L2649,2419M2635,2400L2644,2395"/>
<polygon class="f" points="2506,2173 2488,2156 2496,2151 2515,2168"/>
<path style="stroke-width:2.7" d="M2506,2173L2515,2168M2488,2156L2496,2151"/>
<polygon class="f" points="2619,2346 2594,2340 2593,2338 2593,2336 2592,2334 2591,2332 2590,2330 2589,2328 2606,2316 2615,2311 2598,2323 2599,2325 2600,2327 2601,2329 2601,2331 2602,2333 2603,2335 2627,2341"/>
<path style="stroke-width:2.7" d="M2619,2346L2627,2341M2606,2316L2615,2311"/>
<polygon class="f" points="2564,2241 2544,2249 2543,2247 2542,2246 2541,2244 2539,2242 2538,2240 2537,2239 2544,2215 2553,2210 2545,2234 2547,2235 2548,2237 2549,2239 2550,2241 2552,2242 2553,2244 2572,2236"/>
<path style="stroke-width:2.7" d="M2564,2241L2572,2236M2544,2215L2553,2210"/>
<polygon class="f" points="2595,2292 2572,2293 2571,2291 2570,2289 2569,2288 2568,2286 2567,2284 2566,2282 2578,2264 2587,2259 2574,2277 2575,2279 2577,2281 2578,2283 2579,2284 2580,2286 2581,2288 2603,2287"/>
<path style="stroke-width:2.7" d="M2595,2292L2603,2287M2578,2264L2587,2259"/>
<polygon class="f" points="2627,2371 2619,2346 2627,2341 2636,2366"/>
<path style="stroke-width:2.7" d="M2627,2371L2636,2366M2619,2346L2627,2341"/>
<polygon class="f" points="2544,2215 2528,2195 2536,2190 2553,2210"/>
<path style="stroke-width:2.7" d="M2544,2215L2553,2210M2528,2195L2536,2190"/>
<polygon class="f" points="2606,2316 2595,2292 2603,2287 2615,2311"/>
<path style="stroke-width:2.7" d="M2606,2316L2615,2311M2595,2292L2603,2287"/>
<polygon class="f" points="2578,2264 2564,2241 2572,2236 2587,2259"/>
<path style="stroke-width:2.7" d="M2578,2264L2587,2259M2564,2241L2572,2236"/>
<polygon class="w" points="2619,2472 2619,2470 2619,2469 2619,2467 2644,2475 2643,2453 2618,2434 2618,2432 2618,2430 2617,2429 2617,2427 2617,2425 2617,2423 2640,2424 2635,2400 2610,2388 2609,2386 2609,2384 2608,2382 2608,2380 2607,2378 2607,2376 2627,2371 2619,2346 2594,2340 2593,2338 2593,2336 2592,2334 2591,2332 2590,2330 2589,2328 2606,2316 2595,2292 2572,2293 2571,2291 2570,2289 2569,2288 2568,2286 2567,2284 2566,2282 2578,2264 2564,2241 2544,2249 2543,2247 2542,2246 2541,2244 2539,2242 2538,2240 2537,2239 2544,2215 2528,2195 2512,2210 2511,2208 2509,2207 2508,2205 2506,2204 2505,2202 2503,2201 2506,2173 2488,2156 2477,2177 2475,2175 2474,2174 2472,2173 2471,2172 2469,2171 2468,2170 2465,2139 2446,2126 2440,2151 2438,2151 2437,2150 2435,2149 2434,2148 2432,2147 2431,2147 2423,2114 2404,2106 2403,2135 2402,2135 2400,2134 2399,2134 2397,2134 2396,2133 2394,2133 2381,2100 2364,2097 2368,2129 2367,2129 2365,2129 2364,2129 2363,2129 2361,2129 2360,2129 2343,2097 2327,2099 2337,2132 2335,2133 2334,2133 2333,2134 2332,2134 2330,2134 2329,2135 2309,2106 2295,2113 2309,2146 2308,2147 2307,2147 2306,2148 2305,2149 2304,2150 2303,2151 2280,2125 2270,2137 2288,2168 2287,2169 2287,2171 2286,2172 2285,2173 2284,2174 2284,2175 2259,2155 2252,2171 2274,2199 2273,2201 2273,2202 2272,2203 2272,2205 2271,2206 2271,2208 2245,2193 2242,2213 2266,2237 2266,2239 2266,2240 2266,2242 2266,2244 2266,2245 2266,2247 2241,2239 2241,2261 2267,2280 2267,2282 2267,2284 2267,2285 2268,2287 2268,2289 2268,2291 2245,2290 2250,2314 2275,2326 2276,2328 2276,2330 2277,2332 2277,2334 2278,2336 2278,2338 2258,2343 2266,2368 2291,2374 2291,2376 2292,2378 2293,2380 2294,2382 2295,2384 2295,2386 2278,2398 2290,2422 2313,2421 2314,2423 2315,2425 2316,2426 2317,2428 2318,2430 2319,2432 2306,2450 2321,2473 2340,2465 2342,2467 2343,2468 2344,2470 2346,2472 2347,2474 2348,2475 2340,2499 2357,2519 2373,2504 2374,2506 2376,2507 2377,2509 2378,2510 2380,2512 2381,2513 2379,2541 2397,2558 2408,2537 2410,2539 2411,2540 2413,2541 2414,2542 2416,2543 2417,2544 2420,2575 2439,2588 2445,2563 2446,2563 2448,2564 2449,2565 2451,2566 2453,2567 2454,2567 2462,2600 2481,2608 2482,2579 2483,2579 2485,2580 2486,2580 2488,2580 2489,2581 2491,2581 2503,2614 2521,2617 2517,2585 2518,2585 2519,2585 2521,2585 2522,2585 2523,2585 2525,2585 2542,2617 2558,2615 2548,2582 2550,2581 2551,2581 2552,2580 2553,2580 2554,2580 2556,2579 2576,2608 2590,2601 2575,2568 2576,2567 2577,2567 2578,2566 2579,2565 2580,2564 2581,2563 2605,2589 2615,2577 2597,2546 2597,2545 2598,2543 2599,2542 2600,2541 2600,2540 2601,2539 2626,2559 2633,2543 2611,2515 2612,2513 2612,2512 2613,2511 2613,2509 2613,2508 2614,2506 2639,2521 2643,2501 2618,2477 2619,2475 2619,2474"/>
<polygon class="f" points="2282,2532 2304,2515 2356,2485 2334,2502"/>
<path d="M2334,2502L2356,2485M2282,2532L2334,2502"/>
<polygon class="f" points="2234,2392 2208,2401 2260,2371 2286,2362"/>
<path d="M2286,2362L2260,2371M2208,2401L2260,2371"/>
<polygon class="f" points="2322,2577 2338,2552 2390,2522 2374,2547"/>
<path d="M2374,2547L2390,2522M2322,2577L2374,2547"/>
<polygon class="f" points="2220,2344 2190,2345 2242,2315 2272,2314"/>
<path d="M2272,2314L2242,2315M2190,2345L2242,2315"/>
<polygon class="f" points="2365,2613 2374,2581 2426,2551 2417,2583"/>
<path d="M2417,2583L2426,2551M2365,2613L2417,2583"/>
<polygon class="f" points="2214,2299 2181,2290 2233,2260 2266,2269"/>
<path d="M2266,2269L2233,2260M2181,2290L2233,2260"/>
<polygon class="f" points="2409,2639 2411,2602 2463,2572 2461,2609"/>
<path d="M2461,2609L2463,2572M2409,2639L2461,2609"/>
<polygon class="f" points="2215,2257 2182,2239 2234,2209 2267,2227"/>
<path d="M2267,2227L2234,2209M2182,2239L2234,2209"/>
<polygon class="f" points="2452,2654 2447,2613 2499,2583 2504,2624"/>
<path d="M2504,2624L2499,2583M2452,2654L2504,2624"/>
<polygon class="f" points="2225,2221 2191,2195 2243,2165 2277,2191"/>
<path d="M2277,2191L2243,2165M2191,2195L2243,2165"/>
<polygon class="f" points="2492,2658 2481,2615 2533,2585 2544,2628"/>
<path d="M2544,2628L2533,2585M2492,2658L2544,2628"/>
<polygon class="f" points="2241,2192 2209,2160 2261,2130 2293,2162"/>
<path d="M2293,2162L2261,2130M2209,2160L2261,2130"/>
<polygon class="f" points="2528,2650 2511,2606 2562,2576 2580,2620"/>
<path d="M2580,2620L2562,2576M2528,2650L2580,2620"/>
<polygon class="f" points="2264,2172 2235,2134 2287,2104 2316,2142"/>
<path d="M2316,2142L2287,2104M2235,2134L2287,2104"/>
<polygon class="f" points="2515,2604 2516,2603 2517,2602 2569,2572 2568,2573 2567,2574"/>
<path d="M2567,2574L2568,2573L2569,2572"/>
<polygon class="f" points="2270,2168 2269,2168 2268,2169 2267,2170 2266,2170 2318,2140 2319,2140 2320,2139 2321,2138 2322,2138"/>
<path d="M2322,2138L2321,2138L2320,2139L2319,2140L2318,2140"/>
<polygon class="f" points="2546,2640 2558,2630 2610,2600 2597,2610"/>
<path d="M2597,2610L2610,2600M2546,2640L2597,2610M2558,2630L2610,2600"/>
<polygon class="f" points="2268,2119 2253,2124 2305,2094 2320,2089"/>
<path d="M2320,2089L2305,2094M2268,2119L2320,2089M2253,2124L2305,2094"/>
<polygon class="f" points="2558,2630 2535,2588 2536,2587 2537,2586 2537,2585 2538,2584 2539,2583 2540,2582 2592,2552 2591,2553 2590,2554 2589,2555 2589,2556 2588,2557 2587,2558 2610,2600"/>
<path d="M2610,2600L2587,2558L2588,2557L2589,2556L2589,2555L2590,2554L2591,2553L2592,2552M2558,2630L2610,2600"/>
<polygon class="f" points="2300,2159 2299,2160 2297,2160 2296,2160 2295,2160 2293,2160 2292,2161 2268,2119 2320,2089 2344,2131 2345,2130 2347,2130 2348,2130 2349,2130 2351,2130 2352,2129"/>
<path d="M2352,2129L2351,2130L2349,2130L2348,2130L2347,2130L2345,2130L2344,2131L2320,2089M2268,2119L2320,2089"/>
<polygon class="f" points="2572,2614 2581,2599 2633,2569 2624,2584"/>
<path d="M2624,2584L2633,2569M2572,2614L2624,2584M2581,2599L2633,2569"/>
<polygon class="f" points="2306,2116 2289,2116 2341,2086 2358,2086"/>
<path d="M2358,2086L2341,2086M2306,2116L2358,2086M2289,2116L2341,2086"/>
<polygon class="f" points="2581,2599 2553,2561 2554,2560 2554,2559 2555,2557 2555,2556 2556,2555 2556,2553 2608,2523 2608,2525 2607,2526 2607,2527 2606,2529 2605,2530 2605,2531 2633,2569"/>
<path d="M2633,2569L2605,2531L2605,2530L2606,2529L2607,2527L2607,2526L2608,2525L2608,2523M2581,2599L2633,2569"/>
<polygon class="f" points="2333,2161 2332,2161 2331,2160 2329,2160 2328,2160 2326,2160 2325,2160 2306,2116 2358,2086 2377,2130 2378,2130 2380,2130 2381,2130 2383,2130 2384,2131 2385,2131"/>
<path d="M2385,2131L2384,2131L2383,2130L2381,2130L2380,2130L2378,2130L2377,2130L2358,2086M2306,2116L2358,2086"/>
<polygon class="f" points="2590,2579 2595,2560 2647,2530 2642,2549"/>
<path d="M2642,2549L2647,2530M2590,2579L2642,2549M2595,2560L2647,2530"/>
<polygon class="f" points="2595,2560 2564,2527 2564,2525 2564,2524 2565,2522 2565,2520 2565,2519 2565,2517 2617,2487 2617,2489 2617,2490 2617,2492 2616,2494 2616,2495 2616,2497 2647,2530"/>
<path d="M2647,2530L2616,2497L2616,2495L2616,2494L2617,2492L2617,2490L2617,2489L2617,2487M2595,2560L2647,2530"/>
<polygon class="f" points="2370,2172 2368,2172 2366,2171 2365,2170 2363,2170 2362,2169 2360,2168 2348,2125 2400,2095 2412,2138 2414,2139 2415,2140 2417,2140 2418,2141 2420,2142 2421,2142"/>
<path d="M2421,2142L2420,2142L2418,2141L2417,2140L2415,2140L2414,2139L2412,2138L2400,2095M2348,2125L2400,2095"/>
<polygon class="f" points="2348,2125 2329,2120 2381,2090 2400,2095"/>
<path d="M2400,2095L2381,2090M2348,2125L2400,2095M2329,2120L2381,2090"/>
<polygon class="f" points="2600,2512 2567,2486 2567,2484 2567,2483 2567,2481 2567,2479 2567,2477 2567,2475 2619,2445 2619,2447 2619,2449 2619,2451 2619,2453 2619,2454 2619,2456 2652,2482"/>
<path d="M2652,2482L2619,2456L2619,2454L2619,2453L2619,2451L2619,2449L2619,2447L2619,2445M2600,2512L2652,2482"/>
<polygon class="f" points="2406,2193 2405,2192 2403,2191 2402,2190 2400,2189 2399,2188 2397,2187 2392,2145 2444,2115 2449,2157 2451,2158 2452,2159 2454,2160 2455,2161 2457,2162 2458,2163"/>
<path d="M2458,2163L2457,2162L2455,2161L2454,2160L2452,2159L2451,2158L2449,2157L2444,2115M2392,2145L2444,2115"/>
<polygon class="f" points="2599,2535 2600,2512 2652,2482 2651,2505"/>
<path d="M2651,2505L2652,2482M2599,2535L2651,2505M2600,2512L2652,2482"/>
<polygon class="f" points="2392,2145 2372,2135 2424,2105 2444,2115"/>
<path d="M2444,2115L2424,2105M2392,2145L2444,2115M2372,2135L2424,2105"/>
<polygon class="f" points="2597,2460 2563,2441 2562,2439 2562,2437 2562,2436 2561,2434 2561,2432 2561,2430 2613,2400 2613,2402 2613,2404 2614,2406 2614,2407 2614,2409 2615,2411 2649,2430"/>
<path d="M2649,2430L2615,2411L2614,2409L2614,2407L2614,2406L2613,2404L2613,2402L2613,2400M2597,2460L2649,2430"/>
<polygon class="f" points="2443,2222 2441,2221 2440,2219 2438,2218 2437,2217 2435,2215 2434,2214 2436,2176 2488,2146 2486,2184 2487,2185 2489,2187 2490,2188 2492,2189 2493,2191 2495,2192"/>
<path d="M2495,2192L2493,2191L2492,2189L2490,2188L2489,2187L2487,2185L2486,2184L2488,2146M2436,2176L2488,2146"/>
<polygon class="f" points="2599,2484 2597,2460 2649,2430 2651,2454"/>
<path d="M2651,2454L2649,2430M2599,2484L2651,2454M2597,2460L2649,2430"/>
<polygon class="f" points="2584,2404 2551,2394 2550,2392 2550,2390 2549,2388 2548,2386 2548,2384 2547,2382 2599,2352 2600,2354 2600,2356 2601,2358 2602,2360 2602,2362 2603,2364 2636,2374"/>
<path d="M2636,2374L2603,2364L2602,2362L2602,2360L2601,2358L2600,2356L2600,2354L2599,2352M2584,2404L2636,2374"/>
<polygon class="f" points="2436,2176 2416,2161 2468,2131 2488,2146"/>
<path d="M2488,2146L2468,2131M2436,2176L2488,2146M2416,2161L2468,2131"/>
<polygon class="f" points="2477,2259 2475,2257 2474,2255 2473,2254 2471,2252 2470,2251 2469,2249 2477,2216 2529,2186 2520,2219 2522,2221 2523,2222 2525,2224 2526,2225 2527,2227 2529,2229"/>
<path d="M2529,2229L2527,2227L2526,2225L2525,2224L2523,2222L2522,2221L2520,2219L2529,2186M2477,2216L2529,2186"/>
<polygon class="f" points="2562,2347 2532,2346 2531,2345 2530,2343 2529,2341 2528,2339 2527,2337 2526,2335 2548,2317 2599,2287 2578,2305 2579,2307 2580,2309 2581,2311 2582,2313 2583,2315 2584,2316 2614,2317"/>
<path d="M2614,2317L2584,2316L2583,2315L2582,2313L2581,2311L2580,2309L2579,2307L2578,2305L2599,2287M2562,2347L2614,2317M2548,2317L2599,2287"/>
<polygon class="f" points="2534,2292 2507,2301 2506,2299 2505,2297 2503,2295 2502,2293 2501,2292 2500,2290 2515,2264 2567,2234 2552,2260 2553,2262 2554,2263 2555,2265 2557,2267 2558,2269 2559,2271 2586,2262"/>
<path d="M2586,2262L2559,2271L2558,2269L2557,2267L2555,2265L2554,2263L2553,2262L2552,2260L2567,2234M2534,2292L2586,2262M2515,2264L2567,2234"/>
<polygon class="f" points="2591,2429 2584,2404 2636,2374 2643,2399"/>
<path d="M2643,2399L2636,2374M2591,2429L2643,2399M2584,2404L2636,2374"/>
<polygon class="f" points="2477,2216 2459,2197 2511,2167 2529,2186"/>
<path d="M2529,2186L2511,2167M2477,2216L2529,2186M2459,2197L2511,2167"/>
<polygon class="f" points="2573,2373 2562,2347 2614,2317 2625,2343"/>
<path d="M2625,2343L2614,2317M2573,2373L2625,2343M2562,2347L2614,2317"/>
<polygon class="f" points="2515,2264 2499,2242 2551,2212 2567,2234"/>
<path d="M2567,2234L2551,2212M2515,2264L2567,2234M2499,2242L2551,2212"/>
<polygon class="f" points="2548,2317 2534,2292 2586,2262 2599,2287"/>
<path d="M2599,2287L2586,2262M2548,2317L2599,2287M2534,2292L2586,2262"/>
<polygon class="w" style="stroke-width:2.7" points="2567,2481 2567,2479 2567,2477 2567,2475 2599,2484 2597,2460 2563,2441 2562,2439 2562,2437 2562,2436 2561,2434 2561,2432 2561,2430 2591,2429 2584,2404 2551,2394 2550,2392 2550,2390 2549,2388 2548,2386 2548,2384 2547,2382 2573,2373 2562,2347 2532,2346 2531,2345 2530,2343 2529,2341 2528,2339 2527,2337 2526,2335 2548,2317 2534,2292 2507,2301 2506,2299 2505,2297 2503,2295 2502,2293 2501,2292 2500,2290 2515,2264 2499,2242 2477,2259 2475,2257 2474,2255 2473,2254 2471,2252 2470,2251 2469,2249 2477,2216 2459,2197 2443,2222 2441,2221 2440,2219 2438,2218 2437,2217 2435,2215 2434,2214 2436,2176 2416,2161 2406,2193 2405,2192 2403,2191 2402,2190 2400,2189 2399,2188 2397,2187 2392,2145 2372,2135 2370,2172 2368,2172 2366,2171 2365,2170 2363,2170 2362,2169 2360,2168 2348,2125 2329,2120 2333,2161 2332,2161 2331,2160 2329,2160 2328,2160 2326,2160 2325,2160 2306,2116 2289,2116 2300,2159 2299,2160 2297,2160 2296,2160 2295,2160 2293,2160 2292,2161 2268,2119 2253,2124 2270,2168 2269,2168 2268,2169 2267,2170 2266,2170 2265,2171 2264,2172 2235,2134 2223,2144 2246,2186 2245,2187 2244,2188 2243,2189 2243,2190 2242,2191 2241,2192 2209,2160 2200,2175 2228,2213 2227,2214 2227,2215 2226,2217 2226,2218 2225,2219 2225,2221 2191,2195 2186,2214 2217,2247 2217,2249 2216,2250 2216,2252 2216,2254 2216,2255 2215,2257 2182,2239 2180,2262 2214,2288 2214,2290 2214,2291 2214,2293 2214,2295 2214,2297 2214,2299 2181,2290 2184,2314 2218,2333 2218,2335 2219,2337 2219,2338 2220,2340 2220,2342 2220,2344 2190,2345 2197,2370 2230,2380 2231,2382 2231,2384 2232,2386 2233,2388 2233,2390 2234,2392 2208,2401 2218,2427 2249,2428 2250,2429 2251,2431 2252,2433 2253,2435 2254,2437 2255,2439 2233,2457 2247,2482 2274,2473 2275,2475 2276,2477 2278,2479 2279,2481 2280,2482 2281,2484 2266,2510 2282,2532 2304,2515 2306,2517 2307,2519 2308,2520 2310,2522 2311,2523 2312,2525 2304,2558 2322,2577 2338,2552 2340,2553 2341,2555 2343,2556 2344,2557 2346,2559 2347,2560 2345,2598 2365,2613 2374,2581 2376,2582 2377,2583 2379,2584 2381,2585 2382,2586 2384,2587 2389,2629 2409,2639 2411,2602 2413,2602 2414,2603 2416,2604 2417,2604 2419,2605 2421,2606 2433,2649 2452,2654 2447,2613 2449,2613 2450,2614 2452,2614 2453,2614 2455,2614 2456,2614 2474,2658 2492,2658 2481,2615 2482,2614 2484,2614 2485,2614 2486,2614 2487,2614 2489,2613 2513,2655 2528,2650 2511,2606 2512,2606 2513,2605 2514,2604 2515,2604 2516,2603 2517,2602 2546,2640 2558,2630 2535,2588 2536,2587 2537,2586 2537,2585 2538,2584 2539,2583 2540,2582 2572,2614 2581,2599 2553,2561 2554,2560 2554,2559 2555,2557 2555,2556 2556,2555 2556,2553 2590,2579 2595,2560 2564,2527 2564,2525 2564,2524 2565,2522 2565,2520 2565,2519 2565,2517 2599,2535 2600,2512 2567,2486 2567,2484 2567,2483"/>
<polygon class="f" points="2278,2532 2296,2520 2304,2515 2287,2527"/>
<path style="stroke-width:2.7" d="M2278,2532L2287,2527"/>
<polygon class="f" points="2225,2397 2206,2406 2215,2401 2234,2392"/>
<path style="stroke-width:2.7" d="M2206,2406L2215,2401"/>
<polygon class="f" points="2316,2574 2329,2557 2338,2552 2325,2569"/>
<path style="stroke-width:2.7" d="M2316,2574L2325,2569"/>
<polygon class="f" points="2212,2349 2190,2351 2198,2346 2220,2344"/>
<path style="stroke-width:2.7" d="M2190,2351L2198,2346"/>
<polygon class="f" points="2357,2609 2366,2586 2374,2581 2366,2604"/>
<path style="stroke-width:2.7" d="M2357,2609L2366,2604"/>
<polygon class="f" points="2205,2304 2181,2299 2190,2294 2214,2299"/>
<path style="stroke-width:2.7" d="M2181,2299L2190,2294"/>
<polygon class="f" points="2399,2634 2403,2607 2411,2602 2408,2629"/>
<path style="stroke-width:2.7" d="M2399,2634L2408,2629"/>
<polygon class="f" points="2207,2262 2181,2250 2190,2245 2215,2257"/>
<path style="stroke-width:2.7" d="M2181,2250L2190,2245"/>
<polygon class="f" points="2441,2649 2439,2618 2447,2613 2449,2644"/>
<path style="stroke-width:2.7" d="M2441,2649L2449,2644"/>
<polygon class="f" points="2216,2226 2190,2208 2199,2203 2225,2221"/>
<path style="stroke-width:2.7" d="M2190,2208L2199,2203"/>
<polygon class="f" points="2480,2652 2472,2620 2481,2615 2488,2647"/>
<path style="stroke-width:2.7" d="M2480,2652L2488,2647"/>
<polygon class="f" points="2232,2197 2208,2174 2216,2169 2241,2192"/>
<path style="stroke-width:2.7" d="M2208,2174L2216,2169"/>
<polygon class="f" points="2514,2644 2502,2611 2511,2606 2523,2639"/>
<path style="stroke-width:2.7" d="M2514,2644L2523,2639"/>
<polygon class="f" points="2255,2177 2233,2149 2242,2144 2264,2172"/>
<path style="stroke-width:2.7" d="M2233,2149L2242,2144"/>
<polygon class="f" points="2506,2609 2507,2608 2508,2607 2517,2602 2516,2603 2515,2604"/>
<polygon class="f" points="2262,2173 2261,2173 2259,2174 2258,2175 2257,2175 2266,2170 2267,2170 2268,2169 2269,2168 2270,2168"/>
<polygon class="f" points="2531,2635 2543,2625 2552,2620 2539,2630"/>
<path style="stroke-width:2.7" d="M2531,2635L2539,2630M2543,2625L2552,2620"/>
<polygon class="f" points="2264,2135 2249,2140 2258,2135 2273,2130"/>
<path style="stroke-width:2.7" d="M2264,2135L2273,2130M2249,2140L2258,2135"/>
<polygon class="f" points="2543,2625 2526,2593 2527,2592 2528,2591 2529,2590 2530,2589 2531,2588 2531,2587 2540,2582 2539,2583 2538,2584 2537,2585 2537,2586 2536,2587 2535,2588 2552,2620"/>
<path style="stroke-width:2.7" d="M2543,2625L2552,2620"/>
<polygon class="f" points="2291,2164 2290,2165 2289,2165 2287,2165 2286,2165 2285,2165 2283,2166 2264,2135 2273,2130 2292,2161 2293,2160 2295,2160 2296,2160 2297,2160 2299,2160 2300,2159"/>
<path style="stroke-width:2.7" d="M2264,2135L2273,2130"/>
<polygon class="f" points="2556,2610 2565,2596 2573,2591 2564,2605"/>
<path style="stroke-width:2.7" d="M2556,2610L2564,2605M2565,2596L2573,2591"/>
<polygon class="f" points="2301,2132 2284,2132 2293,2127 2310,2127"/>
<path style="stroke-width:2.7" d="M2301,2132L2310,2127M2284,2132L2293,2127"/>
<polygon class="f" points="2565,2596 2544,2566 2545,2565 2545,2564 2546,2562 2547,2561 2547,2560 2548,2558 2556,2553 2556,2555 2555,2556 2555,2557 2554,2559 2554,2560 2553,2561 2573,2591"/>
<path style="stroke-width:2.7" d="M2565,2596L2573,2591"/>
<polygon class="f" points="2325,2166 2323,2166 2322,2165 2320,2165 2319,2165 2318,2165 2316,2165 2301,2132 2310,2127 2325,2160 2326,2160 2328,2160 2329,2160 2331,2160 2332,2161 2333,2161"/>
<path style="stroke-width:2.7" d="M2301,2132L2310,2127"/>
<polygon class="f" points="2573,2576 2578,2558 2587,2553 2582,2571"/>
<path style="stroke-width:2.7" d="M2573,2576L2582,2571M2578,2558L2587,2553"/>
<polygon class="f" points="2578,2558 2555,2532 2555,2530 2556,2529 2556,2527 2556,2525 2557,2524 2557,2522 2565,2517 2565,2519 2565,2520 2565,2522 2564,2524 2564,2525 2564,2527 2587,2553"/>
<path style="stroke-width:2.7" d="M2578,2558L2587,2553"/>
<polygon class="f" points="2341,2140 2323,2135 2331,2130 2350,2135"/>
<path style="stroke-width:2.7" d="M2341,2140L2350,2135M2323,2135L2331,2130"/>
<polygon class="f" points="2361,2177 2359,2177 2358,2176 2356,2175 2355,2175 2353,2174 2352,2173 2341,2140 2350,2135 2360,2168 2362,2169 2363,2170 2365,2170 2366,2171 2368,2172 2370,2172"/>
<path style="stroke-width:2.7" d="M2341,2140L2350,2135"/>
<polygon class="f" points="2583,2513 2559,2491 2559,2489 2558,2488 2558,2486 2558,2484 2558,2482 2558,2480 2567,2475 2567,2477 2567,2479 2567,2481 2567,2483 2567,2484 2567,2486 2592,2508"/>
<path style="stroke-width:2.7" d="M2583,2513L2592,2508"/>
<polygon class="f" points="2582,2534 2583,2513 2592,2508 2591,2529"/>
<path style="stroke-width:2.7" d="M2582,2534L2591,2529M2583,2513L2592,2508"/>
<polygon class="f" points="2398,2198 2396,2197 2395,2196 2393,2195 2392,2194 2390,2193 2389,2192 2383,2160 2392,2155 2397,2187 2399,2188 2400,2189 2402,2190 2403,2191 2405,2192 2406,2193"/>
<path style="stroke-width:2.7" d="M2383,2160L2392,2155"/>
<polygon class="f" points="2383,2160 2364,2150 2373,2145 2392,2155"/>
<path style="stroke-width:2.7" d="M2383,2160L2392,2155M2364,2150L2373,2145"/>
<polygon class="f" points="2580,2462 2554,2446 2554,2444 2553,2442 2553,2441 2553,2439 2552,2437 2552,2435 2561,2430 2561,2432 2561,2434 2562,2436 2562,2437 2562,2439 2563,2441 2588,2457"/>
<path style="stroke-width:2.7" d="M2580,2462L2588,2457"/>
<polygon class="f" points="2434,2227 2433,2226 2431,2224 2430,2223 2428,2222 2427,2220 2425,2219 2425,2190 2434,2185 2434,2214 2435,2215 2437,2217 2438,2218 2440,2219 2441,2221 2443,2222"/>
<path style="stroke-width:2.7" d="M2425,2190L2434,2185"/>
<polygon class="f" points="2583,2485 2580,2462 2588,2457 2591,2480"/>
<path style="stroke-width:2.7" d="M2583,2485L2591,2480M2580,2462L2588,2457"/>
<polygon class="f" points="2425,2190 2406,2175 2415,2170 2434,2185"/>
<path style="stroke-width:2.7" d="M2425,2190L2434,2185M2406,2175L2415,2170"/>
<polygon class="f" points="2567,2408 2542,2399 2542,2397 2541,2395 2540,2393 2540,2391 2539,2389 2538,2387 2547,2382 2548,2384 2548,2386 2549,2388 2550,2390 2550,2392 2551,2394 2576,2403"/>
<path style="stroke-width:2.7" d="M2567,2408L2576,2403"/>
<polygon class="f" points="2468,2264 2467,2262 2465,2260 2464,2259 2463,2257 2461,2256 2460,2254 2465,2228 2474,2223 2469,2249 2470,2251 2471,2252 2473,2254 2474,2255 2475,2257 2477,2259"/>
<path style="stroke-width:2.7" d="M2465,2228L2474,2223"/>
<polygon class="f" points="2547,2354 2523,2351 2522,2350 2521,2348 2521,2346 2520,2344 2519,2342 2518,2340 2533,2324 2541,2319 2526,2335 2527,2337 2528,2339 2529,2341 2530,2343 2531,2345 2532,2346 2556,2349"/>
<path style="stroke-width:2.7" d="M2547,2354L2556,2349M2533,2324L2541,2319"/>
<polygon class="f" points="2519,2301 2498,2306 2497,2304 2496,2302 2495,2300 2494,2298 2492,2297 2491,2295 2501,2274 2510,2269 2500,2290 2501,2292 2502,2293 2503,2295 2505,2297 2506,2299 2507,2301 2528,2296"/>
<path style="stroke-width:2.7" d="M2519,2301L2528,2296M2501,2274L2510,2269"/>
<polygon class="f" points="2574,2433 2567,2408 2576,2403 2583,2428"/>
<path style="stroke-width:2.7" d="M2574,2433L2583,2428M2567,2408L2576,2403"/>
<polygon class="f" points="2465,2228 2447,2210 2456,2205 2474,2223"/>
<path style="stroke-width:2.7" d="M2465,2228L2474,2223M2447,2210L2456,2205"/>
<polygon class="f" points="2557,2378 2547,2354 2556,2349 2566,2373"/>
<path style="stroke-width:2.7" d="M2557,2378L2566,2373M2547,2354L2556,2349"/>
<polygon class="f" points="2501,2274 2486,2252 2494,2247 2510,2269"/>
<path style="stroke-width:2.7" d="M2501,2274L2510,2269M2486,2252L2494,2247"/>
<polygon class="f" points="2533,2324 2519,2301 2528,2296 2541,2319"/>
<path style="stroke-width:2.7" d="M2533,2324L2541,2319M2519,2301L2528,2296"/>
<polygon class="w" points="2558,2486 2558,2484 2558,2482 2558,2480 2583,2485 2580,2462 2554,2446 2554,2444 2553,2442 2553,2441 2553,2439 2552,2437 2552,2435 2574,2433 2567,2408 2542,2399 2542,2397 2541,2395 2540,2393 2540,2391 2539,2389 2538,2387 2557,2378 2547,2354 2523,2351 2522,2350 2521,2348 2521,2346 2520,2344 2519,2342 2518,2340 2533,2324 2519,2301 2498,2306 2497,2304 2496,2302 2495,2300 2494,2298 2492,2297 2491,2295 2501,2274 2486,2252 2468,2264 2467,2262 2465,2260 2464,2259 2463,2257 2461,2256 2460,2254 2465,2228 2447,2210 2434,2227 2433,2226 2431,2224 2430,2223 2428,2222 2427,2220 2425,2219 2425,2190 2406,2175 2398,2198 2396,2197 2395,2196 2393,2195 2392,2194 2390,2193 2389,2192 2383,2160 2364,2150 2361,2177 2359,2177 2358,2176 2356,2175 2355,2175 2353,2174 2352,2173 2341,2140 2323,2135 2325,2166 2323,2166 2322,2165 2320,2165 2319,2165 2318,2165 2316,2165 2301,2132 2284,2132 2291,2164 2290,2165 2289,2165 2287,2165 2286,2165 2285,2165 2283,2166 2264,2135 2249,2140 2262,2173 2261,2173 2259,2174 2258,2175 2257,2175 2256,2176 2255,2177 2233,2149 2221,2159 2237,2191 2236,2192 2236,2193 2235,2194 2234,2195 2233,2196 2232,2197 2208,2174 2199,2188 2219,2218 2219,2219 2218,2220 2218,2222 2217,2223 2216,2224 2216,2226 2190,2208 2185,2226 2208,2252 2208,2254 2208,2255 2208,2257 2207,2259 2207,2260 2207,2262 2181,2250 2180,2271 2205,2293 2205,2295 2205,2296 2205,2298 2205,2300 2205,2302 2205,2304 2181,2299 2184,2322 2209,2338 2210,2340 2210,2342 2210,2343 2211,2345 2211,2347 2212,2349 2190,2351 2196,2376 2221,2385 2222,2387 2223,2389 2223,2391 2224,2393 2225,2395 2225,2397 2206,2406 2217,2430 2240,2433 2241,2434 2242,2436 2243,2438 2244,2440 2245,2442 2246,2444 2231,2460 2244,2483 2265,2478 2266,2480 2268,2482 2269,2484 2270,2486 2271,2487 2272,2489 2262,2510 2278,2532 2296,2520 2297,2522 2298,2524 2300,2525 2301,2527 2302,2528 2304,2530 2298,2556 2316,2574 2329,2557 2331,2558 2332,2560 2334,2561 2335,2562 2337,2564 2338,2565 2338,2594 2357,2609 2366,2586 2367,2587 2369,2588 2370,2589 2372,2590 2373,2591 2375,2592 2380,2624 2399,2634 2403,2607 2404,2607 2406,2608 2407,2609 2409,2609 2410,2610 2412,2611 2422,2644 2441,2649 2439,2618 2440,2618 2442,2619 2443,2619 2445,2619 2446,2619 2447,2619 2463,2652 2480,2652 2472,2620 2474,2619 2475,2619 2476,2619 2478,2619 2479,2619 2480,2618 2499,2649 2514,2644 2502,2611 2503,2611 2504,2610 2505,2609 2506,2609 2507,2608 2508,2607 2531,2635 2543,2625 2526,2593 2527,2592 2528,2591 2529,2590 2530,2589 2531,2588 2531,2587 2556,2610 2565,2596 2544,2566 2545,2565 2545,2564 2546,2562 2547,2561 2547,2560 2548,2558 2573,2576 2578,2558 2555,2532 2555,2530 2556,2529 2556,2527 2556,2525 2557,2524 2557,2522 2582,2534 2583,2513 2559,2491 2559,2489 2558,2488"/>
<polygon class="f" points="2145,2387 2130,2394 2182,2364 2197,2357"/>
<path d="M2197,2357L2182,2364M2145,2387L2197,2357M2130,2394L2182,2364"/>
<polygon class="f" points="2267,2621 2279,2610 2331,2580 2319,2591"/>
<path d="M2319,2591L2331,2580M2267,2621L2319,2591M2279,2610L2331,2580"/>
<polygon class="f" points="2139,2356 2122,2360 2174,2330 2191,2326"/>
<path d="M2191,2326L2174,2330M2139,2356L2191,2326M2122,2360L2174,2330"/>
<polygon class="f" points="2293,2643 2303,2630 2355,2600 2345,2613"/>
<path d="M2345,2613L2355,2600M2293,2643L2345,2613M2303,2630L2355,2600"/>
<polygon class="f" points="2135,2326 2118,2327 2170,2297 2187,2296"/>
<path d="M2187,2296L2170,2297M2135,2326L2187,2296M2118,2327L2170,2297"/>
<polygon class="f" points="2319,2662 2328,2646 2380,2616 2371,2632"/>
<path d="M2371,2632L2380,2616M2319,2662L2371,2632M2328,2646L2380,2616"/>
<polygon class="f" points="2135,2298 2116,2295 2168,2265 2187,2268"/>
<path d="M2187,2268L2168,2265M2135,2298L2187,2268M2116,2295L2168,2265"/>
<polygon class="f" points="2346,2677 2352,2659 2404,2629 2398,2647"/>
<path d="M2398,2647L2404,2629M2346,2677L2398,2647M2352,2659L2404,2629"/>
<polygon class="f" points="2138,2271 2118,2266 2170,2236 2190,2241"/>
<path d="M2190,2241L2170,2236M2138,2271L2190,2241M2118,2266L2170,2236"/>
<polygon class="f" points="2373,2688 2376,2668 2428,2638 2425,2658"/>
<path d="M2425,2658L2428,2638M2373,2688L2425,2658M2376,2668L2428,2638"/>
<polygon class="f" points="2144,2247 2124,2238 2176,2208 2196,2217"/>
<path d="M2196,2217L2176,2208M2144,2247L2196,2217M2124,2238L2176,2208"/>
<polygon class="f" points="2399,2695 2400,2673 2452,2643 2451,2665"/>
<path d="M2451,2665L2452,2643M2399,2695L2451,2665M2400,2673L2452,2643"/>
<polygon class="f" points="2152,2226 2132,2214 2184,2184 2204,2196"/>
<path d="M2204,2196L2184,2184M2152,2226L2204,2196M2132,2214L2184,2184"/>
<polygon class="f" points="2423,2698 2422,2674 2474,2644 2475,2668"/>
<path d="M2475,2668L2474,2644M2423,2698L2475,2668M2422,2674L2474,2644"/>
<polygon class="f" points="2164,2208 2144,2193 2196,2163 2216,2178"/>
<path d="M2216,2178L2196,2163M2164,2208L2216,2178M2144,2193L2196,2163"/>
<polygon class="f" points="2447,2696 2443,2671 2495,2641 2499,2666"/>
<path d="M2499,2666L2495,2641M2447,2696L2499,2666M2443,2671L2495,2641"/>
<polygon class="f" points="2178,2193 2159,2176 2211,2146 2230,2163"/>
<path d="M2230,2163L2211,2146M2178,2193L2230,2163M2159,2176L2211,2146"/>
<polygon class="f" points="2468,2690 2462,2664 2514,2634 2520,2660"/>
<path d="M2520,2660L2514,2634M2468,2690L2520,2660M2462,2664L2514,2634"/>
<polygon class="f" points="2195,2181 2176,2162 2228,2132 2247,2151"/>
<path d="M2247,2151L2228,2132M2195,2181L2247,2151M2176,2162L2228,2132"/>
<polygon class="f" points="2198,2180 2197,2180 2196,2181 2195,2181 2195,2181 2247,2151 2247,2151 2248,2151 2249,2150 2250,2150"/>
<path d="M2250,2150L2249,2150L2248,2151L2247,2151L2247,2151M2198,2180L2250,2150M2195,2181L2247,2151"/>
<polygon class="f" points="2483,2682 2487,2679 2539,2649 2535,2652"/>
<path d="M2535,2652L2539,2649M2483,2682L2535,2652M2487,2679L2539,2649"/>
<polygon class="f" points="2487,2679 2479,2654 2531,2624 2539,2649"/>
<path d="M2539,2649L2531,2624M2487,2679L2539,2649M2479,2654L2531,2624"/>
<polygon class="f" points="2479,2654 2479,2653 2480,2652 2481,2652 2482,2651 2534,2621 2533,2622 2532,2622 2531,2623 2531,2624"/>
<path d="M2531,2624L2531,2623L2532,2622L2533,2622L2534,2621M2479,2654L2531,2624M2482,2651L2534,2621"/>
<polygon class="f" points="2196,2153 2191,2154 2243,2124 2248,2123"/>
<path d="M2248,2123L2243,2124M2196,2153L2248,2123M2191,2154L2243,2124"/>
<polygon class="f" points="2213,2174 2196,2153 2248,2123 2265,2144"/>
<path d="M2265,2144L2248,2123M2213,2174L2265,2144M2196,2153L2248,2123"/>
<polygon class="f" points="2217,2173 2216,2173 2215,2173 2214,2174 2213,2174 2265,2144 2266,2144 2267,2143 2268,2143 2269,2143"/>
<path d="M2269,2143L2268,2143L2267,2143L2266,2144L2265,2144M2217,2173L2269,2143M2213,2174L2265,2144"/>
<polygon class="f" points="2501,2668 2504,2665 2556,2635 2553,2638"/>
<path d="M2553,2638L2556,2635M2501,2668L2553,2638M2504,2665L2556,2635"/>
<polygon class="f" points="2504,2665 2493,2639 2545,2609 2556,2635"/>
<path d="M2556,2635L2545,2609M2504,2665L2556,2635M2493,2639L2545,2609"/>
<polygon class="f" points="2493,2639 2494,2639 2495,2638 2495,2637 2496,2636 2548,2606 2547,2607 2547,2608 2546,2609 2545,2609"/>
<path d="M2545,2609L2546,2609L2547,2608L2547,2607L2548,2606M2493,2639L2545,2609M2496,2636L2548,2606"/>
<polygon class="f" points="2218,2147 2213,2148 2265,2118 2270,2117"/>
<path d="M2270,2117L2265,2118M2218,2147L2270,2117M2213,2148L2265,2118"/>
<polygon class="f" points="2234,2170 2218,2147 2270,2117 2286,2140"/>
<path d="M2286,2140L2270,2117M2234,2170L2286,2140M2218,2147L2270,2117"/>
<polygon class="f" points="2238,2170 2237,2170 2236,2170 2235,2170 2234,2170 2286,2140 2287,2140 2288,2140 2289,2140 2290,2140"/>
<path d="M2290,2140L2289,2140L2288,2140L2287,2140L2286,2140M2238,2170L2290,2140M2234,2170L2286,2140"/>
<polygon class="f" points="2516,2651 2518,2647 2570,2617 2567,2621"/>
<path d="M2567,2621L2570,2617M2516,2651L2567,2621M2518,2647L2570,2617"/>
<polygon class="f" points="2518,2647 2505,2622 2557,2592 2570,2617"/>
<path d="M2570,2617L2557,2592M2518,2647L2570,2617M2505,2622L2557,2592"/>
<polygon class="f" points="2505,2622 2506,2621 2506,2620 2507,2619 2507,2618 2559,2588 2559,2589 2558,2590 2558,2591 2557,2592"/>
<path d="M2557,2592L2558,2591L2558,2590L2559,2589L2559,2588M2505,2622L2557,2592M2507,2618L2559,2588"/>
<polygon class="f" points="2242,2147 2236,2146 2288,2116 2294,2117"/>
<path d="M2294,2117L2288,2116M2242,2147L2294,2117M2236,2146L2288,2116"/>
<polygon class="f" points="2256,2171 2242,2147 2294,2117 2308,2141"/>
<path d="M2308,2141L2294,2117M2256,2171L2308,2141M2242,2147L2294,2117"/>
<polygon class="f" points="2260,2171 2259,2171 2258,2171 2257,2171 2256,2171 2308,2141 2309,2141 2310,2141 2311,2141 2312,2141"/>
<path d="M2312,2141L2311,2141L2310,2141L2309,2141L2308,2141M2260,2171L2312,2141M2256,2171L2308,2141"/>
<polygon class="f" points="2527,2630 2529,2625 2581,2595 2579,2600"/>
<path d="M2579,2600L2581,2595M2527,2630L2579,2600M2529,2625L2581,2595"/>
<polygon class="f" points="2529,2625 2515,2601 2567,2571 2581,2595"/>
<path d="M2581,2595L2567,2571M2529,2625L2581,2595M2515,2601L2567,2571"/>
<polygon class="f" points="2515,2601 2515,2600 2515,2599 2516,2598 2516,2597 2568,2567 2568,2568 2567,2569 2567,2570 2567,2571"/>
<path d="M2567,2571L2567,2570L2567,2569L2568,2568L2568,2567M2515,2601L2567,2571M2516,2597L2568,2567"/>
<polygon class="f" points="2267,2150 2261,2149 2313,2119 2319,2120"/>
<path d="M2319,2120L2313,2119M2267,2150L2319,2120M2261,2149L2313,2119"/>
<polygon class="f" points="2279,2175 2267,2150 2319,2120 2331,2145"/>
<path d="M2331,2145L2319,2120M2279,2175L2331,2145M2267,2150L2319,2120"/>
<polygon class="f" points="2283,2176 2282,2176 2281,2176 2280,2175 2279,2175 2331,2145 2332,2145 2333,2146 2334,2146 2335,2146"/>
<path d="M2335,2146L2334,2146L2333,2146L2332,2145L2331,2145M2283,2176L2335,2146M2279,2175L2331,2145"/>
<polygon class="f" points="2536,2606 2537,2600 2589,2570 2588,2576"/>
<path d="M2588,2576L2589,2570M2536,2606L2588,2576M2537,2600L2589,2570"/>
<polygon class="f" points="2537,2600 2521,2577 2573,2547 2589,2570"/>
<path d="M2589,2570L2573,2547M2537,2600L2589,2570M2521,2577L2573,2547"/>
<polygon class="f" points="2521,2577 2521,2576 2522,2575 2522,2574 2522,2573 2574,2543 2574,2544 2573,2545 2573,2546 2573,2547"/>
<path d="M2573,2547L2573,2546L2573,2545L2574,2544L2574,2543M2521,2577L2573,2547M2522,2573L2574,2543"/>
<polygon class="f" points="2308,2185 2306,2185 2305,2184 2304,2184 2303,2183 2355,2153 2356,2154 2357,2154 2358,2155 2360,2155"/>
<path d="M2360,2155L2358,2155L2357,2154L2356,2154L2355,2153M2308,2185L2360,2155M2303,2183L2355,2153"/>
<polygon class="f" points="2293,2158 2287,2156 2339,2126 2345,2128"/>
<path d="M2345,2128L2339,2126M2293,2158L2345,2128M2287,2156L2339,2126"/>
<polygon class="f" points="2303,2183 2293,2158 2345,2128 2355,2153"/>
<path d="M2355,2153L2345,2128M2303,2183L2355,2153M2293,2158L2345,2128"/>
<polygon class="f" points="2524,2551 2525,2550 2525,2549 2525,2547 2525,2546 2577,2516 2577,2517 2577,2519 2576,2520 2576,2521"/>
<path d="M2576,2521L2576,2520L2577,2519L2577,2517L2577,2516M2524,2551L2576,2521M2525,2546L2577,2516"/>
<polygon class="f" points="2542,2572 2524,2551 2576,2521 2594,2542"/>
<path d="M2594,2542L2576,2521M2542,2572L2594,2542M2524,2551L2576,2521"/>
<polygon class="f" points="2541,2578 2542,2572 2594,2542 2593,2548"/>
<path d="M2593,2548L2594,2542M2541,2578L2593,2548M2542,2572L2594,2542"/>
<polygon class="f" points="2332,2198 2331,2197 2330,2197 2329,2196 2328,2195 2380,2165 2381,2166 2382,2167 2383,2167 2384,2168"/>
<path d="M2384,2168L2383,2167L2382,2167L2381,2166L2380,2165M2332,2198L2384,2168M2328,2195L2380,2165"/>
<polygon class="f" points="2328,2195 2319,2170 2371,2140 2380,2165"/>
<path d="M2380,2165L2371,2140M2328,2195L2380,2165M2319,2170L2371,2140"/>
<polygon class="f" points="2319,2170 2313,2167 2365,2137 2371,2140"/>
<path d="M2371,2140L2365,2137M2319,2170L2371,2140M2313,2167L2365,2137"/>
<polygon class="f" points="2525,2523 2525,2522 2525,2520 2525,2519 2524,2518 2576,2488 2576,2489 2577,2490 2577,2492 2577,2493"/>
<path d="M2577,2493L2577,2492L2577,2490L2576,2489L2576,2488M2525,2523L2577,2493M2524,2518L2576,2488"/>
<polygon class="f" points="2543,2542 2525,2523 2577,2493 2595,2512"/>
<path d="M2595,2512L2577,2493M2543,2542L2595,2512M2525,2523L2577,2493"/>
<polygon class="f" points="2543,2549 2543,2542 2595,2512 2595,2519"/>
<path d="M2595,2519L2595,2512M2543,2549L2595,2519M2543,2542L2595,2512"/>
<polygon class="f" points="2356,2214 2355,2213 2354,2213 2353,2212 2352,2211 2404,2181 2405,2182 2406,2183 2407,2183 2408,2184"/>
<path d="M2408,2184L2407,2183L2406,2183L2405,2182L2404,2181M2356,2214L2408,2184M2352,2211L2404,2181"/>
<polygon class="f" points="2352,2211 2346,2186 2398,2156 2404,2181"/>
<path d="M2404,2181L2398,2156M2352,2211L2404,2181M2346,2186L2398,2156"/>
<polygon class="f" points="2346,2186 2340,2182 2392,2152 2398,2156"/>
<path d="M2398,2156L2392,2152M2346,2186L2398,2156M2340,2182L2392,2152"/>
<polygon class="f" points="2522,2493 2522,2492 2522,2490 2521,2489 2521,2488 2573,2458 2573,2459 2573,2460 2574,2462 2574,2463"/>
<path d="M2574,2463L2574,2462L2573,2460L2573,2459L2573,2458M2522,2493L2574,2463M2521,2488L2573,2458"/>
<polygon class="f" points="2541,2510 2522,2493 2574,2463 2593,2480"/>
<path d="M2593,2480L2574,2463M2541,2510L2593,2480M2522,2493L2574,2463"/>
<polygon class="f" points="2380,2234 2379,2233 2378,2232 2377,2231 2376,2230 2428,2200 2429,2201 2430,2202 2431,2203 2432,2204"/>
<path d="M2432,2204L2431,2203L2430,2202L2429,2201L2428,2200M2380,2234L2432,2204M2376,2230L2428,2200"/>
<polygon class="f" points="2542,2517 2541,2510 2593,2480 2594,2487"/>
<path d="M2594,2487L2593,2480M2542,2517L2594,2487M2541,2510L2593,2480"/>
<polygon class="f" points="2376,2230 2373,2205 2425,2175 2428,2200"/>
<path d="M2428,2200L2425,2175M2376,2230L2428,2200M2373,2205L2425,2175"/>
<polygon class="f" points="2516,2462 2516,2461 2515,2460 2515,2458 2515,2457 2567,2427 2567,2428 2567,2430 2568,2431 2568,2432"/>
<path d="M2568,2432L2568,2431L2567,2430L2567,2428L2567,2427M2516,2462L2568,2432M2515,2457L2567,2427"/>
<polygon class="f" points="2373,2205 2367,2201 2419,2171 2425,2175"/>
<path d="M2425,2175L2419,2171M2373,2205L2425,2175M2367,2201L2419,2171"/>
<polygon class="f" points="2536,2476 2516,2462 2568,2432 2588,2446"/>
<path d="M2588,2446L2568,2432M2536,2476L2588,2446M2516,2462L2568,2432"/>
<polygon class="f" points="2404,2256 2403,2255 2402,2254 2401,2253 2400,2252 2452,2222 2453,2223 2454,2224 2455,2225 2456,2226"/>
<path d="M2456,2226L2455,2225L2454,2224L2453,2223L2452,2222M2404,2256L2456,2226M2400,2252L2452,2222"/>
<polygon class="f" points="2507,2431 2507,2429 2506,2428 2506,2427 2505,2425 2557,2395 2558,2397 2558,2398 2559,2399 2559,2401"/>
<path d="M2559,2401L2559,2399L2558,2398L2558,2397L2557,2395M2507,2431L2559,2401M2505,2425L2557,2395"/>
<polygon class="f" points="2537,2484 2536,2476 2588,2446 2589,2454"/>
<path d="M2589,2454L2588,2446M2537,2484L2589,2454M2536,2476L2588,2446"/>
<polygon class="f" points="2400,2252 2399,2228 2451,2198 2452,2222"/>
<path d="M2452,2222L2451,2198M2400,2252L2452,2222M2399,2228L2451,2198"/>
<polygon class="f" points="2426,2281 2425,2280 2424,2279 2423,2278 2422,2276 2474,2246 2475,2248 2476,2249 2477,2250 2478,2251"/>
<path d="M2478,2251L2477,2250L2476,2249L2475,2248L2474,2246M2426,2281L2478,2251M2422,2276L2474,2246"/>
<polygon class="f" points="2418,2248 2404,2256 2456,2226 2470,2218"/>
<path d="M2470,2218L2456,2226M2418,2248L2470,2218M2404,2256L2456,2226"/>
<polygon class="f" points="2527,2442 2507,2431 2559,2401 2579,2412"/>
<path d="M2579,2412L2559,2401M2527,2442L2579,2412M2507,2431L2559,2401"/>
<polygon class="f" points="2399,2228 2393,2223 2445,2193 2451,2198"/>
<path d="M2451,2198L2445,2193M2399,2228L2451,2198M2393,2223L2445,2193"/>
<polygon class="f" points="2496,2399 2495,2398 2495,2396 2494,2395 2493,2394 2545,2364 2546,2365 2547,2366 2547,2368 2548,2369"/>
<path d="M2548,2369L2547,2368L2547,2366L2546,2365L2545,2364M2496,2399L2548,2369M2493,2394L2545,2364"/>
<polygon class="f" points="2446,2308 2445,2307 2445,2306 2444,2305 2443,2303 2495,2273 2496,2275 2496,2276 2497,2277 2498,2278"/>
<path d="M2498,2278L2497,2277L2496,2276L2496,2275L2495,2273M2446,2308L2498,2278M2443,2303L2495,2273"/>
<polygon class="f" points="2482,2368 2481,2367 2480,2365 2479,2364 2479,2362 2531,2332 2531,2334 2532,2335 2533,2337 2534,2338"/>
<path d="M2534,2338L2533,2337L2532,2335L2531,2334L2531,2332M2482,2368L2534,2338M2479,2362L2531,2332"/>
<polygon class="f" points="2505,2425 2518,2415 2570,2385 2557,2395"/>
<path d="M2557,2395L2570,2385M2505,2425L2557,2395M2518,2415L2570,2385"/>
<polygon class="f" points="2422,2276 2423,2254 2475,2224 2474,2246"/>
<path d="M2474,2246L2475,2224M2422,2276L2474,2246M2423,2254L2475,2224"/>
<polygon class="f" points="2465,2338 2464,2336 2463,2335 2463,2334 2462,2332 2514,2302 2515,2304 2515,2305 2516,2306 2517,2308"/>
<path d="M2517,2308L2516,2306L2515,2305L2515,2304L2514,2302M2465,2338L2517,2308M2462,2332L2514,2302"/>
<polygon class="f" points="2529,2450 2527,2442 2579,2412 2581,2420"/>
<path d="M2581,2420L2579,2412M2529,2450L2581,2420M2527,2442L2579,2412"/>
<polygon class="f" points="2442,2277 2426,2281 2478,2251 2494,2247"/>
<path d="M2494,2247L2478,2251M2442,2277L2494,2247M2426,2281L2478,2251"/>
<polygon class="f" points="2516,2407 2496,2399 2548,2369 2567,2377"/>
<path d="M2567,2377L2548,2369M2516,2407L2567,2377M2496,2399L2548,2369"/>
<polygon class="f" points="2493,2394 2504,2381 2556,2351 2545,2364"/>
<path d="M2545,2364L2556,2351M2493,2394L2545,2364M2504,2381L2556,2351"/>
<polygon class="f" points="2443,2303 2447,2283 2499,2253 2495,2273"/>
<path d="M2495,2273L2499,2253M2443,2303L2495,2273M2447,2283L2499,2253"/>
<polygon class="f" points="2423,2254 2418,2248 2470,2218 2475,2224"/>
<path d="M2475,2224L2470,2218M2423,2254L2475,2224M2418,2248L2470,2218"/>
<polygon class="f" points="2464,2307 2446,2308 2498,2278 2516,2277"/>
<path d="M2516,2277L2498,2278M2464,2307L2516,2277M2446,2308L2498,2278"/>
<polygon class="f" points="2501,2373 2482,2368 2534,2338 2553,2343"/>
<path d="M2553,2343L2534,2338M2501,2373L2553,2343M2482,2368L2534,2338"/>
<polygon class="f" points="2479,2362 2487,2347 2539,2317 2531,2332"/>
<path d="M2531,2332L2539,2317M2479,2362L2531,2332M2487,2347L2539,2317"/>
<polygon class="f" points="2462,2332 2468,2314 2520,2284 2514,2302"/>
<path d="M2514,2302L2520,2284M2462,2332L2514,2302M2468,2314L2520,2284"/>
<polygon class="f" points="2483,2339 2465,2338 2517,2308 2535,2309"/>
<path d="M2535,2309L2517,2308M2483,2339L2535,2309M2465,2338L2517,2308"/>
<polygon class="f" points="2518,2415 2516,2407 2567,2377 2570,2385"/>
<path d="M2570,2385L2567,2377M2518,2415L2570,2385M2516,2407L2567,2377"/>
<polygon class="f" points="2447,2283 2442,2277 2494,2247 2499,2253"/>
<path d="M2499,2253L2494,2247M2447,2283L2499,2253M2442,2277L2494,2247"/>
<polygon class="f" points="2504,2381 2501,2373 2553,2343 2556,2351"/>
<path d="M2556,2351L2553,2343M2504,2381L2556,2351M2501,2373L2553,2343"/>
<polygon class="f" points="2468,2314 2464,2307 2516,2277 2520,2284"/>
<path d="M2520,2284L2516,2277M2468,2314L2520,2284M2464,2307L2516,2277"/>
<polygon class="f" points="2487,2347 2483,2339 2535,2309 2539,2317"/>
<path d="M2539,2317L2535,2309M2487,2347L2539,2317M2483,2339L2535,2309"/>
<polygon class="w" points="2525,2549 2525,2547 2525,2546 2543,2549 2543,2542 2525,2523 2525,2522 2525,2520 2525,2519 2524,2518 2542,2517 2541,2510 2522,2493 2522,2492 2522,2490 2521,2489 2521,2488 2537,2484 2536,2476 2516,2462 2516,2461 2515,2460 2515,2458 2515,2457 2529,2450 2527,2442 2507,2431 2507,2429 2506,2428 2506,2427 2505,2425 2518,2415 2516,2407 2496,2399 2495,2398 2495,2396 2494,2395 2493,2394 2504,2381 2501,2373 2482,2368 2481,2367 2480,2365 2479,2364 2479,2362 2487,2347 2483,2339 2465,2338 2464,2336 2463,2335 2463,2334 2462,2332 2468,2314 2464,2307 2446,2308 2445,2307 2445,2306 2444,2305 2443,2303 2447,2283 2442,2277 2426,2281 2425,2280 2424,2279 2423,2278 2422,2276 2423,2254 2418,2248 2404,2256 2403,2255 2402,2254 2401,2253 2400,2252 2399,2228 2393,2223 2380,2234 2379,2233 2378,2232 2377,2231 2376,2230 2373,2205 2367,2201 2356,2214 2355,2213 2354,2213 2353,2212 2352,2211 2346,2186 2340,2182 2332,2198 2331,2197 2330,2197 2329,2196 2328,2195 2319,2170 2313,2167 2308,2185 2306,2185 2305,2184 2304,2184 2303,2183 2293,2158 2287,2156 2283,2176 2282,2176 2281,2176 2280,2175 2279,2175 2267,2150 2261,2149 2260,2171 2259,2171 2258,2171 2257,2171 2256,2171 2242,2147 2236,2146 2238,2170 2237,2170 2236,2170 2235,2170 2234,2170 2218,2147 2213,2148 2217,2173 2216,2173 2215,2173 2214,2174 2213,2174 2196,2153 2191,2154 2198,2180 2197,2180 2196,2181 2195,2181 2195,2181 2176,2162 2172,2165 2181,2190 2180,2191 2179,2192 2179,2192 2178,2193 2159,2176 2155,2179 2166,2205 2166,2205 2165,2206 2164,2207 2164,2208 2144,2193 2141,2197 2154,2222 2154,2223 2153,2224 2153,2225 2152,2226 2132,2214 2130,2219 2145,2243 2145,2244 2144,2245 2144,2246 2144,2247 2124,2238 2122,2244 2139,2267 2138,2268 2138,2269 2138,2270 2138,2271 2118,2266 2118,2272 2135,2293 2135,2294 2135,2295 2135,2297 2135,2298 2116,2295 2116,2302 2135,2321 2135,2322 2135,2324 2135,2325 2135,2326 2118,2327 2118,2334 2138,2351 2138,2352 2138,2354 2138,2355 2139,2356 2122,2360 2124,2368 2144,2382 2144,2383 2144,2384 2145,2386 2145,2387 2130,2394 2132,2402 2152,2413 2153,2415 2153,2416 2154,2417 2154,2419 2141,2429 2144,2437 2164,2445 2164,2446 2165,2448 2166,2449 2166,2450 2155,2463 2159,2471 2178,2476 2179,2477 2179,2479 2180,2480 2181,2482 2172,2497 2176,2505 2195,2506 2195,2508 2196,2509 2197,2510 2198,2512 2191,2530 2196,2537 2213,2536 2214,2537 2215,2538 2216,2539 2217,2541 2213,2561 2218,2567 2234,2563 2235,2564 2236,2565 2237,2566 2238,2568 2236,2590 2242,2596 2256,2588 2257,2589 2258,2590 2259,2591 2260,2592 2261,2616 2267,2621 2279,2610 2280,2611 2281,2612 2282,2613 2283,2614 2287,2639 2293,2643 2303,2630 2304,2631 2305,2631 2306,2632 2308,2633 2313,2658 2319,2662 2328,2646 2329,2647 2330,2647 2331,2648 2332,2649 2340,2674 2346,2677 2352,2659 2353,2659 2354,2660 2355,2660 2356,2661 2367,2686 2373,2688 2376,2668 2377,2668 2378,2668 2379,2669 2380,2669 2393,2694 2399,2695 2400,2673 2401,2673 2402,2673 2403,2673 2404,2673 2418,2697 2423,2698 2422,2674 2423,2674 2424,2674 2425,2674 2426,2674 2442,2697 2447,2696 2443,2671 2444,2671 2445,2671 2445,2670 2446,2670 2464,2691 2468,2690 2462,2664 2463,2664 2463,2663 2464,2663 2465,2663 2483,2682 2487,2679 2479,2654 2479,2653 2480,2652 2481,2652 2482,2651 2501,2668 2504,2665 2493,2639 2494,2639 2495,2638 2495,2637 2496,2636 2516,2651 2518,2647 2505,2622 2506,2621 2506,2620 2507,2619 2507,2618 2527,2630 2529,2625 2515,2601 2515,2600 2515,2599 2516,2598 2516,2597 2536,2606 2537,2600 2521,2577 2521,2576 2522,2575 2522,2574 2522,2573 2541,2578 2542,2572 2524,2551 2525,2550"/>
<path d="M2461,2649A262,151 60 1 0 2199,2195A262,151 60 1 0 2461,2649Z"/>
<path class="w" d="M2181,2194 A272,157 60 0 0 2181,2508 A272,157 60 0 0 2453,2665 L2466,2658 A272,157 60 0 0 2466,2343 A272,157 60 0 0 2194,2186 Z"/>
<path class="w" d="M2453,2665A272,157 60 1 0 2181,2194A272,157 60 1 0 2453,2665Z"/>
<path d="M2448,2656A262,151 60 1 0 2186,2203A262,151 60 1 0 2448,2656Z"/>
<polygon class="f" points="2097,2483 2073,2493 2155,2445 2180,2435"/>
<path d="M2180,2435L2155,2445M2073,2493L2155,2445"/>
<polygon class="f" points="2153,2625 2172,2605 2254,2558 2235,2577"/>
<path d="M2235,2577L2254,2558M2153,2625L2235,2577"/>
<polygon class="f" points="2084,2435 2055,2435 2137,2387 2166,2387"/>
<path d="M2166,2387L2137,2387M2055,2435L2137,2387"/>
<polygon class="f" points="2196,2666 2208,2639 2290,2591 2278,2619"/>
<path d="M2278,2619L2290,2591M2196,2666L2278,2619"/>
<polygon class="f" points="2079,2389 2047,2379 2130,2331 2161,2341"/>
<path d="M2161,2341L2130,2331M2047,2379L2130,2331"/>
<polygon class="f" points="2241,2697 2245,2662 2328,2615 2323,2649"/>
<path d="M2323,2649L2328,2615M2241,2697L2323,2649"/>
<polygon class="f" points="2083,2348 2051,2329 2133,2281 2165,2301"/>
<path d="M2165,2301L2133,2281M2051,2329L2133,2281"/>
<polygon class="f" points="2285,2715 2282,2676 2365,2628 2368,2667"/>
<path d="M2368,2667L2365,2628M2285,2715L2368,2667"/>
<polygon class="f" points="2096,2315 2065,2287 2147,2240 2178,2268"/>
<path d="M2178,2268L2147,2240M2065,2287L2147,2240"/>
<polygon class="f" points="2327,2719 2316,2677 2399,2630 2409,2671"/>
<path d="M2409,2671L2399,2630M2327,2719L2409,2671"/>
<polygon class="f" points="2117,2291 2089,2257 2171,2209 2199,2244"/>
<path d="M2199,2244L2171,2209M2089,2257L2171,2209"/>
<polygon class="f" points="2363,2708 2346,2667 2347,2666 2348,2666 2349,2665 2350,2664 2351,2663 2352,2663 2434,2615 2433,2616 2432,2617 2431,2617 2430,2618 2429,2619 2428,2619 2446,2661"/>
<path d="M2446,2661L2428,2619L2429,2619L2430,2618L2431,2617L2432,2617L2433,2616L2434,2615M2363,2708L2446,2661"/>
<polygon class="f" points="2121,2239 2106,2246 2188,2198 2203,2192"/>
<path d="M2203,2192L2188,2198M2121,2239L2203,2192M2106,2246L2188,2198"/>
<polygon class="f" points="2380,2697 2392,2685 2475,2637 2463,2650"/>
<path d="M2463,2650L2475,2637M2380,2697L2463,2650M2392,2685L2475,2637"/>
<polygon class="f" points="2153,2277 2152,2277 2150,2277 2149,2278 2148,2278 2146,2278 2145,2278 2121,2239 2203,2192 2227,2231 2229,2231 2230,2230 2231,2230 2232,2230 2234,2230 2235,2229"/>
<path d="M2235,2229L2234,2230L2232,2230L2231,2230L2230,2230L2229,2231L2227,2231L2203,2192M2121,2239L2203,2192"/>
<polygon class="f" points="2392,2685 2368,2646 2369,2645 2370,2644 2371,2642 2372,2641 2372,2640 2373,2639 2455,2591 2455,2593 2454,2594 2453,2595 2452,2596 2451,2597 2451,2598 2475,2637"/>
<path d="M2475,2637L2451,2598L2451,2597L2452,2596L2453,2595L2454,2594L2455,2593L2455,2591M2392,2685L2475,2637"/>
<polygon class="f" points="2160,2235 2142,2235 2224,2188 2242,2188"/>
<path d="M2242,2188L2224,2188M2160,2235L2242,2188M2142,2235L2224,2188"/>
<polygon class="f" points="2187,2278 2185,2278 2184,2278 2182,2278 2181,2277 2179,2277 2178,2277 2160,2235 2242,2188 2260,2230 2262,2230 2263,2230 2265,2230 2266,2230 2268,2231 2269,2231"/>
<path d="M2269,2231L2268,2231L2266,2230L2265,2230L2263,2230L2262,2230L2260,2230L2242,2188M2160,2235L2242,2188"/>
<polygon class="f" points="2404,2667 2412,2649 2494,2602 2487,2619"/>
<path d="M2487,2619L2494,2602M2404,2667L2487,2619M2412,2649L2494,2602"/>
<polygon class="f" points="2412,2649 2384,2615 2384,2613 2384,2612 2385,2610 2385,2609 2386,2607 2386,2606 2468,2558 2468,2560 2467,2561 2467,2563 2467,2564 2466,2566 2466,2567 2494,2602"/>
<path d="M2494,2602L2466,2567L2466,2566L2467,2564L2467,2563L2467,2561L2468,2560L2468,2558M2412,2649L2494,2602"/>
<polygon class="f" points="2224,2292 2222,2291 2221,2290 2219,2289 2217,2289 2216,2288 2214,2287 2204,2246 2286,2198 2297,2240 2298,2240 2300,2241 2301,2242 2303,2243 2304,2243 2306,2244"/>
<path d="M2306,2244L2304,2243L2303,2243L2301,2242L2300,2241L2298,2240L2297,2240L2286,2198M2204,2246L2286,2198"/>
<polygon class="f" points="2204,2246 2184,2239 2266,2192 2286,2198"/>
<path d="M2286,2198L2266,2192M2204,2246L2286,2198M2184,2239L2266,2192"/>
<polygon class="f" points="2421,2604 2390,2576 2390,2574 2390,2572 2390,2571 2390,2569 2390,2567 2390,2565 2472,2518 2472,2519 2472,2521 2472,2523 2472,2525 2472,2527 2472,2528 2504,2556"/>
<path d="M2504,2556L2472,2528L2472,2527L2472,2525L2472,2523L2472,2521L2472,2519L2472,2518M2421,2604L2504,2556"/>
<polygon class="f" points="2418,2625 2421,2604 2504,2556 2501,2578"/>
<path d="M2501,2578L2504,2556M2418,2625L2501,2578M2421,2604L2504,2556"/>
<polygon class="f" points="2261,2315 2260,2314 2258,2313 2257,2312 2255,2311 2253,2310 2252,2308 2249,2269 2331,2222 2334,2261 2336,2262 2337,2263 2339,2264 2340,2266 2342,2267 2343,2268"/>
<path d="M2343,2268L2342,2267L2340,2266L2339,2264L2337,2263L2336,2262L2334,2261L2331,2222M2249,2269L2331,2222"/>
<polygon class="f" points="2420,2551 2387,2531 2387,2529 2387,2527 2386,2525 2386,2523 2386,2521 2385,2519 2468,2472 2468,2474 2468,2476 2469,2478 2469,2480 2469,2482 2470,2484 2502,2503"/>
<path d="M2502,2503L2470,2484L2469,2482L2469,2480L2469,2478L2468,2476L2468,2474L2468,2472M2420,2551L2502,2503"/>
<polygon class="f" points="2249,2269 2228,2257 2311,2210 2331,2222"/>
<path d="M2331,2222L2311,2210M2249,2269L2331,2222M2228,2257L2311,2210"/>
<polygon class="f" points="2422,2575 2420,2551 2502,2503 2504,2528"/>
<path d="M2504,2528L2502,2503M2422,2575L2504,2528M2420,2551L2502,2503"/>
<polygon class="f" points="2297,2349 2296,2347 2294,2346 2293,2344 2291,2342 2290,2341 2288,2340 2293,2305 2375,2258 2371,2292 2372,2293 2374,2295 2375,2296 2376,2298 2378,2300 2379,2301"/>
<path d="M2379,2301L2378,2300L2376,2298L2375,2296L2374,2295L2372,2293L2371,2292L2375,2258M2293,2305L2375,2258"/>
<polygon class="f" points="2407,2493 2376,2483 2375,2481 2374,2479 2374,2477 2373,2475 2372,2473 2372,2471 2454,2424 2455,2426 2455,2428 2456,2430 2457,2432 2457,2434 2458,2436 2490,2446"/>
<path d="M2490,2446L2458,2436L2457,2434L2457,2432L2456,2430L2455,2428L2455,2426L2454,2424M2407,2493L2490,2446"/>
<polygon class="f" points="2354,2379 2329,2389 2328,2387 2327,2386 2326,2384 2324,2382 2323,2380 2322,2379 2334,2351 2416,2303 2404,2331 2405,2333 2407,2335 2408,2336 2409,2338 2410,2340 2412,2342 2436,2332"/>
<path d="M2436,2332L2412,2342L2410,2340L2409,2338L2408,2336L2407,2335L2405,2333L2404,2331L2416,2303M2354,2379L2436,2332M2334,2351L2416,2303"/>
<polygon class="f" points="2385,2435 2356,2435 2355,2433 2354,2431 2353,2429 2352,2427 2351,2425 2350,2423 2369,2404 2451,2356 2432,2376 2433,2378 2434,2380 2435,2382 2436,2384 2437,2386 2438,2388 2467,2388"/>
<path d="M2467,2388L2438,2388L2437,2386L2436,2384L2435,2382L2434,2380L2433,2378L2432,2376L2451,2356M2385,2435L2467,2388M2369,2404L2451,2356"/>
<polygon class="f" points="2293,2305 2273,2288 2356,2240 2375,2258"/>
<path d="M2375,2258L2356,2240M2293,2305L2375,2258M2273,2288L2356,2240"/>
<polygon class="f" points="2414,2519 2407,2493 2490,2446 2497,2472"/>
<path d="M2497,2472L2490,2446M2414,2519L2497,2472M2407,2493L2490,2446"/>
<polygon class="f" points="2334,2351 2316,2329 2398,2282 2416,2303"/>
<path d="M2416,2303L2398,2282M2334,2351L2416,2303M2316,2329L2398,2282"/>
<polygon class="f" points="2396,2461 2385,2435 2467,2388 2479,2414"/>
<path d="M2479,2414L2467,2388M2396,2461L2479,2414M2385,2435L2467,2388"/>
<polygon class="f" points="2369,2404 2354,2379 2436,2332 2451,2356"/>
<path d="M2451,2356L2436,2332M2369,2404L2451,2356M2354,2379L2436,2332"/>
<polygon class="w" style="stroke-width:2.7" points="2390,2571 2390,2569 2390,2567 2390,2565 2422,2575 2420,2551 2387,2531 2387,2529 2387,2527 2386,2525 2386,2523 2386,2521 2385,2519 2414,2519 2407,2493 2376,2483 2375,2481 2374,2479 2374,2477 2373,2475 2372,2473 2372,2471 2396,2461 2385,2435 2356,2435 2355,2433 2354,2431 2353,2429 2352,2427 2351,2425 2350,2423 2369,2404 2354,2379 2329,2389 2328,2387 2327,2386 2326,2384 2324,2382 2323,2380 2322,2379 2334,2351 2316,2329 2297,2349 2296,2347 2294,2346 2293,2344 2291,2342 2290,2341 2288,2340 2293,2305 2273,2288 2261,2315 2260,2314 2258,2313 2257,2312 2255,2311 2253,2310 2252,2308 2249,2269 2228,2257 2224,2292 2222,2291 2221,2290 2219,2289 2217,2289 2216,2288 2214,2287 2204,2246 2184,2239 2187,2278 2185,2278 2184,2278 2182,2278 2181,2277 2179,2277 2178,2277 2160,2235 2142,2235 2153,2277 2152,2277 2150,2277 2149,2278 2148,2278 2146,2278 2145,2278 2121,2239 2106,2246 2124,2287 2122,2288 2121,2288 2120,2289 2119,2290 2118,2291 2117,2291 2089,2257 2077,2269 2101,2308 2100,2309 2099,2310 2098,2312 2098,2313 2097,2314 2096,2315 2065,2287 2057,2305 2086,2339 2085,2341 2085,2342 2084,2344 2084,2345 2084,2347 2083,2348 2051,2329 2048,2350 2079,2378 2079,2380 2079,2382 2079,2383 2079,2385 2079,2387 2079,2389 2047,2379 2049,2403 2082,2423 2082,2425 2082,2427 2083,2429 2083,2431 2083,2433 2084,2435 2055,2435 2062,2461 2093,2471 2094,2473 2095,2475 2095,2477 2096,2479 2097,2481 2097,2483 2073,2493 2084,2519 2113,2519 2114,2521 2115,2523 2116,2525 2117,2527 2118,2529 2119,2531 2100,2550 2115,2575 2140,2565 2141,2567 2142,2568 2144,2570 2145,2572 2146,2574 2147,2575 2135,2603 2153,2625 2172,2605 2173,2607 2175,2608 2176,2610 2178,2612 2179,2613 2181,2614 2176,2649 2196,2666 2208,2639 2209,2640 2211,2641 2213,2642 2214,2643 2216,2644 2217,2646 2220,2685 2241,2697 2245,2662 2247,2663 2249,2664 2250,2665 2252,2665 2253,2666 2255,2667 2266,2708 2285,2715 2282,2676 2284,2676 2285,2676 2287,2676 2288,2677 2290,2677 2291,2677 2309,2719 2327,2719 2316,2677 2318,2677 2319,2677 2320,2676 2322,2676 2323,2676 2324,2676 2348,2715 2363,2708 2346,2667 2347,2666 2348,2666 2349,2665 2350,2664 2351,2663 2352,2663 2380,2697 2392,2685 2368,2646 2369,2645 2370,2644 2371,2642 2372,2641 2372,2640 2373,2639 2404,2667 2412,2649 2384,2615 2384,2613 2384,2612 2385,2610 2385,2609 2386,2607 2386,2606 2418,2625 2421,2604 2390,2576 2390,2574 2390,2572"/>
<polygon class="f" points="2089,2488 2071,2497 2080,2492 2097,2483"/>
<path style="stroke-width:2.7" d="M2071,2497L2080,2492"/>
<polygon class="f" points="2148,2624 2163,2610 2172,2605 2157,2619"/>
<path style="stroke-width:2.7" d="M2148,2624L2157,2619"/>
<polygon class="f" points="2075,2440 2054,2441 2062,2436 2084,2435"/>
<path style="stroke-width:2.7" d="M2054,2441L2062,2436"/>
<polygon class="f" points="2189,2663 2199,2644 2208,2639 2197,2658"/>
<path style="stroke-width:2.7" d="M2189,2663L2197,2658"/>
<polygon class="f" points="2070,2394 2047,2388 2055,2383 2079,2389"/>
<path style="stroke-width:2.7" d="M2047,2388L2055,2383"/>
<polygon class="f" points="2232,2693 2237,2667 2245,2662 2241,2688"/>
<path style="stroke-width:2.7" d="M2232,2693L2241,2688"/>
<polygon class="f" points="2075,2353 2050,2340 2059,2335 2083,2348"/>
<path style="stroke-width:2.7" d="M2050,2340L2059,2335"/>
<polygon class="f" points="2275,2710 2274,2681 2282,2676 2283,2705"/>
<path style="stroke-width:2.7" d="M2275,2710L2283,2705"/>
<polygon class="f" points="2087,2320 2063,2300 2072,2295 2096,2315"/>
<path style="stroke-width:2.7" d="M2063,2300L2072,2295"/>
<polygon class="f" points="2315,2713 2308,2682 2316,2677 2323,2708"/>
<path style="stroke-width:2.7" d="M2315,2713L2323,2708"/>
<polygon class="f" points="2108,2296 2086,2271 2095,2266 2117,2291"/>
<path style="stroke-width:2.7" d="M2086,2271L2095,2266"/>
<polygon class="f" points="2349,2704 2337,2672 2338,2671 2339,2671 2340,2670 2341,2669 2342,2668 2343,2668 2352,2663 2351,2663 2350,2664 2349,2665 2348,2666 2347,2666 2346,2667 2358,2699"/>
<path style="stroke-width:2.7" d="M2349,2704L2358,2699"/>
<polygon class="f" points="2117,2254 2102,2260 2111,2255 2126,2249"/>
<path style="stroke-width:2.7" d="M2117,2254L2126,2249M2102,2260L2111,2255"/>
<polygon class="f" points="2365,2693 2377,2681 2386,2676 2374,2688"/>
<path style="stroke-width:2.7" d="M2365,2693L2374,2688M2377,2681L2386,2676"/>
<polygon class="f" points="2144,2282 2143,2282 2142,2282 2140,2283 2139,2283 2138,2283 2136,2283 2117,2254 2126,2249 2145,2278 2146,2278 2148,2278 2149,2278 2150,2277 2152,2277 2153,2277"/>
<path style="stroke-width:2.7" d="M2117,2254L2126,2249"/>
<polygon class="f" points="2377,2681 2360,2651 2361,2650 2361,2649 2362,2647 2363,2646 2364,2645 2364,2644 2373,2639 2372,2640 2372,2641 2371,2642 2370,2644 2369,2645 2368,2646 2386,2676"/>
<path style="stroke-width:2.7" d="M2377,2681L2386,2676"/>
<polygon class="f" points="2155,2251 2137,2251 2146,2246 2163,2246"/>
<path style="stroke-width:2.7" d="M2155,2251L2163,2246M2137,2251L2146,2246"/>
<polygon class="f" points="2178,2283 2177,2283 2175,2283 2174,2283 2172,2282 2171,2282 2169,2282 2155,2251 2163,2246 2178,2277 2179,2277 2181,2277 2182,2278 2184,2278 2185,2278 2187,2278"/>
<path style="stroke-width:2.7" d="M2155,2251L2163,2246"/>
<polygon class="f" points="2388,2664 2396,2647 2404,2642 2397,2659"/>
<path style="stroke-width:2.7" d="M2388,2664L2397,2659M2396,2647L2404,2642"/>
<polygon class="f" points="2396,2647 2375,2620 2375,2618 2376,2617 2376,2615 2377,2614 2377,2612 2377,2611 2386,2606 2386,2607 2385,2609 2385,2610 2384,2612 2384,2613 2384,2615 2404,2642"/>
<path style="stroke-width:2.7" d="M2396,2647L2404,2642"/>
<polygon class="f" points="2196,2261 2177,2254 2186,2249 2205,2256"/>
<path style="stroke-width:2.7" d="M2196,2261L2205,2256M2177,2254L2186,2249"/>
<polygon class="f" points="2215,2297 2213,2296 2212,2295 2210,2294 2209,2294 2207,2293 2206,2292 2196,2261 2205,2256 2214,2287 2216,2288 2217,2289 2219,2289 2221,2290 2222,2291 2224,2292"/>
<path style="stroke-width:2.7" d="M2196,2261L2205,2256"/>
<polygon class="f" points="2402,2624 2405,2603 2413,2598 2411,2619"/>
<path style="stroke-width:2.7" d="M2402,2624L2411,2619M2405,2603L2413,2598"/>
<polygon class="f" points="2405,2603 2381,2581 2381,2579 2381,2577 2381,2576 2381,2574 2381,2572 2381,2570 2390,2565 2390,2567 2390,2569 2390,2571 2390,2572 2390,2574 2390,2576 2413,2598"/>
<path style="stroke-width:2.7" d="M2405,2603L2413,2598"/>
<polygon class="f" points="2253,2320 2251,2319 2249,2318 2248,2317 2246,2316 2245,2315 2243,2313 2239,2283 2248,2278 2252,2308 2253,2310 2255,2311 2257,2312 2258,2313 2260,2314 2261,2315"/>
<path style="stroke-width:2.7" d="M2239,2283L2248,2278"/>
<polygon class="f" points="2239,2283 2220,2271 2229,2266 2248,2278"/>
<path style="stroke-width:2.7" d="M2239,2283L2248,2278M2220,2271L2229,2266"/>
<polygon class="f" points="2403,2553 2379,2536 2378,2534 2378,2532 2378,2530 2377,2528 2377,2526 2377,2524 2385,2519 2386,2521 2386,2523 2386,2525 2387,2527 2387,2529 2387,2531 2412,2548"/>
<path style="stroke-width:2.7" d="M2403,2553L2412,2548"/>
<polygon class="f" points="2405,2576 2403,2553 2412,2548 2414,2571"/>
<path style="stroke-width:2.7" d="M2405,2576L2414,2571M2403,2553L2412,2548"/>
<polygon class="f" points="2288,2354 2287,2352 2286,2351 2284,2349 2283,2347 2281,2346 2280,2345 2282,2317 2290,2312 2288,2340 2290,2341 2291,2342 2293,2344 2294,2346 2296,2347 2297,2349"/>
<path style="stroke-width:2.7" d="M2282,2317L2290,2312"/>
<polygon class="f" points="2391,2498 2367,2488 2366,2486 2366,2484 2365,2482 2364,2480 2364,2478 2363,2476 2372,2471 2372,2473 2373,2475 2374,2477 2374,2479 2375,2481 2376,2483 2400,2493"/>
<path style="stroke-width:2.7" d="M2391,2498L2400,2493"/>
<polygon class="f" points="2282,2317 2263,2301 2272,2296 2290,2312"/>
<path style="stroke-width:2.7" d="M2282,2317L2290,2312M2263,2301L2272,2296"/>
<polygon class="f" points="2340,2388 2321,2394 2319,2392 2318,2391 2317,2389 2316,2387 2314,2385 2313,2384 2321,2361 2330,2356 2322,2379 2323,2380 2324,2382 2326,2384 2327,2386 2328,2387 2329,2389 2349,2383"/>
<path style="stroke-width:2.7" d="M2340,2388L2349,2383M2321,2361L2330,2356"/>
<polygon class="f" points="2370,2442 2347,2440 2346,2438 2345,2436 2344,2434 2343,2432 2342,2430 2341,2428 2355,2412 2363,2407 2350,2423 2351,2425 2352,2427 2353,2429 2354,2431 2355,2433 2356,2435 2379,2437"/>
<path style="stroke-width:2.7" d="M2370,2442L2379,2437M2355,2412L2363,2407"/>
<polygon class="f" points="2398,2523 2391,2498 2400,2493 2407,2518"/>
<path style="stroke-width:2.7" d="M2398,2523L2407,2518M2391,2498L2400,2493"/>
<polygon class="f" points="2321,2361 2304,2340 2313,2335 2330,2356"/>
<path style="stroke-width:2.7" d="M2321,2361L2330,2356M2304,2340L2313,2335"/>
<polygon class="f" points="2381,2467 2370,2442 2379,2437 2389,2462"/>
<path style="stroke-width:2.7" d="M2381,2467L2389,2462M2370,2442L2379,2437"/>
<polygon class="f" points="2355,2412 2340,2388 2349,2383 2363,2407"/>
<path style="stroke-width:2.7" d="M2355,2412L2363,2407M2340,2388L2349,2383"/>
<polygon class="w" points="2381,2576 2381,2574 2381,2572 2381,2570 2405,2576 2403,2553 2379,2536 2378,2534 2378,2532 2378,2530 2377,2528 2377,2526 2377,2524 2398,2523 2391,2498 2367,2488 2366,2486 2366,2484 2365,2482 2364,2480 2364,2478 2363,2476 2381,2467 2370,2442 2347,2440 2346,2438 2345,2436 2344,2434 2343,2432 2342,2430 2341,2428 2355,2412 2340,2388 2321,2394 2319,2392 2318,2391 2317,2389 2316,2387 2314,2385 2313,2384 2321,2361 2304,2340 2288,2354 2287,2352 2286,2351 2284,2349 2283,2347 2281,2346 2280,2345 2282,2317 2263,2301 2253,2320 2251,2319 2249,2318 2248,2317 2246,2316 2245,2315 2243,2313 2239,2283 2220,2271 2215,2297 2213,2296 2212,2295 2210,2294 2209,2294 2207,2293 2206,2292 2196,2261 2177,2254 2178,2283 2177,2283 2175,2283 2174,2283 2172,2282 2171,2282 2169,2282 2155,2251 2137,2251 2144,2282 2143,2282 2142,2282 2140,2283 2139,2283 2138,2283 2136,2283 2117,2254 2102,2260 2115,2292 2114,2293 2113,2293 2112,2294 2111,2295 2110,2296 2108,2296 2086,2271 2075,2283 2092,2313 2091,2314 2090,2315 2090,2317 2089,2318 2088,2319 2087,2320 2063,2300 2056,2317 2077,2344 2077,2346 2076,2347 2076,2349 2075,2350 2075,2352 2075,2353 2050,2340 2047,2361 2071,2383 2070,2385 2070,2387 2070,2388 2070,2390 2070,2392 2070,2394 2047,2388 2049,2411 2073,2428 2073,2430 2074,2432 2074,2434 2074,2436 2075,2438 2075,2440 2054,2441 2060,2466 2085,2476 2085,2478 2086,2480 2087,2482 2087,2484 2088,2486 2089,2488 2071,2497 2082,2522 2104,2524 2105,2526 2106,2528 2107,2530 2108,2532 2109,2534 2110,2536 2097,2552 2111,2576 2131,2570 2132,2572 2134,2573 2135,2575 2136,2577 2137,2579 2139,2580 2131,2603 2148,2624 2163,2610 2165,2612 2166,2613 2168,2615 2169,2617 2171,2618 2172,2619 2170,2647 2189,2663 2199,2644 2201,2645 2202,2646 2204,2647 2205,2648 2207,2649 2209,2651 2212,2681 2232,2693 2237,2667 2238,2668 2240,2669 2241,2670 2243,2670 2245,2671 2246,2672 2256,2703 2275,2710 2274,2681 2275,2681 2277,2681 2278,2681 2279,2682 2281,2682 2282,2682 2297,2713 2315,2713 2308,2682 2309,2682 2310,2682 2312,2681 2313,2681 2314,2681 2315,2681 2334,2710 2349,2704 2337,2672 2338,2671 2339,2671 2340,2670 2341,2669 2342,2668 2343,2668 2365,2693 2377,2681 2360,2651 2361,2650 2361,2649 2362,2647 2363,2646 2364,2645 2364,2644 2388,2664 2396,2647 2375,2620 2375,2618 2376,2617 2376,2615 2377,2614 2377,2612 2377,2611 2402,2624 2405,2603 2381,2581 2381,2579 2381,2577"/>
<polygon class="f" points="2038,2656 2060,2641 2147,2591 2125,2606"/>
<path d="M2125,2606L2147,2591M2038,2656L2125,2606"/>
<polygon class="f" points="1994,2514 1967,2519 2054,2469 2081,2464"/>
<path d="M2081,2464L2054,2469M1967,2519L2054,2469"/>
<polygon class="f" points="2079,2702 2094,2678 2181,2628 2165,2652"/>
<path d="M2165,2652L2181,2628M2079,2702L2165,2652"/>
<polygon class="f" points="1985,2466 1955,2461 2041,2411 2072,2416"/>
<path d="M2072,2416L2041,2411M1955,2461L2041,2411"/>
<polygon class="f" points="2123,2738 2131,2707 2218,2657 2210,2688"/>
<path d="M2210,2688L2218,2657M2123,2738L2210,2688"/>
<polygon class="f" points="1985,2423 1952,2408 2039,2358 2071,2373"/>
<path d="M2071,2373L2039,2358M1952,2408L2039,2358"/>
<polygon class="f" points="2168,2762 2169,2725 2255,2675 2255,2712"/>
<path d="M2255,2712L2255,2675M2168,2762L2255,2712"/>
<polygon class="f" points="1993,2386 1961,2362 2048,2312 2080,2336"/>
<path d="M2080,2336L2048,2312M1961,2362L2048,2312"/>
<polygon class="f" points="2212,2773 2204,2733 2291,2683 2298,2723"/>
<path d="M2298,2723L2291,2683M2212,2773L2298,2723"/>
<polygon class="f" points="2010,2357 1980,2326 2067,2276 2097,2307"/>
<path d="M2097,2307L2067,2276M1980,2326L2067,2276"/>
<polygon class="f" points="2251,2770 2236,2728 2323,2678 2337,2720"/>
<path d="M2337,2720L2323,2678M2251,2770L2337,2720"/>
<polygon class="f" points="2270,2763 2284,2753 2370,2703 2356,2713"/>
<path d="M2356,2713L2370,2703M2270,2763L2356,2713M2284,2753L2370,2703"/>
<polygon class="f" points="2042,2336 2041,2336 2040,2336 2039,2337 2037,2337 2036,2338 2035,2338 2009,2301 2095,2251 2122,2288 2123,2288 2124,2287 2125,2287 2126,2286 2128,2286 2129,2286"/>
<path d="M2129,2286L2128,2286L2126,2286L2125,2287L2124,2287L2123,2288L2122,2288L2095,2251M2009,2301L2095,2251"/>
<polygon class="f" points="2284,2753 2263,2713 2264,2712 2265,2711 2265,2710 2266,2709 2267,2708 2268,2707 2355,2657 2354,2658 2353,2659 2352,2660 2351,2661 2350,2662 2349,2663 2370,2703"/>
<path d="M2370,2703L2349,2663L2350,2662L2351,2661L2352,2660L2353,2659L2354,2658L2355,2657M2284,2753L2370,2703"/>
<polygon class="f" points="2045,2291 2028,2294 2114,2244 2131,2241"/>
<path d="M2131,2241L2114,2244M2045,2291L2131,2241M2028,2294L2114,2244"/>
<polygon class="f" points="2074,2331 2073,2331 2071,2331 2070,2331 2068,2331 2067,2331 2066,2331 2045,2291 2131,2241 2152,2281 2154,2281 2155,2281 2156,2281 2158,2281 2159,2281 2161,2281"/>
<path d="M2161,2281L2159,2281L2158,2281L2156,2281L2155,2281L2154,2281L2152,2281L2131,2241M2045,2291L2131,2241"/>
<polygon class="f" points="2298,2738 2308,2723 2395,2673 2385,2688"/>
<path d="M2385,2688L2395,2673M2298,2738L2385,2688M2308,2723L2395,2673"/>
<polygon class="f" points="2308,2723 2282,2686 2282,2685 2283,2684 2284,2682 2284,2681 2285,2680 2285,2678 2372,2628 2371,2630 2371,2631 2370,2632 2370,2634 2369,2635 2368,2636 2395,2673"/>
<path d="M2395,2673L2368,2636L2369,2635L2370,2634L2370,2632L2371,2631L2371,2630L2372,2628M2308,2723L2395,2673"/>
<polygon class="f" points="2086,2294 2067,2291 2154,2241 2173,2244"/>
<path d="M2173,2244L2154,2241M2086,2294L2173,2244M2067,2291L2154,2241"/>
<polygon class="f" points="2110,2339 2108,2338 2107,2338 2105,2337 2104,2337 2102,2336 2101,2336 2086,2294 2173,2244 2187,2286 2189,2286 2190,2287 2192,2287 2193,2288 2195,2288 2196,2289"/>
<path d="M2196,2289L2195,2288L2193,2288L2192,2287L2190,2287L2189,2286L2187,2286L2173,2244M2086,2294L2173,2244"/>
<polygon class="f" points="2317,2702 2323,2683 2409,2633 2404,2652"/>
<path d="M2404,2652L2409,2633M2317,2702L2404,2652M2323,2683L2409,2633"/>
<polygon class="f" points="2323,2683 2293,2651 2293,2650 2293,2648 2293,2646 2294,2645 2294,2643 2294,2641 2380,2591 2380,2593 2380,2595 2380,2596 2380,2598 2379,2600 2379,2601 2409,2633"/>
<path d="M2409,2633L2379,2601L2379,2600L2380,2598L2380,2596L2380,2595L2380,2593L2380,2591M2323,2683L2409,2633"/>
<polygon class="f" points="2147,2357 2146,2356 2144,2355 2143,2354 2141,2353 2139,2352 2138,2352 2131,2311 2217,2261 2224,2302 2226,2302 2228,2303 2229,2304 2231,2305 2232,2306 2234,2307"/>
<path d="M2234,2307L2232,2306L2231,2305L2229,2304L2228,2303L2226,2302L2224,2302L2217,2261M2131,2311L2217,2261"/>
<polygon class="f" points="2131,2311 2110,2302 2197,2252 2217,2261"/>
<path d="M2217,2261L2197,2252M2131,2311L2217,2261M2110,2302L2197,2252"/>
<polygon class="f" points="2327,2633 2294,2609 2294,2607 2294,2605 2294,2603 2294,2602 2294,2600 2294,2598 2380,2548 2380,2550 2381,2552 2381,2553 2381,2555 2381,2557 2381,2559 2413,2583"/>
<path d="M2413,2583L2381,2559L2381,2557L2381,2555L2381,2553L2381,2552L2380,2550L2380,2548M2327,2633L2413,2583"/>
<polygon class="f" points="2326,2656 2327,2633 2413,2583 2413,2606"/>
<path d="M2413,2606L2413,2583M2326,2656L2413,2606M2327,2633L2413,2583"/>
<polygon class="f" points="2184,2386 2183,2385 2181,2383 2180,2382 2178,2380 2177,2379 2175,2378 2176,2341 2262,2291 2262,2328 2263,2329 2265,2330 2266,2332 2268,2333 2269,2335 2271,2336"/>
<path d="M2271,2336L2269,2335L2268,2333L2266,2332L2265,2330L2263,2329L2262,2328L2262,2291M2176,2341L2262,2291"/>
<polygon class="f" points="2320,2577 2287,2562 2287,2560 2286,2558 2286,2556 2285,2554 2285,2552 2284,2550 2371,2500 2371,2502 2372,2504 2372,2506 2373,2508 2373,2510 2374,2512 2406,2527"/>
<path d="M2406,2527L2374,2512L2373,2510L2373,2508L2372,2506L2372,2504L2371,2502L2371,2500M2320,2577L2406,2527"/>
<polygon class="f" points="2176,2341 2156,2326 2242,2276 2262,2291"/>
<path d="M2262,2291L2242,2276M2176,2341L2262,2291M2156,2326L2242,2276"/>
<polygon class="f" points="2219,2423 2217,2421 2216,2420 2214,2418 2213,2416 2212,2415 2210,2413 2219,2382 2305,2332 2297,2363 2298,2365 2300,2366 2301,2368 2302,2370 2304,2371 2305,2373"/>
<path d="M2305,2373L2304,2371L2302,2370L2301,2368L2300,2366L2298,2365L2297,2363L2305,2332M2219,2382L2305,2332"/>
<polygon class="f" points="2324,2603 2320,2577 2406,2527 2411,2553"/>
<path d="M2411,2553L2406,2527M2324,2603L2411,2553M2320,2577L2406,2527"/>
<polygon class="f" points="2302,2519 2272,2514 2271,2512 2270,2510 2269,2508 2268,2506 2267,2504 2266,2502 2288,2487 2375,2437 2353,2452 2354,2454 2355,2456 2356,2458 2357,2460 2357,2462 2358,2464 2389,2469"/>
<path d="M2389,2469L2358,2464L2357,2462L2357,2460L2356,2458L2355,2456L2354,2454L2353,2452L2375,2437M2302,2519L2389,2469M2288,2487L2375,2437"/>
<polygon class="f" points="2275,2462 2248,2467 2247,2465 2246,2463 2245,2461 2244,2459 2243,2457 2241,2455 2257,2432 2344,2382 2328,2405 2329,2407 2330,2409 2331,2411 2333,2413 2334,2415 2335,2417 2362,2412"/>
<path d="M2362,2412L2335,2417L2334,2415L2333,2413L2331,2411L2330,2409L2329,2407L2328,2405L2344,2382M2275,2462L2362,2412M2257,2432L2344,2382"/>
<polygon class="f" points="2219,2382 2200,2362 2286,2312 2305,2332"/>
<path d="M2305,2332L2286,2312M2219,2382L2305,2332M2200,2362L2286,2312"/>
<polygon class="f" points="2311,2545 2302,2519 2389,2469 2398,2495"/>
<path d="M2398,2495L2389,2469M2311,2545L2398,2495M2302,2519L2389,2469"/>
<polygon class="f" points="2257,2432 2241,2408 2327,2358 2344,2382"/>
<path d="M2344,2382L2327,2358M2257,2432L2344,2382M2241,2408L2327,2358"/>
<polygon class="f" points="2288,2487 2275,2462 2362,2412 2375,2437"/>
<path d="M2375,2437L2362,2412M2288,2487L2375,2437M2275,2462L2362,2412"/>
<polygon class="w" style="stroke-width:2.7" points="2294,2603 2294,2602 2294,2600 2294,2598 2324,2603 2320,2577 2287,2562 2287,2560 2286,2558 2286,2556 2285,2554 2285,2552 2284,2550 2311,2545 2302,2519 2272,2514 2271,2512 2270,2510 2269,2508 2268,2506 2267,2504 2266,2502 2288,2487 2275,2462 2248,2467 2247,2465 2246,2463 2245,2461 2244,2459 2243,2457 2241,2455 2257,2432 2241,2408 2219,2423 2217,2421 2216,2420 2214,2418 2213,2416 2212,2415 2210,2413 2219,2382 2200,2362 2184,2386 2183,2385 2181,2383 2180,2382 2178,2380 2177,2379 2175,2378 2176,2341 2156,2326 2147,2357 2146,2356 2144,2355 2143,2354 2141,2353 2139,2352 2138,2352 2131,2311 2110,2302 2110,2339 2108,2338 2107,2338 2105,2337 2104,2337 2102,2336 2101,2336 2086,2294 2067,2291 2074,2331 2073,2331 2071,2331 2070,2331 2068,2331 2067,2331 2066,2331 2045,2291 2028,2294 2042,2336 2041,2336 2040,2336 2039,2337 2037,2337 2036,2338 2035,2338 2009,2301 1995,2311 2016,2351 2015,2352 2014,2353 2013,2354 2012,2355 2011,2356 2010,2357 1980,2326 1971,2341 1997,2378 1996,2379 1996,2380 1995,2382 1994,2383 1994,2384 1993,2386 1961,2362 1956,2381 1986,2413 1986,2414 1986,2416 1985,2418 1985,2419 1985,2421 1985,2423 1952,2408 1952,2431 1984,2455 1984,2457 1984,2459 1985,2461 1985,2462 1985,2464 1985,2466 1955,2461 1959,2487 1991,2502 1992,2504 1992,2506 1993,2508 1993,2510 1994,2512 1994,2514 1967,2519 1976,2545 2007,2550 2008,2552 2009,2554 2009,2556 2010,2558 2011,2560 2012,2562 1990,2577 2003,2602 2030,2597 2031,2599 2033,2601 2034,2603 2035,2605 2036,2607 2037,2609 2022,2632 2038,2656 2060,2641 2061,2643 2063,2644 2064,2646 2066,2648 2067,2649 2068,2651 2060,2682 2079,2702 2094,2678 2096,2679 2097,2681 2099,2682 2100,2684 2102,2685 2103,2686 2103,2723 2123,2738 2131,2707 2133,2708 2134,2709 2136,2710 2138,2711 2139,2712 2141,2712 2148,2753 2168,2762 2169,2725 2170,2726 2172,2726 2173,2727 2175,2727 2176,2728 2178,2728 2192,2770 2212,2773 2204,2733 2206,2733 2207,2733 2209,2733 2210,2733 2211,2733 2213,2733 2234,2773 2251,2770 2236,2728 2238,2728 2239,2728 2240,2727 2241,2727 2242,2726 2244,2726 2270,2763 2284,2753 2263,2713 2264,2712 2265,2711 2265,2710 2266,2709 2267,2708 2268,2707 2298,2738 2308,2723 2282,2686 2282,2685 2283,2684 2284,2682 2284,2681 2285,2680 2285,2678 2317,2702 2323,2683 2293,2651 2293,2650 2293,2648 2293,2646 2294,2645 2294,2643 2294,2641 2326,2656 2327,2633 2294,2609 2294,2607 2294,2605"/>
<polygon class="f" points="1986,2519 1966,2524 1975,2519 1994,2514"/>
<path style="stroke-width:2.7" d="M1966,2524L1975,2519"/>
<polygon class="f" points="2073,2700 2086,2683 2094,2678 2081,2695"/>
<path style="stroke-width:2.7" d="M2073,2700L2081,2695"/>
<polygon class="f" points="1976,2471 1954,2469 1962,2464 1985,2466"/>
<path style="stroke-width:2.7" d="M1954,2469L1962,2464"/>
<polygon class="f" points="2115,2734 2123,2712 2131,2707 2124,2729"/>
<path style="stroke-width:2.7" d="M2115,2734L2124,2729"/>
<polygon class="f" points="1976,2428 1952,2418 1960,2413 1985,2423"/>
<path style="stroke-width:2.7" d="M1952,2418L1960,2413"/>
<polygon class="f" points="2158,2758 2160,2730 2169,2725 2167,2753"/>
<path style="stroke-width:2.7" d="M2158,2758L2167,2753"/>
<polygon class="f" points="1985,2391 1960,2374 1969,2369 1993,2386"/>
<path style="stroke-width:2.7" d="M1960,2374L1969,2369"/>
<polygon class="f" points="2200,2768 2196,2738 2204,2733 2209,2763"/>
<path style="stroke-width:2.7" d="M2200,2768L2209,2763"/>
<polygon class="f" points="2002,2362 1978,2339 1987,2334 2010,2357"/>
<path style="stroke-width:2.7" d="M1978,2339L1987,2334"/>
<polygon class="f" points="2237,2765 2228,2733 2236,2728 2246,2760"/>
<path style="stroke-width:2.7" d="M2237,2765L2246,2760"/>
<polygon class="f" points="2256,2758 2269,2749 2278,2744 2264,2753"/>
<path style="stroke-width:2.7" d="M2256,2758L2264,2753M2269,2749L2278,2744"/>
<polygon class="f" points="2034,2341 2032,2341 2031,2341 2030,2342 2029,2342 2028,2343 2026,2343 2006,2316 2014,2311 2035,2338 2036,2338 2037,2337 2039,2337 2040,2336 2041,2336 2042,2336"/>
<path style="stroke-width:2.7" d="M2006,2316L2014,2311"/>
<polygon class="f" points="2269,2749 2254,2718 2255,2717 2256,2716 2257,2715 2258,2714 2259,2713 2259,2712 2268,2707 2267,2708 2266,2709 2265,2710 2265,2711 2264,2712 2263,2713 2278,2744"/>
<path style="stroke-width:2.7" d="M2269,2749L2278,2744"/>
<polygon class="f" points="2040,2306 2024,2309 2032,2304 2049,2301"/>
<path style="stroke-width:2.7" d="M2040,2306L2049,2301M2024,2309L2032,2304"/>
<polygon class="f" points="2065,2336 2064,2336 2063,2336 2061,2336 2060,2336 2058,2336 2057,2336 2040,2306 2049,2301 2066,2331 2067,2331 2068,2331 2070,2331 2071,2331 2073,2331 2074,2331"/>
<path style="stroke-width:2.7" d="M2040,2306L2049,2301"/>
<polygon class="f" points="2283,2735 2292,2720 2301,2715 2291,2730"/>
<path style="stroke-width:2.7" d="M2283,2735L2291,2730M2292,2720L2301,2715"/>
<polygon class="f" points="2292,2720 2273,2691 2274,2690 2274,2689 2275,2687 2275,2686 2276,2685 2277,2683 2285,2678 2285,2680 2284,2681 2284,2682 2283,2684 2282,2685 2282,2686 2301,2715"/>
<path style="stroke-width:2.7" d="M2292,2720L2301,2715"/>
<polygon class="f" points="2080,2309 2061,2306 2070,2301 2088,2304"/>
<path style="stroke-width:2.7" d="M2080,2309L2088,2304M2061,2306L2070,2301"/>
<polygon class="f" points="2101,2344 2100,2343 2098,2343 2097,2342 2095,2342 2094,2341 2092,2341 2080,2309 2088,2304 2101,2336 2102,2336 2104,2337 2105,2337 2107,2338 2108,2338 2110,2339"/>
<path style="stroke-width:2.7" d="M2080,2309L2088,2304"/>
<polygon class="f" points="2301,2700 2306,2681 2315,2676 2310,2695"/>
<path style="stroke-width:2.7" d="M2301,2700L2310,2695M2306,2681L2315,2676"/>
<polygon class="f" points="2306,2681 2284,2656 2284,2655 2284,2653 2285,2651 2285,2650 2285,2648 2285,2646 2294,2641 2294,2643 2294,2645 2293,2646 2293,2648 2293,2650 2293,2651 2315,2676"/>
<path style="stroke-width:2.7" d="M2306,2681L2315,2676"/>
<polygon class="f" points="2139,2362 2137,2361 2135,2360 2134,2359 2132,2358 2131,2357 2129,2357 2122,2325 2131,2320 2138,2352 2139,2352 2141,2353 2143,2354 2144,2355 2146,2356 2147,2357"/>
<path style="stroke-width:2.7" d="M2122,2325L2131,2320"/>
<polygon class="f" points="2122,2325 2103,2316 2112,2311 2131,2320"/>
<path style="stroke-width:2.7" d="M2122,2325L2131,2320M2103,2316L2112,2311"/>
<polygon class="f" points="2310,2634 2286,2614 2286,2612 2286,2610 2285,2608 2285,2607 2285,2605 2285,2603 2294,2598 2294,2600 2294,2602 2294,2603 2294,2605 2294,2607 2294,2609 2319,2629"/>
<path style="stroke-width:2.7" d="M2310,2634L2319,2629"/>
<polygon class="f" points="2310,2656 2310,2634 2319,2629 2318,2651"/>
<path style="stroke-width:2.7" d="M2310,2656L2318,2651M2310,2634L2319,2629"/>
<polygon class="f" points="2176,2391 2174,2390 2173,2388 2171,2387 2169,2385 2168,2384 2166,2383 2166,2354 2174,2349 2175,2378 2177,2379 2178,2380 2180,2382 2181,2383 2183,2385 2184,2386"/>
<path style="stroke-width:2.7" d="M2166,2354L2174,2349"/>
<polygon class="f" points="2303,2580 2279,2567 2278,2565 2278,2563 2277,2561 2277,2559 2276,2557 2276,2555 2284,2550 2285,2552 2285,2554 2286,2556 2286,2558 2287,2560 2287,2562 2312,2575"/>
<path style="stroke-width:2.7" d="M2303,2580L2312,2575"/>
<polygon class="f" points="2166,2354 2146,2340 2155,2335 2174,2349"/>
<path style="stroke-width:2.7" d="M2166,2354L2174,2349M2146,2340L2155,2335"/>
<polygon class="f" points="2308,2605 2303,2580 2312,2575 2316,2600"/>
<path style="stroke-width:2.7" d="M2308,2605L2316,2600M2303,2580L2312,2575"/>
<polygon class="f" points="2228,2419 2210,2428 2209,2426 2207,2425 2206,2423 2204,2421 2203,2420 2202,2418 2207,2393 2215,2388 2210,2413 2212,2415 2213,2416 2214,2418 2216,2420 2217,2421 2219,2423 2236,2414"/>
<path style="stroke-width:2.7" d="M2228,2419L2236,2414M2207,2393L2215,2388"/>
<polygon class="f" points="2287,2525 2263,2519 2262,2517 2261,2515 2260,2513 2260,2511 2259,2509 2258,2507 2273,2494 2282,2489 2266,2502 2267,2504 2268,2506 2269,2508 2270,2510 2271,2512 2272,2514 2295,2520"/>
<path style="stroke-width:2.7" d="M2287,2525L2295,2520M2273,2494L2282,2489"/>
<polygon class="f" points="2261,2470 2240,2472 2238,2470 2237,2468 2236,2466 2235,2464 2234,2462 2233,2460 2243,2441 2252,2436 2241,2455 2243,2457 2244,2459 2245,2461 2246,2463 2247,2465 2248,2467 2270,2465"/>
<path style="stroke-width:2.7" d="M2261,2470L2270,2465M2243,2441L2252,2436"/>
<polygon class="f" points="2207,2393 2189,2374 2197,2369 2215,2388"/>
<path style="stroke-width:2.7" d="M2207,2393L2215,2388M2189,2374L2197,2369"/>
<polygon class="f" points="2295,2550 2287,2525 2295,2520 2304,2545"/>
<path style="stroke-width:2.7" d="M2295,2550L2304,2545M2287,2525L2295,2520"/>
<polygon class="f" points="2243,2441 2228,2419 2236,2414 2252,2436"/>
<path style="stroke-width:2.7" d="M2243,2441L2252,2436M2228,2419L2236,2414"/>
<polygon class="f" points="2273,2494 2261,2470 2270,2465 2282,2489"/>
<path style="stroke-width:2.7" d="M2273,2494L2282,2489M2261,2470L2270,2465"/>
<polygon class="w" points="2285,2608 2285,2607 2285,2605 2285,2603 2308,2605 2303,2580 2279,2567 2278,2565 2278,2563 2277,2561 2277,2559 2276,2557 2276,2555 2295,2550 2287,2525 2263,2519 2262,2517 2261,2515 2260,2513 2260,2511 2259,2509 2258,2507 2273,2494 2261,2470 2240,2472 2238,2470 2237,2468 2236,2466 2235,2464 2234,2462 2233,2460 2243,2441 2228,2419 2210,2428 2209,2426 2207,2425 2206,2423 2204,2421 2203,2420 2202,2418 2207,2393 2189,2374 2176,2391 2174,2390 2173,2388 2171,2387 2169,2385 2168,2384 2166,2383 2166,2354 2146,2340 2139,2362 2137,2361 2135,2360 2134,2359 2132,2358 2131,2357 2129,2357 2122,2325 2103,2316 2101,2344 2100,2343 2098,2343 2097,2342 2095,2342 2094,2341 2092,2341 2080,2309 2061,2306 2065,2336 2064,2336 2063,2336 2061,2336 2060,2336 2058,2336 2057,2336 2040,2306 2024,2309 2034,2341 2032,2341 2031,2341 2030,2342 2029,2342 2028,2343 2026,2343 2006,2316 1992,2325 2007,2356 2006,2357 2005,2358 2004,2359 2004,2360 2003,2361 2002,2362 1978,2339 1969,2354 1988,2383 1988,2384 1987,2385 1986,2387 1986,2388 1985,2389 1985,2391 1960,2374 1955,2393 1977,2418 1977,2419 1977,2421 1977,2423 1976,2424 1976,2426 1976,2428 1952,2418 1951,2440 1975,2460 1976,2462 1976,2464 1976,2466 1976,2467 1976,2469 1976,2471 1954,2469 1958,2494 1983,2507 1983,2509 1984,2511 1984,2513 1985,2515 1985,2517 1986,2519 1966,2524 1975,2549 1998,2555 1999,2557 2000,2559 2001,2561 2002,2563 2003,2565 2003,2567 1988,2580 2000,2604 2022,2602 2023,2604 2024,2606 2025,2608 2026,2610 2027,2612 2029,2614 2018,2633 2034,2655 2051,2646 2053,2648 2054,2649 2055,2651 2057,2653 2058,2654 2060,2656 2055,2681 2073,2700 2086,2683 2087,2684 2089,2686 2090,2687 2092,2689 2093,2690 2095,2691 2096,2720 2115,2734 2123,2712 2124,2713 2126,2714 2127,2715 2129,2716 2131,2717 2132,2717 2139,2749 2158,2758 2160,2730 2162,2731 2163,2731 2165,2732 2166,2732 2168,2733 2169,2733 2181,2765 2200,2768 2196,2738 2197,2738 2199,2738 2200,2738 2201,2738 2203,2738 2204,2738 2221,2768 2237,2765 2228,2733 2229,2733 2230,2733 2231,2732 2233,2732 2234,2731 2235,2731 2256,2758 2269,2749 2254,2718 2255,2717 2256,2716 2257,2715 2258,2714 2259,2713 2259,2712 2283,2735 2292,2720 2273,2691 2274,2690 2274,2689 2275,2687 2275,2686 2276,2685 2277,2683 2301,2700 2306,2681 2284,2656 2284,2655 2284,2653 2285,2651 2285,2650 2285,2648 2285,2646 2310,2656 2310,2634 2286,2614 2286,2612 2286,2610"/>
<path class="w" d="M1986,2326 A255,147 60 0 0 1986,2621 A255,147 60 0 0 2241,2768 L2258,2758 A255,147 60 0 0 2258,2463 A255,147 60 0 0 2003,2316 Z"/>
<path class="w" d="M2241,2768A255,147 60 1 0 1986,2326A255,147 60 1 0 2241,2768Z"/>
<path d="M2236,2760A246,142 60 1 0 1990,2334A246,142 60 1 0 2236,2760Z"/>
<polygon class="f" points="1958,2716 1980,2699 2049,2659 2027,2676"/>
<path d="M2027,2676L2049,2659M1958,2716L2027,2676"/>
<polygon class="f" points="1904,2547 1875,2548 1944,2508 1973,2507"/>
<path d="M1973,2507L1944,2508M1875,2548L1944,2508"/>
<polygon class="f" points="2010,2768 2023,2740 2092,2700 2079,2728"/>
<path d="M2079,2728L2092,2700M2010,2768L2079,2728"/>
<polygon class="f" points="1900,2493 1867,2481 1937,2441 1969,2453"/>
<path d="M1969,2453L1937,2441M1867,2481L1937,2441"/>
<polygon class="f" points="2065,2802 2068,2765 2137,2725 2135,2762"/>
<path d="M2135,2762L2137,2725M2065,2802L2135,2762"/>
<polygon class="f" points="1910,2448 1877,2424 1946,2384 1979,2408"/>
<path d="M1979,2408L1946,2384M1877,2424L1946,2384"/>
<polygon class="f" points="2119,2815 2111,2773 2180,2733 2188,2775"/>
<path d="M2188,2775L2180,2733M2119,2815L2188,2775"/>
<polygon class="f" points="1933,2416 1903,2382 1972,2342 2003,2376"/>
<path d="M2003,2376L1972,2342M1903,2382L1972,2342"/>
<polygon class="f" points="2164,2806 2147,2763 2148,2762 2150,2761 2151,2761 2152,2760 2153,2759 2155,2758 2224,2718 2223,2719 2222,2720 2220,2721 2219,2721 2218,2722 2216,2723 2234,2766"/>
<path d="M2234,2766L2216,2723L2218,2722L2219,2721L2220,2721L2222,2720L2223,2719L2224,2718M2164,2806L2234,2766"/>
<polygon class="f" points="1943,2361 1924,2368 1993,2328 2012,2321"/>
<path d="M2012,2321L1993,2328M1943,2361L2012,2321M1924,2368L1993,2328"/>
<polygon class="f" points="2185,2792 2199,2775 2268,2735 2254,2752"/>
<path d="M2254,2752L2268,2735M2185,2792L2254,2752M2199,2775L2268,2735"/>
<polygon class="f" points="1977,2401 1976,2401 1974,2401 1972,2401 1971,2401 1969,2401 1967,2402 1943,2361 2012,2321 2037,2362 2038,2361 2040,2361 2041,2361 2043,2361 2045,2361 2046,2361"/>
<path d="M2046,2361L2045,2361L2043,2361L2041,2361L2040,2361L2038,2361L2037,2362L2012,2321M1943,2361L2012,2321"/>
<polygon class="f" points="2199,2775 2173,2736 2174,2734 2175,2733 2176,2731 2176,2730 2177,2728 2178,2726 2247,2686 2246,2688 2246,2690 2245,2691 2244,2693 2243,2694 2243,2696 2268,2735"/>
<path d="M2268,2735L2243,2696L2243,2694L2244,2693L2245,2691L2246,2690L2246,2688L2247,2686M2199,2775L2268,2735"/>
<polygon class="f" points="1993,2362 1970,2359 2039,2319 2062,2322"/>
<path d="M2062,2322L2039,2319M1993,2362L2062,2322M1970,2359L2039,2319"/>
<polygon class="f" points="2020,2409 2018,2408 2016,2408 2014,2407 2013,2406 2011,2406 2009,2405 1993,2362 2062,2322 2078,2365 2080,2366 2082,2366 2084,2367 2086,2368 2087,2368 2089,2369"/>
<path d="M2089,2369L2087,2368L2086,2368L2084,2367L2082,2366L2080,2366L2078,2365L2062,2322M1993,2362L2062,2322"/>
<polygon class="f" points="2211,2750 2218,2726 2287,2686 2280,2710"/>
<path d="M2280,2710L2287,2686M2211,2750L2280,2710M2218,2726L2287,2686"/>
<polygon class="f" points="2218,2726 2187,2694 2187,2692 2187,2690 2187,2688 2188,2686 2188,2683 2188,2681 2257,2641 2257,2643 2257,2646 2257,2648 2257,2650 2256,2652 2256,2654 2287,2686"/>
<path d="M2287,2686L2256,2654L2256,2652L2257,2650L2257,2648L2257,2646L2257,2643L2257,2641M2218,2726L2287,2686"/>
<polygon class="f" points="2065,2434 2063,2433 2061,2432 2059,2430 2058,2429 2056,2428 2054,2426 2048,2385 2117,2345 2123,2386 2125,2388 2127,2389 2129,2390 2131,2392 2132,2393 2134,2394"/>
<path d="M2134,2394L2132,2393L2131,2392L2129,2390L2127,2389L2125,2388L2123,2386L2117,2345M2048,2385L2117,2345"/>
<polygon class="f" points="2048,2385 2023,2372 2092,2332 2117,2345"/>
<path d="M2117,2345L2092,2332M2048,2385L2117,2345M2023,2372L2092,2332"/>
<polygon class="f" points="2220,2664 2186,2641 2186,2639 2186,2637 2185,2634 2185,2632 2184,2630 2184,2627 2253,2587 2254,2590 2254,2592 2254,2594 2255,2597 2255,2599 2256,2601 2289,2624"/>
<path d="M2289,2624L2256,2601L2255,2599L2255,2597L2254,2594L2254,2592L2254,2590L2253,2587M2220,2664L2289,2624"/>
<polygon class="f" points="2221,2693 2220,2664 2289,2624 2290,2653"/>
<path d="M2290,2653L2289,2624M2221,2693L2290,2653M2220,2664L2289,2624"/>
<polygon class="f" points="2108,2475 2106,2473 2105,2471 2103,2469 2101,2467 2100,2465 2098,2463 2102,2428 2171,2388 2167,2423 2169,2425 2171,2427 2172,2429 2174,2431 2176,2433 2177,2435"/>
<path d="M2177,2435L2176,2433L2174,2431L2172,2429L2171,2427L2169,2425L2167,2423L2171,2388M2102,2428L2171,2388"/>
<polygon class="f" points="2204,2594 2172,2584 2171,2581 2170,2579 2169,2576 2168,2574 2167,2571 2166,2569 2189,2554 2258,2514 2235,2529 2236,2531 2237,2534 2238,2536 2239,2539 2240,2541 2241,2544 2274,2554"/>
<path d="M2274,2554L2241,2544L2240,2541L2239,2539L2238,2536L2237,2534L2236,2531L2235,2529L2258,2514M2204,2594L2274,2554M2189,2554L2258,2514"/>
<polygon class="f" points="2173,2523 2145,2526 2144,2524 2142,2522 2141,2519 2139,2517 2138,2515 2137,2513 2151,2486 2220,2446 2206,2473 2207,2475 2209,2477 2210,2479 2211,2482 2213,2484 2214,2486 2243,2483"/>
<path d="M2243,2483L2214,2486L2213,2484L2211,2482L2210,2479L2209,2477L2207,2475L2206,2473L2220,2446M2173,2523L2243,2483M2151,2486L2220,2446"/>
<polygon class="f" points="2102,2428 2078,2406 2147,2366 2171,2388"/>
<path d="M2171,2388L2147,2366M2102,2428L2171,2388M2078,2406L2147,2366"/>
<polygon class="f" points="2213,2626 2204,2594 2274,2554 2283,2586"/>
<path d="M2283,2586L2274,2554M2213,2626L2283,2586M2204,2594L2274,2554"/>
<polygon class="f" points="2151,2486 2130,2458 2199,2418 2220,2446"/>
<path d="M2220,2446L2199,2418M2151,2486L2220,2446M2130,2458L2199,2418"/>
<polygon class="f" points="2189,2554 2173,2523 2243,2483 2258,2514"/>
<path d="M2258,2514L2243,2483M2189,2554L2258,2514M2173,2523L2243,2483"/>
<polygon class="w" style="stroke-width:2.7" points="2187,2688 2188,2686 2188,2683 2188,2681 2221,2693 2220,2664 2186,2641 2186,2639 2186,2637 2185,2634 2185,2632 2184,2630 2184,2627 2213,2626 2204,2594 2172,2584 2171,2581 2170,2579 2169,2576 2168,2574 2167,2571 2166,2569 2189,2554 2173,2523 2145,2526 2144,2524 2142,2522 2141,2519 2139,2517 2138,2515 2137,2513 2151,2486 2130,2458 2108,2475 2106,2473 2105,2471 2103,2469 2101,2467 2100,2465 2098,2463 2102,2428 2078,2406 2065,2434 2063,2433 2061,2432 2059,2430 2058,2429 2056,2428 2054,2426 2048,2385 2023,2372 2020,2409 2018,2408 2016,2408 2014,2407 2013,2406 2011,2406 2009,2405 1993,2362 1970,2359 1977,2401 1976,2401 1974,2401 1972,2401 1971,2401 1969,2401 1967,2402 1943,2361 1924,2368 1941,2411 1940,2412 1938,2413 1937,2413 1936,2414 1935,2415 1933,2416 1903,2382 1890,2399 1915,2438 1914,2440 1913,2441 1912,2443 1912,2444 1911,2446 1910,2448 1877,2424 1871,2448 1901,2480 1901,2482 1901,2484 1901,2486 1900,2488 1900,2491 1900,2493 1867,2481 1869,2510 1902,2533 1902,2535 1902,2537 1903,2540 1903,2542 1904,2544 1904,2547 1875,2548 1884,2580 1916,2590 1917,2593 1918,2595 1919,2598 1920,2600 1921,2603 1922,2605 1899,2620 1915,2651 1943,2648 1944,2650 1946,2652 1947,2655 1949,2657 1950,2659 1952,2661 1937,2688 1958,2716 1980,2699 1982,2701 1983,2703 1985,2705 1987,2707 1989,2709 1990,2711 1986,2746 2010,2768 2023,2740 2025,2741 2027,2742 2029,2744 2030,2745 2032,2746 2034,2748 2040,2789 2065,2802 2068,2765 2070,2766 2072,2766 2074,2767 2076,2768 2077,2768 2079,2769 2095,2812 2119,2815 2111,2773 2113,2773 2114,2773 2116,2773 2117,2773 2119,2773 2121,2772 2145,2813 2164,2806 2147,2763 2148,2762 2150,2761 2151,2761 2152,2760 2153,2759 2155,2758 2185,2792 2199,2775 2173,2736 2174,2734 2175,2733 2176,2731 2176,2730 2177,2728 2178,2726 2211,2750 2218,2726 2187,2694 2187,2692 2187,2690"/>
<polygon class="f" points="1953,2715 1971,2704 1980,2699 1962,2710"/>
<path style="stroke-width:2.7" d="M1953,2715L1962,2710"/>
<polygon class="f" points="1895,2552 1874,2555 1883,2550 1904,2547"/>
<path style="stroke-width:2.7" d="M1874,2555L1883,2550"/>
<polygon class="f" points="2003,2764 2014,2745 2023,2740 2012,2759"/>
<path style="stroke-width:2.7" d="M2003,2764L2012,2759"/>
<polygon class="f" points="1891,2498 1867,2491 1875,2486 1900,2493"/>
<path style="stroke-width:2.7" d="M1867,2491L1875,2486"/>
<polygon class="f" points="2056,2797 2059,2770 2068,2765 2064,2792"/>
<path style="stroke-width:2.7" d="M2056,2797L2064,2792"/>
<polygon class="f" points="1902,2453 1876,2436 1885,2431 1910,2448"/>
<path style="stroke-width:2.7" d="M1876,2436L1885,2431"/>
<polygon class="f" points="2106,2810 2102,2778 2111,2773 2115,2805"/>
<path style="stroke-width:2.7" d="M2106,2810L2115,2805"/>
<polygon class="f" points="1925,2421 1901,2397 1910,2392 1933,2416"/>
<path style="stroke-width:2.7" d="M1901,2397L1910,2392"/>
<polygon class="f" points="2150,2801 2138,2768 2140,2767 2141,2766 2142,2766 2144,2765 2145,2764 2146,2763 2155,2758 2153,2759 2152,2760 2151,2761 2150,2761 2148,2762 2147,2763 2159,2796"/>
<path style="stroke-width:2.7" d="M2150,2801L2159,2796"/>
<polygon class="f" points="1939,2377 1921,2383 1929,2378 1948,2372"/>
<path style="stroke-width:2.7" d="M1939,2377L1948,2372M1921,2383L1929,2378"/>
<polygon class="f" points="2170,2787 2183,2772 2191,2767 2178,2782"/>
<path style="stroke-width:2.7" d="M2170,2787L2178,2782M2183,2772L2191,2767"/>
<polygon class="f" points="1969,2406 1967,2406 1965,2406 1964,2406 1962,2406 1960,2406 1959,2407 1939,2377 1948,2372 1967,2402 1969,2401 1971,2401 1972,2401 1974,2401 1976,2401 1977,2401"/>
<path style="stroke-width:2.7" d="M1939,2377L1948,2372"/>
<polygon class="f" points="2183,2772 2165,2741 2165,2739 2166,2738 2167,2736 2168,2735 2169,2733 2169,2731 2178,2726 2177,2728 2176,2730 2176,2731 2175,2733 2174,2734 2173,2736 2191,2767"/>
<path style="stroke-width:2.7" d="M2183,2772L2191,2767"/>
<polygon class="f" points="1987,2377 1964,2374 1973,2369 1995,2372"/>
<path style="stroke-width:2.7" d="M1987,2377L1995,2372M1964,2374L1973,2369"/>
<polygon class="f" points="2011,2414 2009,2413 2008,2413 2006,2412 2004,2411 2002,2411 2000,2410 1987,2377 1995,2372 2009,2405 2011,2406 2013,2406 2014,2407 2016,2408 2018,2408 2020,2409"/>
<path style="stroke-width:2.7" d="M1987,2377L1995,2372"/>
<polygon class="f" points="2195,2748 2201,2725 2210,2720 2203,2743"/>
<path style="stroke-width:2.7" d="M2195,2748L2203,2743M2201,2725L2210,2720"/>
<polygon class="f" points="2201,2725 2178,2699 2178,2697 2179,2695 2179,2693 2179,2691 2179,2688 2179,2686 2188,2681 2188,2683 2188,2686 2187,2688 2187,2690 2187,2692 2187,2694 2210,2720"/>
<path style="stroke-width:2.7" d="M2201,2725L2210,2720"/>
<polygon class="f" points="2039,2399 2015,2387 2024,2382 2048,2394"/>
<path style="stroke-width:2.7" d="M2039,2399L2048,2394M2015,2387L2024,2382"/>
<polygon class="f" points="2056,2439 2055,2438 2053,2437 2051,2435 2049,2434 2047,2433 2045,2431 2039,2399 2048,2394 2054,2426 2056,2428 2058,2429 2059,2430 2061,2432 2063,2433 2065,2434"/>
<path style="stroke-width:2.7" d="M2039,2399L2048,2394"/>
<polygon class="f" points="2203,2665 2178,2646 2177,2644 2177,2642 2177,2639 2176,2637 2176,2635 2175,2632 2184,2627 2184,2630 2185,2632 2185,2634 2186,2637 2186,2639 2186,2641 2211,2660"/>
<path style="stroke-width:2.7" d="M2203,2665L2211,2660"/>
<polygon class="f" points="2204,2693 2203,2665 2211,2660 2213,2688"/>
<path style="stroke-width:2.7" d="M2204,2693L2213,2688M2203,2665L2211,2660"/>
<polygon class="f" points="2099,2480 2098,2478 2096,2476 2094,2474 2093,2472 2091,2470 2089,2468 2091,2440 2099,2435 2098,2463 2100,2465 2101,2467 2103,2469 2105,2471 2106,2473 2108,2475"/>
<path style="stroke-width:2.7" d="M2091,2440L2099,2435"/>
<polygon class="f" points="2188,2598 2163,2589 2162,2586 2161,2584 2160,2581 2160,2579 2159,2576 2158,2574 2174,2561 2182,2556 2166,2569 2167,2571 2168,2574 2169,2576 2170,2579 2171,2581 2172,2584 2197,2593"/>
<path style="stroke-width:2.7" d="M2188,2598L2197,2593M2174,2561L2182,2556"/>
<polygon class="f" points="2091,2440 2068,2420 2076,2415 2099,2435"/>
<path style="stroke-width:2.7" d="M2091,2440L2099,2435M2068,2420L2076,2415"/>
<polygon class="f" points="2159,2531 2136,2531 2135,2529 2134,2527 2132,2524 2131,2522 2129,2520 2128,2518 2137,2496 2146,2491 2137,2513 2138,2515 2139,2517 2141,2519 2142,2522 2144,2524 2145,2526 2168,2526"/>
<path style="stroke-width:2.7" d="M2159,2531L2168,2526M2137,2496L2146,2491"/>
<polygon class="f" points="2197,2629 2188,2598 2197,2593 2205,2624"/>
<path style="stroke-width:2.7" d="M2197,2629L2205,2624M2188,2598L2197,2593"/>
<polygon class="f" points="2137,2496 2117,2469 2126,2464 2146,2491"/>
<path style="stroke-width:2.7" d="M2137,2496L2146,2491M2117,2469L2126,2464"/>
<polygon class="f" points="2174,2561 2159,2531 2168,2526 2182,2556"/>
<path style="stroke-width:2.7" d="M2174,2561L2182,2556M2159,2531L2168,2526"/>
<polygon class="w" points="2179,2693 2179,2691 2179,2688 2179,2686 2204,2693 2203,2665 2178,2646 2177,2644 2177,2642 2177,2639 2176,2637 2176,2635 2175,2632 2197,2629 2188,2598 2163,2589 2162,2586 2161,2584 2160,2581 2160,2579 2159,2576 2158,2574 2174,2561 2159,2531 2136,2531 2135,2529 2134,2527 2132,2524 2131,2522 2129,2520 2128,2518 2137,2496 2117,2469 2099,2480 2098,2478 2096,2476 2094,2474 2093,2472 2091,2470 2089,2468 2091,2440 2068,2420 2056,2439 2055,2438 2053,2437 2051,2435 2049,2434 2047,2433 2045,2431 2039,2399 2015,2387 2011,2414 2009,2413 2008,2413 2006,2412 2004,2411 2002,2411 2000,2410 1987,2377 1964,2374 1969,2406 1967,2406 1965,2406 1964,2406 1962,2406 1960,2406 1959,2407 1939,2377 1921,2383 1932,2416 1931,2417 1930,2418 1928,2418 1927,2419 1926,2420 1925,2421 1901,2397 1888,2412 1906,2443 1905,2445 1905,2446 1904,2448 1903,2449 1902,2451 1902,2453 1876,2436 1870,2459 1893,2485 1892,2487 1892,2489 1892,2491 1892,2493 1892,2496 1891,2498 1867,2491 1868,2519 1893,2538 1893,2540 1894,2542 1894,2545 1895,2547 1895,2549 1895,2552 1874,2555 1882,2586 1908,2595 1908,2598 1909,2600 1910,2603 1911,2605 1912,2608 1913,2610 1897,2623 1912,2653 1934,2653 1936,2655 1937,2657 1939,2660 1940,2662 1941,2664 1943,2666 1933,2688 1953,2715 1971,2704 1973,2706 1975,2708 1976,2710 1978,2712 1980,2714 1982,2716 1980,2744 2003,2764 2014,2745 2016,2746 2018,2747 2020,2749 2022,2750 2024,2751 2026,2753 2032,2785 2056,2797 2059,2770 2061,2771 2063,2771 2065,2772 2067,2773 2069,2773 2071,2774 2084,2807 2106,2810 2102,2778 2104,2778 2106,2778 2107,2778 2109,2778 2110,2778 2112,2777 2132,2807 2150,2801 2138,2768 2140,2767 2141,2766 2142,2766 2144,2765 2145,2764 2146,2763 2170,2787 2183,2772 2165,2741 2165,2739 2166,2738 2167,2736 2168,2735 2169,2733 2169,2731 2195,2748 2201,2725 2178,2699 2178,2697 2179,2695"/>
<polygon class="f" points="1846,2579 1827,2587 1865,2565 1884,2557"/>
<path d="M1884,2557L1865,2565M1846,2579L1884,2557M1827,2587L1865,2565"/>
<polygon class="f" points="1951,2790 1966,2775 2004,2753 1989,2768"/>
<path d="M1989,2768L2004,2753M1951,2790L1989,2768M1966,2775L2004,2753"/>
<polygon class="f" points="1840,2543 1819,2545 1857,2523 1878,2521"/>
<path d="M1878,2521L1857,2523M1840,2543L1878,2521M1819,2545L1857,2523"/>
<polygon class="f" points="1984,2815 1995,2795 2033,2773 2022,2793"/>
<path d="M2022,2793L2033,2773M1984,2815L2022,2793M1995,2795L2033,2773"/>
<polygon class="f" points="1839,2509 1816,2505 1854,2483 1877,2487"/>
<path d="M1877,2487L1854,2483M1839,2509L1877,2487M1816,2505L1854,2483"/>
<polygon class="f" points="2018,2833 2024,2810 2062,2788 2056,2811"/>
<path d="M2056,2811L2062,2788M2018,2833L2056,2811M2024,2810L2062,2788"/>
<polygon class="f" points="1844,2479 1820,2469 1858,2447 1882,2457"/>
<path d="M1882,2457L1858,2447M1844,2479L1882,2457M1820,2469L1858,2447"/>
<polygon class="f" points="2050,2844 2052,2817 2090,2795 2088,2822"/>
<path d="M2088,2822L2090,2795M2050,2844L2088,2822M2052,2817L2090,2795"/>
<polygon class="f" points="1854,2453 1830,2438 1868,2416 1892,2431"/>
<path d="M1892,2431L1868,2416M1854,2453L1892,2431M1830,2438L1868,2416"/>
<polygon class="f" points="2081,2848 2078,2818 2117,2796 2119,2826"/>
<path d="M2119,2826L2117,2796M2081,2848L2119,2826M2078,2818L2117,2796"/>
<polygon class="f" points="1869,2432 1845,2413 1883,2391 1907,2410"/>
<path d="M1907,2410L1883,2391M1869,2432L1907,2410M1845,2413L1883,2391"/>
<polygon class="f" points="2109,2843 2102,2812 2140,2790 2147,2821"/>
<path d="M2147,2821L2140,2790M2109,2843L2147,2821M2102,2812L2140,2790"/>
<polygon class="f" points="1889,2418 1866,2394 1904,2372 1927,2396"/>
<path d="M1927,2396L1904,2372M1889,2418L1927,2396M1866,2394L1904,2372"/>
<polygon class="f" points="1893,2416 1892,2417 1891,2417 1890,2418 1889,2418 1927,2396 1928,2396 1929,2395 1930,2395 1931,2394"/>
<path d="M1931,2394L1930,2395L1929,2395L1928,2396L1927,2396M1893,2416L1931,2394M1889,2418L1927,2396"/>
<polygon class="f" points="2129,2834 2133,2830 2172,2808 2167,2812"/>
<path d="M2167,2812L2172,2808M2129,2834L2167,2812M2133,2830L2172,2808"/>
<polygon class="f" points="2133,2830 2122,2799 2160,2777 2172,2808"/>
<path d="M2172,2808L2160,2777M2133,2830L2172,2808M2122,2799L2160,2777"/>
<polygon class="f" points="2122,2799 2123,2798 2124,2797 2124,2796 2125,2796 2163,2774 2163,2774 2162,2775 2161,2776 2160,2777"/>
<path d="M2160,2777L2161,2776L2162,2775L2163,2774L2163,2774M2122,2799L2160,2777M2125,2796L2163,2774"/>
<polygon class="f" points="1891,2383 1885,2385 1923,2363 1929,2361"/>
<path d="M1929,2361L1923,2363M1891,2383L1929,2361M1885,2385L1923,2363"/>
<polygon class="f" points="1912,2411 1891,2383 1929,2361 1950,2389"/>
<path d="M1950,2389L1929,2361M1912,2411L1950,2389M1891,2383L1929,2361"/>
<polygon class="f" points="1916,2410 1915,2410 1914,2410 1913,2411 1912,2411 1950,2389 1951,2389 1952,2388 1953,2388 1954,2388"/>
<path d="M1954,2388L1953,2388L1952,2388L1951,2389L1950,2389M1916,2410L1954,2388M1912,2411L1950,2389"/>
<polygon class="f" points="2149,2815 2153,2810 2191,2788 2187,2793"/>
<path d="M2187,2793L2191,2788M2149,2815L2187,2793M2153,2810L2191,2788"/>
<polygon class="f" points="2153,2810 2138,2779 2176,2757 2191,2788"/>
<path d="M2191,2788L2176,2757M2153,2810L2191,2788M2138,2779L2176,2757"/>
<polygon class="f" points="2138,2779 2138,2778 2139,2777 2140,2776 2140,2775 2178,2753 2178,2754 2177,2755 2177,2756 2176,2757"/>
<path d="M2176,2757L2177,2756L2177,2755L2178,2754L2178,2753M2138,2779L2176,2757M2140,2775L2178,2753"/>
<polygon class="f" points="1920,2380 1913,2380 1951,2358 1958,2358"/>
<path d="M1958,2358L1951,2358M1920,2380L1958,2358M1913,2380L1951,2358"/>
<polygon class="f" points="1938,2410 1920,2380 1958,2358 1976,2388"/>
<path d="M1976,2388L1958,2358M1938,2410L1976,2388M1920,2380L1958,2358"/>
<polygon class="f" points="1943,2411 1941,2411 1940,2410 1939,2410 1938,2410 1976,2388 1977,2388 1978,2388 1979,2389 1981,2389"/>
<path d="M1981,2389L1979,2389L1978,2388L1977,2388L1976,2388M1943,2411L1981,2389M1938,2410L1976,2388"/>
<polygon class="f" points="2165,2790 2167,2784 2205,2762 2203,2768"/>
<path d="M2203,2768L2205,2762M2165,2790L2203,2768M2167,2784L2205,2762"/>
<polygon class="f" points="2167,2784 2149,2754 2187,2732 2205,2762"/>
<path d="M2205,2762L2187,2732M2167,2784L2205,2762M2149,2754L2187,2732"/>
<polygon class="f" points="2149,2754 2149,2753 2150,2752 2150,2751 2150,2749 2188,2727 2188,2729 2188,2730 2187,2731 2187,2732"/>
<path d="M2187,2732L2187,2731L2188,2730L2188,2729L2188,2727M2149,2754L2187,2732M2150,2749L2188,2727"/>
<polygon class="f" points="1951,2385 1944,2384 1982,2362 1989,2363"/>
<path d="M1989,2363L1982,2362M1951,2385L1989,2363M1944,2384L1982,2362"/>
<polygon class="f" points="1966,2417 1951,2385 1989,2363 2004,2395"/>
<path d="M2004,2395L1989,2363M1966,2417L2004,2395M1951,2385L1989,2363"/>
<polygon class="f" points="1971,2418 1969,2418 1968,2417 1967,2417 1966,2417 2004,2395 2005,2395 2006,2395 2008,2396 2009,2396"/>
<path d="M2009,2396L2008,2396L2006,2395L2005,2395L2004,2395M1971,2418L2009,2396M1966,2417L2004,2395"/>
<polygon class="f" points="2155,2725 2155,2723 2155,2722 2155,2720 2155,2719 2193,2697 2193,2698 2193,2700 2193,2701 2193,2703"/>
<path d="M2193,2703L2193,2701L2193,2700L2193,2698L2193,2697M2155,2725L2193,2703M2155,2719L2193,2697"/>
<polygon class="f" points="2176,2751 2155,2725 2193,2703 2214,2729"/>
<path d="M2214,2729L2193,2703M2176,2751L2214,2729M2155,2725L2193,2703"/>
<polygon class="f" points="2174,2759 2176,2751 2214,2729 2213,2737"/>
<path d="M2213,2737L2214,2729M2174,2759L2213,2737M2176,2751L2214,2729"/>
<polygon class="f" points="2000,2433 1999,2432 1997,2431 1996,2430 1995,2430 2033,2408 2034,2408 2035,2409 2037,2410 2038,2411"/>
<path d="M2038,2411L2037,2410L2035,2409L2034,2408L2033,2408M2000,2433L2038,2411M1995,2430L2033,2408"/>
<polygon class="f" points="1995,2430 1984,2398 2022,2376 2033,2408"/>
<path d="M2033,2408L2022,2376M1995,2430L2033,2408M1984,2398L2022,2376"/>
<polygon class="f" points="1984,2398 1977,2395 2015,2373 2022,2376"/>
<path d="M2022,2376L2015,2373M1984,2398L2022,2376M1977,2395L2015,2373"/>
<polygon class="f" points="2155,2691 2155,2690 2155,2688 2155,2687 2155,2685 2193,2663 2193,2665 2193,2666 2193,2668 2193,2669"/>
<path d="M2193,2669L2193,2668L2193,2666L2193,2665L2193,2663M2155,2691L2193,2669M2155,2685L2193,2663"/>
<polygon class="f" points="2178,2714 2155,2691 2193,2669 2216,2692"/>
<path d="M2216,2692L2193,2669M2178,2714L2216,2692M2155,2691L2193,2669"/>
<polygon class="f" points="2178,2723 2178,2714 2216,2692 2216,2701"/>
<path d="M2216,2701L2216,2692M2178,2723L2216,2701M2178,2714L2216,2692"/>
<polygon class="f" points="2029,2453 2028,2452 2026,2451 2025,2450 2024,2449 2062,2427 2063,2428 2064,2429 2066,2430 2067,2431"/>
<path d="M2067,2431L2066,2430L2064,2429L2063,2428L2062,2427M2029,2453L2067,2431M2024,2449L2062,2427"/>
<polygon class="f" points="2024,2449 2018,2418 2056,2396 2062,2427"/>
<path d="M2062,2427L2056,2396M2024,2449L2062,2427M2018,2418L2056,2396"/>
<polygon class="f" points="2150,2655 2150,2654 2150,2652 2149,2650 2149,2649 2187,2627 2187,2628 2188,2630 2188,2632 2188,2633"/>
<path d="M2188,2633L2188,2632L2188,2630L2187,2628L2187,2627M2150,2655L2188,2633M2149,2649L2187,2627"/>
<polygon class="f" points="2018,2418 2010,2413 2048,2391 2056,2396"/>
<path d="M2056,2396L2048,2391M2018,2418L2056,2396M2010,2413L2048,2391"/>
<polygon class="f" points="2174,2674 2150,2655 2188,2633 2213,2652"/>
<path d="M2213,2652L2188,2633M2174,2674L2213,2652M2150,2655L2188,2633"/>
<polygon class="f" points="2057,2479 2056,2478 2054,2476 2053,2475 2052,2474 2090,2452 2091,2453 2093,2454 2094,2456 2095,2457"/>
<path d="M2095,2457L2094,2456L2093,2454L2091,2453L2090,2452M2057,2479L2095,2457M2052,2474L2090,2452"/>
<polygon class="f" points="2176,2683 2174,2674 2213,2652 2214,2661"/>
<path d="M2214,2661L2213,2652M2176,2683L2214,2661M2174,2674L2213,2652"/>
<polygon class="f" points="2140,2618 2140,2616 2139,2614 2138,2613 2138,2611 2176,2589 2177,2591 2177,2592 2178,2594 2178,2596"/>
<path d="M2178,2596L2178,2594L2177,2592L2177,2591L2176,2589M2140,2618L2178,2596M2138,2611L2176,2589"/>
<polygon class="f" points="2052,2474 2050,2445 2088,2423 2090,2452"/>
<path d="M2090,2452L2088,2423M2052,2474L2090,2452M2050,2445L2088,2423"/>
<polygon class="f" points="2083,2510 2082,2508 2081,2507 2080,2505 2078,2504 2117,2482 2118,2483 2119,2485 2120,2486 2121,2488"/>
<path d="M2121,2488L2120,2486L2119,2485L2118,2483L2117,2482M2083,2510L2121,2488M2078,2504L2117,2482"/>
<polygon class="f" points="2125,2580 2124,2578 2124,2577 2123,2575 2122,2573 2160,2551 2161,2553 2162,2555 2163,2556 2163,2558"/>
<path d="M2163,2558L2163,2556L2162,2555L2161,2553L2160,2551M2125,2580L2163,2558M2122,2573L2160,2551"/>
<polygon class="f" points="2050,2445 2043,2438 2081,2416 2088,2423"/>
<path d="M2088,2423L2081,2416M2050,2445L2088,2423M2043,2438L2081,2416"/>
<polygon class="f" points="2165,2631 2140,2618 2178,2596 2203,2609"/>
<path d="M2203,2609L2178,2596M2165,2631L2203,2609M2140,2618L2178,2596"/>
<polygon class="f" points="2075,2470 2057,2479 2095,2457 2113,2448"/>
<path d="M2113,2448L2095,2457M2075,2470L2113,2448M2057,2479L2095,2457"/>
<polygon class="f" points="2106,2544 2105,2542 2104,2540 2103,2539 2102,2537 2140,2515 2141,2517 2142,2518 2143,2520 2144,2522"/>
<path d="M2144,2522L2143,2520L2142,2518L2141,2517L2140,2515M2106,2544L2144,2522M2102,2537L2140,2515"/>
<polygon class="f" points="2078,2504 2081,2477 2119,2455 2117,2482"/>
<path d="M2117,2482L2119,2455M2078,2504L2117,2482M2081,2477L2119,2455"/>
<polygon class="f" points="2138,2611 2153,2598 2191,2576 2176,2589"/>
<path d="M2176,2589L2191,2576M2138,2611L2176,2589M2153,2598L2191,2576"/>
<polygon class="f" points="2167,2641 2165,2631 2203,2609 2205,2619"/>
<path d="M2205,2619L2203,2609M2167,2641L2205,2619M2165,2631L2203,2609"/>
<polygon class="f" points="2149,2588 2125,2580 2163,2558 2187,2566"/>
<path d="M2187,2566L2163,2558M2149,2588L2187,2566M2125,2580L2163,2558"/>
<polygon class="f" points="2103,2506 2083,2510 2121,2488 2142,2484"/>
<path d="M2142,2484L2121,2488M2103,2506L2142,2484M2083,2510L2121,2488"/>
<polygon class="f" points="2102,2537 2109,2514 2147,2492 2140,2515"/>
<path d="M2140,2515L2147,2492M2102,2537L2140,2515M2109,2514L2147,2492"/>
<polygon class="f" points="2122,2573 2133,2555 2172,2533 2160,2551"/>
<path d="M2160,2551L2172,2533M2122,2573L2160,2551M2133,2555L2172,2533"/>
<polygon class="f" points="2129,2546 2106,2544 2144,2522 2167,2524"/>
<path d="M2167,2524L2144,2522M2129,2546L2167,2524M2106,2544L2144,2522"/>
<polygon class="f" points="2081,2477 2075,2470 2113,2448 2119,2455"/>
<path d="M2119,2455L2113,2448M2081,2477L2119,2455M2075,2470L2113,2448"/>
<polygon class="f" points="2153,2598 2149,2588 2187,2566 2191,2576"/>
<path d="M2191,2576L2187,2566M2153,2598L2191,2576M2149,2588L2187,2566"/>
<polygon class="f" points="2109,2514 2103,2506 2142,2484 2147,2492"/>
<path d="M2147,2492L2142,2484M2109,2514L2147,2492M2103,2506L2142,2484"/>
<polygon class="f" points="2133,2555 2129,2546 2167,2524 2172,2533"/>
<path d="M2172,2533L2167,2524M2133,2555L2172,2533M2129,2546L2167,2524"/>
<polygon class="w" points="2155,2722 2155,2720 2155,2719 2178,2723 2178,2714 2155,2691 2155,2690 2155,2688 2155,2687 2155,2685 2176,2683 2174,2674 2150,2655 2150,2654 2150,2652 2149,2650 2149,2649 2167,2641 2165,2631 2140,2618 2140,2616 2139,2614 2138,2613 2138,2611 2153,2598 2149,2588 2125,2580 2124,2578 2124,2577 2123,2575 2122,2573 2133,2555 2129,2546 2106,2544 2105,2542 2104,2540 2103,2539 2102,2537 2109,2514 2103,2506 2083,2510 2082,2508 2081,2507 2080,2505 2078,2504 2081,2477 2075,2470 2057,2479 2056,2478 2054,2476 2053,2475 2052,2474 2050,2445 2043,2438 2029,2453 2028,2452 2026,2451 2025,2450 2024,2449 2018,2418 2010,2413 2000,2433 1999,2432 1997,2431 1996,2430 1995,2430 1984,2398 1977,2395 1971,2418 1969,2418 1968,2417 1967,2417 1966,2417 1951,2385 1944,2384 1943,2411 1941,2411 1940,2410 1939,2410 1938,2410 1920,2380 1913,2380 1916,2410 1915,2410 1914,2410 1913,2411 1912,2411 1891,2383 1885,2385 1893,2416 1892,2417 1891,2417 1890,2418 1889,2418 1866,2394 1861,2398 1872,2429 1872,2430 1871,2431 1870,2432 1869,2432 1845,2413 1841,2418 1857,2449 1856,2450 1855,2451 1855,2452 1854,2453 1830,2438 1827,2444 1846,2474 1845,2475 1845,2476 1845,2477 1844,2479 1820,2469 1819,2477 1840,2503 1840,2505 1840,2506 1839,2508 1839,2509 1816,2505 1816,2514 1839,2537 1839,2538 1840,2540 1840,2541 1840,2543 1819,2545 1820,2554 1844,2573 1845,2574 1845,2576 1845,2578 1846,2579 1827,2587 1830,2597 1854,2610 1855,2612 1855,2614 1856,2615 1857,2617 1841,2630 1845,2640 1869,2648 1870,2650 1871,2651 1872,2653 1872,2655 1861,2673 1866,2682 1889,2684 1890,2686 1891,2688 1892,2689 1893,2691 1885,2714 1891,2722 1912,2718 1913,2720 1914,2721 1915,2723 1916,2724 1913,2751 1920,2758 1938,2749 1939,2750 1940,2752 1941,2753 1943,2754 1944,2783 1951,2790 1966,2775 1967,2776 1968,2777 1969,2778 1971,2779 1977,2810 1984,2815 1995,2795 1996,2796 1997,2797 1999,2798 2000,2798 2010,2830 2018,2833 2024,2810 2025,2810 2026,2811 2028,2811 2029,2811 2043,2843 2050,2844 2052,2817 2053,2817 2054,2818 2056,2818 2057,2818 2075,2848 2081,2848 2078,2818 2080,2818 2081,2818 2082,2817 2083,2817 2103,2845 2109,2843 2102,2812 2103,2811 2104,2811 2105,2810 2106,2810 2129,2834 2133,2830 2122,2799 2123,2798 2124,2797 2124,2796 2125,2796 2149,2815 2153,2810 2138,2779 2138,2778 2139,2777 2140,2776 2140,2775 2165,2790 2167,2784 2149,2754 2149,2753 2150,2752 2150,2751 2150,2749 2174,2759 2176,2751 2155,2725 2155,2723"/>
<path d="M2105,2800A215,124 60 1 0 1890,2428A215,124 60 1 0 2105,2800Z"/>
<path d="M2090,2774A185,107 60 1 0 1905,2454A185,107 60 1 0 2090,2774Z"/>
<path class="w" d="M1897,2499 A150,87 60 0 0 1897,2672 A150,87 60 0 0 2047,2758 L2072,2744 A150,87 60 0 0 2072,2571 A150,87 60 0 0 1922,2484 Z"/>
<path class="w" d="M2047,2758A150,87 60 1 0 1897,2499A150,87 60 1 0 2047,2758Z"/>
<path d="M2035,2737A125,72 60 1 0 1910,2520A125,72 60 1 0 2035,2737Z"/>
<path class="w" d="M1803,2629 A84,48 60 0 0 1803,2726 A84,48 60 0 0 1887,2775 L2014,2701 A84,48 60 0 0 2014,2604 A84,48 60 0 0 1930,2556 Z"/>
<path class="w" d="M1781,2639 A87,50 60 0 0 1781,2739 A87,50 60 0 0 1868,2789 L1888,2777 A87,50 60 0 0 1888,2677 A87,50 60 0 0 1801,2627 Z"/>
<path class="w" d="M1868,2789A87,50 60 1 0 1781,2639A87,50 60 1 0 1868,2789Z"/>
<polygon class="f" points="1684,2787 1677,2790 1780,2730 1787,2728"/>
<path d="M1787,2728L1780,2730M1684,2787L1787,2728M1677,2790L1780,2730"/>
<polygon class="f" points="1685,2803 1691,2799 1794,2739 1788,2744"/>
<path d="M1788,2744L1794,2739M1685,2803L1788,2744M1691,2799L1794,2739"/>
<polygon class="f" points="1705,2827 1707,2819 1810,2759 1808,2767"/>
<path d="M1808,2767L1810,2759M1705,2827L1808,2767M1707,2819L1810,2759"/>
<polygon class="f" points="1675,2763 1667,2761 1770,2702 1778,2704"/>
<path d="M1778,2704L1770,2702M1675,2763L1778,2704M1667,2761L1770,2702"/>
<polygon class="f" points="1727,2842 1726,2831 1829,2772 1830,2782"/>
<path d="M1830,2782L1829,2772M1727,2842L1830,2782M1726,2831L1829,2772"/>
<polygon class="f" points="1673,2740 1665,2735 1768,2675 1776,2681"/>
<path d="M1776,2681L1768,2675M1673,2740L1776,2681M1665,2735L1768,2675"/>
<polygon class="f" points="1748,2847 1744,2836 1847,2776 1851,2787"/>
<path d="M1851,2787L1847,2776M1748,2847L1851,2787M1744,2836L1847,2776"/>
<polygon class="f" points="1679,2723 1671,2714 1774,2654 1782,2663"/>
<path d="M1782,2663L1774,2654M1679,2723L1782,2663M1671,2714L1774,2654"/>
<polygon class="f" points="1765,2840 1758,2830 1861,2771 1868,2781"/>
<path d="M1868,2781L1861,2771M1765,2840L1868,2781M1758,2830L1861,2771"/>
<polygon class="f" points="1691,2713 1685,2702 1788,2643 1794,2653"/>
<path d="M1794,2653L1788,2643M1691,2713L1794,2653M1685,2702L1788,2643"/>
<polygon class="f" points="1758,2830 1761,2827 1763,2824 1866,2765 1864,2768 1861,2771"/>
<path d="M1861,2771L1864,2768L1866,2765M1758,2830L1861,2771M1763,2824L1866,2765"/>
<polygon class="f" points="1698,2711 1694,2712 1691,2713 1794,2653 1797,2652 1801,2652"/>
<path d="M1801,2652L1797,2652L1794,2653M1698,2711L1801,2652M1691,2713L1794,2653"/>
<polygon class="f" points="1771,2833 1775,2824 1878,2764 1874,2774"/>
<path d="M1874,2774L1878,2764M1771,2833L1874,2774M1775,2824L1878,2764"/>
<polygon class="f" points="1705,2702 1694,2700 1797,2641 1808,2642"/>
<path d="M1808,2642L1797,2641M1705,2702L1808,2642M1694,2700L1797,2641"/>
<polygon class="f" points="1775,2824 1767,2816 1870,2757 1878,2764"/>
<path d="M1878,2764L1870,2757M1775,2824L1878,2764M1767,2816L1870,2757"/>
<polygon class="f" points="1707,2712 1705,2702 1808,2642 1810,2653"/>
<path d="M1810,2653L1808,2642M1707,2712L1810,2653M1705,2702L1808,2642"/>
<polygon class="f" points="1767,2816 1768,2812 1769,2807 1872,2747 1871,2752 1870,2757"/>
<path d="M1870,2757L1871,2752L1872,2747M1767,2816L1870,2757M1769,2807L1872,2747"/>
<polygon class="f" points="1716,2716 1712,2714 1707,2712 1810,2653 1815,2654 1819,2656"/>
<path d="M1819,2656L1815,2654L1810,2653M1716,2716L1819,2656M1707,2712L1810,2653"/>
<polygon class="f" points="1777,2812 1777,2800 1880,2740 1880,2753"/>
<path d="M1880,2753L1880,2740M1777,2812L1880,2753M1777,2800L1880,2740"/>
<polygon class="f" points="1727,2712 1715,2705 1819,2646 1830,2652"/>
<path d="M1830,2652L1819,2646M1727,2712L1830,2652M1715,2705L1819,2646"/>
<polygon class="f" points="1769,2796 1768,2790 1767,2784 1870,2724 1871,2730 1872,2736"/>
<path d="M1872,2736L1871,2730L1870,2724M1769,2796L1872,2736M1767,2784L1870,2724"/>
<polygon class="f" points="1735,2728 1730,2724 1726,2721 1829,2661 1833,2665 1838,2669"/>
<path d="M1838,2669L1833,2665L1829,2661M1735,2728L1838,2669M1726,2721L1829,2661"/>
<polygon class="f" points="1777,2800 1769,2796 1872,2736 1880,2740"/>
<path d="M1880,2740L1872,2736M1777,2800L1880,2740M1769,2796L1872,2736"/>
<polygon class="f" points="1726,2721 1727,2712 1830,2652 1829,2661"/>
<path d="M1829,2661L1830,2652M1726,2721L1829,2661M1727,2712L1830,2652"/>
<polygon class="f" points="1763,2772 1761,2766 1758,2760 1861,2700 1864,2706 1866,2712"/>
<path d="M1866,2712L1864,2706L1861,2700M1763,2772L1866,2712M1758,2760L1861,2700"/>
<polygon class="f" points="1752,2748 1748,2743 1744,2738 1847,2678 1851,2683 1855,2689"/>
<path d="M1855,2689L1851,2683L1847,2678M1752,2748L1855,2689M1744,2738L1847,2678"/>
<polygon class="f" points="1771,2772 1763,2772 1866,2712 1874,2712"/>
<path d="M1874,2712L1866,2712M1771,2772L1874,2712M1763,2772L1866,2712"/>
<polygon class="f" points="1744,2738 1748,2731 1851,2672 1847,2678"/>
<path d="M1847,2678L1851,2672M1744,2738L1847,2678M1748,2731L1851,2672"/>
<polygon class="f" points="1775,2786 1771,2772 1874,2712 1878,2726"/>
<path d="M1878,2726L1874,2712M1775,2786L1878,2726M1771,2772L1874,2712"/>
<polygon class="f" points="1748,2731 1737,2720 1840,2661 1851,2672"/>
<path d="M1851,2672L1840,2661M1748,2731L1851,2672M1737,2720L1840,2661"/>
<polygon class="f" points="1765,2757 1757,2744 1860,2684 1868,2698"/>
<path d="M1868,2698L1860,2684M1765,2757L1868,2698M1757,2744L1860,2684"/>
<polygon class="w" points="1768,2812 1769,2807 1777,2812 1777,2800 1769,2796 1768,2790 1767,2784 1775,2786 1771,2772 1763,2772 1761,2766 1758,2760 1765,2757 1757,2744 1752,2748 1748,2743 1744,2738 1748,2731 1737,2720 1735,2728 1730,2724 1726,2721 1727,2712 1715,2705 1716,2716 1712,2714 1707,2712 1705,2702 1694,2700 1698,2711 1694,2712 1691,2713 1685,2702 1677,2707 1684,2717 1681,2720 1679,2723 1671,2714 1667,2723 1675,2731 1674,2735 1673,2740 1665,2735 1665,2747 1673,2751 1674,2757 1675,2763 1667,2761 1671,2775 1679,2775 1681,2781 1684,2787 1677,2790 1685,2803 1691,2799 1694,2804 1698,2809 1694,2816 1705,2827 1707,2819 1712,2823 1716,2826 1715,2835 1727,2842 1726,2831 1730,2833 1735,2835 1737,2845 1748,2847 1744,2836 1748,2835 1752,2834 1757,2845 1765,2840 1758,2830 1761,2827 1763,2824 1771,2833 1775,2824 1767,2816"/>
<path class="w" d="M1641,2748 A62,36 60 0 0 1641,2820 A62,36 60 0 0 1703,2856 L1752,2827 A62,36 60 0 0 1752,2756 A62,36 60 0 0 1690,2720 Z"/>
<polyline style="stroke-width:2.7" points="1713,2850 1715,2848 1717,2846 1719,2844 1721,2841 1723,2837 1724,2834 1725,2830 1725,2826 1725,2822 1725,2817 1725,2812 1724,2808 1723,2803 1721,2798 1719,2793 1717,2788 1715,2783 1713,2778 1710,2774 1707,2769 1703,2765 1700,2761 1697,2757 1693,2754 1689,2751 1685,2748 1682,2746 1678,2744 1674,2742 1670,2741 1667,2740 1663,2740 1660,2740 1656,2740 1653,2741 1651,2743"/>
<polyline style="stroke-width:2.7" points="1722,2844 1725,2843 1727,2840 1729,2838 1731,2835 1733,2832 1734,2828 1735,2824 1735,2820 1735,2816 1735,2811 1735,2807 1734,2802 1733,2797 1731,2792 1729,2787 1727,2782 1725,2777 1722,2773 1720,2768 1717,2764 1713,2759 1710,2755 1706,2752 1703,2748 1699,2745 1695,2742 1691,2740 1688,2738 1684,2736 1680,2735 1676,2734 1673,2734 1669,2734 1666,2735 1663,2736 1660,2737"/>
<polyline style="stroke-width:2.7" points="1732,2839 1735,2837 1737,2835 1739,2832 1741,2829 1742,2826 1744,2822 1744,2819 1745,2815 1745,2810 1745,2806 1744,2801 1744,2796 1742,2791 1741,2786 1739,2782 1737,2777 1735,2772 1732,2767 1729,2762 1726,2758 1723,2754 1720,2750 1716,2746 1713,2743 1709,2739 1705,2737 1701,2734 1697,2732 1694,2731 1690,2729 1686,2729 1683,2728 1679,2728 1676,2729 1673,2730 1670,2731"/>
<polyline style="stroke-width:2.7" points="1742,2833 1745,2831 1747,2829 1749,2826 1751,2824 1752,2820 1753,2817 1754,2813 1755,2809 1755,2805 1755,2800 1754,2795 1753,2791 1752,2786 1751,2781 1749,2776 1747,2771 1745,2766 1742,2761 1739,2757 1736,2752 1733,2748 1730,2744 1726,2740 1722,2737 1719,2734 1715,2731 1711,2729 1707,2727 1704,2725 1700,2724 1696,2723 1693,2723 1689,2723 1686,2723 1683,2724 1680,2726"/>
<path class="w" d="M1703,2856A62,36 60 1 0 1641,2748A62,36 60 1 0 1703,2856Z"/>
<path style="stroke-width:2.7" d="M1694,2840A44,25 60 1 0 1650,2764A44,25 60 1 0 1694,2840Z"/>
<path style="stroke-width:2.7" d="M1691,2835A38,22 60 1 0 1653,2769A38,22 60 1 0 1691,2835Z"/>
<polygon class="f" points="500,3592 513,3582 540,3566 528,3576"/>
<path d="M528,3576L540,3566M500,3592L528,3576"/>
<polygon class="f" points="412,3398 396,3401 424,3385 439,3382"/>
<path d="M439,3382L424,3385M396,3401L424,3385"/>
<polygon class="f" points="568,3651 575,3634 580,3627 584,3623 612,3607 607,3611 602,3618 596,3635"/>
<path d="M596,3635L602,3618L607,3611L612,3607M568,3651L596,3635"/>
<polygon class="f" points="417,3318 411,3319 402,3319 383,3315 411,3299 430,3303 438,3303 444,3302"/>
<path d="M444,3302L438,3303L430,3303L411,3299M383,3315L411,3299"/>
<polygon class="f" points="638,3684 638,3662 640,3652 642,3645 645,3641 673,3625 670,3629 667,3636 665,3646 666,3668"/>
<path d="M666,3668L665,3646L667,3636L670,3629L673,3625M638,3684L666,3668"/>
<polygon class="f" points="436,3261 431,3261 424,3259 414,3254 395,3242 423,3226 442,3238 452,3243 459,3245 464,3245"/>
<path d="M464,3245L459,3245L452,3243L442,3238L423,3226M395,3242L423,3226"/>
<polygon class="f" points="701,3686 694,3662 693,3649 693,3641 694,3635 696,3632 724,3616 722,3619 720,3625 721,3633 722,3646 729,3670"/>
<path d="M729,3670L722,3646L721,3633L720,3625L722,3619L724,3616M701,3686L729,3670"/>
<polygon class="f" points="473,3226 469,3226 464,3224 456,3219 447,3211 429,3191 457,3175 475,3195 484,3203 491,3208 497,3210 501,3210"/>
<path d="M501,3210L497,3210L491,3208L484,3203L475,3195L457,3175M429,3191L457,3175"/>
<polygon class="f" points="740,3667 750,3657 778,3641 768,3651"/>
<path d="M768,3651L778,3641M740,3667L768,3651M750,3657L778,3641"/>
<polygon class="f" points="483,3169 468,3172 496,3156 510,3153"/>
<path d="M510,3153L496,3156M483,3169L510,3153M468,3172L496,3156"/>
<polygon class="f" points="750,3657 738,3633 733,3620 730,3611 730,3604 731,3600 734,3597 761,3581 759,3584 757,3588 758,3595 761,3604 766,3617 778,3641"/>
<path d="M778,3641L766,3617L761,3604L758,3595L757,3588L759,3584L761,3581M750,3657L778,3641"/>
<polygon class="f" points="525,3217 521,3218 517,3216 511,3211 505,3204 496,3193 483,3169 510,3153 524,3177 532,3188 539,3195 544,3200 549,3202 552,3201"/>
<path d="M552,3201L549,3202L544,3200L539,3195L532,3188L524,3177L510,3153M483,3169L510,3153"/>
<polygon class="f" points="775,3616 780,3601 807,3585 802,3600"/>
<path d="M802,3600L807,3585M775,3616L802,3600M780,3601L807,3585"/>
<polygon class="f" points="780,3601 763,3580 755,3568 751,3559 748,3552 748,3547 749,3543 753,3540 781,3524 777,3527 775,3531 776,3536 778,3543 783,3552 791,3564 807,3585"/>
<path d="M807,3585L791,3564L783,3552L778,3543L776,3536L775,3531L777,3527L781,3524M780,3601L807,3585"/>
<polygon class="f" points="548,3179 532,3174 559,3158 576,3163"/>
<path d="M576,3163L559,3158M548,3179L576,3163M532,3174L559,3158"/>
<polygon class="f" points="585,3235 581,3236 577,3235 572,3232 567,3225 562,3216 556,3204 548,3179 576,3163 584,3188 590,3200 595,3209 600,3216 604,3219 609,3220 613,3219"/>
<path d="M613,3219L609,3220L604,3219L600,3216L595,3209L590,3200L584,3188L576,3163M548,3179L576,3163"/>
<polygon class="f" points="785,3524 767,3509 757,3499 751,3492 747,3485 745,3479 745,3474 747,3469 751,3465 758,3460 786,3444 779,3449 775,3453 772,3458 772,3463 774,3469 779,3476 785,3483 794,3493 813,3508"/>
<path d="M813,3508L794,3493L785,3483L779,3476L774,3469L772,3463L772,3458L775,3453L779,3449L786,3444M785,3524L813,3508"/>
<polygon class="f" points="786,3543 785,3524 813,3508 814,3527"/>
<path d="M814,3527L813,3508M786,3543L814,3527M785,3524L813,3508"/>
<polygon class="f" points="657,3276 649,3279 643,3280 638,3279 633,3276 629,3271 626,3264 623,3254 620,3242 618,3219 646,3203 648,3226 650,3238 654,3248 657,3255 661,3260 665,3263 671,3264 677,3263 685,3260"/>
<path d="M685,3260L677,3263L671,3264L665,3263L661,3260L657,3255L654,3248L650,3238L648,3226L646,3203M618,3219L646,3203"/>
<polygon class="f" points="618,3219 601,3207 629,3191 646,3203"/>
<path d="M646,3203L629,3191M618,3219L646,3203M601,3207L629,3191"/>
<polygon class="f" points="767,3435 748,3428 738,3422 731,3417 726,3411 723,3406 721,3400 721,3394 723,3387 727,3378 738,3367 766,3351 755,3362 751,3371 749,3378 749,3384 750,3390 754,3395 759,3401 766,3406 776,3412 795,3419"/>
<path d="M795,3419L776,3412L766,3406L759,3401L754,3395L750,3390L749,3384L749,3378L751,3371L755,3362L766,3351M767,3435L795,3419M738,3367L766,3351"/>
<polygon class="f" points="727,3346 710,3347 701,3346 694,3343 688,3340 684,3335 681,3329 679,3322 679,3314 679,3302 684,3284 712,3268 707,3286 706,3298 707,3306 709,3313 712,3319 716,3324 721,3327 728,3330 738,3331 754,3330"/>
<path d="M754,3330L738,3331L728,3330L721,3327L716,3324L712,3319L709,3313L707,3306L706,3298L707,3286L712,3268M727,3346L754,3330M684,3284L712,3268"/>
<polygon class="f" points="774,3457 767,3435 795,3419 801,3441"/>
<path d="M801,3441L795,3419M774,3457L801,3441M767,3435L795,3419"/>
<polygon class="f" points="684,3284 669,3266 697,3250 712,3268"/>
<path d="M712,3268L697,3250M684,3284L712,3268M669,3266L697,3250"/>
<polygon class="f" points="738,3367 727,3346 754,3330 766,3351"/>
<path d="M766,3351L754,3330M738,3367L766,3351M727,3346L754,3330"/>
<polygon class="w" points="786,3543 785,3524 767,3509 757,3499 751,3492 747,3485 745,3479 745,3474 747,3469 751,3465 758,3460 774,3457 767,3435 748,3428 738,3422 731,3417 726,3411 723,3406 721,3400 721,3394 723,3387 727,3378 738,3367 727,3346 710,3347 701,3346 694,3343 688,3340 684,3335 681,3329 679,3322 679,3314 679,3302 684,3284 669,3266 657,3276 649,3279 643,3280 638,3279 633,3276 629,3271 626,3264 623,3254 620,3242 618,3219 601,3207 595,3224 590,3231 585,3235 581,3236 577,3235 572,3232 567,3225 562,3216 556,3204 548,3179 532,3174 532,3196 530,3206 528,3213 525,3217 521,3218 517,3216 511,3211 505,3204 496,3193 483,3169 468,3172 475,3196 477,3209 477,3217 476,3223 473,3226 469,3226 464,3224 456,3219 447,3211 429,3191 419,3201 432,3225 437,3238 439,3247 440,3254 439,3258 436,3261 431,3261 424,3259 414,3254 395,3242 390,3257 407,3278 414,3290 419,3299 422,3306 422,3311 420,3315 417,3318 411,3319 402,3319 383,3315 384,3334 403,3349 412,3359 419,3366 423,3373 425,3379 425,3384 423,3389 419,3393 412,3398 396,3401 403,3423 421,3430 431,3436 439,3441 444,3447 447,3452 448,3458 448,3464 446,3471 442,3480 431,3491 443,3512 459,3511 469,3512 476,3515 482,3518 486,3523 489,3529 490,3536 491,3544 490,3556 485,3574 500,3592 513,3582 520,3579 527,3578 532,3579 536,3582 540,3587 544,3594 547,3604 550,3616 551,3639 568,3651 575,3634 580,3627 584,3623 589,3622 593,3623 597,3626 602,3633 607,3642 613,3654 621,3679 638,3684 638,3662 640,3652 642,3645 645,3641 649,3640 653,3642 658,3647 665,3654 673,3665 687,3689 701,3686 694,3662 693,3649 693,3641 694,3635 696,3632 700,3632 706,3634 713,3639 723,3647 740,3667 750,3657 738,3633 733,3620 730,3611 730,3604 731,3600 734,3597 739,3597 746,3599 756,3604 775,3616 780,3601 763,3580 755,3568 751,3559 748,3552 748,3547 749,3543 753,3540 759,3539 768,3539"/>
<path d="M700,3629A231,133 60 1 0 469,3229A231,133 60 1 0 700,3629Z"/>
<path d="M680,3594A190,110 60 1 0 490,3264A190,110 60 1 0 680,3594Z"/>
<path d="M677,3588A184,106 60 1 0 493,3270A184,106 60 1 0 677,3588Z"/>
<path d="M710,3485A21,12 60 1 0 689,3448A21,12 60 1 0 710,3485Z"/>
<path d="M675,3387A21,12 60 1 0 654,3350A21,12 60 1 0 675,3387Z"/>
<path d="M603,3319A21,12 60 1 0 582,3282A21,12 60 1 0 603,3319Z"/>
<path d="M536,3320A21,12 60 1 0 515,3284A21,12 60 1 0 536,3320Z"/>
<path d="M513,3391A21,12 60 1 0 492,3354A21,12 60 1 0 513,3391Z"/>
<path d="M548,3489A21,12 60 1 0 527,3452A21,12 60 1 0 548,3489Z"/>
<path d="M620,3557A21,12 60 1 0 599,3520A21,12 60 1 0 620,3557Z"/>
<path d="M688,3555A21,12 60 1 0 667,3519A21,12 60 1 0 688,3555Z"/>
<path class="w" d="M656,3515A110,64 60 1 0 546,3324A110,64 60 1 0 656,3515Z"/>
<path d="M653,3510A104,60 60 1 0 549,3329A104,60 60 1 0 653,3510Z"/>
<polygon class="w" points="657,3460 658,3452 648,3444 647,3438 657,3439 655,3430 652,3420 642,3418 640,3411 646,3406 642,3397 636,3389 629,3392 624,3386 627,3376 621,3369 614,3363 610,3371 605,3368 603,3355 596,3351 589,3349 589,3360 584,3359 578,3347 572,3347 566,3348 571,3361 567,3363 558,3352 554,3357 550,3362 558,3374 557,3378 546,3372 545,3379 545,3387 555,3395 555,3401 546,3400 548,3409 550,3419 560,3421 563,3428 556,3433 561,3442 566,3450 574,3447 578,3453 575,3463 582,3470 589,3476 593,3468 598,3471 600,3484 607,3488 614,3490 614,3479 618,3480 624,3492 631,3492 637,3491 632,3478 636,3476 645,3487 649,3482 652,3477 644,3465 646,3461 656,3467"/>
<clipPath id="sprb"><polygon points="648,3446 648,3439 646,3432 644,3424 642,3416 638,3408 634,3400 630,3393 625,3386 619,3380 613,3374 607,3370 601,3366 595,3363 589,3360 583,3359 578,3359 573,3360 568,3362 564,3365 561,3369 558,3374 556,3380 555,3386 555,3393 555,3400 556,3407 558,3415 561,3423 564,3431 568,3439 573,3446 578,3453 583,3459 589,3465 595,3469 601,3473 607,3476 613,3479 619,3480 625,3480 630,3479 634,3477 638,3474 642,3470 644,3465 646,3459 648,3453"/></clipPath>
<g clip-path="url(#sprb)"><polygon style="stroke-width:3" points="693,3440 693,3432 683,3423 683,3417 692,3418 690,3409 688,3400 678,3397 675,3391 682,3386 677,3377 672,3368 664,3371 660,3366 663,3356 656,3349 649,3343 645,3351 640,3347 638,3335 631,3331 624,3328 624,3340 620,3339 614,3326 607,3326 601,3328 606,3341 602,3343 593,3332 589,3336 586,3341 594,3353 592,3358 582,3351 581,3358 580,3366 590,3375 591,3381 581,3380 583,3389 586,3398 596,3401 598,3407 592,3412 596,3421 602,3430 609,3427 614,3432 611,3442 617,3449 624,3455 628,3447 633,3451 635,3463 642,3467 649,3470 649,3458 654,3459 660,3472 666,3472 672,3470 668,3457 671,3455 680,3466 684,3462 688,3457 680,3445 681,3440 692,3447"/></g>
<path class="w" d="M247,3474 A130,75 60 0 0 247,3624 A130,75 60 0 0 377,3699 L383,3695 A130,75 60 0 0 383,3545 A130,75 60 0 0 253,3470 Z"/>
<path class="w" d="M377,3699A130,75 60 1 0 247,3474A130,75 60 1 0 377,3699Z"/>
<polygon class="w" points="373,3627 373,3618 362,3610 361,3603 371,3603 369,3593 365,3583 355,3581 352,3574 359,3568 353,3559 347,3550 339,3554 335,3548 337,3537 330,3530 322,3523 318,3533 313,3529 311,3515 303,3512 295,3509 296,3522 291,3522 284,3508 278,3509 272,3510 277,3524 273,3527 264,3516 259,3521 256,3527 265,3539 263,3544 252,3538 251,3546 251,3555 262,3563 263,3570 253,3570 255,3579 259,3589 269,3592 272,3598 265,3604 271,3614 277,3623 285,3619 289,3625 287,3636 294,3643 302,3649 306,3640 311,3644 313,3657 321,3661 329,3663 328,3650 333,3651 340,3665 346,3664 352,3662 347,3648 351,3646 360,3657 365,3652 368,3646 359,3634 361,3628 372,3635"/>
<polygon class="f" points="115,3618 54,3624 98,3598 160,3593"/>
<path d="M160,3593L98,3598M115,3618L160,3593M54,3624L98,3598"/>
<polygon class="f" points="177,3776 177,3695 221,3669 221,3751"/>
<path d="M221,3751L221,3669M177,3776L221,3751M177,3695L221,3669"/>
<polygon class="f" points="177,3695 115,3618 160,3593 221,3669"/>
<path d="M221,3669L160,3593M177,3695L221,3669M115,3618L160,3593"/>
<polygon class="w" points="177,3695 115,3618 54,3624 54,3705 115,3782 177,3776"/>
<path class="w" d="M65,3637 A80,46 60 0 0 65,3729 A80,46 60 0 0 145,3775 L155,3769 A80,46 60 0 0 155,3677 A80,46 60 0 0 75,3631 Z"/>
<path class="w" d="M145,3775A80,46 60 1 0 65,3637A80,46 60 1 0 145,3775Z"/>
<path d="M139,3765A68,39 60 1 0 71,3647A68,39 60 1 0 139,3765Z"/>
<path d="M136,3761A63,36 60 1 0 74,3651A63,36 60 1 0 136,3761Z"/>
<path d="M134,3756A58,33 60 1 0 76,3656A58,33 60 1 0 134,3756Z"/>
<path d="M132,3752A53,31 60 1 0 78,3660A53,31 60 1 0 132,3752Z"/>
<path d="M129,3748A48,28 60 1 0 81,3664A48,28 60 1 0 129,3748Z"/>
<path d="M2348,1065L2132,1189"/>
<path d="M804,1958L900,1902"/>
<path d="M2990,2043L2829,2133"/>
<path d="M1548,2873L1650,2814"/></svg></body></html>
